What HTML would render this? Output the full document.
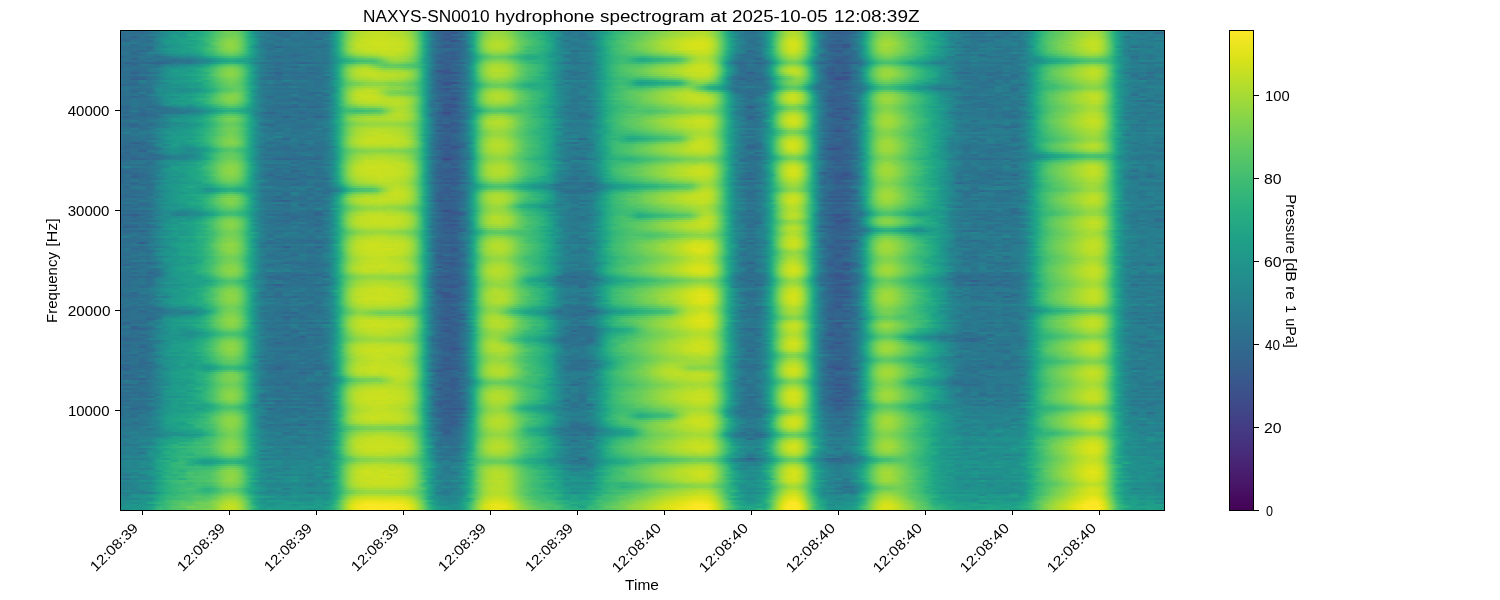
<!DOCTYPE html><html><head><meta charset="utf-8"><style>html,body{margin:0;padding:0;background:#fff;width:1500px;height:600px;overflow:hidden;position:relative}svg,canvas{display:block;position:absolute;left:0;top:0}#sp{left:120px;top:30px}</style></head><body><svg width="1500" height="600"><defs><linearGradient id="r0"><stop offset="0.05%" stop-color="#2d708e"/><stop offset="2.54%" stop-color="#2d718e"/><stop offset="5.03%" stop-color="#1f998a"/><stop offset="7.42%" stop-color="#22a785"/><stop offset="10.68%" stop-color="#75d054"/><stop offset="11.35%" stop-color="#69cd5b"/><stop offset="12.6%" stop-color="#1fa287"/><stop offset="13.55%" stop-color="#277f8e"/><stop offset="15.09%" stop-color="#2d718e"/><stop offset="19.59%" stop-color="#2b748e"/><stop offset="20.74%" stop-color="#1f9f88"/><stop offset="21.12%" stop-color="#2fb47c"/><stop offset="21.7%" stop-color="#69cd5b"/><stop offset="22.65%" stop-color="#aadc32"/><stop offset="25.05%" stop-color="#c5e021"/><stop offset="27.35%" stop-color="#aadc32"/><stop offset="28.4%" stop-color="#67cc5c"/><stop offset="29.07%" stop-color="#26ad81"/><stop offset="29.36%" stop-color="#1e9b8a"/><stop offset="30.22%" stop-color="#2e6f8e"/><stop offset="31.75%" stop-color="#365c8d"/><stop offset="33%" stop-color="#2c738e"/><stop offset="33.86%" stop-color="#20a386"/><stop offset="35.11%" stop-color="#84d44b"/><stop offset="35.87%" stop-color="#9bd93c"/><stop offset="36.83%" stop-color="#95d840"/><stop offset="38.94%" stop-color="#44bf70"/><stop offset="41.04%" stop-color="#20a486"/><stop offset="42.58%" stop-color="#277e8e"/><stop offset="44.11%" stop-color="#2b758e"/><stop offset="44.78%" stop-color="#2a788e"/><stop offset="46.41%" stop-color="#1fa287"/><stop offset="49.19%" stop-color="#56c667"/><stop offset="53.69%" stop-color="#a8db34"/><stop offset="55.6%" stop-color="#bade28"/><stop offset="56.47%" stop-color="#aadc32"/><stop offset="57.14%" stop-color="#81d34d"/><stop offset="58%" stop-color="#32b67a"/><stop offset="58.48%" stop-color="#1f9f88"/><stop offset="59.34%" stop-color="#287d8e"/><stop offset="60.68%" stop-color="#2c728e"/><stop offset="61.64%" stop-color="#25858e"/><stop offset="62.31%" stop-color="#20a486"/><stop offset="62.69%" stop-color="#37b878"/><stop offset="63.75%" stop-color="#a0da39"/><stop offset="64.32%" stop-color="#b8de29"/><stop offset="65.09%" stop-color="#a8db34"/><stop offset="66.14%" stop-color="#37b878"/><stop offset="66.52%" stop-color="#1fa088"/><stop offset="67%" stop-color="#26828e"/><stop offset="68.06%" stop-color="#31678e"/><stop offset="69.59%" stop-color="#32648e"/><stop offset="70.64%" stop-color="#29798e"/><stop offset="71.41%" stop-color="#1fa187"/><stop offset="72.08%" stop-color="#4cc26c"/><stop offset="72.84%" stop-color="#7cd250"/><stop offset="73.61%" stop-color="#89d548"/><stop offset="77.73%" stop-color="#21a685"/><stop offset="81.66%" stop-color="#2c728e"/><stop offset="86.25%" stop-color="#287c8e"/><stop offset="87.6%" stop-color="#1f9f88"/><stop offset="89.13%" stop-color="#52c569"/><stop offset="93.15%" stop-color="#addc30"/><stop offset="94.11%" stop-color="#90d743"/><stop offset="95.07%" stop-color="#38b977"/><stop offset="95.55%" stop-color="#1fa187"/><stop offset="96.89%" stop-color="#287c8e"/><stop offset="99.95%" stop-color="#2a788e"/></linearGradient><linearGradient id="r1"><stop offset="0.05%" stop-color="#2e6d8e"/><stop offset="2.73%" stop-color="#2c718e"/><stop offset="4.45%" stop-color="#1f978b"/><stop offset="7.42%" stop-color="#23a983"/><stop offset="8.57%" stop-color="#3fbc73"/><stop offset="10.01%" stop-color="#81d34d"/><stop offset="10.87%" stop-color="#8bd646"/><stop offset="11.83%" stop-color="#58c765"/><stop offset="12.4%" stop-color="#29af7f"/><stop offset="12.79%" stop-color="#1fa188"/><stop offset="13.55%" stop-color="#277f8e"/><stop offset="14.8%" stop-color="#2c738e"/><stop offset="19.4%" stop-color="#2b758e"/><stop offset="20.64%" stop-color="#1e9d89"/><stop offset="21.12%" stop-color="#34b679"/><stop offset="21.7%" stop-color="#75d054"/><stop offset="22.65%" stop-color="#b8de29"/><stop offset="25.05%" stop-color="#cde11d"/><stop offset="27.44%" stop-color="#b8de29"/><stop offset="28.4%" stop-color="#75d054"/><stop offset="28.98%" stop-color="#32b67a"/><stop offset="29.36%" stop-color="#1e9d89"/><stop offset="30.22%" stop-color="#2c718e"/><stop offset="31.75%" stop-color="#355e8d"/><stop offset="32.9%" stop-color="#2d718e"/><stop offset="33.76%" stop-color="#1f9f88"/><stop offset="34.05%" stop-color="#2eb37c"/><stop offset="34.91%" stop-color="#8bd646"/><stop offset="35.87%" stop-color="#b0dd2f"/><stop offset="36.93%" stop-color="#a8db34"/><stop offset="38.65%" stop-color="#5ac864"/><stop offset="40.95%" stop-color="#25ab82"/><stop offset="43.25%" stop-color="#29798e"/><stop offset="44.78%" stop-color="#287d8e"/><stop offset="46.02%" stop-color="#1e9d89"/><stop offset="47.94%" stop-color="#4ac16d"/><stop offset="52.16%" stop-color="#aadc32"/><stop offset="55.7%" stop-color="#d5e21a"/><stop offset="56.75%" stop-color="#b8de29"/><stop offset="58.09%" stop-color="#35b779"/><stop offset="58.67%" stop-color="#1e9d89"/><stop offset="60.2%" stop-color="#2c738e"/><stop offset="60.97%" stop-color="#2c728e"/><stop offset="61.54%" stop-color="#277e8e"/><stop offset="62.31%" stop-color="#21a685"/><stop offset="63.46%" stop-color="#a0da39"/><stop offset="64.42%" stop-color="#d2e21b"/><stop offset="65.09%" stop-color="#bddf26"/><stop offset="65.47%" stop-color="#9bd93c"/><stop offset="66.24%" stop-color="#35b779"/><stop offset="66.62%" stop-color="#1fa188"/><stop offset="67.1%" stop-color="#287d8e"/><stop offset="67.67%" stop-color="#306a8e"/><stop offset="69.49%" stop-color="#34618d"/><stop offset="70.07%" stop-color="#30698e"/><stop offset="71.31%" stop-color="#1fa287"/><stop offset="72.65%" stop-color="#89d548"/><stop offset="73.61%" stop-color="#a0da39"/><stop offset="77.73%" stop-color="#25ab82"/><stop offset="80.03%" stop-color="#26828e"/><stop offset="81.66%" stop-color="#2a778e"/><stop offset="86.25%" stop-color="#297a8e"/><stop offset="87.5%" stop-color="#1fa088"/><stop offset="89.22%" stop-color="#5ec962"/><stop offset="92.96%" stop-color="#c0df25"/><stop offset="94.01%" stop-color="#aadc32"/><stop offset="95.07%" stop-color="#3fbc73"/><stop offset="95.55%" stop-color="#21a585"/><stop offset="96.89%" stop-color="#287d8e"/><stop offset="99.95%" stop-color="#27808e"/></linearGradient><linearGradient id="r2"><stop offset="0.05%" stop-color="#2e6f8e"/><stop offset="2.63%" stop-color="#2d718e"/><stop offset="4.55%" stop-color="#20938c"/><stop offset="7.42%" stop-color="#22a785"/><stop offset="8.86%" stop-color="#44bf70"/><stop offset="9.91%" stop-color="#75d054"/><stop offset="10.78%" stop-color="#84d44b"/><stop offset="11.73%" stop-color="#58c765"/><stop offset="12.69%" stop-color="#1fa188"/><stop offset="13.55%" stop-color="#26828e"/><stop offset="14.61%" stop-color="#2c728e"/><stop offset="19.59%" stop-color="#2b748e"/><stop offset="20.74%" stop-color="#1fa088"/><stop offset="21.12%" stop-color="#32b67a"/><stop offset="21.7%" stop-color="#70cf57"/><stop offset="22.56%" stop-color="#addc30"/><stop offset="23.52%" stop-color="#c0df25"/><stop offset="25.62%" stop-color="#c8e020"/><stop offset="26.77%" stop-color="#c2df23"/><stop offset="27.73%" stop-color="#aadc32"/><stop offset="28.59%" stop-color="#5ec962"/><stop offset="29.07%" stop-color="#29af7f"/><stop offset="29.36%" stop-color="#1e9c89"/><stop offset="30.22%" stop-color="#2d708e"/><stop offset="31.94%" stop-color="#34618d"/><stop offset="33%" stop-color="#2c718e"/><stop offset="33.86%" stop-color="#1fa187"/><stop offset="34.91%" stop-color="#7fd34e"/><stop offset="35.87%" stop-color="#a2da37"/><stop offset="36.83%" stop-color="#a0da39"/><stop offset="38.84%" stop-color="#48c16e"/><stop offset="40.95%" stop-color="#23a983"/><stop offset="43.44%" stop-color="#2a788e"/><stop offset="44.97%" stop-color="#287d8e"/><stop offset="46.12%" stop-color="#1e9c89"/><stop offset="48.42%" stop-color="#52c569"/><stop offset="54.26%" stop-color="#c5e021"/><stop offset="55.8%" stop-color="#d0e11c"/><stop offset="56.75%" stop-color="#b2dd2d"/><stop offset="58.09%" stop-color="#31b57b"/><stop offset="58.57%" stop-color="#1e9d89"/><stop offset="59.34%" stop-color="#26818e"/><stop offset="60.68%" stop-color="#2d718e"/><stop offset="61.54%" stop-color="#27808e"/><stop offset="62.31%" stop-color="#22a884"/><stop offset="62.6%" stop-color="#35b779"/><stop offset="63.55%" stop-color="#a5db36"/><stop offset="64.32%" stop-color="#cde11d"/><stop offset="65.09%" stop-color="#b8de29"/><stop offset="65.85%" stop-color="#65cb5e"/><stop offset="66.33%" stop-color="#27ad81"/><stop offset="66.52%" stop-color="#1fa088"/><stop offset="67%" stop-color="#27808e"/><stop offset="67.86%" stop-color="#30698e"/><stop offset="69.2%" stop-color="#355f8d"/><stop offset="70.64%" stop-color="#297b8e"/><stop offset="71.41%" stop-color="#20a486"/><stop offset="72.75%" stop-color="#8bd646"/><stop offset="73.32%" stop-color="#9bd93c"/><stop offset="73.8%" stop-color="#98d83e"/><stop offset="76.2%" stop-color="#48c16e"/><stop offset="77.92%" stop-color="#21a685"/><stop offset="80.03%" stop-color="#27808e"/><stop offset="81.56%" stop-color="#2b758e"/><stop offset="86.25%" stop-color="#297b8e"/><stop offset="87.6%" stop-color="#1fa188"/><stop offset="89.13%" stop-color="#56c667"/><stop offset="93.15%" stop-color="#bade28"/><stop offset="94.11%" stop-color="#a0da39"/><stop offset="95.55%" stop-color="#20a386"/><stop offset="96.89%" stop-color="#287c8e"/><stop offset="99.95%" stop-color="#277e8e"/></linearGradient><linearGradient id="r3"><stop offset="0.05%" stop-color="#2f6c8e"/><stop offset="6.94%" stop-color="#25848e"/><stop offset="8.86%" stop-color="#1fa287"/><stop offset="10.49%" stop-color="#38b977"/><stop offset="12.5%" stop-color="#1e9d89"/><stop offset="14.22%" stop-color="#2b758e"/><stop offset="15.09%" stop-color="#2c718e"/><stop offset="19.59%" stop-color="#2b748e"/><stop offset="20.83%" stop-color="#1e9d89"/><stop offset="22.46%" stop-color="#58c765"/><stop offset="24.28%" stop-color="#70cf57"/><stop offset="25.72%" stop-color="#a2da37"/><stop offset="26.39%" stop-color="#aadc32"/><stop offset="28.02%" stop-color="#7fd34e"/><stop offset="28.98%" stop-color="#2ab07f"/><stop offset="29.26%" stop-color="#1fa088"/><stop offset="30.6%" stop-color="#33638d"/><stop offset="31.85%" stop-color="#355f8d"/><stop offset="33.38%" stop-color="#277e8e"/><stop offset="34.05%" stop-color="#20a386"/><stop offset="35.39%" stop-color="#69cd5b"/><stop offset="36.54%" stop-color="#75d054"/><stop offset="39.32%" stop-color="#28ae80"/><stop offset="40.66%" stop-color="#25ab82"/><stop offset="43.44%" stop-color="#2a778e"/><stop offset="44.97%" stop-color="#277f8e"/><stop offset="46.22%" stop-color="#1f9f88"/><stop offset="47.84%" stop-color="#3dbc74"/><stop offset="50.24%" stop-color="#31b57b"/><stop offset="53.21%" stop-color="#5ac864"/><stop offset="55.12%" stop-color="#addc30"/><stop offset="55.99%" stop-color="#b5de2b"/><stop offset="56.75%" stop-color="#9bd93c"/><stop offset="57.9%" stop-color="#2fb47c"/><stop offset="58.38%" stop-color="#1e9b8a"/><stop offset="59.24%" stop-color="#2a768e"/><stop offset="60.11%" stop-color="#2e6f8e"/><stop offset="61.54%" stop-color="#2a778e"/><stop offset="62.4%" stop-color="#1f9f88"/><stop offset="62.69%" stop-color="#29af7f"/><stop offset="63.36%" stop-color="#65cb5e"/><stop offset="64.32%" stop-color="#98d83e"/><stop offset="64.99%" stop-color="#8ed645"/><stop offset="66.04%" stop-color="#2eb37c"/><stop offset="66.43%" stop-color="#1e9d89"/><stop offset="67.39%" stop-color="#2d718e"/><stop offset="69.49%" stop-color="#34608d"/><stop offset="70.83%" stop-color="#2a788e"/><stop offset="71.6%" stop-color="#1fa187"/><stop offset="72.17%" stop-color="#3dbc74"/><stop offset="73.23%" stop-color="#6ccd5a"/><stop offset="73.99%" stop-color="#67cc5c"/><stop offset="76.29%" stop-color="#2db27d"/><stop offset="77.73%" stop-color="#1f9f88"/><stop offset="80.8%" stop-color="#29798e"/><stop offset="85.58%" stop-color="#2b748e"/><stop offset="88.46%" stop-color="#1fa287"/><stop offset="93.06%" stop-color="#70cf57"/><stop offset="94.11%" stop-color="#60ca60"/><stop offset="95.55%" stop-color="#1fa088"/><stop offset="97.08%" stop-color="#2a768e"/><stop offset="99.95%" stop-color="#27808e"/></linearGradient><linearGradient id="r4"><stop offset="0.05%" stop-color="#2f6c8e"/><stop offset="3.5%" stop-color="#2c728e"/><stop offset="8.09%" stop-color="#1fa188"/><stop offset="10.49%" stop-color="#5ac864"/><stop offset="11.83%" stop-color="#3aba76"/><stop offset="12.6%" stop-color="#1f9f88"/><stop offset="13.55%" stop-color="#287c8e"/><stop offset="14.99%" stop-color="#2e6e8e"/><stop offset="19.59%" stop-color="#2b748e"/><stop offset="20.83%" stop-color="#1fa088"/><stop offset="22.37%" stop-color="#77d153"/><stop offset="23.71%" stop-color="#8ed645"/><stop offset="25.24%" stop-color="#6ccd5a"/><stop offset="26.77%" stop-color="#73d056"/><stop offset="28.21%" stop-color="#56c667"/><stop offset="29.26%" stop-color="#1f9f88"/><stop offset="30.03%" stop-color="#2a768e"/><stop offset="31.08%" stop-color="#355f8d"/><stop offset="32.71%" stop-color="#2f6b8e"/><stop offset="33.76%" stop-color="#1f9e89"/><stop offset="34.05%" stop-color="#2cb17e"/><stop offset="34.53%" stop-color="#5ec962"/><stop offset="35.3%" stop-color="#98d83e"/><stop offset="36.35%" stop-color="#a8db34"/><stop offset="37.21%" stop-color="#98d83e"/><stop offset="38.84%" stop-color="#4cc26c"/><stop offset="41.14%" stop-color="#20a386"/><stop offset="42.39%" stop-color="#25848e"/><stop offset="44.11%" stop-color="#2a788e"/><stop offset="44.97%" stop-color="#287c8e"/><stop offset="46.22%" stop-color="#1f9e89"/><stop offset="48.13%" stop-color="#4ac16d"/><stop offset="49.95%" stop-color="#52c569"/><stop offset="53.21%" stop-color="#8bd646"/><stop offset="55.03%" stop-color="#c0df25"/><stop offset="55.99%" stop-color="#c5e021"/><stop offset="56.75%" stop-color="#aadc32"/><stop offset="57.9%" stop-color="#2cb17e"/><stop offset="58.19%" stop-color="#1f9e89"/><stop offset="59.43%" stop-color="#2f6c8e"/><stop offset="60.11%" stop-color="#2f6b8e"/><stop offset="61.64%" stop-color="#2c728e"/><stop offset="62.5%" stop-color="#1fa088"/><stop offset="63.27%" stop-color="#5ac864"/><stop offset="63.75%" stop-color="#81d34d"/><stop offset="64.32%" stop-color="#98d83e"/><stop offset="64.99%" stop-color="#8ed645"/><stop offset="65.66%" stop-color="#54c568"/><stop offset="66.33%" stop-color="#1f9f88"/><stop offset="67.19%" stop-color="#2c718e"/><stop offset="69.59%" stop-color="#355f8d"/><stop offset="70.93%" stop-color="#297a8e"/><stop offset="71.7%" stop-color="#20a386"/><stop offset="72.27%" stop-color="#42be71"/><stop offset="73.23%" stop-color="#6ccd5a"/><stop offset="73.99%" stop-color="#67cc5c"/><stop offset="75.34%" stop-color="#3dbc74"/><stop offset="77.06%" stop-color="#1fa187"/><stop offset="81.08%" stop-color="#2c738e"/><stop offset="86.06%" stop-color="#29798e"/><stop offset="87.88%" stop-color="#1fa088"/><stop offset="89.13%" stop-color="#3bbb75"/><stop offset="93.25%" stop-color="#95d840"/><stop offset="94.3%" stop-color="#75d054"/><stop offset="95.55%" stop-color="#20a486"/><stop offset="97.17%" stop-color="#287c8e"/><stop offset="99.95%" stop-color="#297a8e"/></linearGradient><linearGradient id="r5"><stop offset="0.05%" stop-color="#2e6e8e"/><stop offset="1.77%" stop-color="#31688e"/><stop offset="5.03%" stop-color="#1f998a"/><stop offset="7.52%" stop-color="#22a785"/><stop offset="8.38%" stop-color="#32b67a"/><stop offset="9.82%" stop-color="#77d153"/><stop offset="10.68%" stop-color="#89d548"/><stop offset="11.45%" stop-color="#70cf57"/><stop offset="12.69%" stop-color="#1fa088"/><stop offset="13.65%" stop-color="#297b8e"/><stop offset="14.99%" stop-color="#2f6b8e"/><stop offset="19.3%" stop-color="#2c728e"/><stop offset="20.74%" stop-color="#1f9e89"/><stop offset="21.02%" stop-color="#29af7f"/><stop offset="21.6%" stop-color="#67cc5c"/><stop offset="22.46%" stop-color="#a8db34"/><stop offset="23.23%" stop-color="#bddf26"/><stop offset="24.19%" stop-color="#c0df25"/><stop offset="27.44%" stop-color="#a2da37"/><stop offset="28.02%" stop-color="#89d548"/><stop offset="28.59%" stop-color="#58c765"/><stop offset="29.07%" stop-color="#27ad81"/><stop offset="29.36%" stop-color="#1e9b8a"/><stop offset="30.41%" stop-color="#32648e"/><stop offset="31.66%" stop-color="#375a8c"/><stop offset="33%" stop-color="#2c728e"/><stop offset="33.86%" stop-color="#20a486"/><stop offset="34.43%" stop-color="#58c765"/><stop offset="35.11%" stop-color="#95d840"/><stop offset="36.35%" stop-color="#b0dd2f"/><stop offset="37.31%" stop-color="#9bd93c"/><stop offset="38.84%" stop-color="#4ec36b"/><stop offset="40.85%" stop-color="#23a983"/><stop offset="43.25%" stop-color="#2b748e"/><stop offset="45.07%" stop-color="#277e8e"/><stop offset="46.12%" stop-color="#1e9c89"/><stop offset="48.42%" stop-color="#4ec36b"/><stop offset="54.65%" stop-color="#bddf26"/><stop offset="55.89%" stop-color="#c5e021"/><stop offset="56.75%" stop-color="#aadc32"/><stop offset="57.9%" stop-color="#2eb37c"/><stop offset="58.29%" stop-color="#1e9b8a"/><stop offset="59.24%" stop-color="#2c728e"/><stop offset="60.87%" stop-color="#30698e"/><stop offset="61.83%" stop-color="#287c8e"/><stop offset="62.5%" stop-color="#1fa187"/><stop offset="63.75%" stop-color="#8bd646"/><stop offset="64.8%" stop-color="#b0dd2f"/><stop offset="65.37%" stop-color="#95d840"/><stop offset="66.24%" stop-color="#2fb47c"/><stop offset="66.52%" stop-color="#1f9f88"/><stop offset="67.19%" stop-color="#2b748e"/><stop offset="67.86%" stop-color="#34608d"/><stop offset="69.49%" stop-color="#375a8c"/><stop offset="70.55%" stop-color="#2c728e"/><stop offset="71.41%" stop-color="#1fa287"/><stop offset="71.98%" stop-color="#4cc26c"/><stop offset="72.75%" stop-color="#86d549"/><stop offset="73.52%" stop-color="#9bd93c"/><stop offset="76.29%" stop-color="#40bd72"/><stop offset="77.73%" stop-color="#22a884"/><stop offset="80.8%" stop-color="#2c718e"/><stop offset="85.97%" stop-color="#2c738e"/><stop offset="87.5%" stop-color="#1e9d89"/><stop offset="89.32%" stop-color="#5ec962"/><stop offset="93.15%" stop-color="#bddf26"/><stop offset="94.01%" stop-color="#a8db34"/><stop offset="95.16%" stop-color="#34b679"/><stop offset="95.55%" stop-color="#1fa187"/><stop offset="96.98%" stop-color="#2a778e"/><stop offset="99.95%" stop-color="#29798e"/></linearGradient><linearGradient id="r6"><stop offset="0.05%" stop-color="#2d708e"/><stop offset="1.87%" stop-color="#31688e"/><stop offset="4.45%" stop-color="#218f8d"/><stop offset="7.42%" stop-color="#1fa287"/><stop offset="8.38%" stop-color="#2db27d"/><stop offset="10.49%" stop-color="#70cf57"/><stop offset="10.97%" stop-color="#70cf57"/><stop offset="12.6%" stop-color="#1fa287"/><stop offset="14.13%" stop-color="#2c728e"/><stop offset="19.3%" stop-color="#2c718e"/><stop offset="20.74%" stop-color="#1f9e89"/><stop offset="21.12%" stop-color="#2ab07f"/><stop offset="21.7%" stop-color="#5ac864"/><stop offset="22.75%" stop-color="#89d548"/><stop offset="25.14%" stop-color="#9dd93b"/><stop offset="27.44%" stop-color="#7fd34e"/><stop offset="28.5%" stop-color="#4ec36b"/><stop offset="29.26%" stop-color="#1f9f88"/><stop offset="30.32%" stop-color="#30698e"/><stop offset="31.37%" stop-color="#39568c"/><stop offset="32.9%" stop-color="#2d718e"/><stop offset="33.96%" stop-color="#1fa187"/><stop offset="35.01%" stop-color="#65cb5e"/><stop offset="35.87%" stop-color="#7fd34e"/><stop offset="36.93%" stop-color="#7ad151"/><stop offset="39.13%" stop-color="#31b57b"/><stop offset="41.33%" stop-color="#1f9e89"/><stop offset="42.48%" stop-color="#26828e"/><stop offset="44.01%" stop-color="#297b8e"/><stop offset="44.97%" stop-color="#277e8e"/><stop offset="46.31%" stop-color="#1fa187"/><stop offset="47.84%" stop-color="#3bbb75"/><stop offset="49.86%" stop-color="#23a983"/><stop offset="51.1%" stop-color="#2ab07f"/><stop offset="53.59%" stop-color="#46c06f"/><stop offset="54.74%" stop-color="#84d44b"/><stop offset="55.6%" stop-color="#8ed645"/><stop offset="56.94%" stop-color="#5cc863"/><stop offset="58%" stop-color="#1f9f88"/><stop offset="59.05%" stop-color="#2c718e"/><stop offset="61.54%" stop-color="#2e6d8e"/><stop offset="62.79%" stop-color="#21a685"/><stop offset="63.75%" stop-color="#5ec962"/><stop offset="64.8%" stop-color="#81d34d"/><stop offset="65.28%" stop-color="#70cf57"/><stop offset="66.33%" stop-color="#1fa287"/><stop offset="67.19%" stop-color="#2c738e"/><stop offset="68.82%" stop-color="#375a8c"/><stop offset="70.64%" stop-color="#2b758e"/><stop offset="71.6%" stop-color="#1fa187"/><stop offset="72.46%" stop-color="#50c46a"/><stop offset="73.23%" stop-color="#6ccd5a"/><stop offset="73.9%" stop-color="#69cd5b"/><stop offset="76.87%" stop-color="#22a884"/><stop offset="81.66%" stop-color="#2b748e"/><stop offset="86.25%" stop-color="#2a788e"/><stop offset="87.5%" stop-color="#1e9b8a"/><stop offset="88.94%" stop-color="#46c06f"/><stop offset="92.39%" stop-color="#95d840"/><stop offset="93.44%" stop-color="#a0da39"/><stop offset="94.01%" stop-color="#8ed645"/><stop offset="95.45%" stop-color="#21a585"/><stop offset="96.89%" stop-color="#26818e"/><stop offset="99.95%" stop-color="#29798e"/></linearGradient><linearGradient id="r7"><stop offset="0.05%" stop-color="#2e6e8e"/><stop offset="2.73%" stop-color="#2d718e"/><stop offset="4.17%" stop-color="#20928c"/><stop offset="7.9%" stop-color="#1fa187"/><stop offset="10.97%" stop-color="#69cd5b"/><stop offset="11.93%" stop-color="#48c16e"/><stop offset="12.69%" stop-color="#1fa188"/><stop offset="14.13%" stop-color="#2b758e"/><stop offset="19.4%" stop-color="#2b748e"/><stop offset="20.74%" stop-color="#1e9c89"/><stop offset="21.02%" stop-color="#27ad81"/><stop offset="22.27%" stop-color="#95d840"/><stop offset="23.04%" stop-color="#b0dd2f"/><stop offset="24.19%" stop-color="#b5de2b"/><stop offset="26.01%" stop-color="#84d44b"/><stop offset="26.87%" stop-color="#81d34d"/><stop offset="28.02%" stop-color="#65cb5e"/><stop offset="29.26%" stop-color="#1f9f88"/><stop offset="30.41%" stop-color="#31688e"/><stop offset="31.94%" stop-color="#34608d"/><stop offset="33.09%" stop-color="#2a778e"/><stop offset="33.86%" stop-color="#1fa188"/><stop offset="35.01%" stop-color="#73d056"/><stop offset="36.06%" stop-color="#90d743"/><stop offset="37.12%" stop-color="#84d44b"/><stop offset="38.94%" stop-color="#3bbb75"/><stop offset="40.95%" stop-color="#22a785"/><stop offset="42.39%" stop-color="#25848e"/><stop offset="43.63%" stop-color="#29798e"/><stop offset="45.07%" stop-color="#26818e"/><stop offset="46.22%" stop-color="#1fa088"/><stop offset="48.13%" stop-color="#48c16e"/><stop offset="50.24%" stop-color="#54c568"/><stop offset="54.17%" stop-color="#9bd93c"/><stop offset="54.74%" stop-color="#98d83e"/><stop offset="56.56%" stop-color="#44bf70"/><stop offset="58%" stop-color="#1e9d89"/><stop offset="59.15%" stop-color="#2c718e"/><stop offset="61.73%" stop-color="#2b748e"/><stop offset="62.79%" stop-color="#22a884"/><stop offset="63.75%" stop-color="#69cd5b"/><stop offset="64.32%" stop-color="#7fd34e"/><stop offset="65.09%" stop-color="#6ece58"/><stop offset="66.14%" stop-color="#1fa187"/><stop offset="66.91%" stop-color="#2a788e"/><stop offset="68.82%" stop-color="#355f8d"/><stop offset="70.93%" stop-color="#2b758e"/><stop offset="71.79%" stop-color="#1fa088"/><stop offset="72.56%" stop-color="#40bd72"/><stop offset="73.42%" stop-color="#58c765"/><stop offset="76.39%" stop-color="#20a386"/><stop offset="80.8%" stop-color="#2b758e"/><stop offset="84.63%" stop-color="#277e8e"/><stop offset="85.97%" stop-color="#2c728e"/><stop offset="87.6%" stop-color="#1f9f88"/><stop offset="88.55%" stop-color="#3aba76"/><stop offset="93.06%" stop-color="#9dd93b"/><stop offset="93.92%" stop-color="#90d743"/><stop offset="95.16%" stop-color="#2fb47c"/><stop offset="95.55%" stop-color="#1fa187"/><stop offset="96.98%" stop-color="#287c8e"/><stop offset="99.95%" stop-color="#277f8e"/></linearGradient><linearGradient id="r8"><stop offset="0.05%" stop-color="#2e6d8e"/><stop offset="2.63%" stop-color="#2d708e"/><stop offset="4.45%" stop-color="#20928c"/><stop offset="7.23%" stop-color="#20a486"/><stop offset="8.29%" stop-color="#2fb47c"/><stop offset="9.91%" stop-color="#75d054"/><stop offset="10.87%" stop-color="#84d44b"/><stop offset="11.93%" stop-color="#50c46a"/><stop offset="12.69%" stop-color="#1f9f88"/><stop offset="13.36%" stop-color="#26828e"/><stop offset="14.32%" stop-color="#2c738e"/><stop offset="17.96%" stop-color="#2d708e"/><stop offset="19.68%" stop-color="#2c728e"/><stop offset="20.74%" stop-color="#1fa188"/><stop offset="21.12%" stop-color="#34b679"/><stop offset="21.6%" stop-color="#69cd5b"/><stop offset="22.37%" stop-color="#aadc32"/><stop offset="22.94%" stop-color="#c0df25"/><stop offset="23.99%" stop-color="#c8e020"/><stop offset="27.54%" stop-color="#95d840"/><stop offset="28.5%" stop-color="#5ec962"/><stop offset="29.07%" stop-color="#28ae80"/><stop offset="29.36%" stop-color="#1e9c89"/><stop offset="30.22%" stop-color="#2e6e8e"/><stop offset="31.94%" stop-color="#375a8c"/><stop offset="33.09%" stop-color="#2b758e"/><stop offset="33.76%" stop-color="#1fa088"/><stop offset="34.15%" stop-color="#37b878"/><stop offset="35.01%" stop-color="#90d743"/><stop offset="36.06%" stop-color="#b0dd2f"/><stop offset="37.31%" stop-color="#9dd93b"/><stop offset="38.65%" stop-color="#58c765"/><stop offset="41.14%" stop-color="#20a486"/><stop offset="43.53%" stop-color="#2a778e"/><stop offset="44.78%" stop-color="#297a8e"/><stop offset="46.22%" stop-color="#1f9e89"/><stop offset="47.08%" stop-color="#34b679"/><stop offset="48.8%" stop-color="#58c765"/><stop offset="52.44%" stop-color="#a0da39"/><stop offset="55.51%" stop-color="#c0df25"/><stop offset="56.85%" stop-color="#9dd93b"/><stop offset="57.9%" stop-color="#3bbb75"/><stop offset="58.38%" stop-color="#20a386"/><stop offset="59.24%" stop-color="#277f8e"/><stop offset="60.39%" stop-color="#2e6f8e"/><stop offset="61.73%" stop-color="#25838e"/><stop offset="62.21%" stop-color="#1e9c89"/><stop offset="62.6%" stop-color="#2fb47c"/><stop offset="63.75%" stop-color="#b0dd2f"/><stop offset="64.61%" stop-color="#c8e020"/><stop offset="65.18%" stop-color="#addc30"/><stop offset="66.14%" stop-color="#38b977"/><stop offset="66.52%" stop-color="#1fa088"/><stop offset="67.1%" stop-color="#297b8e"/><stop offset="67.96%" stop-color="#34608d"/><stop offset="69.68%" stop-color="#34618d"/><stop offset="70.64%" stop-color="#2b758e"/><stop offset="71.41%" stop-color="#20a386"/><stop offset="71.7%" stop-color="#2db27d"/><stop offset="72.65%" stop-color="#84d44b"/><stop offset="73.23%" stop-color="#98d83e"/><stop offset="73.99%" stop-color="#93d741"/><stop offset="76.2%" stop-color="#42be71"/><stop offset="78.02%" stop-color="#20a386"/><stop offset="81.08%" stop-color="#2b748e"/><stop offset="86.25%" stop-color="#29798e"/><stop offset="87.5%" stop-color="#1fa188"/><stop offset="89.13%" stop-color="#5ac864"/><stop offset="93.15%" stop-color="#c0df25"/><stop offset="94.01%" stop-color="#aadc32"/><stop offset="95.16%" stop-color="#35b779"/><stop offset="95.55%" stop-color="#20a486"/><stop offset="96.98%" stop-color="#29798e"/><stop offset="99.95%" stop-color="#2a788e"/></linearGradient><linearGradient id="r9"><stop offset="0.05%" stop-color="#2e6f8e"/><stop offset="3.5%" stop-color="#2c728e"/><stop offset="7.9%" stop-color="#1fa088"/><stop offset="10.58%" stop-color="#56c667"/><stop offset="11.73%" stop-color="#3bbb75"/><stop offset="12.5%" stop-color="#1fa088"/><stop offset="13.84%" stop-color="#2a788e"/><stop offset="14.99%" stop-color="#2d718e"/><stop offset="19.3%" stop-color="#2d718e"/><stop offset="20.74%" stop-color="#1e9d89"/><stop offset="21.6%" stop-color="#50c46a"/><stop offset="22.84%" stop-color="#7fd34e"/><stop offset="24.86%" stop-color="#90d743"/><stop offset="26.77%" stop-color="#b5de2b"/><stop offset="27.92%" stop-color="#90d743"/><stop offset="28.98%" stop-color="#2eb37c"/><stop offset="29.36%" stop-color="#1e9c89"/><stop offset="30.22%" stop-color="#30698e"/><stop offset="31.75%" stop-color="#38588c"/><stop offset="32.52%" stop-color="#33638d"/><stop offset="33.96%" stop-color="#1fa287"/><stop offset="35.2%" stop-color="#6ece58"/><stop offset="35.97%" stop-color="#7fd34e"/><stop offset="40.95%" stop-color="#20a486"/><stop offset="43.53%" stop-color="#2a768e"/><stop offset="45.07%" stop-color="#277f8e"/><stop offset="46.31%" stop-color="#1fa188"/><stop offset="48.42%" stop-color="#46c06f"/><stop offset="55.41%" stop-color="#a2da37"/><stop offset="56.56%" stop-color="#98d83e"/><stop offset="58.09%" stop-color="#2ab07f"/><stop offset="58.48%" stop-color="#1fa088"/><stop offset="59.34%" stop-color="#277e8e"/><stop offset="60.78%" stop-color="#2f6c8e"/><stop offset="61.83%" stop-color="#25858e"/><stop offset="62.5%" stop-color="#21a685"/><stop offset="64.03%" stop-color="#86d549"/><stop offset="64.7%" stop-color="#8ed645"/><stop offset="65.57%" stop-color="#5cc863"/><stop offset="66.43%" stop-color="#20a386"/><stop offset="67.29%" stop-color="#2a788e"/><stop offset="68.63%" stop-color="#355e8d"/><stop offset="70.35%" stop-color="#2e6e8e"/><stop offset="71.41%" stop-color="#1fa287"/><stop offset="72.27%" stop-color="#5cc863"/><stop offset="73.13%" stop-color="#89d548"/><stop offset="73.8%" stop-color="#89d548"/><stop offset="75.81%" stop-color="#48c16e"/><stop offset="77.73%" stop-color="#22a785"/><stop offset="81.66%" stop-color="#2b748e"/><stop offset="86.06%" stop-color="#2a788e"/><stop offset="87.5%" stop-color="#1e9d89"/><stop offset="88.94%" stop-color="#4ec36b"/><stop offset="93.15%" stop-color="#addc30"/><stop offset="94.01%" stop-color="#98d83e"/><stop offset="94.97%" stop-color="#40bd72"/><stop offset="95.55%" stop-color="#20a386"/><stop offset="96.89%" stop-color="#277e8e"/><stop offset="99.95%" stop-color="#287c8e"/></linearGradient><linearGradient id="r10"><stop offset="0.05%" stop-color="#2e6f8e"/><stop offset="3.3%" stop-color="#2e6e8e"/><stop offset="8.38%" stop-color="#1fa088"/><stop offset="10.49%" stop-color="#48c16e"/><stop offset="12.5%" stop-color="#1fa188"/><stop offset="13.36%" stop-color="#277e8e"/><stop offset="14.51%" stop-color="#2e6e8e"/><stop offset="19.3%" stop-color="#2e6f8e"/><stop offset="20.16%" stop-color="#27808e"/><stop offset="20.74%" stop-color="#1e9d89"/><stop offset="21.98%" stop-color="#5ac864"/><stop offset="24.76%" stop-color="#75d054"/><stop offset="26.01%" stop-color="#a8db34"/><stop offset="26.96%" stop-color="#b5de2b"/><stop offset="28.02%" stop-color="#8ed645"/><stop offset="28.98%" stop-color="#2db27d"/><stop offset="29.26%" stop-color="#1fa088"/><stop offset="30.22%" stop-color="#2f6b8e"/><stop offset="31.75%" stop-color="#39568c"/><stop offset="33.09%" stop-color="#2b748e"/><stop offset="33.96%" stop-color="#1f9f88"/><stop offset="35.3%" stop-color="#69cd5b"/><stop offset="36.06%" stop-color="#77d153"/><stop offset="40.85%" stop-color="#21a685"/><stop offset="43.25%" stop-color="#2a778e"/><stop offset="44.78%" stop-color="#2a778e"/><stop offset="46.31%" stop-color="#1fa088"/><stop offset="48.42%" stop-color="#4ac16d"/><stop offset="50.91%" stop-color="#5cc863"/><stop offset="55.51%" stop-color="#9dd93b"/><stop offset="56.75%" stop-color="#89d548"/><stop offset="58.38%" stop-color="#20a386"/><stop offset="59.34%" stop-color="#2a788e"/><stop offset="60.49%" stop-color="#2f6b8e"/><stop offset="61.73%" stop-color="#277f8e"/><stop offset="62.31%" stop-color="#1f9e89"/><stop offset="62.6%" stop-color="#2ab07f"/><stop offset="63.75%" stop-color="#9bd93c"/><stop offset="64.51%" stop-color="#b2dd2d"/><stop offset="65.09%" stop-color="#a0da39"/><stop offset="66.24%" stop-color="#2cb17e"/><stop offset="66.62%" stop-color="#1e9c89"/><stop offset="67.86%" stop-color="#32648e"/><stop offset="69.3%" stop-color="#355e8d"/><stop offset="70.55%" stop-color="#2d718e"/><stop offset="71.41%" stop-color="#1fa188"/><stop offset="72.56%" stop-color="#77d153"/><stop offset="73.42%" stop-color="#95d840"/><stop offset="77.63%" stop-color="#23a983"/><stop offset="80.03%" stop-color="#297b8e"/><stop offset="84.72%" stop-color="#2d708e"/><stop offset="86.16%" stop-color="#2c738e"/><stop offset="87.5%" stop-color="#1e9b8a"/><stop offset="89.32%" stop-color="#5cc863"/><stop offset="92.58%" stop-color="#b0dd2f"/><stop offset="93.44%" stop-color="#b5de2b"/><stop offset="94.01%" stop-color="#a0da39"/><stop offset="95.45%" stop-color="#21a685"/><stop offset="96.79%" stop-color="#287c8e"/><stop offset="99.95%" stop-color="#29798e"/></linearGradient><linearGradient id="r11"><stop offset="0.05%" stop-color="#2c718e"/><stop offset="2.63%" stop-color="#2d718e"/><stop offset="7.61%" stop-color="#1fa187"/><stop offset="8.67%" stop-color="#32b67a"/><stop offset="9.91%" stop-color="#63cb5f"/><stop offset="10.87%" stop-color="#6ece58"/><stop offset="12.6%" stop-color="#20a386"/><stop offset="13.46%" stop-color="#277e8e"/><stop offset="14.13%" stop-color="#2c738e"/><stop offset="19.59%" stop-color="#29798e"/><stop offset="20.64%" stop-color="#1e9d89"/><stop offset="21.12%" stop-color="#2db27d"/><stop offset="21.89%" stop-color="#6ccd5a"/><stop offset="22.56%" stop-color="#8ed645"/><stop offset="23.52%" stop-color="#9dd93b"/><stop offset="26.58%" stop-color="#a2da37"/><stop offset="27.83%" stop-color="#89d548"/><stop offset="28.59%" stop-color="#54c568"/><stop offset="29.26%" stop-color="#20a386"/><stop offset="30.32%" stop-color="#306a8e"/><stop offset="30.99%" stop-color="#365d8d"/><stop offset="32.52%" stop-color="#31668e"/><stop offset="33.67%" stop-color="#1e9b8a"/><stop offset="34.15%" stop-color="#37b878"/><stop offset="35.2%" stop-color="#a0da39"/><stop offset="36.54%" stop-color="#b0dd2f"/><stop offset="37.5%" stop-color="#93d741"/><stop offset="38.84%" stop-color="#52c569"/><stop offset="40.95%" stop-color="#24aa83"/><stop offset="43.44%" stop-color="#297a8e"/><stop offset="44.78%" stop-color="#287d8e"/><stop offset="46.12%" stop-color="#1f9e89"/><stop offset="47.94%" stop-color="#4ac16d"/><stop offset="52.06%" stop-color="#9bd93c"/><stop offset="54.55%" stop-color="#c0df25"/><stop offset="56.08%" stop-color="#c5e021"/><stop offset="56.94%" stop-color="#a2da37"/><stop offset="57.81%" stop-color="#4ac16d"/><stop offset="58.38%" stop-color="#22a785"/><stop offset="59.34%" stop-color="#26818e"/><stop offset="60.3%" stop-color="#2c718e"/><stop offset="61.35%" stop-color="#29798e"/><stop offset="62.21%" stop-color="#1fa088"/><stop offset="62.6%" stop-color="#35b779"/><stop offset="63.65%" stop-color="#b0dd2f"/><stop offset="64.51%" stop-color="#d0e11c"/><stop offset="65.28%" stop-color="#addc30"/><stop offset="66.24%" stop-color="#34b679"/><stop offset="66.62%" stop-color="#1e9c89"/><stop offset="67.48%" stop-color="#2e6e8e"/><stop offset="69.4%" stop-color="#34608d"/><stop offset="70.55%" stop-color="#2b748e"/><stop offset="71.31%" stop-color="#1fa088"/><stop offset="71.6%" stop-color="#2cb17e"/><stop offset="72.65%" stop-color="#8bd646"/><stop offset="73.32%" stop-color="#a2da37"/><stop offset="74.28%" stop-color="#93d741"/><stop offset="76.29%" stop-color="#48c16e"/><stop offset="77.83%" stop-color="#22a884"/><stop offset="80.12%" stop-color="#277f8e"/><stop offset="81.66%" stop-color="#2a778e"/><stop offset="86.06%" stop-color="#2a788e"/><stop offset="87.5%" stop-color="#1fa088"/><stop offset="89.22%" stop-color="#60ca60"/><stop offset="93.06%" stop-color="#c2df23"/><stop offset="93.92%" stop-color="#b5de2b"/><stop offset="94.3%" stop-color="#98d83e"/><stop offset="95.07%" stop-color="#3dbc74"/><stop offset="95.55%" stop-color="#20a486"/><stop offset="96.89%" stop-color="#277e8e"/><stop offset="99.95%" stop-color="#287c8e"/></linearGradient><linearGradient id="r12"><stop offset="0.05%" stop-color="#2d708e"/><stop offset="2.63%" stop-color="#2b748e"/><stop offset="7.23%" stop-color="#1fa188"/><stop offset="8.29%" stop-color="#2cb17e"/><stop offset="9.91%" stop-color="#65cb5e"/><stop offset="10.87%" stop-color="#70cf57"/><stop offset="11.73%" stop-color="#4ec36b"/><stop offset="12.6%" stop-color="#1fa287"/><stop offset="14.32%" stop-color="#2b758e"/><stop offset="19.59%" stop-color="#2a788e"/><stop offset="20.74%" stop-color="#1f9f88"/><stop offset="21.02%" stop-color="#27ad81"/><stop offset="21.6%" stop-color="#58c765"/><stop offset="22.56%" stop-color="#9bd93c"/><stop offset="23.52%" stop-color="#b0dd2f"/><stop offset="25.34%" stop-color="#b5de2b"/><stop offset="27.44%" stop-color="#9dd93b"/><stop offset="28.5%" stop-color="#5cc863"/><stop offset="28.98%" stop-color="#2eb37c"/><stop offset="29.36%" stop-color="#1e9d89"/><stop offset="30.51%" stop-color="#30698e"/><stop offset="31.94%" stop-color="#365d8d"/><stop offset="33.09%" stop-color="#2a788e"/><stop offset="33.86%" stop-color="#21a585"/><stop offset="35.11%" stop-color="#89d548"/><stop offset="35.87%" stop-color="#a0da39"/><stop offset="36.93%" stop-color="#98d83e"/><stop offset="38.55%" stop-color="#54c568"/><stop offset="40.95%" stop-color="#22a785"/><stop offset="43.44%" stop-color="#297b8e"/><stop offset="44.97%" stop-color="#26828e"/><stop offset="46.12%" stop-color="#1f9e89"/><stop offset="47.84%" stop-color="#3fbc73"/><stop offset="55.89%" stop-color="#b5de2b"/><stop offset="56.85%" stop-color="#98d83e"/><stop offset="58.09%" stop-color="#2db27d"/><stop offset="58.57%" stop-color="#1e9d89"/><stop offset="59.72%" stop-color="#287c8e"/><stop offset="60.68%" stop-color="#2b748e"/><stop offset="61.73%" stop-color="#25858e"/><stop offset="62.4%" stop-color="#20a386"/><stop offset="63.75%" stop-color="#7cd250"/><stop offset="64.42%" stop-color="#93d741"/><stop offset="65.18%" stop-color="#7cd250"/><stop offset="66.43%" stop-color="#20a386"/><stop offset="67.29%" stop-color="#2a768e"/><stop offset="68.82%" stop-color="#365c8d"/><stop offset="70.35%" stop-color="#2c728e"/><stop offset="71.41%" stop-color="#20a486"/><stop offset="72.46%" stop-color="#6ece58"/><stop offset="73.13%" stop-color="#8bd646"/><stop offset="73.8%" stop-color="#8bd646"/><stop offset="76.29%" stop-color="#3fbc73"/><stop offset="77.73%" stop-color="#23a983"/><stop offset="80.12%" stop-color="#27808e"/><stop offset="82.42%" stop-color="#2a778e"/><stop offset="85.97%" stop-color="#2a778e"/><stop offset="87.5%" stop-color="#1fa088"/><stop offset="89.13%" stop-color="#52c569"/><stop offset="93.15%" stop-color="#b0dd2f"/><stop offset="93.92%" stop-color="#a0da39"/><stop offset="95.16%" stop-color="#34b679"/><stop offset="95.55%" stop-color="#20a486"/><stop offset="96.98%" stop-color="#277f8e"/><stop offset="99.95%" stop-color="#27808e"/></linearGradient><linearGradient id="r13"><stop offset="0.05%" stop-color="#2d708e"/><stop offset="2.73%" stop-color="#2c738e"/><stop offset="5.03%" stop-color="#1f998a"/><stop offset="7.23%" stop-color="#20a486"/><stop offset="8.38%" stop-color="#35b779"/><stop offset="10.39%" stop-color="#7cd250"/><stop offset="10.87%" stop-color="#7cd250"/><stop offset="11.73%" stop-color="#54c568"/><stop offset="12.6%" stop-color="#1fa187"/><stop offset="13.36%" stop-color="#25838e"/><stop offset="15.76%" stop-color="#2c718e"/><stop offset="19.59%" stop-color="#29798e"/><stop offset="20.74%" stop-color="#1fa088"/><stop offset="21.12%" stop-color="#31b57b"/><stop offset="21.6%" stop-color="#63cb5f"/><stop offset="22.46%" stop-color="#a5db36"/><stop offset="23.52%" stop-color="#c0df25"/><stop offset="25.05%" stop-color="#c5e021"/><stop offset="27.54%" stop-color="#aadc32"/><stop offset="28.5%" stop-color="#60ca60"/><stop offset="28.98%" stop-color="#2cb17e"/><stop offset="29.26%" stop-color="#1f9f88"/><stop offset="30.41%" stop-color="#306a8e"/><stop offset="31.75%" stop-color="#365d8d"/><stop offset="33%" stop-color="#2a788e"/><stop offset="33.86%" stop-color="#20a486"/><stop offset="35.01%" stop-color="#84d44b"/><stop offset="36.06%" stop-color="#a5db36"/><stop offset="37.12%" stop-color="#95d840"/><stop offset="38.84%" stop-color="#4cc26c"/><stop offset="40.95%" stop-color="#21a685"/><stop offset="42.48%" stop-color="#25838e"/><stop offset="44.4%" stop-color="#2a768e"/><stop offset="46.22%" stop-color="#1f9f88"/><stop offset="47.08%" stop-color="#2fb47c"/><stop offset="49.09%" stop-color="#28ae80"/><stop offset="53.4%" stop-color="#5ec962"/><stop offset="54.74%" stop-color="#a0da39"/><stop offset="55.6%" stop-color="#b8de29"/><stop offset="56.47%" stop-color="#b0dd2f"/><stop offset="57.04%" stop-color="#8bd646"/><stop offset="58%" stop-color="#31b57b"/><stop offset="58.48%" stop-color="#1f9e89"/><stop offset="59.72%" stop-color="#2a788e"/><stop offset="60.68%" stop-color="#2c738e"/><stop offset="61.64%" stop-color="#25848e"/><stop offset="62.31%" stop-color="#21a585"/><stop offset="62.6%" stop-color="#2db27d"/><stop offset="63.75%" stop-color="#98d83e"/><stop offset="64.42%" stop-color="#b0dd2f"/><stop offset="64.99%" stop-color="#a2da37"/><stop offset="65.76%" stop-color="#60ca60"/><stop offset="66.33%" stop-color="#25ac82"/><stop offset="66.62%" stop-color="#1f9a8a"/><stop offset="67.96%" stop-color="#31668e"/><stop offset="69.49%" stop-color="#33628d"/><stop offset="70.64%" stop-color="#2a788e"/><stop offset="71.41%" stop-color="#20a486"/><stop offset="72.56%" stop-color="#77d153"/><stop offset="73.61%" stop-color="#93d741"/><stop offset="76.48%" stop-color="#3bbb75"/><stop offset="78.11%" stop-color="#20a486"/><stop offset="80.03%" stop-color="#27808e"/><stop offset="85.49%" stop-color="#2c728e"/><stop offset="86.16%" stop-color="#2b758e"/><stop offset="87.5%" stop-color="#1e9d89"/><stop offset="89.03%" stop-color="#40bd72"/><stop offset="92.96%" stop-color="#9bd93c"/><stop offset="94.01%" stop-color="#89d548"/><stop offset="95.16%" stop-color="#2db27d"/><stop offset="95.55%" stop-color="#1fa287"/><stop offset="96.89%" stop-color="#287d8e"/><stop offset="99.95%" stop-color="#297b8e"/></linearGradient><linearGradient id="r14"><stop offset="0.05%" stop-color="#2f6c8e"/><stop offset="2.63%" stop-color="#2f6b8e"/><stop offset="5.03%" stop-color="#1f988b"/><stop offset="6.47%" stop-color="#20938c"/><stop offset="8.09%" stop-color="#22a785"/><stop offset="10.3%" stop-color="#6ece58"/><stop offset="11.25%" stop-color="#65cb5e"/><stop offset="12.6%" stop-color="#1fa188"/><stop offset="14.13%" stop-color="#2c738e"/><stop offset="19.4%" stop-color="#2c728e"/><stop offset="20.74%" stop-color="#1e9d89"/><stop offset="21.02%" stop-color="#27ad81"/><stop offset="21.5%" stop-color="#54c568"/><stop offset="22.46%" stop-color="#98d83e"/><stop offset="23.61%" stop-color="#b0dd2f"/><stop offset="25.43%" stop-color="#b0dd2f"/><stop offset="27.06%" stop-color="#a8db34"/><stop offset="27.73%" stop-color="#95d840"/><stop offset="28.5%" stop-color="#60ca60"/><stop offset="29.26%" stop-color="#1fa287"/><stop offset="30.03%" stop-color="#2c728e"/><stop offset="30.99%" stop-color="#365c8d"/><stop offset="32.71%" stop-color="#31668e"/><stop offset="33.76%" stop-color="#1e9d89"/><stop offset="34.05%" stop-color="#2cb17e"/><stop offset="35.01%" stop-color="#95d840"/><stop offset="35.78%" stop-color="#b2dd2d"/><stop offset="36.35%" stop-color="#b5de2b"/><stop offset="37.31%" stop-color="#a0da39"/><stop offset="38.94%" stop-color="#50c46a"/><stop offset="40.95%" stop-color="#22a884"/><stop offset="42.48%" stop-color="#277f8e"/><stop offset="43.73%" stop-color="#2b748e"/><stop offset="45.16%" stop-color="#287d8e"/><stop offset="46.12%" stop-color="#1f9e89"/><stop offset="47.84%" stop-color="#44bf70"/><stop offset="48.99%" stop-color="#4ac16d"/><stop offset="53.5%" stop-color="#9bd93c"/><stop offset="54.93%" stop-color="#c2df23"/><stop offset="55.99%" stop-color="#c8e020"/><stop offset="56.75%" stop-color="#b0dd2f"/><stop offset="57.81%" stop-color="#48c16e"/><stop offset="58.38%" stop-color="#21a585"/><stop offset="60.2%" stop-color="#2f6b8e"/><stop offset="61.35%" stop-color="#2c718e"/><stop offset="62.21%" stop-color="#1f9f88"/><stop offset="62.5%" stop-color="#2db27d"/><stop offset="63.65%" stop-color="#b0dd2f"/><stop offset="64.03%" stop-color="#cae11f"/><stop offset="64.7%" stop-color="#d2e21b"/><stop offset="65.09%" stop-color="#bddf26"/><stop offset="65.66%" stop-color="#84d44b"/><stop offset="66.33%" stop-color="#2ab07f"/><stop offset="66.62%" stop-color="#1e9d89"/><stop offset="67.29%" stop-color="#2d718e"/><stop offset="68.53%" stop-color="#375a8c"/><stop offset="70.35%" stop-color="#2f6c8e"/><stop offset="71.31%" stop-color="#1fa088"/><stop offset="71.7%" stop-color="#2fb47c"/><stop offset="72.56%" stop-color="#84d44b"/><stop offset="73.23%" stop-color="#a0da39"/><stop offset="73.99%" stop-color="#9bd93c"/><stop offset="76.01%" stop-color="#4cc26c"/><stop offset="77.92%" stop-color="#21a585"/><stop offset="80.03%" stop-color="#2a778e"/><stop offset="81.18%" stop-color="#2c728e"/><stop offset="86.25%" stop-color="#29798e"/><stop offset="87.6%" stop-color="#1f9e89"/><stop offset="89.13%" stop-color="#4ec36b"/><stop offset="93.15%" stop-color="#b0dd2f"/><stop offset="94.11%" stop-color="#95d840"/><stop offset="95.16%" stop-color="#32b67a"/><stop offset="95.55%" stop-color="#1fa188"/><stop offset="96.89%" stop-color="#287d8e"/><stop offset="99.95%" stop-color="#2a788e"/></linearGradient><linearGradient id="r15"><stop offset="0.05%" stop-color="#2e6d8e"/><stop offset="3.21%" stop-color="#2d718e"/><stop offset="5.03%" stop-color="#238a8d"/><stop offset="7.14%" stop-color="#228b8d"/><stop offset="8.09%" stop-color="#1fa188"/><stop offset="10.58%" stop-color="#63cb5f"/><stop offset="11.16%" stop-color="#5ac864"/><stop offset="12.5%" stop-color="#20a386"/><stop offset="14.13%" stop-color="#2c728e"/><stop offset="19.4%" stop-color="#2c718e"/><stop offset="20.83%" stop-color="#1f9f88"/><stop offset="21.6%" stop-color="#4ec36b"/><stop offset="22.75%" stop-color="#8bd646"/><stop offset="25.43%" stop-color="#9dd93b"/><stop offset="27.63%" stop-color="#81d34d"/><stop offset="28.4%" stop-color="#5ac864"/><stop offset="29.26%" stop-color="#1fa187"/><stop offset="30.12%" stop-color="#2d708e"/><stop offset="31.18%" stop-color="#375b8d"/><stop offset="32.42%" stop-color="#32648e"/><stop offset="33.38%" stop-color="#277e8e"/><stop offset="33.86%" stop-color="#1fa088"/><stop offset="34.53%" stop-color="#5cc863"/><stop offset="35.3%" stop-color="#93d741"/><stop offset="36.45%" stop-color="#a2da37"/><stop offset="37.21%" stop-color="#93d741"/><stop offset="38.65%" stop-color="#52c569"/><stop offset="41.04%" stop-color="#20a486"/><stop offset="43.25%" stop-color="#29798e"/><stop offset="44.78%" stop-color="#287d8e"/><stop offset="46.22%" stop-color="#1e9d89"/><stop offset="47.84%" stop-color="#3dbc74"/><stop offset="54.45%" stop-color="#a2da37"/><stop offset="55.89%" stop-color="#aadc32"/><stop offset="56.66%" stop-color="#98d83e"/><stop offset="58.09%" stop-color="#2db27d"/><stop offset="58.57%" stop-color="#1e9d89"/><stop offset="59.34%" stop-color="#287c8e"/><stop offset="60.97%" stop-color="#2c718e"/><stop offset="61.73%" stop-color="#27808e"/><stop offset="62.4%" stop-color="#1fa187"/><stop offset="63.75%" stop-color="#8bd646"/><stop offset="64.42%" stop-color="#a0da39"/><stop offset="65.09%" stop-color="#90d743"/><stop offset="66.14%" stop-color="#31b57b"/><stop offset="66.52%" stop-color="#1fa088"/><stop offset="67.48%" stop-color="#2f6c8e"/><stop offset="69.3%" stop-color="#355f8d"/><stop offset="70.55%" stop-color="#2c738e"/><stop offset="71.41%" stop-color="#20a386"/><stop offset="72.56%" stop-color="#75d054"/><stop offset="73.32%" stop-color="#90d743"/><stop offset="74.47%" stop-color="#7cd250"/><stop offset="76.1%" stop-color="#42be71"/><stop offset="78.11%" stop-color="#1fa188"/><stop offset="80.99%" stop-color="#2b748e"/><stop offset="85.39%" stop-color="#2a778e"/><stop offset="88.84%" stop-color="#21a585"/><stop offset="93.34%" stop-color="#67cc5c"/><stop offset="94.49%" stop-color="#50c46a"/><stop offset="95.55%" stop-color="#1f9e89"/><stop offset="96.98%" stop-color="#287d8e"/><stop offset="99.95%" stop-color="#2a778e"/></linearGradient><linearGradient id="r16"><stop offset="0.05%" stop-color="#2e6d8e"/><stop offset="2.92%" stop-color="#2d718e"/><stop offset="7.61%" stop-color="#20a386"/><stop offset="8.38%" stop-color="#2cb17e"/><stop offset="10.01%" stop-color="#70cf57"/><stop offset="10.78%" stop-color="#7ad151"/><stop offset="11.54%" stop-color="#60ca60"/><stop offset="12.5%" stop-color="#22a785"/><stop offset="14.03%" stop-color="#2b758e"/><stop offset="19.3%" stop-color="#2c718e"/><stop offset="20.35%" stop-color="#24878e"/><stop offset="20.83%" stop-color="#1fa188"/><stop offset="21.6%" stop-color="#60ca60"/><stop offset="22.65%" stop-color="#a8db34"/><stop offset="23.71%" stop-color="#c0df25"/><stop offset="25.05%" stop-color="#c2df23"/><stop offset="27.54%" stop-color="#a5db36"/><stop offset="28.59%" stop-color="#56c667"/><stop offset="28.98%" stop-color="#2eb37c"/><stop offset="29.36%" stop-color="#1e9c89"/><stop offset="30.22%" stop-color="#2d708e"/><stop offset="31.75%" stop-color="#375b8d"/><stop offset="33%" stop-color="#2c738e"/><stop offset="33.86%" stop-color="#1fa188"/><stop offset="34.43%" stop-color="#50c46a"/><stop offset="35.3%" stop-color="#90d743"/><stop offset="36.45%" stop-color="#a0da39"/><stop offset="37.12%" stop-color="#93d741"/><stop offset="39.03%" stop-color="#44bf70"/><stop offset="41.43%" stop-color="#1e9d89"/><stop offset="42.67%" stop-color="#287d8e"/><stop offset="44.49%" stop-color="#29798e"/><stop offset="46.22%" stop-color="#1f9e89"/><stop offset="47.56%" stop-color="#35b779"/><stop offset="49.09%" stop-color="#3bbb75"/><stop offset="55.6%" stop-color="#95d840"/><stop offset="56.85%" stop-color="#81d34d"/><stop offset="58.38%" stop-color="#20a386"/><stop offset="59.15%" stop-color="#26828e"/><stop offset="60.11%" stop-color="#2d718e"/><stop offset="61.35%" stop-color="#2a788e"/><stop offset="62.31%" stop-color="#1fa088"/><stop offset="62.69%" stop-color="#2fb47c"/><stop offset="63.36%" stop-color="#69cd5b"/><stop offset="64.32%" stop-color="#9dd93b"/><stop offset="65.09%" stop-color="#8bd646"/><stop offset="66.14%" stop-color="#2fb47c"/><stop offset="66.52%" stop-color="#1f9f88"/><stop offset="67.86%" stop-color="#30698e"/><stop offset="69.2%" stop-color="#355e8d"/><stop offset="70.64%" stop-color="#29798e"/><stop offset="71.41%" stop-color="#1fa187"/><stop offset="72.56%" stop-color="#73d056"/><stop offset="73.32%" stop-color="#8ed645"/><stop offset="74.19%" stop-color="#81d34d"/><stop offset="76.39%" stop-color="#3bbb75"/><stop offset="78.21%" stop-color="#1fa287"/><stop offset="81.27%" stop-color="#2c738e"/><stop offset="86.06%" stop-color="#2a778e"/><stop offset="87.98%" stop-color="#1fa287"/><stop offset="89.61%" stop-color="#46c06f"/><stop offset="93.06%" stop-color="#90d743"/><stop offset="94.11%" stop-color="#7ad151"/><stop offset="95.45%" stop-color="#20a486"/><stop offset="96.89%" stop-color="#277f8e"/><stop offset="99.95%" stop-color="#277e8e"/></linearGradient><linearGradient id="r17"><stop offset="0.05%" stop-color="#2e6d8e"/><stop offset="2.63%" stop-color="#2c728e"/><stop offset="5.03%" stop-color="#1f9a8a"/><stop offset="7.42%" stop-color="#22a884"/><stop offset="8.86%" stop-color="#4cc26c"/><stop offset="9.91%" stop-color="#81d34d"/><stop offset="10.78%" stop-color="#8ed645"/><stop offset="11.35%" stop-color="#7cd250"/><stop offset="12.4%" stop-color="#28ae80"/><stop offset="12.69%" stop-color="#1fa287"/><stop offset="13.84%" stop-color="#29798e"/><stop offset="16.52%" stop-color="#2e6d8e"/><stop offset="19.49%" stop-color="#2b748e"/><stop offset="20.74%" stop-color="#1f9f88"/><stop offset="21.02%" stop-color="#2ab07f"/><stop offset="21.6%" stop-color="#6ccd5a"/><stop offset="22.08%" stop-color="#9bd93c"/><stop offset="22.75%" stop-color="#bddf26"/><stop offset="25.05%" stop-color="#cae11f"/><stop offset="27.44%" stop-color="#b8de29"/><stop offset="28.4%" stop-color="#77d153"/><stop offset="28.98%" stop-color="#34b679"/><stop offset="29.36%" stop-color="#1f9e89"/><stop offset="30.51%" stop-color="#32648e"/><stop offset="31.85%" stop-color="#365d8d"/><stop offset="33%" stop-color="#2c718e"/><stop offset="33.76%" stop-color="#1fa088"/><stop offset="34.15%" stop-color="#37b878"/><stop offset="35.01%" stop-color="#95d840"/><stop offset="35.58%" stop-color="#addc30"/><stop offset="36.45%" stop-color="#b5de2b"/><stop offset="37.4%" stop-color="#9dd93b"/><stop offset="38.65%" stop-color="#5ac864"/><stop offset="41.14%" stop-color="#21a685"/><stop offset="43.44%" stop-color="#2a768e"/><stop offset="44.78%" stop-color="#297b8e"/><stop offset="46.22%" stop-color="#1f9f88"/><stop offset="48.42%" stop-color="#52c569"/><stop offset="53.21%" stop-color="#aadc32"/><stop offset="56.08%" stop-color="#c5e021"/><stop offset="56.85%" stop-color="#a8db34"/><stop offset="57.81%" stop-color="#4ac16d"/><stop offset="58.38%" stop-color="#22a785"/><stop offset="59.34%" stop-color="#277e8e"/><stop offset="60.3%" stop-color="#2c718e"/><stop offset="61.35%" stop-color="#2a778e"/><stop offset="62.12%" stop-color="#1e9b8a"/><stop offset="62.5%" stop-color="#2cb17e"/><stop offset="63.65%" stop-color="#b2dd2d"/><stop offset="64.51%" stop-color="#d2e21b"/><stop offset="65.28%" stop-color="#b0dd2f"/><stop offset="66.24%" stop-color="#2fb47c"/><stop offset="66.52%" stop-color="#1fa188"/><stop offset="67.19%" stop-color="#2a768e"/><stop offset="67.77%" stop-color="#31668e"/><stop offset="69.4%" stop-color="#355e8d"/><stop offset="70.55%" stop-color="#2b758e"/><stop offset="71.41%" stop-color="#20a386"/><stop offset="72.46%" stop-color="#7fd34e"/><stop offset="73.32%" stop-color="#a2da37"/><stop offset="74.19%" stop-color="#95d840"/><stop offset="76.1%" stop-color="#4cc26c"/><stop offset="78.11%" stop-color="#20a486"/><stop offset="81.08%" stop-color="#2b748e"/><stop offset="86.06%" stop-color="#29798e"/><stop offset="87.6%" stop-color="#1fa188"/><stop offset="89.32%" stop-color="#63cb5f"/><stop offset="93.25%" stop-color="#c2df23"/><stop offset="94.11%" stop-color="#a2da37"/><stop offset="95.16%" stop-color="#32b67a"/><stop offset="95.55%" stop-color="#20a386"/><stop offset="96.98%" stop-color="#287c8e"/><stop offset="99.95%" stop-color="#287d8e"/></linearGradient><linearGradient id="r18"><stop offset="0.05%" stop-color="#31668e"/><stop offset="2.63%" stop-color="#2e6d8e"/><stop offset="4.65%" stop-color="#20938c"/><stop offset="7.52%" stop-color="#22a884"/><stop offset="8.67%" stop-color="#3aba76"/><stop offset="9.91%" stop-color="#73d056"/><stop offset="10.78%" stop-color="#7cd250"/><stop offset="11.54%" stop-color="#63cb5f"/><stop offset="12.5%" stop-color="#21a685"/><stop offset="13.36%" stop-color="#27808e"/><stop offset="14.42%" stop-color="#2d718e"/><stop offset="19.59%" stop-color="#2c728e"/><stop offset="20.74%" stop-color="#1f9e89"/><stop offset="21.12%" stop-color="#2fb47c"/><stop offset="21.7%" stop-color="#6ccd5a"/><stop offset="22.84%" stop-color="#b2dd2d"/><stop offset="25.24%" stop-color="#c5e021"/><stop offset="27.63%" stop-color="#a8db34"/><stop offset="28.5%" stop-color="#63cb5f"/><stop offset="28.98%" stop-color="#2eb37c"/><stop offset="29.26%" stop-color="#1fa188"/><stop offset="30.41%" stop-color="#31688e"/><stop offset="31.94%" stop-color="#365d8d"/><stop offset="33.09%" stop-color="#2a778e"/><stop offset="33.86%" stop-color="#1fa187"/><stop offset="34.53%" stop-color="#56c667"/><stop offset="35.2%" stop-color="#89d548"/><stop offset="36.64%" stop-color="#9bd93c"/><stop offset="38.84%" stop-color="#42be71"/><stop offset="40.57%" stop-color="#24aa83"/><stop offset="43.44%" stop-color="#2c738e"/><stop offset="44.88%" stop-color="#2a778e"/><stop offset="46.41%" stop-color="#1f9f88"/><stop offset="48.23%" stop-color="#40bd72"/><stop offset="54.07%" stop-color="#a5db36"/><stop offset="56.08%" stop-color="#b8de29"/><stop offset="56.75%" stop-color="#a2da37"/><stop offset="58%" stop-color="#32b67a"/><stop offset="58.38%" stop-color="#1fa287"/><stop offset="59.53%" stop-color="#2b758e"/><stop offset="60.39%" stop-color="#2e6d8e"/><stop offset="61.45%" stop-color="#287c8e"/><stop offset="62.21%" stop-color="#1e9d89"/><stop offset="62.6%" stop-color="#2eb37c"/><stop offset="63.75%" stop-color="#aadc32"/><stop offset="64.51%" stop-color="#c5e021"/><stop offset="65.09%" stop-color="#b2dd2d"/><stop offset="66.24%" stop-color="#2fb47c"/><stop offset="66.52%" stop-color="#1fa188"/><stop offset="67.58%" stop-color="#31678e"/><stop offset="69.3%" stop-color="#375a8c"/><stop offset="70.64%" stop-color="#2c728e"/><stop offset="71.41%" stop-color="#1fa188"/><stop offset="72.56%" stop-color="#77d153"/><stop offset="73.61%" stop-color="#95d840"/><stop offset="76.2%" stop-color="#40bd72"/><stop offset="77.73%" stop-color="#21a685"/><stop offset="80.32%" stop-color="#2a768e"/><stop offset="83.19%" stop-color="#2d708e"/><stop offset="86.16%" stop-color="#2b758e"/><stop offset="87.6%" stop-color="#1fa088"/><stop offset="89.13%" stop-color="#56c667"/><stop offset="92.96%" stop-color="#b5de2b"/><stop offset="94.01%" stop-color="#a2da37"/><stop offset="95.07%" stop-color="#3aba76"/><stop offset="95.55%" stop-color="#1fa287"/><stop offset="96.31%" stop-color="#25838e"/><stop offset="97.17%" stop-color="#2a768e"/><stop offset="99.95%" stop-color="#287c8e"/></linearGradient><linearGradient id="r19"><stop offset="0.05%" stop-color="#2e6e8e"/><stop offset="2.73%" stop-color="#2f6c8e"/><stop offset="4.93%" stop-color="#1f978b"/><stop offset="8.57%" stop-color="#1fa287"/><stop offset="10.58%" stop-color="#44bf70"/><stop offset="12.5%" stop-color="#1fa188"/><stop offset="14.13%" stop-color="#2b748e"/><stop offset="19.68%" stop-color="#2c738e"/><stop offset="21.12%" stop-color="#1f9e89"/><stop offset="22.65%" stop-color="#6ccd5a"/><stop offset="24.28%" stop-color="#81d34d"/><stop offset="25.72%" stop-color="#b2dd2d"/><stop offset="26.58%" stop-color="#bade28"/><stop offset="27.73%" stop-color="#9dd93b"/><stop offset="28.98%" stop-color="#2eb37c"/><stop offset="29.36%" stop-color="#1e9c89"/><stop offset="30.32%" stop-color="#2f6b8e"/><stop offset="31.75%" stop-color="#355e8d"/><stop offset="33.38%" stop-color="#277f8e"/><stop offset="34.05%" stop-color="#1f9f88"/><stop offset="34.82%" stop-color="#3bbb75"/><stop offset="35.78%" stop-color="#58c765"/><stop offset="36.73%" stop-color="#58c765"/><stop offset="38.94%" stop-color="#22a884"/><stop offset="42.39%" stop-color="#2c738e"/><stop offset="45.26%" stop-color="#2c718e"/><stop offset="48.42%" stop-color="#22a785"/><stop offset="54.36%" stop-color="#65cb5e"/><stop offset="56.08%" stop-color="#a8db34"/><stop offset="56.85%" stop-color="#93d741"/><stop offset="58.09%" stop-color="#2cb17e"/><stop offset="58.57%" stop-color="#1e9c89"/><stop offset="59.34%" stop-color="#297b8e"/><stop offset="60.68%" stop-color="#2c728e"/><stop offset="61.73%" stop-color="#25858e"/><stop offset="62.4%" stop-color="#20a486"/><stop offset="63.65%" stop-color="#7cd250"/><stop offset="64.42%" stop-color="#9bd93c"/><stop offset="65.18%" stop-color="#84d44b"/><stop offset="66.14%" stop-color="#2eb37c"/><stop offset="66.52%" stop-color="#1f9f88"/><stop offset="67.48%" stop-color="#2e6d8e"/><stop offset="69.49%" stop-color="#34618d"/><stop offset="70.64%" stop-color="#297b8e"/><stop offset="71.41%" stop-color="#20a386"/><stop offset="72.94%" stop-color="#84d44b"/><stop offset="73.61%" stop-color="#8bd646"/><stop offset="76.58%" stop-color="#35b779"/><stop offset="78.21%" stop-color="#20a386"/><stop offset="80.12%" stop-color="#297b8e"/><stop offset="81.66%" stop-color="#2c738e"/><stop offset="86.25%" stop-color="#297b8e"/><stop offset="87.6%" stop-color="#1e9d89"/><stop offset="89.32%" stop-color="#4cc26c"/><stop offset="93.06%" stop-color="#a0da39"/><stop offset="93.82%" stop-color="#95d840"/><stop offset="94.68%" stop-color="#5ac864"/><stop offset="95.55%" stop-color="#1fa287"/><stop offset="96.89%" stop-color="#277f8e"/><stop offset="99.95%" stop-color="#297a8e"/></linearGradient><linearGradient id="r20"><stop offset="0.05%" stop-color="#2e6e8e"/><stop offset="2.54%" stop-color="#2e6e8e"/><stop offset="5.32%" stop-color="#1f9a8a"/><stop offset="8.48%" stop-color="#21a685"/><stop offset="10.58%" stop-color="#54c568"/><stop offset="12.4%" stop-color="#20a386"/><stop offset="14.13%" stop-color="#2c738e"/><stop offset="19.68%" stop-color="#2c718e"/><stop offset="21.12%" stop-color="#1fa088"/><stop offset="21.79%" stop-color="#48c16e"/><stop offset="22.56%" stop-color="#73d056"/><stop offset="24.28%" stop-color="#86d549"/><stop offset="25.81%" stop-color="#bddf26"/><stop offset="26.68%" stop-color="#c5e021"/><stop offset="27.92%" stop-color="#a2da37"/><stop offset="29.07%" stop-color="#29af7f"/><stop offset="29.36%" stop-color="#1e9c89"/><stop offset="30.7%" stop-color="#355f8d"/><stop offset="32.61%" stop-color="#32648e"/><stop offset="33.29%" stop-color="#297b8e"/><stop offset="33.96%" stop-color="#22a884"/><stop offset="35.01%" stop-color="#81d34d"/><stop offset="35.87%" stop-color="#9dd93b"/><stop offset="37.02%" stop-color="#93d741"/><stop offset="38.75%" stop-color="#46c06f"/><stop offset="40.09%" stop-color="#28ae80"/><stop offset="41.33%" stop-color="#1f9a8a"/><stop offset="42.19%" stop-color="#287d8e"/><stop offset="43.25%" stop-color="#2c728e"/><stop offset="44.88%" stop-color="#2a768e"/><stop offset="46.5%" stop-color="#1fa088"/><stop offset="48.52%" stop-color="#44bf70"/><stop offset="55.7%" stop-color="#c2df23"/><stop offset="56.75%" stop-color="#b0dd2f"/><stop offset="58%" stop-color="#35b779"/><stop offset="58.48%" stop-color="#1f9f88"/><stop offset="59.34%" stop-color="#287c8e"/><stop offset="60.68%" stop-color="#2e6d8e"/><stop offset="61.54%" stop-color="#277e8e"/><stop offset="62.31%" stop-color="#1fa187"/><stop offset="63.65%" stop-color="#93d741"/><stop offset="64.32%" stop-color="#b0dd2f"/><stop offset="65.09%" stop-color="#a0da39"/><stop offset="65.85%" stop-color="#58c765"/><stop offset="66.33%" stop-color="#24aa83"/><stop offset="66.52%" stop-color="#1e9d89"/><stop offset="67.48%" stop-color="#2e6f8e"/><stop offset="69.11%" stop-color="#365d8d"/><stop offset="70.55%" stop-color="#2e6f8e"/><stop offset="71.31%" stop-color="#1fa088"/><stop offset="71.7%" stop-color="#2fb47c"/><stop offset="72.56%" stop-color="#84d44b"/><stop offset="73.23%" stop-color="#a0da39"/><stop offset="73.99%" stop-color="#9bd93c"/><stop offset="75.91%" stop-color="#52c569"/><stop offset="77.73%" stop-color="#22a884"/><stop offset="81.08%" stop-color="#2d718e"/><stop offset="86.25%" stop-color="#2a778e"/><stop offset="87.5%" stop-color="#1f9f88"/><stop offset="89.03%" stop-color="#4ec36b"/><stop offset="93.06%" stop-color="#b0dd2f"/><stop offset="93.63%" stop-color="#addc30"/><stop offset="94.11%" stop-color="#98d83e"/><stop offset="95.26%" stop-color="#2db27d"/><stop offset="95.55%" stop-color="#21a685"/><stop offset="96.89%" stop-color="#297a8e"/><stop offset="99.95%" stop-color="#287d8e"/></linearGradient><linearGradient id="r21"><stop offset="0.05%" stop-color="#2e6f8e"/><stop offset="2.63%" stop-color="#2d718e"/><stop offset="4.17%" stop-color="#21908d"/><stop offset="7.33%" stop-color="#21a685"/><stop offset="8.48%" stop-color="#35b779"/><stop offset="10.11%" stop-color="#77d153"/><stop offset="10.87%" stop-color="#7fd34e"/><stop offset="11.93%" stop-color="#4ac16d"/><stop offset="12.69%" stop-color="#1f9f88"/><stop offset="14.13%" stop-color="#2b758e"/><stop offset="17.96%" stop-color="#2e6f8e"/><stop offset="19.78%" stop-color="#29798e"/><stop offset="20.74%" stop-color="#1fa088"/><stop offset="21.02%" stop-color="#28ae80"/><stop offset="21.5%" stop-color="#54c568"/><stop offset="22.56%" stop-color="#a0da39"/><stop offset="23.52%" stop-color="#b5de2b"/><stop offset="25.43%" stop-color="#bade28"/><stop offset="27.63%" stop-color="#a0da39"/><stop offset="28.5%" stop-color="#63cb5f"/><stop offset="28.98%" stop-color="#31b57b"/><stop offset="29.36%" stop-color="#1f9e89"/><stop offset="30.32%" stop-color="#31688e"/><stop offset="30.99%" stop-color="#375b8d"/><stop offset="32.71%" stop-color="#2e6d8e"/><stop offset="33.76%" stop-color="#1fa188"/><stop offset="34.15%" stop-color="#35b779"/><stop offset="34.63%" stop-color="#69cd5b"/><stop offset="35.3%" stop-color="#9bd93c"/><stop offset="36.45%" stop-color="#aadc32"/><stop offset="37.12%" stop-color="#98d83e"/><stop offset="38.36%" stop-color="#4ac16d"/><stop offset="39.22%" stop-color="#2fb47c"/><stop offset="41.04%" stop-color="#1e9c89"/><stop offset="43.34%" stop-color="#29798e"/><stop offset="45.07%" stop-color="#287d8e"/><stop offset="46.12%" stop-color="#1e9d89"/><stop offset="48.8%" stop-color="#56c667"/><stop offset="54.17%" stop-color="#b2dd2d"/><stop offset="55.99%" stop-color="#c0df25"/><stop offset="56.75%" stop-color="#a5db36"/><stop offset="58.38%" stop-color="#21a685"/><stop offset="59.34%" stop-color="#26818e"/><stop offset="60.3%" stop-color="#2c738e"/><stop offset="61.25%" stop-color="#297b8e"/><stop offset="62.12%" stop-color="#1e9b8a"/><stop offset="62.5%" stop-color="#29af7f"/><stop offset="63.75%" stop-color="#b0dd2f"/><stop offset="64.7%" stop-color="#c8e020"/><stop offset="65.18%" stop-color="#addc30"/><stop offset="65.76%" stop-color="#6ece58"/><stop offset="66.24%" stop-color="#31b57b"/><stop offset="66.62%" stop-color="#1e9c89"/><stop offset="67.58%" stop-color="#31688e"/><stop offset="69.01%" stop-color="#34608d"/><stop offset="70.35%" stop-color="#2d708e"/><stop offset="71.41%" stop-color="#1fa287"/><stop offset="72.37%" stop-color="#6ece58"/><stop offset="73.32%" stop-color="#98d83e"/><stop offset="73.9%" stop-color="#93d741"/><stop offset="76.2%" stop-color="#44bf70"/><stop offset="78.11%" stop-color="#20a386"/><stop offset="80.03%" stop-color="#277e8e"/><stop offset="83.96%" stop-color="#2b748e"/><stop offset="86.35%" stop-color="#287c8e"/><stop offset="87.5%" stop-color="#1f9e89"/><stop offset="89.42%" stop-color="#60ca60"/><stop offset="93.06%" stop-color="#bade28"/><stop offset="93.92%" stop-color="#aadc32"/><stop offset="95.07%" stop-color="#3bbb75"/><stop offset="95.55%" stop-color="#20a386"/><stop offset="96.89%" stop-color="#277f8e"/><stop offset="99.95%" stop-color="#297a8e"/></linearGradient><linearGradient id="r22"><stop offset="0.05%" stop-color="#2e6d8e"/><stop offset="2.73%" stop-color="#2c718e"/><stop offset="4.36%" stop-color="#218f8d"/><stop offset="8%" stop-color="#1fa188"/><stop offset="10.58%" stop-color="#56c667"/><stop offset="12.5%" stop-color="#1fa287"/><stop offset="14.32%" stop-color="#2b758e"/><stop offset="19.3%" stop-color="#2c728e"/><stop offset="20.74%" stop-color="#1f9e89"/><stop offset="21.6%" stop-color="#50c46a"/><stop offset="22.56%" stop-color="#89d548"/><stop offset="23.71%" stop-color="#a2da37"/><stop offset="25.24%" stop-color="#a5db36"/><stop offset="27.44%" stop-color="#8bd646"/><stop offset="28.4%" stop-color="#58c765"/><stop offset="29.26%" stop-color="#1f9f88"/><stop offset="30.32%" stop-color="#2f6c8e"/><stop offset="31.27%" stop-color="#375b8d"/><stop offset="32.52%" stop-color="#32648e"/><stop offset="33.86%" stop-color="#20a386"/><stop offset="35.2%" stop-color="#89d548"/><stop offset="36.35%" stop-color="#9bd93c"/><stop offset="37.02%" stop-color="#8bd646"/><stop offset="38.36%" stop-color="#40bd72"/><stop offset="39.42%" stop-color="#2ab07f"/><stop offset="40.95%" stop-color="#1e9c89"/><stop offset="43.44%" stop-color="#2a778e"/><stop offset="44.97%" stop-color="#277f8e"/><stop offset="46.22%" stop-color="#1e9d89"/><stop offset="47.84%" stop-color="#3dbc74"/><stop offset="50.14%" stop-color="#46c06f"/><stop offset="56.27%" stop-color="#aadc32"/><stop offset="57.33%" stop-color="#6ccd5a"/><stop offset="58.38%" stop-color="#20a486"/><stop offset="59.34%" stop-color="#287c8e"/><stop offset="60.3%" stop-color="#2c728e"/><stop offset="61.35%" stop-color="#287d8e"/><stop offset="62.21%" stop-color="#1e9c89"/><stop offset="62.6%" stop-color="#2cb17e"/><stop offset="63.84%" stop-color="#a5db36"/><stop offset="64.7%" stop-color="#b5de2b"/><stop offset="65.18%" stop-color="#9dd93b"/><stop offset="65.76%" stop-color="#63cb5f"/><stop offset="66.24%" stop-color="#2db27d"/><stop offset="66.62%" stop-color="#1f9e89"/><stop offset="67.1%" stop-color="#29798e"/><stop offset="67.77%" stop-color="#30698e"/><stop offset="69.59%" stop-color="#33638d"/><stop offset="70.93%" stop-color="#297b8e"/><stop offset="71.7%" stop-color="#20a386"/><stop offset="73.23%" stop-color="#65cb5e"/><stop offset="76.58%" stop-color="#25ac82"/><stop offset="78.59%" stop-color="#1e9d89"/><stop offset="80.8%" stop-color="#2a778e"/><stop offset="86.06%" stop-color="#2d718e"/><stop offset="87.5%" stop-color="#1f9f88"/><stop offset="89.22%" stop-color="#4ac16d"/><stop offset="93.06%" stop-color="#9dd93b"/><stop offset="93.92%" stop-color="#8ed645"/><stop offset="95.45%" stop-color="#21a585"/><stop offset="97.17%" stop-color="#287d8e"/><stop offset="99.95%" stop-color="#287c8e"/></linearGradient><linearGradient id="r23"><stop offset="0.05%" stop-color="#31678e"/><stop offset="1.87%" stop-color="#31688e"/><stop offset="4.45%" stop-color="#218e8d"/><stop offset="7.9%" stop-color="#1fa187"/><stop offset="8.86%" stop-color="#2fb47c"/><stop offset="10.49%" stop-color="#67cc5c"/><stop offset="11.06%" stop-color="#63cb5f"/><stop offset="12.6%" stop-color="#1fa187"/><stop offset="13.36%" stop-color="#27808e"/><stop offset="14.99%" stop-color="#2e6f8e"/><stop offset="19.3%" stop-color="#2e6d8e"/><stop offset="20.74%" stop-color="#1f9e89"/><stop offset="21.02%" stop-color="#29af7f"/><stop offset="21.6%" stop-color="#67cc5c"/><stop offset="22.56%" stop-color="#b0dd2f"/><stop offset="23.52%" stop-color="#c2df23"/><stop offset="25.05%" stop-color="#c5e021"/><stop offset="27.54%" stop-color="#b0dd2f"/><stop offset="28.5%" stop-color="#67cc5c"/><stop offset="29.07%" stop-color="#28ae80"/><stop offset="29.36%" stop-color="#1f9a8a"/><stop offset="30.22%" stop-color="#2e6e8e"/><stop offset="31.94%" stop-color="#375b8d"/><stop offset="33%" stop-color="#2c718e"/><stop offset="33.76%" stop-color="#1fa088"/><stop offset="34.15%" stop-color="#35b779"/><stop offset="35.11%" stop-color="#95d840"/><stop offset="36.06%" stop-color="#b2dd2d"/><stop offset="37.21%" stop-color="#a0da39"/><stop offset="39.03%" stop-color="#46c06f"/><stop offset="41.04%" stop-color="#20a386"/><stop offset="42.67%" stop-color="#287d8e"/><stop offset="44.11%" stop-color="#2a768e"/><stop offset="45.07%" stop-color="#287c8e"/><stop offset="46.22%" stop-color="#1e9d89"/><stop offset="47.94%" stop-color="#44bf70"/><stop offset="49.86%" stop-color="#34b679"/><stop offset="53.98%" stop-color="#6ece58"/><stop offset="56.18%" stop-color="#bddf26"/><stop offset="56.85%" stop-color="#a5db36"/><stop offset="58%" stop-color="#37b878"/><stop offset="58.57%" stop-color="#1e9c89"/><stop offset="59.43%" stop-color="#297b8e"/><stop offset="60.68%" stop-color="#2d718e"/><stop offset="61.64%" stop-color="#27808e"/><stop offset="62.4%" stop-color="#21a685"/><stop offset="63.75%" stop-color="#95d840"/><stop offset="64.42%" stop-color="#b0dd2f"/><stop offset="65.09%" stop-color="#9dd93b"/><stop offset="66.24%" stop-color="#2ab07f"/><stop offset="66.52%" stop-color="#1e9d89"/><stop offset="67.29%" stop-color="#2d708e"/><stop offset="69.3%" stop-color="#39568c"/><stop offset="70.83%" stop-color="#2b758e"/><stop offset="71.6%" stop-color="#1fa188"/><stop offset="72.37%" stop-color="#4ec36b"/><stop offset="73.32%" stop-color="#75d054"/><stop offset="76.48%" stop-color="#27ad81"/><stop offset="78.69%" stop-color="#1f9a8a"/><stop offset="80.7%" stop-color="#2a768e"/><stop offset="85.87%" stop-color="#2b758e"/><stop offset="87.6%" stop-color="#1fa188"/><stop offset="89.32%" stop-color="#54c568"/><stop offset="92.86%" stop-color="#addc30"/><stop offset="93.92%" stop-color="#a0da39"/><stop offset="94.3%" stop-color="#89d548"/><stop offset="95.26%" stop-color="#2ab07f"/><stop offset="95.55%" stop-color="#20a386"/><stop offset="96.79%" stop-color="#297a8e"/><stop offset="99.95%" stop-color="#2c738e"/></linearGradient><linearGradient id="r24"><stop offset="0.05%" stop-color="#2e6f8e"/><stop offset="2.73%" stop-color="#2c718e"/><stop offset="4.45%" stop-color="#20938c"/><stop offset="7.23%" stop-color="#21a685"/><stop offset="8.19%" stop-color="#31b57b"/><stop offset="10.11%" stop-color="#7fd34e"/><stop offset="10.78%" stop-color="#86d549"/><stop offset="11.93%" stop-color="#4ec36b"/><stop offset="12.69%" stop-color="#1fa088"/><stop offset="14.32%" stop-color="#2b758e"/><stop offset="18.82%" stop-color="#2d708e"/><stop offset="19.97%" stop-color="#287d8e"/><stop offset="20.74%" stop-color="#1f9f88"/><stop offset="21.12%" stop-color="#2fb47c"/><stop offset="21.6%" stop-color="#60ca60"/><stop offset="22.65%" stop-color="#aadc32"/><stop offset="25.72%" stop-color="#bddf26"/><stop offset="27.54%" stop-color="#a5db36"/><stop offset="28.02%" stop-color="#8ed645"/><stop offset="28.59%" stop-color="#5ac864"/><stop offset="29.07%" stop-color="#29af7f"/><stop offset="29.36%" stop-color="#1f9e89"/><stop offset="30.22%" stop-color="#2e6e8e"/><stop offset="31.94%" stop-color="#365c8d"/><stop offset="33.09%" stop-color="#2b748e"/><stop offset="33.86%" stop-color="#1fa188"/><stop offset="35.01%" stop-color="#7fd34e"/><stop offset="36.06%" stop-color="#9bd93c"/><stop offset="36.83%" stop-color="#98d83e"/><stop offset="38.94%" stop-color="#4cc26c"/><stop offset="40.95%" stop-color="#23a983"/><stop offset="43.44%" stop-color="#29798e"/><stop offset="44.97%" stop-color="#26818e"/><stop offset="46.12%" stop-color="#1f9e89"/><stop offset="48.42%" stop-color="#4ec36b"/><stop offset="55.89%" stop-color="#c2df23"/><stop offset="56.85%" stop-color="#a2da37"/><stop offset="58.09%" stop-color="#31b57b"/><stop offset="58.57%" stop-color="#1f9e89"/><stop offset="59.34%" stop-color="#277e8e"/><stop offset="60.58%" stop-color="#2d708e"/><stop offset="61.54%" stop-color="#277f8e"/><stop offset="62.4%" stop-color="#22a785"/><stop offset="63.65%" stop-color="#8ed645"/><stop offset="64.42%" stop-color="#addc30"/><stop offset="65.18%" stop-color="#95d840"/><stop offset="66.24%" stop-color="#2ab07f"/><stop offset="66.52%" stop-color="#1e9d89"/><stop offset="67.19%" stop-color="#2c728e"/><stop offset="69.3%" stop-color="#365c8d"/><stop offset="70.83%" stop-color="#2c738e"/><stop offset="71.7%" stop-color="#1f9e89"/><stop offset="72.37%" stop-color="#3bbb75"/><stop offset="73.23%" stop-color="#5cc863"/><stop offset="76.48%" stop-color="#20a486"/><stop offset="77.92%" stop-color="#20a486"/><stop offset="80.22%" stop-color="#287d8e"/><stop offset="81.66%" stop-color="#2b758e"/><stop offset="86.06%" stop-color="#29798e"/><stop offset="87.5%" stop-color="#1fa088"/><stop offset="89.51%" stop-color="#65cb5e"/><stop offset="93.15%" stop-color="#bddf26"/><stop offset="94.01%" stop-color="#aadc32"/><stop offset="95.07%" stop-color="#3fbc73"/><stop offset="95.55%" stop-color="#22a785"/><stop offset="96.98%" stop-color="#287c8e"/><stop offset="99.95%" stop-color="#2a788e"/></linearGradient><linearGradient id="r25"><stop offset="0.05%" stop-color="#2c728e"/><stop offset="2.54%" stop-color="#2e6f8e"/><stop offset="4.07%" stop-color="#21908d"/><stop offset="7.23%" stop-color="#21a585"/><stop offset="8.29%" stop-color="#2fb47c"/><stop offset="9.91%" stop-color="#6ccd5a"/><stop offset="10.68%" stop-color="#77d153"/><stop offset="11.25%" stop-color="#6ccd5a"/><stop offset="12.6%" stop-color="#20a486"/><stop offset="14.32%" stop-color="#2b748e"/><stop offset="19.3%" stop-color="#2b748e"/><stop offset="20.74%" stop-color="#1f9e89"/><stop offset="21.6%" stop-color="#50c46a"/><stop offset="22.65%" stop-color="#8ed645"/><stop offset="25.34%" stop-color="#a8db34"/><stop offset="27.35%" stop-color="#8ed645"/><stop offset="28.4%" stop-color="#5ac864"/><stop offset="29.26%" stop-color="#1f9f88"/><stop offset="30.22%" stop-color="#2d708e"/><stop offset="31.94%" stop-color="#34618d"/><stop offset="33.09%" stop-color="#2a788e"/><stop offset="33.96%" stop-color="#1fa088"/><stop offset="35.2%" stop-color="#60ca60"/><stop offset="36.06%" stop-color="#70cf57"/><stop offset="41.04%" stop-color="#20a486"/><stop offset="43.34%" stop-color="#297a8e"/><stop offset="44.97%" stop-color="#26828e"/><stop offset="46.41%" stop-color="#1fa287"/><stop offset="48.71%" stop-color="#4cc26c"/><stop offset="50.62%" stop-color="#52c569"/><stop offset="54.74%" stop-color="#93d741"/><stop offset="56.08%" stop-color="#98d83e"/><stop offset="57.04%" stop-color="#77d153"/><stop offset="58.38%" stop-color="#21a585"/><stop offset="59.34%" stop-color="#27808e"/><stop offset="60.39%" stop-color="#2b748e"/><stop offset="61.73%" stop-color="#24878e"/><stop offset="62.21%" stop-color="#1f9e89"/><stop offset="62.6%" stop-color="#2fb47c"/><stop offset="63.75%" stop-color="#9dd93b"/><stop offset="64.51%" stop-color="#b8de29"/><stop offset="65.09%" stop-color="#a2da37"/><stop offset="65.76%" stop-color="#63cb5f"/><stop offset="66.33%" stop-color="#25ac82"/><stop offset="66.52%" stop-color="#1f9f88"/><stop offset="67.19%" stop-color="#2a768e"/><stop offset="68.44%" stop-color="#33628d"/><stop offset="70.64%" stop-color="#2c718e"/><stop offset="71.79%" stop-color="#1f9f88"/><stop offset="73.23%" stop-color="#4ec36b"/><stop offset="76.39%" stop-color="#20a386"/><stop offset="78.5%" stop-color="#1f9e89"/><stop offset="80.7%" stop-color="#2a778e"/><stop offset="85.97%" stop-color="#2a788e"/><stop offset="87.5%" stop-color="#1f9e89"/><stop offset="89.32%" stop-color="#58c765"/><stop offset="92.96%" stop-color="#addc30"/><stop offset="94.11%" stop-color="#90d743"/><stop offset="95.07%" stop-color="#37b878"/><stop offset="95.55%" stop-color="#1fa287"/><stop offset="96.89%" stop-color="#27808e"/><stop offset="99.95%" stop-color="#277e8e"/></linearGradient><linearGradient id="r26"><stop offset="0.05%" stop-color="#2c718e"/><stop offset="2.63%" stop-color="#2e6f8e"/><stop offset="4.17%" stop-color="#218e8d"/><stop offset="7.42%" stop-color="#23a983"/><stop offset="8.57%" stop-color="#3bbb75"/><stop offset="9.91%" stop-color="#7cd250"/><stop offset="10.78%" stop-color="#89d548"/><stop offset="11.73%" stop-color="#5cc863"/><stop offset="12.69%" stop-color="#1fa188"/><stop offset="13.84%" stop-color="#2a788e"/><stop offset="17.29%" stop-color="#2d718e"/><stop offset="19.68%" stop-color="#2b748e"/><stop offset="20.74%" stop-color="#1fa188"/><stop offset="21.12%" stop-color="#34b679"/><stop offset="21.6%" stop-color="#67cc5c"/><stop offset="22.65%" stop-color="#b2dd2d"/><stop offset="23.8%" stop-color="#c5e021"/><stop offset="25.43%" stop-color="#c5e021"/><stop offset="27.73%" stop-color="#a8db34"/><stop offset="28.5%" stop-color="#67cc5c"/><stop offset="29.26%" stop-color="#1fa187"/><stop offset="30.51%" stop-color="#31668e"/><stop offset="32.04%" stop-color="#34608d"/><stop offset="33.38%" stop-color="#25848e"/><stop offset="33.86%" stop-color="#20a486"/><stop offset="34.63%" stop-color="#69cd5b"/><stop offset="35.3%" stop-color="#9bd93c"/><stop offset="36.54%" stop-color="#aadc32"/><stop offset="38.94%" stop-color="#4ec36b"/><stop offset="40.95%" stop-color="#22a884"/><stop offset="42.48%" stop-color="#26828e"/><stop offset="44.11%" stop-color="#2a778e"/><stop offset="46.22%" stop-color="#1f9f88"/><stop offset="47.84%" stop-color="#46c06f"/><stop offset="55.51%" stop-color="#c5e021"/><stop offset="56.37%" stop-color="#bddf26"/><stop offset="56.94%" stop-color="#a0da39"/><stop offset="58%" stop-color="#37b878"/><stop offset="58.38%" stop-color="#21a585"/><stop offset="60.01%" stop-color="#2c718e"/><stop offset="61.73%" stop-color="#26818e"/><stop offset="62.21%" stop-color="#1e9b8a"/><stop offset="62.5%" stop-color="#2ab07f"/><stop offset="63.75%" stop-color="#b0dd2f"/><stop offset="64.51%" stop-color="#cae11f"/><stop offset="64.8%" stop-color="#c8e020"/><stop offset="65.37%" stop-color="#a0da39"/><stop offset="66.24%" stop-color="#32b67a"/><stop offset="66.52%" stop-color="#1fa188"/><stop offset="67.19%" stop-color="#2b748e"/><stop offset="67.77%" stop-color="#32658e"/><stop offset="69.59%" stop-color="#33628d"/><stop offset="70.64%" stop-color="#2b748e"/><stop offset="71.41%" stop-color="#1fa187"/><stop offset="72.08%" stop-color="#54c568"/><stop offset="72.75%" stop-color="#86d549"/><stop offset="73.71%" stop-color="#98d83e"/><stop offset="76.1%" stop-color="#48c16e"/><stop offset="78.11%" stop-color="#20a386"/><stop offset="80.7%" stop-color="#2b748e"/><stop offset="86.25%" stop-color="#2a788e"/><stop offset="87.5%" stop-color="#1f9e89"/><stop offset="89.03%" stop-color="#58c765"/><stop offset="92.86%" stop-color="#bddf26"/><stop offset="93.53%" stop-color="#bddf26"/><stop offset="94.01%" stop-color="#aadc32"/><stop offset="95.07%" stop-color="#3fbc73"/><stop offset="95.55%" stop-color="#20a486"/><stop offset="96.89%" stop-color="#277f8e"/><stop offset="99.95%" stop-color="#287c8e"/></linearGradient><linearGradient id="r27"><stop offset="0.05%" stop-color="#2e6e8e"/><stop offset="2.73%" stop-color="#2d718e"/><stop offset="4.17%" stop-color="#218f8d"/><stop offset="7.33%" stop-color="#22a884"/><stop offset="8.38%" stop-color="#37b878"/><stop offset="10.11%" stop-color="#84d44b"/><stop offset="10.78%" stop-color="#8bd646"/><stop offset="11.73%" stop-color="#5ec962"/><stop offset="12.69%" stop-color="#1fa187"/><stop offset="14.03%" stop-color="#2a768e"/><stop offset="18.06%" stop-color="#2e6e8e"/><stop offset="19.49%" stop-color="#2c718e"/><stop offset="20.74%" stop-color="#1fa188"/><stop offset="21.12%" stop-color="#32b67a"/><stop offset="21.6%" stop-color="#69cd5b"/><stop offset="22.17%" stop-color="#a0da39"/><stop offset="22.65%" stop-color="#b8de29"/><stop offset="23.42%" stop-color="#c8e020"/><stop offset="25.34%" stop-color="#cae11f"/><stop offset="26.96%" stop-color="#c2df23"/><stop offset="27.63%" stop-color="#b0dd2f"/><stop offset="28.5%" stop-color="#69cd5b"/><stop offset="28.98%" stop-color="#34b679"/><stop offset="29.36%" stop-color="#1f9f88"/><stop offset="30.32%" stop-color="#2f6b8e"/><stop offset="31.85%" stop-color="#375b8d"/><stop offset="32.52%" stop-color="#32648e"/><stop offset="33.76%" stop-color="#1fa088"/><stop offset="34.34%" stop-color="#50c46a"/><stop offset="35.11%" stop-color="#98d83e"/><stop offset="36.45%" stop-color="#b2dd2d"/><stop offset="37.12%" stop-color="#a5db36"/><stop offset="38.65%" stop-color="#5ac864"/><stop offset="40.95%" stop-color="#23a983"/><stop offset="42.58%" stop-color="#26828e"/><stop offset="44.11%" stop-color="#2a778e"/><stop offset="44.78%" stop-color="#297a8e"/><stop offset="46.12%" stop-color="#1f9e89"/><stop offset="48.71%" stop-color="#56c667"/><stop offset="54.93%" stop-color="#d5e21a"/><stop offset="55.89%" stop-color="#dae319"/><stop offset="56.75%" stop-color="#bade28"/><stop offset="58.09%" stop-color="#34b679"/><stop offset="58.57%" stop-color="#1fa088"/><stop offset="60.11%" stop-color="#2b748e"/><stop offset="61.45%" stop-color="#27808e"/><stop offset="62.31%" stop-color="#1fa187"/><stop offset="62.69%" stop-color="#32b67a"/><stop offset="63.65%" stop-color="#8ed645"/><stop offset="64.61%" stop-color="#aadc32"/><stop offset="65.18%" stop-color="#93d741"/><stop offset="65.66%" stop-color="#69cd5b"/><stop offset="66.33%" stop-color="#25ab82"/><stop offset="66.52%" stop-color="#1f9f88"/><stop offset="67.86%" stop-color="#31668e"/><stop offset="69.49%" stop-color="#365d8d"/><stop offset="70.07%" stop-color="#32658e"/><stop offset="71.41%" stop-color="#21a585"/><stop offset="72.56%" stop-color="#84d44b"/><stop offset="73.13%" stop-color="#9dd93b"/><stop offset="73.99%" stop-color="#98d83e"/><stop offset="76.29%" stop-color="#46c06f"/><stop offset="78.21%" stop-color="#21a585"/><stop offset="80.03%" stop-color="#287c8e"/><stop offset="81.37%" stop-color="#2b748e"/><stop offset="86.25%" stop-color="#287d8e"/><stop offset="87.5%" stop-color="#1f9f88"/><stop offset="89.13%" stop-color="#5cc863"/><stop offset="92.96%" stop-color="#c0df25"/><stop offset="94.01%" stop-color="#aadc32"/><stop offset="95.07%" stop-color="#3fbc73"/><stop offset="95.55%" stop-color="#1fa287"/><stop offset="96.89%" stop-color="#277e8e"/><stop offset="99.95%" stop-color="#277e8e"/></linearGradient><linearGradient id="r28"><stop offset="0.05%" stop-color="#2e6d8e"/><stop offset="2.73%" stop-color="#2b748e"/><stop offset="4.45%" stop-color="#20938c"/><stop offset="7.52%" stop-color="#22a884"/><stop offset="9.91%" stop-color="#6ccd5a"/><stop offset="10.78%" stop-color="#77d153"/><stop offset="11.45%" stop-color="#63cb5f"/><stop offset="12.5%" stop-color="#21a585"/><stop offset="14.51%" stop-color="#2b748e"/><stop offset="19.4%" stop-color="#2a778e"/><stop offset="20.74%" stop-color="#1fa088"/><stop offset="21.12%" stop-color="#2fb47c"/><stop offset="21.6%" stop-color="#5ec962"/><stop offset="22.56%" stop-color="#a5db36"/><stop offset="23.42%" stop-color="#bddf26"/><stop offset="25.05%" stop-color="#c5e021"/><stop offset="27.54%" stop-color="#a2da37"/><stop offset="28.5%" stop-color="#5ec962"/><stop offset="28.98%" stop-color="#2cb17e"/><stop offset="29.26%" stop-color="#1fa088"/><stop offset="30.41%" stop-color="#32648e"/><stop offset="31.94%" stop-color="#355f8d"/><stop offset="33%" stop-color="#2c718e"/><stop offset="33.86%" stop-color="#21a585"/><stop offset="34.53%" stop-color="#56c667"/><stop offset="35.3%" stop-color="#8bd646"/><stop offset="36.45%" stop-color="#9bd93c"/><stop offset="37.21%" stop-color="#8bd646"/><stop offset="38.94%" stop-color="#44bf70"/><stop offset="41.04%" stop-color="#20a486"/><stop offset="42.77%" stop-color="#26828e"/><stop offset="44.11%" stop-color="#287c8e"/><stop offset="45.16%" stop-color="#25838e"/><stop offset="46.12%" stop-color="#1f9e89"/><stop offset="48.32%" stop-color="#46c06f"/><stop offset="51.87%" stop-color="#7cd250"/><stop offset="54.65%" stop-color="#bade28"/><stop offset="55.89%" stop-color="#c5e021"/><stop offset="56.56%" stop-color="#b5de2b"/><stop offset="58.09%" stop-color="#2cb17e"/><stop offset="58.48%" stop-color="#1f9f88"/><stop offset="60.11%" stop-color="#2c718e"/><stop offset="61.45%" stop-color="#277f8e"/><stop offset="62.4%" stop-color="#21a685"/><stop offset="63.75%" stop-color="#93d741"/><stop offset="64.32%" stop-color="#a8db34"/><stop offset="65.09%" stop-color="#95d840"/><stop offset="65.76%" stop-color="#5cc863"/><stop offset="66.52%" stop-color="#1f9f88"/><stop offset="67.86%" stop-color="#31688e"/><stop offset="69.3%" stop-color="#355f8d"/><stop offset="70.55%" stop-color="#297a8e"/><stop offset="71.41%" stop-color="#1fa287"/><stop offset="72.56%" stop-color="#6ece58"/><stop offset="73.32%" stop-color="#89d548"/><stop offset="74.47%" stop-color="#77d153"/><stop offset="76.39%" stop-color="#3aba76"/><stop offset="78.02%" stop-color="#20a486"/><stop offset="81.66%" stop-color="#2c738e"/><stop offset="85.39%" stop-color="#2a778e"/><stop offset="86.45%" stop-color="#26818e"/><stop offset="87.5%" stop-color="#1f9f88"/><stop offset="89.03%" stop-color="#50c46a"/><stop offset="92.96%" stop-color="#addc30"/><stop offset="93.44%" stop-color="#addc30"/><stop offset="94.11%" stop-color="#93d741"/><stop offset="95.07%" stop-color="#38b977"/><stop offset="95.55%" stop-color="#20a486"/><stop offset="96.89%" stop-color="#27808e"/><stop offset="99.95%" stop-color="#297b8e"/></linearGradient><linearGradient id="r29"><stop offset="0.05%" stop-color="#2e6f8e"/><stop offset="2.92%" stop-color="#2c718e"/><stop offset="5.03%" stop-color="#1f978b"/><stop offset="7.23%" stop-color="#22a785"/><stop offset="8.48%" stop-color="#3bbb75"/><stop offset="10.11%" stop-color="#7fd34e"/><stop offset="10.78%" stop-color="#84d44b"/><stop offset="11.45%" stop-color="#70cf57"/><stop offset="12.6%" stop-color="#20a386"/><stop offset="14.03%" stop-color="#2a778e"/><stop offset="18.06%" stop-color="#2e6f8e"/><stop offset="19.68%" stop-color="#2b758e"/><stop offset="20.74%" stop-color="#1fa188"/><stop offset="21.12%" stop-color="#34b679"/><stop offset="21.6%" stop-color="#67cc5c"/><stop offset="22.46%" stop-color="#addc30"/><stop offset="23.61%" stop-color="#c2df23"/><stop offset="25.62%" stop-color="#c5e021"/><stop offset="27.06%" stop-color="#bade28"/><stop offset="27.73%" stop-color="#a5db36"/><stop offset="28.59%" stop-color="#5cc863"/><stop offset="29.07%" stop-color="#29af7f"/><stop offset="29.36%" stop-color="#1f9e89"/><stop offset="30.41%" stop-color="#30698e"/><stop offset="31.66%" stop-color="#365c8d"/><stop offset="33%" stop-color="#2c718e"/><stop offset="33.86%" stop-color="#20a386"/><stop offset="34.43%" stop-color="#58c765"/><stop offset="35.2%" stop-color="#98d83e"/><stop offset="36.54%" stop-color="#addc30"/><stop offset="37.12%" stop-color="#a0da39"/><stop offset="38.65%" stop-color="#54c568"/><stop offset="41.04%" stop-color="#21a585"/><stop offset="43.15%" stop-color="#297a8e"/><stop offset="44.78%" stop-color="#287c8e"/><stop offset="46.22%" stop-color="#1e9c89"/><stop offset="48.42%" stop-color="#4ec36b"/><stop offset="54.65%" stop-color="#cae11f"/><stop offset="55.99%" stop-color="#d2e21b"/><stop offset="56.75%" stop-color="#b5de2b"/><stop offset="58%" stop-color="#37b878"/><stop offset="58.48%" stop-color="#1fa088"/><stop offset="59.53%" stop-color="#2a788e"/><stop offset="60.68%" stop-color="#2e6d8e"/><stop offset="61.73%" stop-color="#26828e"/><stop offset="62.31%" stop-color="#1fa287"/><stop offset="63.46%" stop-color="#98d83e"/><stop offset="64.32%" stop-color="#c8e020"/><stop offset="65.09%" stop-color="#b8de29"/><stop offset="66.24%" stop-color="#32b67a"/><stop offset="66.62%" stop-color="#1e9c89"/><stop offset="67.86%" stop-color="#32658e"/><stop offset="69.59%" stop-color="#38598c"/><stop offset="70.64%" stop-color="#2b748e"/><stop offset="71.41%" stop-color="#1fa187"/><stop offset="72.56%" stop-color="#7cd250"/><stop offset="73.42%" stop-color="#9bd93c"/><stop offset="77.73%" stop-color="#23a983"/><stop offset="80.03%" stop-color="#27808e"/><stop offset="83.19%" stop-color="#2b748e"/><stop offset="86.16%" stop-color="#297a8e"/><stop offset="87.6%" stop-color="#1fa187"/><stop offset="89.13%" stop-color="#5ac864"/><stop offset="93.15%" stop-color="#bddf26"/><stop offset="93.82%" stop-color="#b2dd2d"/><stop offset="95.07%" stop-color="#3bbb75"/><stop offset="95.55%" stop-color="#21a585"/><stop offset="96.31%" stop-color="#25858e"/><stop offset="97.08%" stop-color="#297a8e"/><stop offset="99.95%" stop-color="#277e8e"/></linearGradient><linearGradient id="r30"><stop offset="0.05%" stop-color="#2e6e8e"/><stop offset="3.11%" stop-color="#2f6c8e"/><stop offset="5.12%" stop-color="#1f988b"/><stop offset="7.23%" stop-color="#20a386"/><stop offset="8.29%" stop-color="#2fb47c"/><stop offset="10.11%" stop-color="#7ad151"/><stop offset="10.78%" stop-color="#81d34d"/><stop offset="11.73%" stop-color="#58c765"/><stop offset="12.69%" stop-color="#1f9e89"/><stop offset="14.13%" stop-color="#2b758e"/><stop offset="19.01%" stop-color="#2d708e"/><stop offset="19.97%" stop-color="#29798e"/><stop offset="20.74%" stop-color="#1f9f88"/><stop offset="21.12%" stop-color="#2db27d"/><stop offset="21.5%" stop-color="#50c46a"/><stop offset="22.46%" stop-color="#90d743"/><stop offset="23.52%" stop-color="#a8db34"/><stop offset="24.86%" stop-color="#aadc32"/><stop offset="27.16%" stop-color="#a0da39"/><stop offset="28.21%" stop-color="#75d054"/><stop offset="29.26%" stop-color="#1fa187"/><stop offset="30.32%" stop-color="#306a8e"/><stop offset="30.99%" stop-color="#365d8d"/><stop offset="32.52%" stop-color="#31668e"/><stop offset="33.67%" stop-color="#1f9a8a"/><stop offset="34.05%" stop-color="#2fb47c"/><stop offset="35.11%" stop-color="#9bd93c"/><stop offset="35.68%" stop-color="#b0dd2f"/><stop offset="36.35%" stop-color="#b2dd2d"/><stop offset="37.31%" stop-color="#9dd93b"/><stop offset="39.03%" stop-color="#44bf70"/><stop offset="40.47%" stop-color="#25ab82"/><stop offset="42.67%" stop-color="#2b758e"/><stop offset="43.53%" stop-color="#2d718e"/><stop offset="45.16%" stop-color="#2a778e"/><stop offset="46.31%" stop-color="#1e9d89"/><stop offset="49.09%" stop-color="#50c46a"/><stop offset="54.65%" stop-color="#bddf26"/><stop offset="55.99%" stop-color="#c8e020"/><stop offset="56.85%" stop-color="#a8db34"/><stop offset="57.81%" stop-color="#46c06f"/><stop offset="58.48%" stop-color="#1fa088"/><stop offset="59.34%" stop-color="#2a778e"/><stop offset="60.87%" stop-color="#2e6e8e"/><stop offset="61.73%" stop-color="#277e8e"/><stop offset="62.4%" stop-color="#21a585"/><stop offset="63.46%" stop-color="#95d840"/><stop offset="64.32%" stop-color="#c5e021"/><stop offset="65.09%" stop-color="#b2dd2d"/><stop offset="66.24%" stop-color="#2eb37c"/><stop offset="66.52%" stop-color="#1f9e89"/><stop offset="67%" stop-color="#277f8e"/><stop offset="67.86%" stop-color="#32658e"/><stop offset="69.2%" stop-color="#375b8d"/><stop offset="70.64%" stop-color="#2a768e"/><stop offset="71.5%" stop-color="#21a585"/><stop offset="72.75%" stop-color="#84d44b"/><stop offset="73.42%" stop-color="#95d840"/><stop offset="74.19%" stop-color="#89d548"/><stop offset="76.1%" stop-color="#42be71"/><stop offset="77.73%" stop-color="#21a585"/><stop offset="80.8%" stop-color="#2e6e8e"/><stop offset="86.25%" stop-color="#2a778e"/><stop offset="87.6%" stop-color="#1fa188"/><stop offset="89.32%" stop-color="#63cb5f"/><stop offset="93.25%" stop-color="#c2df23"/><stop offset="94.01%" stop-color="#addc30"/><stop offset="95.16%" stop-color="#35b779"/><stop offset="95.55%" stop-color="#20a386"/><stop offset="96.89%" stop-color="#287d8e"/><stop offset="99.95%" stop-color="#287d8e"/></linearGradient><linearGradient id="r31"><stop offset="0.05%" stop-color="#2e6f8e"/><stop offset="2.73%" stop-color="#2f6c8e"/><stop offset="4.17%" stop-color="#228d8d"/><stop offset="8.09%" stop-color="#20a386"/><stop offset="10.39%" stop-color="#56c667"/><stop offset="11.06%" stop-color="#52c569"/><stop offset="12.5%" stop-color="#1fa188"/><stop offset="13.36%" stop-color="#26828e"/><stop offset="15.18%" stop-color="#2e6e8e"/><stop offset="19.59%" stop-color="#2b748e"/><stop offset="20.83%" stop-color="#1f9e89"/><stop offset="21.7%" stop-color="#5cc863"/><stop offset="22.84%" stop-color="#9bd93c"/><stop offset="24.86%" stop-color="#addc30"/><stop offset="27.54%" stop-color="#90d743"/><stop offset="28.5%" stop-color="#56c667"/><stop offset="29.26%" stop-color="#1fa088"/><stop offset="30.22%" stop-color="#31688e"/><stop offset="32.61%" stop-color="#34618d"/><stop offset="33.29%" stop-color="#29798e"/><stop offset="33.86%" stop-color="#1fa287"/><stop offset="34.53%" stop-color="#56c667"/><stop offset="35.2%" stop-color="#89d548"/><stop offset="36.64%" stop-color="#9bd93c"/><stop offset="37.31%" stop-color="#89d548"/><stop offset="38.84%" stop-color="#32b67a"/><stop offset="40.09%" stop-color="#20a386"/><stop offset="42.39%" stop-color="#2c738e"/><stop offset="44.49%" stop-color="#2e6f8e"/><stop offset="47.84%" stop-color="#25ab82"/><stop offset="55.99%" stop-color="#95d840"/><stop offset="56.94%" stop-color="#77d153"/><stop offset="58.29%" stop-color="#1fa188"/><stop offset="59.53%" stop-color="#2c718e"/><stop offset="60.97%" stop-color="#2e6d8e"/><stop offset="61.64%" stop-color="#2a768e"/><stop offset="62.4%" stop-color="#1e9d89"/><stop offset="63.17%" stop-color="#56c667"/><stop offset="63.84%" stop-color="#8bd646"/><stop offset="64.61%" stop-color="#9dd93b"/><stop offset="64.99%" stop-color="#90d743"/><stop offset="65.57%" stop-color="#60ca60"/><stop offset="66.14%" stop-color="#27ad81"/><stop offset="66.43%" stop-color="#1e9c89"/><stop offset="67.19%" stop-color="#2e6f8e"/><stop offset="69.49%" stop-color="#365c8d"/><stop offset="70.74%" stop-color="#2c718e"/><stop offset="71.6%" stop-color="#20a386"/><stop offset="72.37%" stop-color="#4cc26c"/><stop offset="73.42%" stop-color="#70cf57"/><stop offset="76.87%" stop-color="#23a983"/><stop offset="80.51%" stop-color="#2e6e8e"/><stop offset="85.39%" stop-color="#2e6f8e"/><stop offset="86.54%" stop-color="#297b8e"/><stop offset="87.5%" stop-color="#1e9c89"/><stop offset="89.03%" stop-color="#50c46a"/><stop offset="93.34%" stop-color="#addc30"/><stop offset="94.01%" stop-color="#95d840"/><stop offset="95.35%" stop-color="#22a884"/><stop offset="96.98%" stop-color="#2a788e"/><stop offset="99.95%" stop-color="#2a788e"/></linearGradient><linearGradient id="r32"><stop offset="0.05%" stop-color="#2e6f8e"/><stop offset="2.54%" stop-color="#2b758e"/><stop offset="4.84%" stop-color="#1f978b"/><stop offset="7.42%" stop-color="#22a785"/><stop offset="10.78%" stop-color="#7fd34e"/><stop offset="11.45%" stop-color="#69cd5b"/><stop offset="12.6%" stop-color="#1fa287"/><stop offset="13.55%" stop-color="#277f8e"/><stop offset="14.99%" stop-color="#2d718e"/><stop offset="19.49%" stop-color="#2b758e"/><stop offset="20.64%" stop-color="#1e9d89"/><stop offset="21.12%" stop-color="#32b67a"/><stop offset="21.6%" stop-color="#65cb5e"/><stop offset="22.65%" stop-color="#b2dd2d"/><stop offset="25.24%" stop-color="#c8e020"/><stop offset="27.63%" stop-color="#aadc32"/><stop offset="28.5%" stop-color="#65cb5e"/><stop offset="29.07%" stop-color="#28ae80"/><stop offset="29.36%" stop-color="#1e9c89"/><stop offset="30.32%" stop-color="#31678e"/><stop offset="30.99%" stop-color="#375a8c"/><stop offset="32.61%" stop-color="#31688e"/><stop offset="33.86%" stop-color="#20a386"/><stop offset="34.43%" stop-color="#54c568"/><stop offset="35.11%" stop-color="#90d743"/><stop offset="36.06%" stop-color="#aadc32"/><stop offset="37.21%" stop-color="#98d83e"/><stop offset="38.65%" stop-color="#52c569"/><stop offset="40.85%" stop-color="#22a884"/><stop offset="42.48%" stop-color="#277f8e"/><stop offset="44.11%" stop-color="#2a768e"/><stop offset="46.22%" stop-color="#1f9e89"/><stop offset="48.52%" stop-color="#4cc26c"/><stop offset="54.65%" stop-color="#c0df25"/><stop offset="56.08%" stop-color="#cde11d"/><stop offset="56.85%" stop-color="#aadc32"/><stop offset="57.81%" stop-color="#48c16e"/><stop offset="58.57%" stop-color="#1f9f88"/><stop offset="59.34%" stop-color="#277e8e"/><stop offset="60.58%" stop-color="#2c738e"/><stop offset="61.73%" stop-color="#25858e"/><stop offset="62.31%" stop-color="#20a386"/><stop offset="62.98%" stop-color="#5ec962"/><stop offset="63.75%" stop-color="#aadc32"/><stop offset="64.32%" stop-color="#c2df23"/><stop offset="65.09%" stop-color="#b2dd2d"/><stop offset="66.24%" stop-color="#2eb37c"/><stop offset="66.62%" stop-color="#1e9c89"/><stop offset="67.86%" stop-color="#31668e"/><stop offset="69.3%" stop-color="#365c8d"/><stop offset="70.64%" stop-color="#297a8e"/><stop offset="71.41%" stop-color="#1fa287"/><stop offset="72.65%" stop-color="#7cd250"/><stop offset="73.32%" stop-color="#90d743"/><stop offset="73.99%" stop-color="#8ed645"/><stop offset="76.01%" stop-color="#46c06f"/><stop offset="77.83%" stop-color="#21a685"/><stop offset="80.03%" stop-color="#287c8e"/><stop offset="82.42%" stop-color="#2b748e"/><stop offset="86.25%" stop-color="#29798e"/><stop offset="87.5%" stop-color="#1f9e89"/><stop offset="89.32%" stop-color="#5cc863"/><stop offset="93.25%" stop-color="#bade28"/><stop offset="94.11%" stop-color="#9dd93b"/><stop offset="95.16%" stop-color="#32b67a"/><stop offset="95.55%" stop-color="#21a585"/><stop offset="96.89%" stop-color="#297b8e"/><stop offset="99.95%" stop-color="#297b8e"/></linearGradient><linearGradient id="r33"><stop offset="0.05%" stop-color="#2f6b8e"/><stop offset="2.73%" stop-color="#2c728e"/><stop offset="4.17%" stop-color="#218e8d"/><stop offset="7.33%" stop-color="#22a785"/><stop offset="8%" stop-color="#2cb17e"/><stop offset="10.01%" stop-color="#81d34d"/><stop offset="10.68%" stop-color="#8ed645"/><stop offset="11.35%" stop-color="#7cd250"/><stop offset="12.69%" stop-color="#1f9e89"/><stop offset="13.84%" stop-color="#2a778e"/><stop offset="15.66%" stop-color="#2d718e"/><stop offset="19.4%" stop-color="#2b748e"/><stop offset="20.74%" stop-color="#1f9f88"/><stop offset="21.02%" stop-color="#2ab07f"/><stop offset="21.6%" stop-color="#6ccd5a"/><stop offset="22.08%" stop-color="#9bd93c"/><stop offset="22.56%" stop-color="#b5de2b"/><stop offset="23.52%" stop-color="#c8e020"/><stop offset="25.05%" stop-color="#cae11f"/><stop offset="27.44%" stop-color="#b5de2b"/><stop offset="28.02%" stop-color="#9bd93c"/><stop offset="28.5%" stop-color="#6ccd5a"/><stop offset="28.98%" stop-color="#34b679"/><stop offset="29.36%" stop-color="#1f9e89"/><stop offset="30.41%" stop-color="#306a8e"/><stop offset="31.75%" stop-color="#38598c"/><stop offset="33%" stop-color="#2e6f8e"/><stop offset="33.86%" stop-color="#20a486"/><stop offset="34.53%" stop-color="#65cb5e"/><stop offset="35.3%" stop-color="#a5db36"/><stop offset="36.64%" stop-color="#b2dd2d"/><stop offset="37.12%" stop-color="#a8db34"/><stop offset="38.65%" stop-color="#58c765"/><stop offset="40.95%" stop-color="#21a685"/><stop offset="42.48%" stop-color="#277f8e"/><stop offset="44.11%" stop-color="#2b758e"/><stop offset="44.97%" stop-color="#297a8e"/><stop offset="46.22%" stop-color="#1e9d89"/><stop offset="47.84%" stop-color="#48c16e"/><stop offset="54.65%" stop-color="#d2e21b"/><stop offset="55.89%" stop-color="#e2e418"/><stop offset="56.75%" stop-color="#c8e020"/><stop offset="58%" stop-color="#3dbc74"/><stop offset="58.57%" stop-color="#1f9e89"/><stop offset="59.34%" stop-color="#27808e"/><stop offset="60.68%" stop-color="#2d708e"/><stop offset="61.54%" stop-color="#27808e"/><stop offset="62.31%" stop-color="#22a785"/><stop offset="63.07%" stop-color="#77d153"/><stop offset="63.75%" stop-color="#bade28"/><stop offset="64.51%" stop-color="#d5e21a"/><stop offset="65.28%" stop-color="#b0dd2f"/><stop offset="66.14%" stop-color="#3dbc74"/><stop offset="66.52%" stop-color="#1fa188"/><stop offset="67.29%" stop-color="#2a768e"/><stop offset="68.63%" stop-color="#34608d"/><stop offset="70.35%" stop-color="#2e6f8e"/><stop offset="71.31%" stop-color="#1f9f88"/><stop offset="71.7%" stop-color="#32b67a"/><stop offset="72.65%" stop-color="#8bd646"/><stop offset="73.61%" stop-color="#a2da37"/><stop offset="76.29%" stop-color="#46c06f"/><stop offset="77.83%" stop-color="#22a884"/><stop offset="80.03%" stop-color="#287d8e"/><stop offset="81.66%" stop-color="#2b748e"/><stop offset="86.06%" stop-color="#2c728e"/><stop offset="87.5%" stop-color="#1f9e89"/><stop offset="89.13%" stop-color="#5cc863"/><stop offset="93.15%" stop-color="#c2df23"/><stop offset="93.82%" stop-color="#b8de29"/><stop offset="94.68%" stop-color="#6ccd5a"/><stop offset="95.16%" stop-color="#37b878"/><stop offset="95.55%" stop-color="#20a486"/><stop offset="97.08%" stop-color="#287c8e"/><stop offset="99.95%" stop-color="#297a8e"/></linearGradient><linearGradient id="r34"><stop offset="0.05%" stop-color="#2e6e8e"/><stop offset="2.92%" stop-color="#2c728e"/><stop offset="7.81%" stop-color="#21a585"/><stop offset="8.57%" stop-color="#31b57b"/><stop offset="9.91%" stop-color="#6ccd5a"/><stop offset="10.78%" stop-color="#7ad151"/><stop offset="11.45%" stop-color="#67cc5c"/><stop offset="12.6%" stop-color="#20a386"/><stop offset="14.13%" stop-color="#2a768e"/><stop offset="19.4%" stop-color="#2b748e"/><stop offset="20.74%" stop-color="#1f9e89"/><stop offset="21.02%" stop-color="#27ad81"/><stop offset="21.6%" stop-color="#5cc863"/><stop offset="22.65%" stop-color="#a2da37"/><stop offset="23.42%" stop-color="#b2dd2d"/><stop offset="24.76%" stop-color="#b2dd2d"/><stop offset="27.44%" stop-color="#9bd93c"/><stop offset="28.5%" stop-color="#58c765"/><stop offset="29.07%" stop-color="#26ad81"/><stop offset="29.36%" stop-color="#1e9c89"/><stop offset="30.22%" stop-color="#2e6e8e"/><stop offset="31.85%" stop-color="#355f8d"/><stop offset="32.52%" stop-color="#31688e"/><stop offset="33.76%" stop-color="#1fa088"/><stop offset="34.15%" stop-color="#32b67a"/><stop offset="35.01%" stop-color="#81d34d"/><stop offset="35.68%" stop-color="#9bd93c"/><stop offset="36.64%" stop-color="#93d741"/><stop offset="38.65%" stop-color="#3fbc73"/><stop offset="40.28%" stop-color="#24aa83"/><stop offset="42.58%" stop-color="#297a8e"/><stop offset="44.11%" stop-color="#2c728e"/><stop offset="45.07%" stop-color="#29798e"/><stop offset="46.5%" stop-color="#1f9e89"/><stop offset="48.04%" stop-color="#34b679"/><stop offset="51.68%" stop-color="#69cd5b"/><stop offset="54.65%" stop-color="#c0df25"/><stop offset="56.08%" stop-color="#cde11d"/><stop offset="56.75%" stop-color="#b2dd2d"/><stop offset="58.09%" stop-color="#31b57b"/><stop offset="58.57%" stop-color="#1f9f88"/><stop offset="59.72%" stop-color="#297a8e"/><stop offset="60.97%" stop-color="#2c738e"/><stop offset="62.31%" stop-color="#20a486"/><stop offset="62.79%" stop-color="#42be71"/><stop offset="63.55%" stop-color="#95d840"/><stop offset="64.32%" stop-color="#bade28"/><stop offset="65.09%" stop-color="#a8db34"/><stop offset="66.24%" stop-color="#2fb47c"/><stop offset="66.62%" stop-color="#1e9b8a"/><stop offset="67.86%" stop-color="#31668e"/><stop offset="69.3%" stop-color="#365d8d"/><stop offset="70.64%" stop-color="#297a8e"/><stop offset="71.41%" stop-color="#21a585"/><stop offset="72.56%" stop-color="#70cf57"/><stop offset="73.32%" stop-color="#8bd646"/><stop offset="73.99%" stop-color="#86d549"/><stop offset="76.58%" stop-color="#37b878"/><stop offset="78.4%" stop-color="#1fa188"/><stop offset="80.6%" stop-color="#287d8e"/><stop offset="85.39%" stop-color="#2a778e"/><stop offset="87.02%" stop-color="#23888e"/><stop offset="87.88%" stop-color="#1fa287"/><stop offset="89.32%" stop-color="#42be71"/><stop offset="92.86%" stop-color="#90d743"/><stop offset="94.01%" stop-color="#81d34d"/><stop offset="95.16%" stop-color="#2eb37c"/><stop offset="95.55%" stop-color="#20a486"/><stop offset="97.08%" stop-color="#277f8e"/><stop offset="99.95%" stop-color="#297a8e"/></linearGradient><linearGradient id="r35"><stop offset="0.05%" stop-color="#2e6d8e"/><stop offset="3.5%" stop-color="#2c718e"/><stop offset="8.19%" stop-color="#20a386"/><stop offset="9.82%" stop-color="#6ccd5a"/><stop offset="10.78%" stop-color="#7fd34e"/><stop offset="11.83%" stop-color="#50c46a"/><stop offset="12.69%" stop-color="#1e9d89"/><stop offset="13.84%" stop-color="#2a768e"/><stop offset="15.76%" stop-color="#2f6c8e"/><stop offset="19.3%" stop-color="#2c738e"/><stop offset="20.74%" stop-color="#1e9c89"/><stop offset="21.12%" stop-color="#2ab07f"/><stop offset="21.7%" stop-color="#5ac864"/><stop offset="22.65%" stop-color="#90d743"/><stop offset="23.32%" stop-color="#9bd93c"/><stop offset="24.86%" stop-color="#84d44b"/><stop offset="26.77%" stop-color="#81d34d"/><stop offset="28.21%" stop-color="#5cc863"/><stop offset="29.26%" stop-color="#1fa088"/><stop offset="30.12%" stop-color="#2c728e"/><stop offset="31.08%" stop-color="#355f8d"/><stop offset="32.61%" stop-color="#32648e"/><stop offset="33.29%" stop-color="#287c8e"/><stop offset="33.76%" stop-color="#1fa088"/><stop offset="34.05%" stop-color="#2cb17e"/><stop offset="35.11%" stop-color="#8bd646"/><stop offset="35.87%" stop-color="#9bd93c"/><stop offset="36.54%" stop-color="#8bd646"/><stop offset="38.17%" stop-color="#3dbc74"/><stop offset="39.32%" stop-color="#23a983"/><stop offset="42.48%" stop-color="#2d708e"/><stop offset="45.35%" stop-color="#2c738e"/><stop offset="47.08%" stop-color="#1f9f88"/><stop offset="52.54%" stop-color="#60ca60"/><stop offset="54.45%" stop-color="#bade28"/><stop offset="55.99%" stop-color="#d2e21b"/><stop offset="56.75%" stop-color="#b2dd2d"/><stop offset="57.42%" stop-color="#77d153"/><stop offset="58.09%" stop-color="#2fb47c"/><stop offset="58.57%" stop-color="#1e9c89"/><stop offset="59.53%" stop-color="#2a778e"/><stop offset="60.68%" stop-color="#2d718e"/><stop offset="61.45%" stop-color="#297a8e"/><stop offset="62.4%" stop-color="#20a386"/><stop offset="63.75%" stop-color="#86d549"/><stop offset="64.42%" stop-color="#9dd93b"/><stop offset="65.09%" stop-color="#8bd646"/><stop offset="66.14%" stop-color="#2eb37c"/><stop offset="66.52%" stop-color="#1fa088"/><stop offset="67.86%" stop-color="#31678e"/><stop offset="69.49%" stop-color="#33628d"/><stop offset="70.74%" stop-color="#2a778e"/><stop offset="71.5%" stop-color="#1fa188"/><stop offset="72.27%" stop-color="#48c16e"/><stop offset="73.32%" stop-color="#73d056"/><stop offset="77.92%" stop-color="#20a486"/><stop offset="80.8%" stop-color="#29798e"/><stop offset="86.06%" stop-color="#2a778e"/><stop offset="87.98%" stop-color="#1fa088"/><stop offset="89.03%" stop-color="#34b679"/><stop offset="92.96%" stop-color="#84d44b"/><stop offset="94.01%" stop-color="#77d153"/><stop offset="95.55%" stop-color="#1fa188"/><stop offset="96.89%" stop-color="#29798e"/><stop offset="99.95%" stop-color="#2a768e"/></linearGradient><linearGradient id="r36"><stop offset="0.05%" stop-color="#2f6c8e"/><stop offset="2.63%" stop-color="#2d718e"/><stop offset="5.03%" stop-color="#1f9a8a"/><stop offset="7.33%" stop-color="#21a685"/><stop offset="8.38%" stop-color="#34b679"/><stop offset="9.91%" stop-color="#7fd34e"/><stop offset="10.78%" stop-color="#8ed645"/><stop offset="11.35%" stop-color="#7cd250"/><stop offset="12.69%" stop-color="#1f9f88"/><stop offset="14.03%" stop-color="#2a768e"/><stop offset="16.43%" stop-color="#2d708e"/><stop offset="19.68%" stop-color="#29798e"/><stop offset="20.74%" stop-color="#1fa088"/><stop offset="21.12%" stop-color="#34b679"/><stop offset="21.6%" stop-color="#69cd5b"/><stop offset="22.46%" stop-color="#b0dd2f"/><stop offset="23.42%" stop-color="#c2df23"/><stop offset="24.86%" stop-color="#c5e021"/><stop offset="27.44%" stop-color="#b2dd2d"/><stop offset="28.02%" stop-color="#98d83e"/><stop offset="28.5%" stop-color="#6ccd5a"/><stop offset="29.07%" stop-color="#2ab07f"/><stop offset="29.36%" stop-color="#1f9e89"/><stop offset="30.22%" stop-color="#2e6f8e"/><stop offset="31.75%" stop-color="#365d8d"/><stop offset="33%" stop-color="#2d708e"/><stop offset="33.76%" stop-color="#1fa187"/><stop offset="34.05%" stop-color="#2fb47c"/><stop offset="35.01%" stop-color="#95d840"/><stop offset="35.97%" stop-color="#b5de2b"/><stop offset="37.31%" stop-color="#9dd93b"/><stop offset="38.94%" stop-color="#4ec36b"/><stop offset="41.04%" stop-color="#21a585"/><stop offset="42.48%" stop-color="#277e8e"/><stop offset="44.11%" stop-color="#2b758e"/><stop offset="46.31%" stop-color="#1f9e89"/><stop offset="47.94%" stop-color="#40bd72"/><stop offset="49.95%" stop-color="#69cd5b"/><stop offset="54.74%" stop-color="#d2e21b"/><stop offset="55.89%" stop-color="#dde318"/><stop offset="56.75%" stop-color="#c2df23"/><stop offset="58.09%" stop-color="#37b878"/><stop offset="58.57%" stop-color="#1fa188"/><stop offset="59.34%" stop-color="#277f8e"/><stop offset="60.97%" stop-color="#2a768e"/><stop offset="62.31%" stop-color="#1fa187"/><stop offset="62.98%" stop-color="#52c569"/><stop offset="63.84%" stop-color="#9dd93b"/><stop offset="64.51%" stop-color="#addc30"/><stop offset="65.18%" stop-color="#98d83e"/><stop offset="66.14%" stop-color="#37b878"/><stop offset="66.52%" stop-color="#1fa188"/><stop offset="67.86%" stop-color="#31678e"/><stop offset="69.3%" stop-color="#34618d"/><stop offset="70.55%" stop-color="#2b758e"/><stop offset="71.5%" stop-color="#1fa187"/><stop offset="72.84%" stop-color="#77d153"/><stop offset="73.71%" stop-color="#84d44b"/><stop offset="78.21%" stop-color="#20a386"/><stop offset="80.99%" stop-color="#2a778e"/><stop offset="85.39%" stop-color="#2a768e"/><stop offset="86.45%" stop-color="#277f8e"/><stop offset="87.4%" stop-color="#1e9d89"/><stop offset="89.03%" stop-color="#5ac864"/><stop offset="92.96%" stop-color="#c0df25"/><stop offset="93.53%" stop-color="#bddf26"/><stop offset="94.11%" stop-color="#a5db36"/><stop offset="95.07%" stop-color="#40bd72"/><stop offset="95.55%" stop-color="#21a685"/><stop offset="96.98%" stop-color="#277e8e"/><stop offset="99.95%" stop-color="#297a8e"/></linearGradient><linearGradient id="r37"><stop offset="0.05%" stop-color="#2d718e"/><stop offset="1.87%" stop-color="#306a8e"/><stop offset="5.03%" stop-color="#1f998a"/><stop offset="7.81%" stop-color="#20a386"/><stop offset="10.68%" stop-color="#67cc5c"/><stop offset="11.35%" stop-color="#5ac864"/><stop offset="12.5%" stop-color="#20a386"/><stop offset="13.55%" stop-color="#277f8e"/><stop offset="14.51%" stop-color="#2c718e"/><stop offset="19.3%" stop-color="#2c728e"/><stop offset="20.74%" stop-color="#1e9c89"/><stop offset="21.02%" stop-color="#26ad81"/><stop offset="21.6%" stop-color="#60ca60"/><stop offset="22.17%" stop-color="#93d741"/><stop offset="22.65%" stop-color="#aadc32"/><stop offset="23.61%" stop-color="#c0df25"/><stop offset="25.34%" stop-color="#c2df23"/><stop offset="27.54%" stop-color="#a5db36"/><stop offset="28.5%" stop-color="#63cb5f"/><stop offset="28.98%" stop-color="#31b57b"/><stop offset="29.36%" stop-color="#1f9f88"/><stop offset="30.32%" stop-color="#2e6e8e"/><stop offset="31.94%" stop-color="#365d8d"/><stop offset="33.38%" stop-color="#26818e"/><stop offset="33.86%" stop-color="#1fa187"/><stop offset="34.53%" stop-color="#5cc863"/><stop offset="35.3%" stop-color="#93d741"/><stop offset="36.35%" stop-color="#a2da37"/><stop offset="37.12%" stop-color="#93d741"/><stop offset="38.84%" stop-color="#48c16e"/><stop offset="41.04%" stop-color="#20a486"/><stop offset="42.48%" stop-color="#297b8e"/><stop offset="44.11%" stop-color="#2e6e8e"/><stop offset="45.45%" stop-color="#2b748e"/><stop offset="46.89%" stop-color="#1f9e89"/><stop offset="48.8%" stop-color="#2fb47c"/><stop offset="51.01%" stop-color="#77d153"/><stop offset="55.51%" stop-color="#c5e021"/><stop offset="56.37%" stop-color="#bddf26"/><stop offset="56.75%" stop-color="#aadc32"/><stop offset="58.09%" stop-color="#2db27d"/><stop offset="58.48%" stop-color="#1fa088"/><stop offset="59.53%" stop-color="#29798e"/><stop offset="60.78%" stop-color="#2d718e"/><stop offset="61.54%" stop-color="#277f8e"/><stop offset="62.31%" stop-color="#20a486"/><stop offset="62.6%" stop-color="#31b57b"/><stop offset="63.75%" stop-color="#a8db34"/><stop offset="64.32%" stop-color="#bddf26"/><stop offset="65.09%" stop-color="#addc30"/><stop offset="65.85%" stop-color="#5cc863"/><stop offset="66.52%" stop-color="#1fa088"/><stop offset="67.86%" stop-color="#31678e"/><stop offset="69.3%" stop-color="#33628d"/><stop offset="70.55%" stop-color="#2b748e"/><stop offset="71.5%" stop-color="#21a585"/><stop offset="72.65%" stop-color="#70cf57"/><stop offset="73.23%" stop-color="#84d44b"/><stop offset="73.9%" stop-color="#7fd34e"/><stop offset="76.29%" stop-color="#31b57b"/><stop offset="77.73%" stop-color="#1fa287"/><stop offset="80.99%" stop-color="#2a768e"/><stop offset="85.49%" stop-color="#2b748e"/><stop offset="86.16%" stop-color="#2a778e"/><stop offset="87.6%" stop-color="#1fa188"/><stop offset="89.13%" stop-color="#50c46a"/><stop offset="93.06%" stop-color="#addc30"/><stop offset="94.11%" stop-color="#90d743"/><stop offset="95.07%" stop-color="#38b977"/><stop offset="95.55%" stop-color="#1fa287"/><stop offset="96.89%" stop-color="#287d8e"/><stop offset="99.95%" stop-color="#29798e"/></linearGradient><linearGradient id="r38"><stop offset="0.05%" stop-color="#2e6d8e"/><stop offset="2.54%" stop-color="#2e6d8e"/><stop offset="4.45%" stop-color="#21918c"/><stop offset="7.61%" stop-color="#1fa187"/><stop offset="8.57%" stop-color="#2ab07f"/><stop offset="10.39%" stop-color="#63cb5f"/><stop offset="11.25%" stop-color="#5ac864"/><stop offset="12.6%" stop-color="#1fa188"/><stop offset="13.84%" stop-color="#297a8e"/><stop offset="15.09%" stop-color="#2c718e"/><stop offset="19.3%" stop-color="#2c718e"/><stop offset="20.74%" stop-color="#1e9c89"/><stop offset="21.02%" stop-color="#25ab82"/><stop offset="21.6%" stop-color="#52c569"/><stop offset="22.65%" stop-color="#90d743"/><stop offset="24.86%" stop-color="#a8db34"/><stop offset="27.54%" stop-color="#8bd646"/><stop offset="28.4%" stop-color="#5cc863"/><stop offset="29.26%" stop-color="#1fa088"/><stop offset="30.22%" stop-color="#31688e"/><stop offset="32.04%" stop-color="#34608d"/><stop offset="33%" stop-color="#2b748e"/><stop offset="33.86%" stop-color="#1fa187"/><stop offset="35.01%" stop-color="#81d34d"/><stop offset="35.87%" stop-color="#9bd93c"/><stop offset="38.46%" stop-color="#38b977"/><stop offset="39.42%" stop-color="#25ab82"/><stop offset="42.58%" stop-color="#2c728e"/><stop offset="44.88%" stop-color="#2f6c8e"/><stop offset="46.41%" stop-color="#1e9d89"/><stop offset="47.46%" stop-color="#32b67a"/><stop offset="49.66%" stop-color="#5ac864"/><stop offset="54.84%" stop-color="#b8de29"/><stop offset="56.08%" stop-color="#bddf26"/><stop offset="56.85%" stop-color="#9dd93b"/><stop offset="57.9%" stop-color="#3bbb75"/><stop offset="58.38%" stop-color="#20a386"/><stop offset="60.11%" stop-color="#2c718e"/><stop offset="61.25%" stop-color="#29798e"/><stop offset="62.21%" stop-color="#1e9d89"/><stop offset="62.5%" stop-color="#29af7f"/><stop offset="63.75%" stop-color="#a8db34"/><stop offset="64.51%" stop-color="#c0df25"/><stop offset="65.18%" stop-color="#a5db36"/><stop offset="66.33%" stop-color="#25ac82"/><stop offset="66.52%" stop-color="#1f9f88"/><stop offset="67.58%" stop-color="#306a8e"/><stop offset="69.4%" stop-color="#34608d"/><stop offset="70.64%" stop-color="#29798e"/><stop offset="71.6%" stop-color="#20a386"/><stop offset="73.23%" stop-color="#69cd5b"/><stop offset="73.99%" stop-color="#63cb5f"/><stop offset="76.01%" stop-color="#21a585"/><stop offset="80.89%" stop-color="#2e6e8e"/><stop offset="86.25%" stop-color="#2a778e"/><stop offset="87.6%" stop-color="#1fa088"/><stop offset="89.32%" stop-color="#42be71"/><stop offset="93.15%" stop-color="#93d741"/><stop offset="93.92%" stop-color="#86d549"/><stop offset="95.45%" stop-color="#20a386"/><stop offset="96.89%" stop-color="#297b8e"/><stop offset="99.95%" stop-color="#277f8e"/></linearGradient><linearGradient id="r39"><stop offset="0.05%" stop-color="#2c718e"/><stop offset="2.54%" stop-color="#2e6e8e"/><stop offset="5.03%" stop-color="#1f9a8a"/><stop offset="7.42%" stop-color="#24aa83"/><stop offset="8.57%" stop-color="#40bd72"/><stop offset="10.2%" stop-color="#89d548"/><stop offset="10.78%" stop-color="#8ed645"/><stop offset="11.73%" stop-color="#60ca60"/><stop offset="12.31%" stop-color="#2eb37c"/><stop offset="12.69%" stop-color="#1fa088"/><stop offset="13.75%" stop-color="#287d8e"/><stop offset="15.66%" stop-color="#2d708e"/><stop offset="19.59%" stop-color="#2a778e"/><stop offset="20.74%" stop-color="#1fa188"/><stop offset="21.12%" stop-color="#2fb47c"/><stop offset="21.89%" stop-color="#81d34d"/><stop offset="22.46%" stop-color="#a5db36"/><stop offset="24.47%" stop-color="#c0df25"/><stop offset="27.54%" stop-color="#aadc32"/><stop offset="28.5%" stop-color="#67cc5c"/><stop offset="28.98%" stop-color="#32b67a"/><stop offset="29.36%" stop-color="#1f9e89"/><stop offset="30.22%" stop-color="#2f6c8e"/><stop offset="32.04%" stop-color="#375a8c"/><stop offset="33.19%" stop-color="#297b8e"/><stop offset="33.76%" stop-color="#1fa088"/><stop offset="34.05%" stop-color="#2fb47c"/><stop offset="35.01%" stop-color="#95d840"/><stop offset="35.49%" stop-color="#addc30"/><stop offset="36.25%" stop-color="#b0dd2f"/><stop offset="37.02%" stop-color="#9dd93b"/><stop offset="38.75%" stop-color="#46c06f"/><stop offset="39.42%" stop-color="#35b779"/><stop offset="41.24%" stop-color="#1f9e89"/><stop offset="43.25%" stop-color="#2c718e"/><stop offset="44.78%" stop-color="#2b758e"/><stop offset="46.22%" stop-color="#1e9d89"/><stop offset="47.08%" stop-color="#34b679"/><stop offset="48.52%" stop-color="#56c667"/><stop offset="52.92%" stop-color="#addc30"/><stop offset="55.99%" stop-color="#cde11d"/><stop offset="56.85%" stop-color="#addc30"/><stop offset="57.81%" stop-color="#4cc26c"/><stop offset="58.38%" stop-color="#22a884"/><stop offset="59.43%" stop-color="#287d8e"/><stop offset="60.3%" stop-color="#2c718e"/><stop offset="61.35%" stop-color="#29798e"/><stop offset="62.21%" stop-color="#1f9f88"/><stop offset="62.6%" stop-color="#37b878"/><stop offset="63.75%" stop-color="#b5de2b"/><stop offset="64.7%" stop-color="#cde11d"/><stop offset="65.28%" stop-color="#aadc32"/><stop offset="65.76%" stop-color="#73d056"/><stop offset="66.33%" stop-color="#27ad81"/><stop offset="66.52%" stop-color="#1fa088"/><stop offset="67.48%" stop-color="#2f6c8e"/><stop offset="69.2%" stop-color="#355e8d"/><stop offset="70.55%" stop-color="#2a778e"/><stop offset="71.41%" stop-color="#21a685"/><stop offset="72.65%" stop-color="#84d44b"/><stop offset="73.23%" stop-color="#9bd93c"/><stop offset="73.99%" stop-color="#95d840"/><stop offset="75.91%" stop-color="#4ac16d"/><stop offset="77.83%" stop-color="#20a486"/><stop offset="81.18%" stop-color="#2c738e"/><stop offset="86.25%" stop-color="#2a788e"/><stop offset="87.5%" stop-color="#1fa088"/><stop offset="89.22%" stop-color="#5cc863"/><stop offset="93.15%" stop-color="#c0df25"/><stop offset="94.11%" stop-color="#a2da37"/><stop offset="95.16%" stop-color="#32b67a"/><stop offset="95.55%" stop-color="#20a386"/><stop offset="97.17%" stop-color="#29798e"/><stop offset="99.95%" stop-color="#297a8e"/></linearGradient><linearGradient id="r40"><stop offset="0.05%" stop-color="#306a8e"/><stop offset="2.63%" stop-color="#2d718e"/><stop offset="4.55%" stop-color="#1f968b"/><stop offset="7.33%" stop-color="#22a785"/><stop offset="8.19%" stop-color="#2fb47c"/><stop offset="9.91%" stop-color="#73d056"/><stop offset="10.78%" stop-color="#81d34d"/><stop offset="11.73%" stop-color="#58c765"/><stop offset="12.69%" stop-color="#1e9d89"/><stop offset="14.13%" stop-color="#2b748e"/><stop offset="18.73%" stop-color="#2d708e"/><stop offset="19.49%" stop-color="#2b748e"/><stop offset="20.74%" stop-color="#1fa188"/><stop offset="21.12%" stop-color="#32b67a"/><stop offset="21.6%" stop-color="#65cb5e"/><stop offset="22.17%" stop-color="#98d83e"/><stop offset="22.65%" stop-color="#b0dd2f"/><stop offset="24.86%" stop-color="#c8e020"/><stop offset="26.77%" stop-color="#c0df25"/><stop offset="27.54%" stop-color="#addc30"/><stop offset="28.4%" stop-color="#6ece58"/><stop offset="28.98%" stop-color="#2fb47c"/><stop offset="29.36%" stop-color="#1e9b8a"/><stop offset="30.22%" stop-color="#2f6c8e"/><stop offset="31.94%" stop-color="#355e8d"/><stop offset="33%" stop-color="#2b758e"/><stop offset="33.86%" stop-color="#21a585"/><stop offset="34.63%" stop-color="#67cc5c"/><stop offset="35.2%" stop-color="#90d743"/><stop offset="36.45%" stop-color="#a5db36"/><stop offset="37.21%" stop-color="#95d840"/><stop offset="39.13%" stop-color="#44bf70"/><stop offset="40.95%" stop-color="#22a884"/><stop offset="43.25%" stop-color="#2a778e"/><stop offset="44.78%" stop-color="#287c8e"/><stop offset="46.41%" stop-color="#1fa287"/><stop offset="48.61%" stop-color="#4ec36b"/><stop offset="52.73%" stop-color="#a0da39"/><stop offset="55.41%" stop-color="#bddf26"/><stop offset="56.47%" stop-color="#b2dd2d"/><stop offset="58.09%" stop-color="#2fb47c"/><stop offset="58.57%" stop-color="#1f9f88"/><stop offset="59.43%" stop-color="#277f8e"/><stop offset="60.68%" stop-color="#2e6f8e"/><stop offset="62.4%" stop-color="#1fa287"/><stop offset="63.84%" stop-color="#86d549"/><stop offset="64.32%" stop-color="#95d840"/><stop offset="64.7%" stop-color="#95d840"/><stop offset="65.18%" stop-color="#7fd34e"/><stop offset="66.52%" stop-color="#1f9e89"/><stop offset="67.77%" stop-color="#2e6d8e"/><stop offset="69.49%" stop-color="#33638d"/><stop offset="70.64%" stop-color="#297a8e"/><stop offset="71.5%" stop-color="#21a685"/><stop offset="72.56%" stop-color="#6ece58"/><stop offset="73.32%" stop-color="#89d548"/><stop offset="74.09%" stop-color="#7fd34e"/><stop offset="76.48%" stop-color="#34b679"/><stop offset="77.83%" stop-color="#20a486"/><stop offset="80.8%" stop-color="#2b758e"/><stop offset="85.39%" stop-color="#2b758e"/><stop offset="87.5%" stop-color="#1f9f88"/><stop offset="89.13%" stop-color="#54c568"/><stop offset="93.06%" stop-color="#b0dd2f"/><stop offset="93.82%" stop-color="#a5db36"/><stop offset="95.16%" stop-color="#31b57b"/><stop offset="95.55%" stop-color="#20a486"/><stop offset="96.89%" stop-color="#277f8e"/><stop offset="99.95%" stop-color="#297a8e"/></linearGradient><linearGradient id="r41"><stop offset="0.05%" stop-color="#2d708e"/><stop offset="2.54%" stop-color="#2f6b8e"/><stop offset="4.07%" stop-color="#218e8d"/><stop offset="7.71%" stop-color="#21a585"/><stop offset="8.86%" stop-color="#2fb47c"/><stop offset="10.49%" stop-color="#5ec962"/><stop offset="11.25%" stop-color="#56c667"/><stop offset="12.6%" stop-color="#1fa187"/><stop offset="14.13%" stop-color="#2c738e"/><stop offset="19.3%" stop-color="#2c728e"/><stop offset="20.74%" stop-color="#1e9d89"/><stop offset="21.12%" stop-color="#2eb37c"/><stop offset="21.7%" stop-color="#69cd5b"/><stop offset="22.65%" stop-color="#aadc32"/><stop offset="23.23%" stop-color="#bade28"/><stop offset="24.95%" stop-color="#c2df23"/><stop offset="27.16%" stop-color="#b2dd2d"/><stop offset="27.83%" stop-color="#95d840"/><stop offset="28.4%" stop-color="#67cc5c"/><stop offset="28.98%" stop-color="#2eb37c"/><stop offset="29.36%" stop-color="#1e9b8a"/><stop offset="30.22%" stop-color="#2e6d8e"/><stop offset="31.66%" stop-color="#365c8d"/><stop offset="33%" stop-color="#2b748e"/><stop offset="33.76%" stop-color="#1fa088"/><stop offset="34.15%" stop-color="#31b57b"/><stop offset="35.01%" stop-color="#7fd34e"/><stop offset="35.87%" stop-color="#9dd93b"/><stop offset="37.21%" stop-color="#8ed645"/><stop offset="38.65%" stop-color="#4ec36b"/><stop offset="40.85%" stop-color="#22a785"/><stop offset="42.48%" stop-color="#29798e"/><stop offset="44.11%" stop-color="#2e6f8e"/><stop offset="44.78%" stop-color="#2d708e"/><stop offset="46.6%" stop-color="#1e9b8a"/><stop offset="48.32%" stop-color="#42be71"/><stop offset="52.54%" stop-color="#9bd93c"/><stop offset="55.89%" stop-color="#a0da39"/><stop offset="56.94%" stop-color="#81d34d"/><stop offset="58.29%" stop-color="#21a585"/><stop offset="60.11%" stop-color="#2c728e"/><stop offset="61.45%" stop-color="#287d8e"/><stop offset="62.21%" stop-color="#1e9d89"/><stop offset="62.6%" stop-color="#2db27d"/><stop offset="63.17%" stop-color="#65cb5e"/><stop offset="63.75%" stop-color="#95d840"/><stop offset="64.32%" stop-color="#addc30"/><stop offset="64.8%" stop-color="#aadc32"/><stop offset="65.18%" stop-color="#95d840"/><stop offset="66.14%" stop-color="#34b679"/><stop offset="66.52%" stop-color="#1f9e89"/><stop offset="67%" stop-color="#27808e"/><stop offset="67.96%" stop-color="#32658e"/><stop offset="69.59%" stop-color="#33628d"/><stop offset="70.74%" stop-color="#277e8e"/><stop offset="71.6%" stop-color="#21a585"/><stop offset="72.46%" stop-color="#52c569"/><stop offset="73.32%" stop-color="#70cf57"/><stop offset="76.96%" stop-color="#22a884"/><stop offset="81.08%" stop-color="#2a768e"/><stop offset="85.39%" stop-color="#2c738e"/><stop offset="87.6%" stop-color="#1f9e89"/><stop offset="88.75%" stop-color="#37b878"/><stop offset="92.96%" stop-color="#8ed645"/><stop offset="93.92%" stop-color="#81d34d"/><stop offset="95.16%" stop-color="#2cb17e"/><stop offset="95.55%" stop-color="#1fa187"/><stop offset="96.98%" stop-color="#287d8e"/><stop offset="99.95%" stop-color="#287c8e"/></linearGradient><linearGradient id="r42"><stop offset="0.05%" stop-color="#306a8e"/><stop offset="2.73%" stop-color="#2d718e"/><stop offset="5.03%" stop-color="#1f998a"/><stop offset="8.48%" stop-color="#20a386"/><stop offset="10.58%" stop-color="#4ec36b"/><stop offset="12.5%" stop-color="#1fa188"/><stop offset="13.65%" stop-color="#287c8e"/><stop offset="14.99%" stop-color="#2f6b8e"/><stop offset="19.59%" stop-color="#2d718e"/><stop offset="20.74%" stop-color="#1e9c89"/><stop offset="21.02%" stop-color="#27ad81"/><stop offset="21.7%" stop-color="#70cf57"/><stop offset="22.65%" stop-color="#b2dd2d"/><stop offset="23.61%" stop-color="#c2df23"/><stop offset="26.58%" stop-color="#c5e021"/><stop offset="27.92%" stop-color="#a0da39"/><stop offset="29.07%" stop-color="#29af7f"/><stop offset="29.36%" stop-color="#1e9b8a"/><stop offset="30.22%" stop-color="#2f6c8e"/><stop offset="31.75%" stop-color="#355e8d"/><stop offset="32.9%" stop-color="#2e6e8e"/><stop offset="33.86%" stop-color="#20a486"/><stop offset="34.43%" stop-color="#58c765"/><stop offset="35.11%" stop-color="#98d83e"/><stop offset="36.25%" stop-color="#b2dd2d"/><stop offset="37.12%" stop-color="#a5db36"/><stop offset="39.03%" stop-color="#4ac16d"/><stop offset="40.95%" stop-color="#23a983"/><stop offset="43.25%" stop-color="#2c718e"/><stop offset="45.07%" stop-color="#297a8e"/><stop offset="46.41%" stop-color="#1fa088"/><stop offset="48.32%" stop-color="#4ec36b"/><stop offset="52.44%" stop-color="#b5de2b"/><stop offset="53.4%" stop-color="#b5de2b"/><stop offset="54.55%" stop-color="#9bd93c"/><stop offset="55.89%" stop-color="#9dd93b"/><stop offset="57.04%" stop-color="#7fd34e"/><stop offset="58.29%" stop-color="#21a685"/><stop offset="60.2%" stop-color="#2c718e"/><stop offset="61.35%" stop-color="#287c8e"/><stop offset="62.21%" stop-color="#1fa088"/><stop offset="62.6%" stop-color="#35b779"/><stop offset="63.65%" stop-color="#b0dd2f"/><stop offset="64.61%" stop-color="#cde11d"/><stop offset="65.37%" stop-color="#a2da37"/><stop offset="66.24%" stop-color="#32b67a"/><stop offset="66.62%" stop-color="#1e9c89"/><stop offset="67.29%" stop-color="#2b748e"/><stop offset="68.53%" stop-color="#365c8d"/><stop offset="70.45%" stop-color="#2c718e"/><stop offset="71.41%" stop-color="#20a386"/><stop offset="72.46%" stop-color="#7ad151"/><stop offset="73.32%" stop-color="#9dd93b"/><stop offset="74.28%" stop-color="#90d743"/><stop offset="76.48%" stop-color="#3bbb75"/><stop offset="77.63%" stop-color="#23a983"/><stop offset="80.12%" stop-color="#287c8e"/><stop offset="81.66%" stop-color="#2d718e"/><stop offset="85.97%" stop-color="#2a778e"/><stop offset="87.5%" stop-color="#1f9e89"/><stop offset="89.03%" stop-color="#54c568"/><stop offset="92.86%" stop-color="#bade28"/><stop offset="93.44%" stop-color="#bade28"/><stop offset="94.11%" stop-color="#a0da39"/><stop offset="95.16%" stop-color="#37b878"/><stop offset="95.55%" stop-color="#20a386"/><stop offset="96.98%" stop-color="#287d8e"/><stop offset="99.95%" stop-color="#277e8e"/></linearGradient><linearGradient id="r43"><stop offset="0.05%" stop-color="#2c718e"/><stop offset="2.73%" stop-color="#2c728e"/><stop offset="5.03%" stop-color="#1f9a8a"/><stop offset="7.23%" stop-color="#21a585"/><stop offset="8.38%" stop-color="#32b67a"/><stop offset="10.3%" stop-color="#7cd250"/><stop offset="10.87%" stop-color="#7cd250"/><stop offset="11.45%" stop-color="#69cd5b"/><stop offset="12.6%" stop-color="#20a486"/><stop offset="14.13%" stop-color="#2b758e"/><stop offset="19.78%" stop-color="#2a788e"/><stop offset="21.02%" stop-color="#1fa188"/><stop offset="21.89%" stop-color="#54c568"/><stop offset="22.65%" stop-color="#7fd34e"/><stop offset="24.95%" stop-color="#93d741"/><stop offset="26.2%" stop-color="#b8de29"/><stop offset="26.96%" stop-color="#bddf26"/><stop offset="27.83%" stop-color="#a2da37"/><stop offset="29.07%" stop-color="#29af7f"/><stop offset="29.36%" stop-color="#1f9e89"/><stop offset="30.41%" stop-color="#306a8e"/><stop offset="32.04%" stop-color="#355f8d"/><stop offset="33.29%" stop-color="#287c8e"/><stop offset="33.96%" stop-color="#20a386"/><stop offset="35.01%" stop-color="#73d056"/><stop offset="35.97%" stop-color="#90d743"/><stop offset="36.73%" stop-color="#8ed645"/><stop offset="39.03%" stop-color="#46c06f"/><stop offset="41.24%" stop-color="#1fa287"/><stop offset="42.67%" stop-color="#27808e"/><stop offset="44.11%" stop-color="#29798e"/><stop offset="46.22%" stop-color="#1f9f88"/><stop offset="47.75%" stop-color="#40bd72"/><stop offset="52.35%" stop-color="#a5db36"/><stop offset="55.51%" stop-color="#bddf26"/><stop offset="56.56%" stop-color="#addc30"/><stop offset="57.04%" stop-color="#90d743"/><stop offset="58.09%" stop-color="#2fb47c"/><stop offset="58.57%" stop-color="#1e9d89"/><stop offset="60.11%" stop-color="#2c728e"/><stop offset="61.25%" stop-color="#297b8e"/><stop offset="62.4%" stop-color="#21a585"/><stop offset="63.65%" stop-color="#84d44b"/><stop offset="64.42%" stop-color="#a2da37"/><stop offset="65.09%" stop-color="#90d743"/><stop offset="66.24%" stop-color="#2ab07f"/><stop offset="66.52%" stop-color="#1fa088"/><stop offset="67.19%" stop-color="#297a8e"/><stop offset="67.86%" stop-color="#30698e"/><stop offset="69.68%" stop-color="#33638d"/><stop offset="70.64%" stop-color="#2a778e"/><stop offset="71.41%" stop-color="#21a685"/><stop offset="72.75%" stop-color="#89d548"/><stop offset="73.32%" stop-color="#98d83e"/><stop offset="74.19%" stop-color="#89d548"/><stop offset="75.91%" stop-color="#3bbb75"/><stop offset="77.35%" stop-color="#22a785"/><stop offset="80.6%" stop-color="#2c738e"/><stop offset="86.25%" stop-color="#297b8e"/><stop offset="87.5%" stop-color="#1fa088"/><stop offset="89.22%" stop-color="#5cc863"/><stop offset="93.06%" stop-color="#bade28"/><stop offset="94.11%" stop-color="#a0da39"/><stop offset="95.07%" stop-color="#3dbc74"/><stop offset="95.55%" stop-color="#20a486"/><stop offset="96.98%" stop-color="#287c8e"/><stop offset="99.95%" stop-color="#287d8e"/></linearGradient><linearGradient id="r44"><stop offset="0.05%" stop-color="#2d708e"/><stop offset="2.63%" stop-color="#2d718e"/><stop offset="5.03%" stop-color="#1f9a8a"/><stop offset="7.23%" stop-color="#21a685"/><stop offset="8.67%" stop-color="#3aba76"/><stop offset="10.3%" stop-color="#75d054"/><stop offset="10.87%" stop-color="#75d054"/><stop offset="11.73%" stop-color="#52c569"/><stop offset="12.6%" stop-color="#20a386"/><stop offset="14.13%" stop-color="#2b758e"/><stop offset="19.4%" stop-color="#2d718e"/><stop offset="20.83%" stop-color="#1e9d89"/><stop offset="21.22%" stop-color="#2cb17e"/><stop offset="21.7%" stop-color="#56c667"/><stop offset="22.56%" stop-color="#90d743"/><stop offset="23.32%" stop-color="#a2da37"/><stop offset="26.48%" stop-color="#b8de29"/><stop offset="27.16%" stop-color="#b0dd2f"/><stop offset="27.92%" stop-color="#90d743"/><stop offset="28.88%" stop-color="#34b679"/><stop offset="29.26%" stop-color="#1f9f88"/><stop offset="30.22%" stop-color="#2f6b8e"/><stop offset="31.94%" stop-color="#365c8d"/><stop offset="33.29%" stop-color="#29798e"/><stop offset="33.96%" stop-color="#1fa187"/><stop offset="35.2%" stop-color="#70cf57"/><stop offset="36.16%" stop-color="#81d34d"/><stop offset="40.85%" stop-color="#22a785"/><stop offset="43.44%" stop-color="#2a778e"/><stop offset="44.78%" stop-color="#29798e"/><stop offset="46.31%" stop-color="#1f9f88"/><stop offset="48.32%" stop-color="#44bf70"/><stop offset="53.3%" stop-color="#9bd93c"/><stop offset="55.6%" stop-color="#addc30"/><stop offset="56.56%" stop-color="#a0da39"/><stop offset="58%" stop-color="#2eb37c"/><stop offset="58.48%" stop-color="#1e9d89"/><stop offset="59.63%" stop-color="#2a768e"/><stop offset="60.68%" stop-color="#2c718e"/><stop offset="62.4%" stop-color="#21a685"/><stop offset="63.75%" stop-color="#89d548"/><stop offset="64.42%" stop-color="#a0da39"/><stop offset="64.99%" stop-color="#95d840"/><stop offset="66.04%" stop-color="#38b977"/><stop offset="66.52%" stop-color="#1f9e89"/><stop offset="67.77%" stop-color="#31678e"/><stop offset="69.49%" stop-color="#355e8d"/><stop offset="70.07%" stop-color="#31668e"/><stop offset="71.41%" stop-color="#20a486"/><stop offset="72.56%" stop-color="#6ece58"/><stop offset="73.42%" stop-color="#89d548"/><stop offset="74.09%" stop-color="#7fd34e"/><stop offset="75.91%" stop-color="#34b679"/><stop offset="77.25%" stop-color="#21a585"/><stop offset="80.89%" stop-color="#2c728e"/><stop offset="85.97%" stop-color="#297a8e"/><stop offset="87.5%" stop-color="#1f9e89"/><stop offset="89.32%" stop-color="#58c765"/><stop offset="93.06%" stop-color="#b0dd2f"/><stop offset="94.01%" stop-color="#98d83e"/><stop offset="95.35%" stop-color="#23a983"/><stop offset="96.89%" stop-color="#26818e"/><stop offset="99.95%" stop-color="#2a768e"/></linearGradient><linearGradient id="r45"><stop offset="0.05%" stop-color="#306a8e"/><stop offset="2.54%" stop-color="#2e6f8e"/><stop offset="4.55%" stop-color="#1f978b"/><stop offset="7.23%" stop-color="#21a685"/><stop offset="8%" stop-color="#2db27d"/><stop offset="9.91%" stop-color="#7cd250"/><stop offset="10.78%" stop-color="#8bd646"/><stop offset="11.73%" stop-color="#5ec962"/><stop offset="12.69%" stop-color="#1fa188"/><stop offset="13.46%" stop-color="#277f8e"/><stop offset="14.99%" stop-color="#2d708e"/><stop offset="19.4%" stop-color="#2b748e"/><stop offset="20.74%" stop-color="#1f9f88"/><stop offset="21.12%" stop-color="#32b67a"/><stop offset="21.7%" stop-color="#73d056"/><stop offset="22.17%" stop-color="#a0da39"/><stop offset="22.65%" stop-color="#b8de29"/><stop offset="25.43%" stop-color="#cae11f"/><stop offset="26.68%" stop-color="#c5e021"/><stop offset="27.73%" stop-color="#aadc32"/><stop offset="28.59%" stop-color="#5ec962"/><stop offset="29.26%" stop-color="#1fa187"/><stop offset="30.32%" stop-color="#2e6d8e"/><stop offset="31.66%" stop-color="#355e8d"/><stop offset="33%" stop-color="#2c738e"/><stop offset="33.86%" stop-color="#20a486"/><stop offset="35.01%" stop-color="#90d743"/><stop offset="35.49%" stop-color="#a8db34"/><stop offset="36.35%" stop-color="#b0dd2f"/><stop offset="37.31%" stop-color="#9dd93b"/><stop offset="39.03%" stop-color="#4cc26c"/><stop offset="41.04%" stop-color="#21a685"/><stop offset="42.48%" stop-color="#25838e"/><stop offset="44.11%" stop-color="#2b748e"/><stop offset="44.78%" stop-color="#2a778e"/><stop offset="46.12%" stop-color="#1e9d89"/><stop offset="47.65%" stop-color="#42be71"/><stop offset="52.73%" stop-color="#a8db34"/><stop offset="55.99%" stop-color="#c5e021"/><stop offset="56.75%" stop-color="#addc30"/><stop offset="57.81%" stop-color="#48c16e"/><stop offset="58.38%" stop-color="#22a785"/><stop offset="59.34%" stop-color="#287d8e"/><stop offset="60.3%" stop-color="#2c718e"/><stop offset="61.35%" stop-color="#2a788e"/><stop offset="62.12%" stop-color="#1e9c89"/><stop offset="62.6%" stop-color="#37b878"/><stop offset="63.65%" stop-color="#b0dd2f"/><stop offset="64.03%" stop-color="#c8e020"/><stop offset="64.61%" stop-color="#d0e11c"/><stop offset="65.37%" stop-color="#a5db36"/><stop offset="66.24%" stop-color="#34b679"/><stop offset="66.62%" stop-color="#1e9c89"/><stop offset="67.67%" stop-color="#306a8e"/><stop offset="69.59%" stop-color="#355e8d"/><stop offset="70.45%" stop-color="#2e6f8e"/><stop offset="71.41%" stop-color="#20a486"/><stop offset="72.37%" stop-color="#73d056"/><stop offset="73.32%" stop-color="#9dd93b"/><stop offset="74.38%" stop-color="#8bd646"/><stop offset="76.29%" stop-color="#44bf70"/><stop offset="77.73%" stop-color="#22a884"/><stop offset="81.08%" stop-color="#2b758e"/><stop offset="85.97%" stop-color="#2a788e"/><stop offset="87.5%" stop-color="#1fa188"/><stop offset="89.32%" stop-color="#63cb5f"/><stop offset="92.96%" stop-color="#c2df23"/><stop offset="94.01%" stop-color="#addc30"/><stop offset="95.16%" stop-color="#37b878"/><stop offset="95.55%" stop-color="#21a585"/><stop offset="97.08%" stop-color="#287c8e"/><stop offset="99.95%" stop-color="#297a8e"/></linearGradient><linearGradient id="r46"><stop offset="0.05%" stop-color="#2e6d8e"/><stop offset="2.63%" stop-color="#2c738e"/><stop offset="5.03%" stop-color="#1e9c89"/><stop offset="7.61%" stop-color="#22a884"/><stop offset="8.48%" stop-color="#2eb37c"/><stop offset="10.01%" stop-color="#69cd5b"/><stop offset="10.78%" stop-color="#75d054"/><stop offset="12.5%" stop-color="#21a585"/><stop offset="13.36%" stop-color="#26818e"/><stop offset="14.13%" stop-color="#2c738e"/><stop offset="19.2%" stop-color="#2e6f8e"/><stop offset="20.74%" stop-color="#1f9e89"/><stop offset="21.02%" stop-color="#29af7f"/><stop offset="21.6%" stop-color="#69cd5b"/><stop offset="22.65%" stop-color="#b5de2b"/><stop offset="23.8%" stop-color="#c8e020"/><stop offset="25.62%" stop-color="#c8e020"/><stop offset="27.63%" stop-color="#addc30"/><stop offset="28.5%" stop-color="#67cc5c"/><stop offset="28.98%" stop-color="#31b57b"/><stop offset="29.36%" stop-color="#1e9c89"/><stop offset="30.6%" stop-color="#34618d"/><stop offset="31.85%" stop-color="#365d8d"/><stop offset="32.9%" stop-color="#2f6c8e"/><stop offset="33.86%" stop-color="#20a486"/><stop offset="34.82%" stop-color="#7fd34e"/><stop offset="35.87%" stop-color="#aadc32"/><stop offset="36.93%" stop-color="#a2da37"/><stop offset="38.55%" stop-color="#4cc26c"/><stop offset="40.37%" stop-color="#25ab82"/><stop offset="43.15%" stop-color="#2b748e"/><stop offset="44.78%" stop-color="#2a788e"/><stop offset="46.22%" stop-color="#1fa088"/><stop offset="48.32%" stop-color="#4ec36b"/><stop offset="55.12%" stop-color="#c0df25"/><stop offset="56.56%" stop-color="#b2dd2d"/><stop offset="57.52%" stop-color="#65cb5e"/><stop offset="58.38%" stop-color="#20a386"/><stop offset="59.53%" stop-color="#29798e"/><stop offset="60.39%" stop-color="#2e6e8e"/><stop offset="61.73%" stop-color="#24868e"/><stop offset="62.21%" stop-color="#1f9f88"/><stop offset="62.5%" stop-color="#2cb17e"/><stop offset="63.75%" stop-color="#b0dd2f"/><stop offset="64.61%" stop-color="#cae11f"/><stop offset="65.28%" stop-color="#aadc32"/><stop offset="66.24%" stop-color="#32b67a"/><stop offset="66.62%" stop-color="#1f9f88"/><stop offset="67.67%" stop-color="#31678e"/><stop offset="69.3%" stop-color="#355e8d"/><stop offset="70.35%" stop-color="#2d718e"/><stop offset="71.5%" stop-color="#20a386"/><stop offset="72.56%" stop-color="#67cc5c"/><stop offset="73.32%" stop-color="#81d34d"/><stop offset="74.19%" stop-color="#75d054"/><stop offset="76.1%" stop-color="#38b977"/><stop offset="77.83%" stop-color="#1e9d89"/><stop offset="80.99%" stop-color="#297a8e"/><stop offset="84.63%" stop-color="#2a778e"/><stop offset="86.16%" stop-color="#297b8e"/><stop offset="87.5%" stop-color="#1fa188"/><stop offset="89.03%" stop-color="#50c46a"/><stop offset="92.96%" stop-color="#b0dd2f"/><stop offset="94.11%" stop-color="#98d83e"/><stop offset="95.55%" stop-color="#20a386"/><stop offset="97.08%" stop-color="#297b8e"/><stop offset="99.95%" stop-color="#297b8e"/></linearGradient><linearGradient id="r47"><stop offset="0.05%" stop-color="#2f6c8e"/><stop offset="2.35%" stop-color="#2d708e"/><stop offset="4.55%" stop-color="#1f978b"/><stop offset="7.81%" stop-color="#21a585"/><stop offset="8.67%" stop-color="#2ab07f"/><stop offset="10.3%" stop-color="#5ac864"/><stop offset="11.16%" stop-color="#54c568"/><stop offset="12.5%" stop-color="#1fa188"/><stop offset="14.51%" stop-color="#2c738e"/><stop offset="19.59%" stop-color="#2a778e"/><stop offset="20.74%" stop-color="#1f9e89"/><stop offset="21.02%" stop-color="#27ad81"/><stop offset="21.6%" stop-color="#5ec962"/><stop offset="22.56%" stop-color="#a5db36"/><stop offset="23.52%" stop-color="#bade28"/><stop offset="25.34%" stop-color="#c2df23"/><stop offset="27.54%" stop-color="#a2da37"/><stop offset="28.4%" stop-color="#67cc5c"/><stop offset="28.98%" stop-color="#2db27d"/><stop offset="29.36%" stop-color="#1e9b8a"/><stop offset="30.12%" stop-color="#2c738e"/><stop offset="31.08%" stop-color="#355e8d"/><stop offset="32.61%" stop-color="#34618d"/><stop offset="33.29%" stop-color="#29798e"/><stop offset="33.86%" stop-color="#20a386"/><stop offset="35.01%" stop-color="#7cd250"/><stop offset="35.87%" stop-color="#98d83e"/><stop offset="36.73%" stop-color="#93d741"/><stop offset="38.27%" stop-color="#3dbc74"/><stop offset="39.51%" stop-color="#24aa83"/><stop offset="43.63%" stop-color="#2a788e"/><stop offset="44.78%" stop-color="#287d8e"/><stop offset="46.31%" stop-color="#1fa188"/><stop offset="47.84%" stop-color="#3dbc74"/><stop offset="50.24%" stop-color="#48c16e"/><stop offset="52.35%" stop-color="#67cc5c"/><stop offset="54.36%" stop-color="#a2da37"/><stop offset="55.32%" stop-color="#addc30"/><stop offset="56.47%" stop-color="#a0da39"/><stop offset="57.14%" stop-color="#73d056"/><stop offset="57.81%" stop-color="#31b57b"/><stop offset="58.29%" stop-color="#1e9b8a"/><stop offset="59.24%" stop-color="#2a778e"/><stop offset="60.11%" stop-color="#2d718e"/><stop offset="61.54%" stop-color="#2a778e"/><stop offset="62.5%" stop-color="#1fa188"/><stop offset="63.36%" stop-color="#5ac864"/><stop offset="64.61%" stop-color="#9bd93c"/><stop offset="65.18%" stop-color="#90d743"/><stop offset="66.14%" stop-color="#38b977"/><stop offset="66.62%" stop-color="#1fa088"/><stop offset="67.67%" stop-color="#2c718e"/><stop offset="69.3%" stop-color="#32658e"/><stop offset="70.26%" stop-color="#2b758e"/><stop offset="71.41%" stop-color="#1fa188"/><stop offset="72.37%" stop-color="#4ec36b"/><stop offset="73.23%" stop-color="#6ece58"/><stop offset="73.9%" stop-color="#6ccd5a"/><stop offset="75.91%" stop-color="#32b67a"/><stop offset="77.35%" stop-color="#21a585"/><stop offset="80.03%" stop-color="#24868e"/><stop offset="83.96%" stop-color="#277e8e"/><stop offset="86.35%" stop-color="#26828e"/><stop offset="87.4%" stop-color="#1fa188"/><stop offset="92.96%" stop-color="#8ed645"/><stop offset="94.11%" stop-color="#7ad151"/><stop offset="95.16%" stop-color="#2db27d"/><stop offset="95.64%" stop-color="#1fa187"/><stop offset="97.17%" stop-color="#277e8e"/><stop offset="99.95%" stop-color="#277e8e"/></linearGradient><linearGradient id="r48"><stop offset="0.05%" stop-color="#2d708e"/><stop offset="2.73%" stop-color="#297a8e"/><stop offset="4.55%" stop-color="#1f9e89"/><stop offset="7.33%" stop-color="#28ae80"/><stop offset="8.48%" stop-color="#3dbc74"/><stop offset="10.11%" stop-color="#81d34d"/><stop offset="10.78%" stop-color="#89d548"/><stop offset="11.35%" stop-color="#77d153"/><stop offset="12.69%" stop-color="#1fa088"/><stop offset="13.46%" stop-color="#26828e"/><stop offset="14.51%" stop-color="#2a768e"/><stop offset="19.59%" stop-color="#2a788e"/><stop offset="20.64%" stop-color="#1e9d89"/><stop offset="21.02%" stop-color="#2cb17e"/><stop offset="21.89%" stop-color="#84d44b"/><stop offset="22.46%" stop-color="#aadc32"/><stop offset="23.61%" stop-color="#c2df23"/><stop offset="25.05%" stop-color="#c5e021"/><stop offset="27.54%" stop-color="#addc30"/><stop offset="28.02%" stop-color="#95d840"/><stop offset="28.5%" stop-color="#69cd5b"/><stop offset="29.07%" stop-color="#2ab07f"/><stop offset="29.36%" stop-color="#1f9e89"/><stop offset="30.22%" stop-color="#2e6f8e"/><stop offset="31.94%" stop-color="#355e8d"/><stop offset="32.81%" stop-color="#2d718e"/><stop offset="33.76%" stop-color="#1fa287"/><stop offset="34.53%" stop-color="#67cc5c"/><stop offset="35.3%" stop-color="#a0da39"/><stop offset="36.45%" stop-color="#b0dd2f"/><stop offset="37.12%" stop-color="#a2da37"/><stop offset="38.75%" stop-color="#52c569"/><stop offset="40.85%" stop-color="#24aa83"/><stop offset="42.48%" stop-color="#26828e"/><stop offset="43.63%" stop-color="#297b8e"/><stop offset="44.88%" stop-color="#27808e"/><stop offset="46.12%" stop-color="#1f9e89"/><stop offset="48.13%" stop-color="#4ac16d"/><stop offset="49.95%" stop-color="#35b779"/><stop offset="52.44%" stop-color="#5ac864"/><stop offset="54.26%" stop-color="#b2dd2d"/><stop offset="55.99%" stop-color="#c5e021"/><stop offset="56.75%" stop-color="#aadc32"/><stop offset="57.9%" stop-color="#3aba76"/><stop offset="58.48%" stop-color="#1e9d89"/><stop offset="59.72%" stop-color="#297a8e"/><stop offset="60.97%" stop-color="#2b758e"/><stop offset="61.64%" stop-color="#26828e"/><stop offset="62.31%" stop-color="#21a585"/><stop offset="62.69%" stop-color="#38b977"/><stop offset="63.75%" stop-color="#a5db36"/><stop offset="64.61%" stop-color="#c2df23"/><stop offset="65.18%" stop-color="#b0dd2f"/><stop offset="66.33%" stop-color="#2fb47c"/><stop offset="66.71%" stop-color="#1f9e89"/><stop offset="67.77%" stop-color="#2b748e"/><stop offset="69.49%" stop-color="#2e6e8e"/><stop offset="70.35%" stop-color="#287d8e"/><stop offset="71.31%" stop-color="#21a585"/><stop offset="72.75%" stop-color="#8bd646"/><stop offset="73.42%" stop-color="#9dd93b"/><stop offset="74.19%" stop-color="#90d743"/><stop offset="76.58%" stop-color="#3bbb75"/><stop offset="78.11%" stop-color="#20a486"/><stop offset="80.51%" stop-color="#25858e"/><stop offset="82.42%" stop-color="#26828e"/><stop offset="85.87%" stop-color="#26828e"/><stop offset="87.31%" stop-color="#1fa088"/><stop offset="89.22%" stop-color="#60ca60"/><stop offset="93.15%" stop-color="#c2df23"/><stop offset="93.63%" stop-color="#c0df25"/><stop offset="94.11%" stop-color="#a8db34"/><stop offset="95.16%" stop-color="#3dbc74"/><stop offset="95.64%" stop-color="#20a486"/><stop offset="97.17%" stop-color="#26828e"/><stop offset="99.95%" stop-color="#277f8e"/></linearGradient><linearGradient id="r49"><stop offset="0.05%" stop-color="#2b748e"/><stop offset="1.87%" stop-color="#2b748e"/><stop offset="4.55%" stop-color="#1e9d89"/><stop offset="6.47%" stop-color="#21a585"/><stop offset="8.86%" stop-color="#48c16e"/><stop offset="10.11%" stop-color="#81d34d"/><stop offset="10.87%" stop-color="#89d548"/><stop offset="11.73%" stop-color="#5ec962"/><stop offset="12.69%" stop-color="#1fa187"/><stop offset="14.13%" stop-color="#2a768e"/><stop offset="19.3%" stop-color="#2a768e"/><stop offset="20.74%" stop-color="#1e9c89"/><stop offset="21.6%" stop-color="#4cc26c"/><stop offset="22.46%" stop-color="#7ad151"/><stop offset="24.86%" stop-color="#93d741"/><stop offset="27.16%" stop-color="#86d549"/><stop offset="28.3%" stop-color="#63cb5f"/><stop offset="29.36%" stop-color="#1fa088"/><stop offset="30.22%" stop-color="#2c728e"/><stop offset="31.08%" stop-color="#34618d"/><stop offset="32.52%" stop-color="#306a8e"/><stop offset="33.57%" stop-color="#1e9c89"/><stop offset="33.86%" stop-color="#26ad81"/><stop offset="34.43%" stop-color="#5ec962"/><stop offset="35.3%" stop-color="#a0da39"/><stop offset="36.45%" stop-color="#b0dd2f"/><stop offset="37.31%" stop-color="#9bd93c"/><stop offset="38.75%" stop-color="#46c06f"/><stop offset="39.42%" stop-color="#31b57b"/><stop offset="41.04%" stop-color="#1f9e89"/><stop offset="43.53%" stop-color="#2e6f8e"/><stop offset="45.16%" stop-color="#2a778e"/><stop offset="46.7%" stop-color="#1f9f88"/><stop offset="48.8%" stop-color="#3aba76"/><stop offset="50.81%" stop-color="#77d153"/><stop offset="53.88%" stop-color="#b2dd2d"/><stop offset="56.08%" stop-color="#c2df23"/><stop offset="56.75%" stop-color="#addc30"/><stop offset="58%" stop-color="#3aba76"/><stop offset="58.48%" stop-color="#20a486"/><stop offset="60.3%" stop-color="#2a788e"/><stop offset="61.25%" stop-color="#277f8e"/><stop offset="62.12%" stop-color="#1e9b8a"/><stop offset="62.4%" stop-color="#25ac82"/><stop offset="63.65%" stop-color="#a8db34"/><stop offset="64.32%" stop-color="#c5e021"/><stop offset="64.7%" stop-color="#c5e021"/><stop offset="65.28%" stop-color="#a8db34"/><stop offset="65.66%" stop-color="#7fd34e"/><stop offset="66.33%" stop-color="#2fb47c"/><stop offset="66.71%" stop-color="#1f9e89"/><stop offset="67.86%" stop-color="#2a778e"/><stop offset="69.49%" stop-color="#2d718e"/><stop offset="71.22%" stop-color="#1fa287"/><stop offset="71.7%" stop-color="#37b878"/><stop offset="72.75%" stop-color="#8ed645"/><stop offset="73.32%" stop-color="#9dd93b"/><stop offset="74.38%" stop-color="#8bd646"/><stop offset="76.01%" stop-color="#4cc26c"/><stop offset="77.73%" stop-color="#22a884"/><stop offset="80.89%" stop-color="#25858e"/><stop offset="83.19%" stop-color="#26818e"/><stop offset="86.25%" stop-color="#24878e"/><stop offset="87.21%" stop-color="#1fa088"/><stop offset="89.42%" stop-color="#60ca60"/><stop offset="93.06%" stop-color="#c0df25"/><stop offset="94.11%" stop-color="#a5db36"/><stop offset="95.26%" stop-color="#32b67a"/><stop offset="95.74%" stop-color="#1fa287"/><stop offset="97.08%" stop-color="#25858e"/><stop offset="99.95%" stop-color="#26818e"/></linearGradient><linearGradient id="r50"><stop offset="0.05%" stop-color="#2a778e"/><stop offset="7.81%" stop-color="#21a685"/><stop offset="8.86%" stop-color="#3bbb75"/><stop offset="9.82%" stop-color="#67cc5c"/><stop offset="10.87%" stop-color="#77d153"/><stop offset="12.69%" stop-color="#1fa287"/><stop offset="14.22%" stop-color="#287d8e"/><stop offset="15.85%" stop-color="#2a788e"/><stop offset="19.59%" stop-color="#277f8e"/><stop offset="20.74%" stop-color="#1fa188"/><stop offset="21.7%" stop-color="#5ac864"/><stop offset="22.75%" stop-color="#95d840"/><stop offset="25.05%" stop-color="#addc30"/><stop offset="27.54%" stop-color="#8bd646"/><stop offset="28.59%" stop-color="#52c569"/><stop offset="29.45%" stop-color="#1f9f88"/><stop offset="30.22%" stop-color="#2b758e"/><stop offset="31.75%" stop-color="#33628d"/><stop offset="32.71%" stop-color="#2a768e"/><stop offset="33.67%" stop-color="#20a386"/><stop offset="34.91%" stop-color="#7ad151"/><stop offset="35.97%" stop-color="#98d83e"/><stop offset="37.02%" stop-color="#90d743"/><stop offset="38.84%" stop-color="#3bbb75"/><stop offset="40.28%" stop-color="#22a785"/><stop offset="42.48%" stop-color="#29798e"/><stop offset="43.63%" stop-color="#2c738e"/><stop offset="45.16%" stop-color="#2a768e"/><stop offset="47.75%" stop-color="#1fa188"/><stop offset="48.99%" stop-color="#26ad81"/><stop offset="51.1%" stop-color="#73d056"/><stop offset="55.8%" stop-color="#addc30"/><stop offset="56.66%" stop-color="#98d83e"/><stop offset="57.9%" stop-color="#29af7f"/><stop offset="58.29%" stop-color="#1e9c89"/><stop offset="59.34%" stop-color="#2a778e"/><stop offset="61.06%" stop-color="#2e6f8e"/><stop offset="61.64%" stop-color="#2a788e"/><stop offset="62.6%" stop-color="#22a785"/><stop offset="63.65%" stop-color="#65cb5e"/><stop offset="64.32%" stop-color="#7cd250"/><stop offset="65.18%" stop-color="#6ccd5a"/><stop offset="66.52%" stop-color="#20a486"/><stop offset="67.86%" stop-color="#287d8e"/><stop offset="68.63%" stop-color="#2a768e"/><stop offset="69.88%" stop-color="#287c8e"/><stop offset="71.12%" stop-color="#1fa188"/><stop offset="71.6%" stop-color="#2eb37c"/><stop offset="72.17%" stop-color="#58c765"/><stop offset="73.13%" stop-color="#86d549"/><stop offset="73.71%" stop-color="#86d549"/><stop offset="76.48%" stop-color="#38b977"/><stop offset="77.92%" stop-color="#20a486"/><stop offset="80.99%" stop-color="#24868e"/><stop offset="86.25%" stop-color="#238a8d"/><stop offset="87.12%" stop-color="#1f9f88"/><stop offset="89.51%" stop-color="#42be71"/><stop offset="93.15%" stop-color="#98d83e"/><stop offset="93.82%" stop-color="#8bd646"/><stop offset="95.55%" stop-color="#22a785"/><stop offset="97.75%" stop-color="#25838e"/><stop offset="99.95%" stop-color="#25848e"/></linearGradient><linearGradient id="r51"><stop offset="0.05%" stop-color="#29798e"/><stop offset="2.73%" stop-color="#26828e"/><stop offset="4.17%" stop-color="#1f9f88"/><stop offset="6.37%" stop-color="#26ad81"/><stop offset="8.57%" stop-color="#44bf70"/><stop offset="10.01%" stop-color="#7cd250"/><stop offset="10.87%" stop-color="#86d549"/><stop offset="11.73%" stop-color="#5cc863"/><stop offset="12.4%" stop-color="#28ae80"/><stop offset="12.79%" stop-color="#1fa088"/><stop offset="14.22%" stop-color="#277f8e"/><stop offset="16.52%" stop-color="#297a8e"/><stop offset="19.59%" stop-color="#277f8e"/><stop offset="20.64%" stop-color="#1e9d89"/><stop offset="21.02%" stop-color="#2db27d"/><stop offset="21.6%" stop-color="#67cc5c"/><stop offset="22.17%" stop-color="#9dd93b"/><stop offset="22.65%" stop-color="#b5de2b"/><stop offset="23.9%" stop-color="#c8e020"/><stop offset="25.43%" stop-color="#c8e020"/><stop offset="27.54%" stop-color="#b0dd2f"/><stop offset="28.5%" stop-color="#6ece58"/><stop offset="29.17%" stop-color="#2cb17e"/><stop offset="29.55%" stop-color="#1f9f88"/><stop offset="30.41%" stop-color="#2a768e"/><stop offset="31.85%" stop-color="#2f6c8e"/><stop offset="32.81%" stop-color="#287c8e"/><stop offset="33.67%" stop-color="#21a585"/><stop offset="35.01%" stop-color="#93d741"/><stop offset="35.87%" stop-color="#addc30"/><stop offset="36.73%" stop-color="#aadc32"/><stop offset="38.55%" stop-color="#58c765"/><stop offset="41.04%" stop-color="#21a685"/><stop offset="43.25%" stop-color="#2a788e"/><stop offset="44.97%" stop-color="#27808e"/><stop offset="46.41%" stop-color="#1fa188"/><stop offset="50.34%" stop-color="#70cf57"/><stop offset="55.51%" stop-color="#c2df23"/><stop offset="56.47%" stop-color="#b8de29"/><stop offset="57.81%" stop-color="#4cc26c"/><stop offset="58.67%" stop-color="#1f9e89"/><stop offset="59.34%" stop-color="#23898e"/><stop offset="60.68%" stop-color="#277e8e"/><stop offset="61.54%" stop-color="#228b8d"/><stop offset="62.21%" stop-color="#22a785"/><stop offset="62.69%" stop-color="#3fbc73"/><stop offset="63.55%" stop-color="#98d83e"/><stop offset="64.32%" stop-color="#b8de29"/><stop offset="65.09%" stop-color="#aadc32"/><stop offset="66.24%" stop-color="#3aba76"/><stop offset="66.81%" stop-color="#1fa088"/><stop offset="68.53%" stop-color="#297a8e"/><stop offset="70.16%" stop-color="#26828e"/><stop offset="71.22%" stop-color="#21a685"/><stop offset="72.84%" stop-color="#8ed645"/><stop offset="73.61%" stop-color="#9bd93c"/><stop offset="76.1%" stop-color="#48c16e"/><stop offset="77.92%" stop-color="#21a585"/><stop offset="81.18%" stop-color="#23888e"/><stop offset="85.39%" stop-color="#228d8d"/><stop offset="87.02%" stop-color="#1f9e89"/><stop offset="89.42%" stop-color="#67cc5c"/><stop offset="92.29%" stop-color="#bddf26"/><stop offset="93.25%" stop-color="#cae11f"/><stop offset="94.01%" stop-color="#b5de2b"/><stop offset="95.26%" stop-color="#3aba76"/><stop offset="95.74%" stop-color="#22a785"/><stop offset="96.89%" stop-color="#238a8d"/><stop offset="99.95%" stop-color="#25858e"/></linearGradient><linearGradient id="r52"><stop offset="0.05%" stop-color="#29798e"/><stop offset="2.35%" stop-color="#27808e"/><stop offset="3.78%" stop-color="#1e9d89"/><stop offset="6.66%" stop-color="#34b679"/><stop offset="8.76%" stop-color="#4cc26c"/><stop offset="10.01%" stop-color="#7fd34e"/><stop offset="10.78%" stop-color="#89d548"/><stop offset="11.64%" stop-color="#65cb5e"/><stop offset="12.31%" stop-color="#31b57b"/><stop offset="12.79%" stop-color="#1fa287"/><stop offset="13.75%" stop-color="#23888e"/><stop offset="15.76%" stop-color="#277e8e"/><stop offset="19.4%" stop-color="#27808e"/><stop offset="20.55%" stop-color="#1f9f88"/><stop offset="20.93%" stop-color="#2ab07f"/><stop offset="21.79%" stop-color="#7fd34e"/><stop offset="22.56%" stop-color="#b0dd2f"/><stop offset="23.71%" stop-color="#c5e021"/><stop offset="25.62%" stop-color="#c5e021"/><stop offset="27.63%" stop-color="#addc30"/><stop offset="28.69%" stop-color="#5ec962"/><stop offset="29.17%" stop-color="#31b57b"/><stop offset="29.55%" stop-color="#1fa187"/><stop offset="30.51%" stop-color="#2a788e"/><stop offset="31.85%" stop-color="#2d718e"/><stop offset="32.52%" stop-color="#2a788e"/><stop offset="33.57%" stop-color="#1fa187"/><stop offset="33.86%" stop-color="#2db27d"/><stop offset="34.34%" stop-color="#60ca60"/><stop offset="35.2%" stop-color="#a0da39"/><stop offset="36.35%" stop-color="#b2dd2d"/><stop offset="37.02%" stop-color="#a8db34"/><stop offset="38.94%" stop-color="#4ec36b"/><stop offset="40.95%" stop-color="#23a983"/><stop offset="43.34%" stop-color="#287c8e"/><stop offset="44.97%" stop-color="#26818e"/><stop offset="46.12%" stop-color="#1f9e89"/><stop offset="48.52%" stop-color="#54c568"/><stop offset="53.59%" stop-color="#b0dd2f"/><stop offset="55.89%" stop-color="#c2df23"/><stop offset="56.94%" stop-color="#a0da39"/><stop offset="58.09%" stop-color="#3fbc73"/><stop offset="58.67%" stop-color="#22a884"/><stop offset="60.3%" stop-color="#24878e"/><stop offset="61.06%" stop-color="#24868e"/><stop offset="61.93%" stop-color="#1f9e89"/><stop offset="62.4%" stop-color="#2fb47c"/><stop offset="63.65%" stop-color="#addc30"/><stop offset="64.51%" stop-color="#cde11d"/><stop offset="65.09%" stop-color="#bade28"/><stop offset="66.24%" stop-color="#3dbc74"/><stop offset="66.91%" stop-color="#1f9f88"/><stop offset="67.77%" stop-color="#25858e"/><stop offset="69.01%" stop-color="#297b8e"/><stop offset="70.07%" stop-color="#25858e"/><stop offset="71.12%" stop-color="#21a585"/><stop offset="71.6%" stop-color="#35b779"/><stop offset="72.75%" stop-color="#8bd646"/><stop offset="73.61%" stop-color="#9bd93c"/><stop offset="77.73%" stop-color="#25ab82"/><stop offset="80.99%" stop-color="#228c8d"/><stop offset="86.83%" stop-color="#1e9d89"/><stop offset="87.5%" stop-color="#28ae80"/><stop offset="89.42%" stop-color="#70cf57"/><stop offset="92.48%" stop-color="#d0e11c"/><stop offset="93.44%" stop-color="#d8e219"/><stop offset="94.11%" stop-color="#bade28"/><stop offset="95.16%" stop-color="#40bd72"/><stop offset="95.64%" stop-color="#22a884"/><stop offset="96.89%" stop-color="#228b8d"/><stop offset="99.95%" stop-color="#25858e"/></linearGradient><linearGradient id="r53"><stop offset="0.05%" stop-color="#2a778e"/><stop offset="2.63%" stop-color="#23898e"/><stop offset="3.59%" stop-color="#1f9e89"/><stop offset="5.8%" stop-color="#31b57b"/><stop offset="8.38%" stop-color="#26ad81"/><stop offset="10.49%" stop-color="#4cc26c"/><stop offset="12.6%" stop-color="#1fa187"/><stop offset="14.13%" stop-color="#26818e"/><stop offset="19.2%" stop-color="#25848e"/><stop offset="20.64%" stop-color="#1e9d89"/><stop offset="21.02%" stop-color="#26ad81"/><stop offset="22.65%" stop-color="#86d549"/><stop offset="25.05%" stop-color="#a0da39"/><stop offset="27.63%" stop-color="#7fd34e"/><stop offset="28.69%" stop-color="#4ec36b"/><stop offset="29.65%" stop-color="#1f9f88"/><stop offset="30.6%" stop-color="#29798e"/><stop offset="31.85%" stop-color="#2b748e"/><stop offset="32.61%" stop-color="#277e8e"/><stop offset="33.48%" stop-color="#20a486"/><stop offset="34.82%" stop-color="#6ccd5a"/><stop offset="36.45%" stop-color="#81d34d"/><stop offset="39.42%" stop-color="#2ab07f"/><stop offset="41.04%" stop-color="#1e9d89"/><stop offset="44.11%" stop-color="#2a768e"/><stop offset="46.31%" stop-color="#1e9c89"/><stop offset="49.47%" stop-color="#44bf70"/><stop offset="55.8%" stop-color="#84d44b"/><stop offset="56.75%" stop-color="#73d056"/><stop offset="58.29%" stop-color="#20a486"/><stop offset="60.3%" stop-color="#2c718e"/><stop offset="60.87%" stop-color="#2c728e"/><stop offset="62.21%" stop-color="#1e9c89"/><stop offset="62.6%" stop-color="#25ab82"/><stop offset="63.36%" stop-color="#56c667"/><stop offset="63.94%" stop-color="#77d153"/><stop offset="64.51%" stop-color="#84d44b"/><stop offset="65.37%" stop-color="#5ec962"/><stop offset="66.04%" stop-color="#28ae80"/><stop offset="66.43%" stop-color="#1f9e89"/><stop offset="67.86%" stop-color="#2b748e"/><stop offset="69.59%" stop-color="#2d708e"/><stop offset="71.6%" stop-color="#1fa088"/><stop offset="72.94%" stop-color="#52c569"/><stop offset="74.47%" stop-color="#5ec962"/><stop offset="77.92%" stop-color="#20a386"/><stop offset="80.8%" stop-color="#218e8d"/><stop offset="85.78%" stop-color="#228d8d"/><stop offset="86.93%" stop-color="#1e9c89"/><stop offset="89.42%" stop-color="#65cb5e"/><stop offset="92.29%" stop-color="#bddf26"/><stop offset="93.34%" stop-color="#c8e020"/><stop offset="94.01%" stop-color="#b0dd2f"/><stop offset="95.16%" stop-color="#3dbc74"/><stop offset="95.64%" stop-color="#22a884"/><stop offset="97.08%" stop-color="#218e8d"/><stop offset="99.95%" stop-color="#24868e"/></linearGradient><linearGradient id="r54"><stop offset="0.05%" stop-color="#277f8e"/><stop offset="2.73%" stop-color="#238a8d"/><stop offset="5.22%" stop-color="#32b67a"/><stop offset="8.38%" stop-color="#28ae80"/><stop offset="10.49%" stop-color="#56c667"/><stop offset="11.25%" stop-color="#4ec36b"/><stop offset="12.6%" stop-color="#20a386"/><stop offset="13.65%" stop-color="#228d8d"/><stop offset="15.76%" stop-color="#26828e"/><stop offset="19.59%" stop-color="#24878e"/><stop offset="20.55%" stop-color="#1fa088"/><stop offset="21.12%" stop-color="#35b779"/><stop offset="22.46%" stop-color="#9dd93b"/><stop offset="23.52%" stop-color="#b5de2b"/><stop offset="25.34%" stop-color="#b8de29"/><stop offset="27.63%" stop-color="#9dd93b"/><stop offset="28.69%" stop-color="#5cc863"/><stop offset="29.36%" stop-color="#26ad81"/><stop offset="29.93%" stop-color="#1e9c89"/><stop offset="30.7%" stop-color="#26828e"/><stop offset="31.75%" stop-color="#297b8e"/><stop offset="33.29%" stop-color="#1f9f88"/><stop offset="34.91%" stop-color="#7cd250"/><stop offset="36.06%" stop-color="#90d743"/><stop offset="37.21%" stop-color="#7fd34e"/><stop offset="38.84%" stop-color="#3bbb75"/><stop offset="40.09%" stop-color="#25ac82"/><stop offset="43.44%" stop-color="#277e8e"/><stop offset="44.97%" stop-color="#277f8e"/><stop offset="46.41%" stop-color="#1fa287"/><stop offset="50.43%" stop-color="#63cb5f"/><stop offset="55.6%" stop-color="#addc30"/><stop offset="56.75%" stop-color="#98d83e"/><stop offset="57.81%" stop-color="#48c16e"/><stop offset="58.67%" stop-color="#1fa088"/><stop offset="60.11%" stop-color="#26828e"/><stop offset="61.93%" stop-color="#1f9f88"/><stop offset="62.5%" stop-color="#32b67a"/><stop offset="63.55%" stop-color="#8ed645"/><stop offset="64.32%" stop-color="#b0dd2f"/><stop offset="65.18%" stop-color="#98d83e"/><stop offset="66.14%" stop-color="#38b977"/><stop offset="66.71%" stop-color="#1f9f88"/><stop offset="67.86%" stop-color="#26818e"/><stop offset="69.3%" stop-color="#29798e"/><stop offset="71.31%" stop-color="#20a386"/><stop offset="72.84%" stop-color="#75d054"/><stop offset="73.71%" stop-color="#81d34d"/><stop offset="78.02%" stop-color="#21a685"/><stop offset="80.8%" stop-color="#21908d"/><stop offset="85.49%" stop-color="#21918c"/><stop offset="86.73%" stop-color="#1f9e89"/><stop offset="87.79%" stop-color="#31b57b"/><stop offset="89.42%" stop-color="#6ece58"/><stop offset="93.06%" stop-color="#d5e21a"/><stop offset="93.92%" stop-color="#c5e021"/><stop offset="95.26%" stop-color="#3dbc74"/><stop offset="95.83%" stop-color="#21a685"/><stop offset="97.08%" stop-color="#20928c"/><stop offset="99.95%" stop-color="#23898e"/></linearGradient><linearGradient id="r55"><stop offset="0.05%" stop-color="#27808e"/><stop offset="3.69%" stop-color="#1f9e89"/><stop offset="4.65%" stop-color="#2cb17e"/><stop offset="6.37%" stop-color="#35b779"/><stop offset="6.94%" stop-color="#46c06f"/><stop offset="8.38%" stop-color="#4ac16d"/><stop offset="10.11%" stop-color="#86d549"/><stop offset="10.78%" stop-color="#8ed645"/><stop offset="11.45%" stop-color="#77d153"/><stop offset="12.4%" stop-color="#2db27d"/><stop offset="12.88%" stop-color="#20a386"/><stop offset="14.51%" stop-color="#24868e"/><stop offset="19.59%" stop-color="#23888e"/><stop offset="20.55%" stop-color="#1f9f88"/><stop offset="21.02%" stop-color="#32b67a"/><stop offset="21.6%" stop-color="#70cf57"/><stop offset="22.65%" stop-color="#bade28"/><stop offset="23.71%" stop-color="#cde11d"/><stop offset="24.95%" stop-color="#cde11d"/><stop offset="27.54%" stop-color="#b8de29"/><stop offset="28.11%" stop-color="#9bd93c"/><stop offset="29.36%" stop-color="#29af7f"/><stop offset="29.74%" stop-color="#1fa187"/><stop offset="30.7%" stop-color="#26818e"/><stop offset="31.85%" stop-color="#287c8e"/><stop offset="33.48%" stop-color="#21a585"/><stop offset="34.15%" stop-color="#58c765"/><stop offset="35.11%" stop-color="#a2da37"/><stop offset="36.54%" stop-color="#b5de2b"/><stop offset="37.21%" stop-color="#a5db36"/><stop offset="38.75%" stop-color="#58c765"/><stop offset="40.66%" stop-color="#2db27d"/><stop offset="43.53%" stop-color="#228c8d"/><stop offset="44.88%" stop-color="#228d8d"/><stop offset="45.74%" stop-color="#1f9f88"/><stop offset="49.19%" stop-color="#60ca60"/><stop offset="53.3%" stop-color="#b2dd2d"/><stop offset="55.99%" stop-color="#cae11f"/><stop offset="56.85%" stop-color="#aadc32"/><stop offset="58.57%" stop-color="#28ae80"/><stop offset="60.11%" stop-color="#218f8d"/><stop offset="61.64%" stop-color="#1e9b8a"/><stop offset="62.31%" stop-color="#34b679"/><stop offset="63.65%" stop-color="#b8de29"/><stop offset="64.51%" stop-color="#d5e21a"/><stop offset="65.09%" stop-color="#c5e021"/><stop offset="66.33%" stop-color="#37b878"/><stop offset="66.91%" stop-color="#1f9f88"/><stop offset="69.11%" stop-color="#277f8e"/><stop offset="71.02%" stop-color="#21a585"/><stop offset="71.5%" stop-color="#34b679"/><stop offset="72.84%" stop-color="#95d840"/><stop offset="73.52%" stop-color="#a5db36"/><stop offset="76.2%" stop-color="#4cc26c"/><stop offset="78.02%" stop-color="#21a585"/><stop offset="80.6%" stop-color="#21908d"/><stop offset="86.83%" stop-color="#1f9e89"/><stop offset="87.6%" stop-color="#2ab07f"/><stop offset="89.32%" stop-color="#70cf57"/><stop offset="92.67%" stop-color="#dae319"/><stop offset="93.44%" stop-color="#dfe318"/><stop offset="94.01%" stop-color="#c8e020"/><stop offset="95.26%" stop-color="#3dbc74"/><stop offset="95.74%" stop-color="#25ab82"/><stop offset="97.17%" stop-color="#218e8d"/><stop offset="99.95%" stop-color="#25858e"/></linearGradient><linearGradient id="r56"><stop offset="0.05%" stop-color="#26828e"/><stop offset="2.73%" stop-color="#228b8d"/><stop offset="3.69%" stop-color="#1fa088"/><stop offset="5.22%" stop-color="#35b779"/><stop offset="8.38%" stop-color="#48c16e"/><stop offset="10.01%" stop-color="#7fd34e"/><stop offset="10.78%" stop-color="#89d548"/><stop offset="11.45%" stop-color="#73d056"/><stop offset="12.4%" stop-color="#2db27d"/><stop offset="12.79%" stop-color="#1fa287"/><stop offset="14.03%" stop-color="#23888e"/><stop offset="18.06%" stop-color="#25838e"/><stop offset="20.45%" stop-color="#1f9e89"/><stop offset="21.12%" stop-color="#3bbb75"/><stop offset="21.89%" stop-color="#8bd646"/><stop offset="22.56%" stop-color="#b5de2b"/><stop offset="23.32%" stop-color="#c5e021"/><stop offset="25.62%" stop-color="#c8e020"/><stop offset="26.77%" stop-color="#c5e021"/><stop offset="27.63%" stop-color="#b0dd2f"/><stop offset="28.11%" stop-color="#98d83e"/><stop offset="29.26%" stop-color="#31b57b"/><stop offset="29.84%" stop-color="#1e9b8a"/><stop offset="31.75%" stop-color="#287d8e"/><stop offset="32.61%" stop-color="#24878e"/><stop offset="33.38%" stop-color="#20a486"/><stop offset="34.15%" stop-color="#5ac864"/><stop offset="35.11%" stop-color="#a5db36"/><stop offset="36.16%" stop-color="#b8de29"/><stop offset="37.21%" stop-color="#a8db34"/><stop offset="39.03%" stop-color="#50c46a"/><stop offset="41.71%" stop-color="#20a486"/><stop offset="43.15%" stop-color="#218f8d"/><stop offset="44.88%" stop-color="#21918c"/><stop offset="45.83%" stop-color="#20a386"/><stop offset="47.17%" stop-color="#37b878"/><stop offset="49.57%" stop-color="#4ec36b"/><stop offset="54.45%" stop-color="#a5db36"/><stop offset="55.89%" stop-color="#addc30"/><stop offset="56.66%" stop-color="#9bd93c"/><stop offset="58.67%" stop-color="#25ab82"/><stop offset="60.11%" stop-color="#218f8d"/><stop offset="61.83%" stop-color="#1fa188"/><stop offset="62.4%" stop-color="#35b779"/><stop offset="63.75%" stop-color="#addc30"/><stop offset="64.32%" stop-color="#c2df23"/><stop offset="65.18%" stop-color="#aadc32"/><stop offset="66.24%" stop-color="#3bbb75"/><stop offset="66.91%" stop-color="#1fa188"/><stop offset="67.96%" stop-color="#25848e"/><stop offset="69.68%" stop-color="#2a788e"/><stop offset="71.22%" stop-color="#20a386"/><stop offset="72.84%" stop-color="#86d549"/><stop offset="73.61%" stop-color="#95d840"/><stop offset="77.92%" stop-color="#22a785"/><stop offset="80.12%" stop-color="#20928c"/><stop offset="83.19%" stop-color="#228c8d"/><stop offset="85.87%" stop-color="#218f8d"/><stop offset="86.93%" stop-color="#1f9f88"/><stop offset="88.55%" stop-color="#4ac16d"/><stop offset="93.06%" stop-color="#cae11f"/><stop offset="94.11%" stop-color="#b0dd2f"/><stop offset="95.26%" stop-color="#3bbb75"/><stop offset="95.74%" stop-color="#22a884"/><stop offset="96.89%" stop-color="#21918c"/><stop offset="99.95%" stop-color="#24878e"/></linearGradient><linearGradient id="r57"><stop offset="0.05%" stop-color="#277f8e"/><stop offset="2.73%" stop-color="#23898e"/><stop offset="3.78%" stop-color="#1fa287"/><stop offset="5.12%" stop-color="#32b67a"/><stop offset="6.56%" stop-color="#40bd72"/><stop offset="8.29%" stop-color="#32b67a"/><stop offset="10.3%" stop-color="#69cd5b"/><stop offset="10.87%" stop-color="#69cd5b"/><stop offset="12.6%" stop-color="#20a486"/><stop offset="14.32%" stop-color="#24878e"/><stop offset="15.76%" stop-color="#25858e"/><stop offset="19.59%" stop-color="#238a8d"/><stop offset="20.45%" stop-color="#1f9f88"/><stop offset="21.12%" stop-color="#32b67a"/><stop offset="22.46%" stop-color="#90d743"/><stop offset="24.86%" stop-color="#a8db34"/><stop offset="26.87%" stop-color="#a0da39"/><stop offset="27.83%" stop-color="#8bd646"/><stop offset="28.98%" stop-color="#4cc26c"/><stop offset="29.74%" stop-color="#1fa287"/><stop offset="30.99%" stop-color="#287c8e"/><stop offset="32.33%" stop-color="#25848e"/><stop offset="33.19%" stop-color="#1e9d89"/><stop offset="33.67%" stop-color="#2eb37c"/><stop offset="35.11%" stop-color="#a5db36"/><stop offset="36.45%" stop-color="#b8de29"/><stop offset="37.4%" stop-color="#a0da39"/><stop offset="38.65%" stop-color="#5ac864"/><stop offset="40.09%" stop-color="#38b977"/><stop offset="42.19%" stop-color="#20a386"/><stop offset="44.01%" stop-color="#21918c"/><stop offset="45.64%" stop-color="#20a386"/><stop offset="47.17%" stop-color="#38b977"/><stop offset="48.61%" stop-color="#3dbc74"/><stop offset="52.35%" stop-color="#86d549"/><stop offset="56.08%" stop-color="#aadc32"/><stop offset="56.56%" stop-color="#9dd93b"/><stop offset="58.57%" stop-color="#26ad81"/><stop offset="60.11%" stop-color="#228d8d"/><stop offset="61.83%" stop-color="#1f9f88"/><stop offset="62.4%" stop-color="#31b57b"/><stop offset="63.65%" stop-color="#9bd93c"/><stop offset="64.51%" stop-color="#b8de29"/><stop offset="65.09%" stop-color="#a5db36"/><stop offset="66.33%" stop-color="#31b57b"/><stop offset="66.81%" stop-color="#1fa088"/><stop offset="67.77%" stop-color="#25848e"/><stop offset="70.16%" stop-color="#2a778e"/><stop offset="71.41%" stop-color="#20a486"/><stop offset="72.94%" stop-color="#73d056"/><stop offset="74.09%" stop-color="#7cd250"/><stop offset="75.34%" stop-color="#69cd5b"/><stop offset="77.16%" stop-color="#2eb37c"/><stop offset="78.3%" stop-color="#1fa287"/><stop offset="84.72%" stop-color="#228d8d"/><stop offset="86.93%" stop-color="#1f9e89"/><stop offset="89.42%" stop-color="#6ccd5a"/><stop offset="92.48%" stop-color="#cae11f"/><stop offset="93.44%" stop-color="#d2e21b"/><stop offset="94.2%" stop-color="#b2dd2d"/><stop offset="95.16%" stop-color="#46c06f"/><stop offset="95.74%" stop-color="#22a884"/><stop offset="97.08%" stop-color="#228c8d"/><stop offset="99.95%" stop-color="#25858e"/></linearGradient><linearGradient id="r58"><stop offset="0.05%" stop-color="#228b8d"/><stop offset="3.4%" stop-color="#1fa188"/><stop offset="4.84%" stop-color="#3aba76"/><stop offset="8.57%" stop-color="#56c667"/><stop offset="10.11%" stop-color="#93d741"/><stop offset="10.87%" stop-color="#98d83e"/><stop offset="11.45%" stop-color="#84d44b"/><stop offset="12.69%" stop-color="#29af7f"/><stop offset="13.07%" stop-color="#20a386"/><stop offset="15.76%" stop-color="#218e8d"/><stop offset="19.59%" stop-color="#21918c"/><stop offset="20.35%" stop-color="#1f9f88"/><stop offset="20.93%" stop-color="#34b679"/><stop offset="21.79%" stop-color="#8bd646"/><stop offset="22.37%" stop-color="#b2dd2d"/><stop offset="24.09%" stop-color="#d0e11c"/><stop offset="26.68%" stop-color="#cae11f"/><stop offset="27.54%" stop-color="#bade28"/><stop offset="28.78%" stop-color="#69cd5b"/><stop offset="29.55%" stop-color="#28ae80"/><stop offset="29.84%" stop-color="#1fa188"/><stop offset="31.56%" stop-color="#25838e"/><stop offset="33.29%" stop-color="#22a785"/><stop offset="33.67%" stop-color="#37b878"/><stop offset="34.91%" stop-color="#aadc32"/><stop offset="35.87%" stop-color="#c8e020"/><stop offset="37.12%" stop-color="#bade28"/><stop offset="38.75%" stop-color="#67cc5c"/><stop offset="39.99%" stop-color="#44bf70"/><stop offset="42.58%" stop-color="#21a585"/><stop offset="44.78%" stop-color="#1fa287"/><stop offset="48.42%" stop-color="#63cb5f"/><stop offset="52.92%" stop-color="#bddf26"/><stop offset="55.7%" stop-color="#dde318"/><stop offset="56.37%" stop-color="#d5e21a"/><stop offset="56.94%" stop-color="#b8de29"/><stop offset="58.19%" stop-color="#4ac16d"/><stop offset="58.76%" stop-color="#29af7f"/><stop offset="60.2%" stop-color="#20928c"/><stop offset="61.45%" stop-color="#1f9f88"/><stop offset="62.31%" stop-color="#3fbc73"/><stop offset="63.65%" stop-color="#cae11f"/><stop offset="64.7%" stop-color="#e5e419"/><stop offset="65.37%" stop-color="#bade28"/><stop offset="66.24%" stop-color="#4ac16d"/><stop offset="67.1%" stop-color="#1f9e89"/><stop offset="69.3%" stop-color="#238a8d"/><stop offset="70.16%" stop-color="#228c8d"/><stop offset="70.93%" stop-color="#21a585"/><stop offset="71.5%" stop-color="#3bbb75"/><stop offset="72.65%" stop-color="#9bd93c"/><stop offset="73.32%" stop-color="#b2dd2d"/><stop offset="74.09%" stop-color="#aadc32"/><stop offset="76.1%" stop-color="#5cc863"/><stop offset="78.59%" stop-color="#20a486"/><stop offset="81.66%" stop-color="#1f958b"/><stop offset="86.64%" stop-color="#1f9e89"/><stop offset="87.4%" stop-color="#2eb37c"/><stop offset="89.13%" stop-color="#77d153"/><stop offset="92%" stop-color="#d5e21a"/><stop offset="93.34%" stop-color="#eae51a"/><stop offset="94.01%" stop-color="#d5e21a"/><stop offset="95.45%" stop-color="#3aba76"/><stop offset="95.83%" stop-color="#26ad81"/><stop offset="96.79%" stop-color="#1f968b"/><stop offset="99.95%" stop-color="#218e8d"/></linearGradient><linearGradient id="r59"><stop offset="0.05%" stop-color="#21908d"/><stop offset="3.3%" stop-color="#22a785"/><stop offset="4.17%" stop-color="#3fbc73"/><stop offset="5.8%" stop-color="#5ac864"/><stop offset="8.48%" stop-color="#75d054"/><stop offset="10.2%" stop-color="#bddf26"/><stop offset="10.78%" stop-color="#c2df23"/><stop offset="11.35%" stop-color="#b0dd2f"/><stop offset="12.69%" stop-color="#35b779"/><stop offset="13.17%" stop-color="#22a785"/><stop offset="14.13%" stop-color="#1f958b"/><stop offset="20.16%" stop-color="#21a585"/><stop offset="20.83%" stop-color="#42be71"/><stop offset="22.17%" stop-color="#d5e21a"/><stop offset="22.84%" stop-color="#f1e51d"/><stop offset="23.9%" stop-color="#fbe723"/><stop offset="27.54%" stop-color="#eae51a"/><stop offset="28.21%" stop-color="#c5e021"/><stop offset="29.55%" stop-color="#37b878"/><stop offset="30.03%" stop-color="#1fa287"/><stop offset="31.94%" stop-color="#218f8d"/><stop offset="33.09%" stop-color="#24aa83"/><stop offset="33.57%" stop-color="#42be71"/><stop offset="34.91%" stop-color="#cae11f"/><stop offset="36.16%" stop-color="#eae51a"/><stop offset="37.31%" stop-color="#d5e21a"/><stop offset="38.46%" stop-color="#93d741"/><stop offset="39.8%" stop-color="#60ca60"/><stop offset="42.67%" stop-color="#2db27d"/><stop offset="44.59%" stop-color="#23a983"/><stop offset="47.08%" stop-color="#5ec962"/><stop offset="51.87%" stop-color="#cde11d"/><stop offset="55.89%" stop-color="#fde725"/><stop offset="56.56%" stop-color="#efe51c"/><stop offset="57.04%" stop-color="#d2e21b"/><stop offset="58.29%" stop-color="#5ac864"/><stop offset="58.96%" stop-color="#31b57b"/><stop offset="60.11%" stop-color="#1f9f88"/><stop offset="60.87%" stop-color="#1fa287"/><stop offset="62.02%" stop-color="#31b57b"/><stop offset="62.4%" stop-color="#56c667"/><stop offset="63.27%" stop-color="#cae11f"/><stop offset="63.65%" stop-color="#ece51b"/><stop offset="64.03%" stop-color="#fde725"/><stop offset="64.89%" stop-color="#fde725"/><stop offset="65.47%" stop-color="#d2e21b"/><stop offset="66.62%" stop-color="#3dbc74"/><stop offset="67.39%" stop-color="#20a486"/><stop offset="68.53%" stop-color="#21908d"/><stop offset="70.83%" stop-color="#25ab82"/><stop offset="71.5%" stop-color="#54c568"/><stop offset="72.65%" stop-color="#c0df25"/><stop offset="73.61%" stop-color="#d8e219"/><stop offset="76.1%" stop-color="#7cd250"/><stop offset="78.4%" stop-color="#29af7f"/><stop offset="85.97%" stop-color="#1fa187"/><stop offset="87.02%" stop-color="#2eb37c"/><stop offset="88.75%" stop-color="#84d44b"/><stop offset="90.85%" stop-color="#cde11d"/><stop offset="92.29%" stop-color="#f8e621"/><stop offset="93.73%" stop-color="#fde725"/><stop offset="94.4%" stop-color="#d0e11c"/><stop offset="95.45%" stop-color="#4ac16d"/><stop offset="95.93%" stop-color="#2ab07f"/><stop offset="99.95%" stop-color="#1f988b"/></linearGradient></defs><g shape-rendering="crispEdges"><rect x="120" y="30" width="1044" height="8" fill="url(#r0)"/><rect x="120" y="38" width="1044" height="8" fill="url(#r1)"/><rect x="120" y="46" width="1044" height="8" fill="url(#r2)"/><rect x="120" y="54" width="1044" height="8" fill="url(#r3)"/><rect x="120" y="62" width="1044" height="8" fill="url(#r4)"/><rect x="120" y="70" width="1044" height="8" fill="url(#r5)"/><rect x="120" y="78" width="1044" height="8" fill="url(#r6)"/><rect x="120" y="86" width="1044" height="8" fill="url(#r7)"/><rect x="120" y="94" width="1044" height="8" fill="url(#r8)"/><rect x="120" y="102" width="1044" height="8" fill="url(#r9)"/><rect x="120" y="110" width="1044" height="8" fill="url(#r10)"/><rect x="120" y="118" width="1044" height="8" fill="url(#r11)"/><rect x="120" y="126" width="1044" height="8" fill="url(#r12)"/><rect x="120" y="134" width="1044" height="8" fill="url(#r13)"/><rect x="120" y="142" width="1044" height="8" fill="url(#r14)"/><rect x="120" y="150" width="1044" height="8" fill="url(#r15)"/><rect x="120" y="158" width="1044" height="8" fill="url(#r16)"/><rect x="120" y="166" width="1044" height="8" fill="url(#r17)"/><rect x="120" y="174" width="1044" height="8" fill="url(#r18)"/><rect x="120" y="182" width="1044" height="8" fill="url(#r19)"/><rect x="120" y="190" width="1044" height="8" fill="url(#r20)"/><rect x="120" y="198" width="1044" height="8" fill="url(#r21)"/><rect x="120" y="206" width="1044" height="8" fill="url(#r22)"/><rect x="120" y="214" width="1044" height="8" fill="url(#r23)"/><rect x="120" y="222" width="1044" height="8" fill="url(#r24)"/><rect x="120" y="230" width="1044" height="8" fill="url(#r25)"/><rect x="120" y="238" width="1044" height="8" fill="url(#r26)"/><rect x="120" y="246" width="1044" height="8" fill="url(#r27)"/><rect x="120" y="254" width="1044" height="8" fill="url(#r28)"/><rect x="120" y="262" width="1044" height="8" fill="url(#r29)"/><rect x="120" y="270" width="1044" height="8" fill="url(#r30)"/><rect x="120" y="278" width="1044" height="8" fill="url(#r31)"/><rect x="120" y="286" width="1044" height="8" fill="url(#r32)"/><rect x="120" y="294" width="1044" height="8" fill="url(#r33)"/><rect x="120" y="302" width="1044" height="8" fill="url(#r34)"/><rect x="120" y="310" width="1044" height="8" fill="url(#r35)"/><rect x="120" y="318" width="1044" height="8" fill="url(#r36)"/><rect x="120" y="326" width="1044" height="8" fill="url(#r37)"/><rect x="120" y="334" width="1044" height="8" fill="url(#r38)"/><rect x="120" y="342" width="1044" height="8" fill="url(#r39)"/><rect x="120" y="350" width="1044" height="8" fill="url(#r40)"/><rect x="120" y="358" width="1044" height="8" fill="url(#r41)"/><rect x="120" y="366" width="1044" height="8" fill="url(#r42)"/><rect x="120" y="374" width="1044" height="8" fill="url(#r43)"/><rect x="120" y="382" width="1044" height="8" fill="url(#r44)"/><rect x="120" y="390" width="1044" height="8" fill="url(#r45)"/><rect x="120" y="398" width="1044" height="8" fill="url(#r46)"/><rect x="120" y="406" width="1044" height="8" fill="url(#r47)"/><rect x="120" y="414" width="1044" height="8" fill="url(#r48)"/><rect x="120" y="422" width="1044" height="8" fill="url(#r49)"/><rect x="120" y="430" width="1044" height="8" fill="url(#r50)"/><rect x="120" y="438" width="1044" height="8" fill="url(#r51)"/><rect x="120" y="446" width="1044" height="8" fill="url(#r52)"/><rect x="120" y="454" width="1044" height="8" fill="url(#r53)"/><rect x="120" y="462" width="1044" height="8" fill="url(#r54)"/><rect x="120" y="470" width="1044" height="8" fill="url(#r55)"/><rect x="120" y="478" width="1044" height="8" fill="url(#r56)"/><rect x="120" y="486" width="1044" height="8" fill="url(#r57)"/><rect x="120" y="494" width="1044" height="8" fill="url(#r58)"/><rect x="120" y="502" width="1044" height="8" fill="url(#r59)"/></g></svg><canvas id="sp" width="1044" height="480"></canvas><svg width="1500" height="600" viewBox="0 0 1500 600" font-family="'Liberation Sans', sans-serif" fill="#000"><defs><linearGradient id="cb" x1="0" y1="1" x2="0" y2="0"><stop offset="0%" stop-color="#440154"/><stop offset="6.25%" stop-color="#48186a"/><stop offset="12.5%" stop-color="#472d7b"/><stop offset="18.75%" stop-color="#424086"/><stop offset="25%" stop-color="#3b528b"/><stop offset="31.25%" stop-color="#33638d"/><stop offset="37.5%" stop-color="#2c728e"/><stop offset="43.75%" stop-color="#26828e"/><stop offset="50%" stop-color="#21918c"/><stop offset="56.25%" stop-color="#1fa088"/><stop offset="62.5%" stop-color="#28ae80"/><stop offset="68.75%" stop-color="#3fbc73"/><stop offset="75%" stop-color="#5ec962"/><stop offset="81.25%" stop-color="#84d44b"/><stop offset="87.5%" stop-color="#addc30"/><stop offset="93.75%" stop-color="#d8e219"/><stop offset="100%" stop-color="#fde725"/></linearGradient></defs><rect x="1229" y="30" width="25" height="481" fill="url(#cb)"/><g fill="none" stroke="#000" stroke-width="1" shape-rendering="crispEdges"><rect x="120.5" y="30.5" width="1044" height="480"/><rect x="1229.5" y="30.5" width="24" height="480"/><path d="M142.5 511v4M229.5 511v4M316.5 511v4M403.5 511v4M490.5 511v4M577.5 511v4M664.5 511v4M751.5 511v4M838.5 511v4M925.5 511v4M1012.5 511v4M1099.5 511v4M115 410.5h5M115 310.5h5M115 210.5h5M115 110.5h5M1254 510.5h5M1254 427.5h5M1254 344.5h5M1254 261.5h5M1254 178.5h5M1254 95.5h5"/></g><g><text x="363" y="21.6" font-size="16.9" text-anchor="start" textLength="126.6" lengthAdjust="spacingAndGlyphs">NAXYS-SN0010</text><text x="495" y="21.6" font-size="16.9" text-anchor="start" textLength="99.6" lengthAdjust="spacingAndGlyphs">hydrophone</text><text x="600" y="21.6" font-size="16.9" text-anchor="start" textLength="104.6" lengthAdjust="spacingAndGlyphs">spectrogram</text><text x="710" y="21.6" font-size="16.9" text-anchor="start" textLength="16.8" lengthAdjust="spacingAndGlyphs">at</text><text x="732" y="21.6" font-size="16.9" text-anchor="start" textLength="95.6" lengthAdjust="spacingAndGlyphs">2025-10-05</text><text x="834" y="21.6" font-size="16.9" text-anchor="start" textLength="85.6" lengthAdjust="spacingAndGlyphs">12:08:39Z</text><text x="642" y="590.1" font-size="14.1" text-anchor="middle" textLength="33.8" lengthAdjust="spacingAndGlyphs">Time</text><text transform="translate(56.58 287.5) rotate(-90)" font-size="14.1" text-anchor="middle" textLength="70.8" lengthAdjust="spacingAndGlyphs">Frequency</text><text transform="translate(56.58 232.5) rotate(-90)" font-size="14.1" text-anchor="middle" textLength="28.6" lengthAdjust="spacingAndGlyphs">[Hz]</text><text transform="translate(1286.42 224) rotate(90)" font-size="14.1" text-anchor="middle" textLength="59.6" lengthAdjust="spacingAndGlyphs">Pressure</text><text transform="translate(1286.42 270) rotate(90)" font-size="14.1" text-anchor="middle" textLength="23.6" lengthAdjust="spacingAndGlyphs">[dB</text><text transform="translate(1286.42 293) rotate(90)" font-size="14.1" text-anchor="middle" textLength="13.6" lengthAdjust="spacingAndGlyphs">re</text><text transform="translate(1286.42 309) rotate(90)" font-size="14.1" text-anchor="middle" textLength="7.6" lengthAdjust="spacingAndGlyphs">1</text><text transform="translate(1286.42 333) rotate(90)" font-size="14.1" text-anchor="middle" textLength="29.6" lengthAdjust="spacingAndGlyphs">uPa]</text><text transform="translate(139 529) rotate(-45)" font-size="14.1" text-anchor="end" textLength="61" lengthAdjust="spacingAndGlyphs">12:08:39</text><text transform="translate(226 529) rotate(-45)" font-size="14.1" text-anchor="end" textLength="61" lengthAdjust="spacingAndGlyphs">12:08:39</text><text transform="translate(313 529) rotate(-45)" font-size="14.1" text-anchor="end" textLength="61" lengthAdjust="spacingAndGlyphs">12:08:39</text><text transform="translate(400 529) rotate(-45)" font-size="14.1" text-anchor="end" textLength="61" lengthAdjust="spacingAndGlyphs">12:08:39</text><text transform="translate(487 529) rotate(-45)" font-size="14.1" text-anchor="end" textLength="61" lengthAdjust="spacingAndGlyphs">12:08:39</text><text transform="translate(574 529) rotate(-45)" font-size="14.1" text-anchor="end" textLength="61" lengthAdjust="spacingAndGlyphs">12:08:39</text><text transform="translate(662 529) rotate(-45)" font-size="14.1" text-anchor="end" textLength="63" lengthAdjust="spacingAndGlyphs">12:08:40</text><text transform="translate(749 529) rotate(-45)" font-size="14.1" text-anchor="end" textLength="63" lengthAdjust="spacingAndGlyphs">12:08:40</text><text transform="translate(836 529) rotate(-45)" font-size="14.1" text-anchor="end" textLength="63" lengthAdjust="spacingAndGlyphs">12:08:40</text><text transform="translate(923 529) rotate(-45)" font-size="14.1" text-anchor="end" textLength="63" lengthAdjust="spacingAndGlyphs">12:08:40</text><text transform="translate(1010 529) rotate(-45)" font-size="14.1" text-anchor="end" textLength="63" lengthAdjust="spacingAndGlyphs">12:08:40</text><text transform="translate(1097 529) rotate(-45)" font-size="14.1" text-anchor="end" textLength="63" lengthAdjust="spacingAndGlyphs">12:08:40</text><text x="109.5" y="416.1" font-size="14.1" text-anchor="end" textLength="41.6" lengthAdjust="spacingAndGlyphs">10000</text><text x="110.5" y="316.1" font-size="14.1" text-anchor="end" textLength="42.8" lengthAdjust="spacingAndGlyphs">20000</text><text x="109.5" y="216.1" font-size="14.1" text-anchor="end" textLength="41.8" lengthAdjust="spacingAndGlyphs">30000</text><text x="109.5" y="116.1" font-size="14.1" text-anchor="end" textLength="41.8" lengthAdjust="spacingAndGlyphs">40000</text><text x="1266" y="516.1" font-size="14.1" text-anchor="start" textLength="7" lengthAdjust="spacingAndGlyphs">0</text><text x="1264" y="433.1" font-size="14.1" text-anchor="start" textLength="17.6" lengthAdjust="spacingAndGlyphs">20</text><text x="1265" y="350.1" font-size="14.1" text-anchor="start" textLength="15" lengthAdjust="spacingAndGlyphs">40</text><text x="1264" y="267.1" font-size="14.1" text-anchor="start" textLength="17.6" lengthAdjust="spacingAndGlyphs">60</text><text x="1264" y="184.1" font-size="14.1" text-anchor="start" textLength="17.6" lengthAdjust="spacingAndGlyphs">80</text><text x="1265" y="101.1" font-size="14.1" text-anchor="start" textLength="24.6" lengthAdjust="spacingAndGlyphs">100</text></g></svg><script>(function(){var c=document.getElementById('sp');if(!c.getContext)return;var x2=c.getContext('2d');var W=1044,H=480,GW=262;var b=atob('YWRkY2NcXWhudHx/hIuOj5CSlZmepauxucHGysrIwLOjkIBxaWdlZWVkZGtraWlZWV1eaHB1iqe7zNfg5OTm5+jo6Ofm5ePf2tHDsZqCbFlPTUxQU1dieJCovMrT1tjY19PNxb2zrq6qpJ6ZkYF4cGtkY2dob3WAi5agpauvs7e6vcDDx8rOztDV2Nvd3+Dh4uTj4NnOwK2bf25waGNianF7jJq1ytfh5ePby7afh3JkW1ZVVVNXXGd4j6a3w8vR0c/Lxb+7ta+po52Zk4+Ig31zb2dmY2NxcWlpZmZqamlqcXh/jJWjr7a9wcTIzdHV2drd3t3az8Cwl4Z4cHNxampra2xsbFdaW1lZV1hbYmhxe4GBhIaHkZSUmaCnsLi+xMjIxb6xn4h2cGheXFlZWVlcXGRkWFheX1hgeIylusrV3ODj5ebn5+fl5OPh3NfQwq6VfGVWTUpIQURXYm+Ko7nI0dXX1tTQysK6t7Krp5+YkYd/dmdhZmVjZG51fYiLlqOpq6+2ubu+wMTHy8/S1dfY2t3f4OHh4d3Wzb6qlYR0a2RbWl5lcYSdtsjV3uHg2Mm1m4FoWVVQSUhKTVJdcYmftMPLzs7MyMS+uLKspp6XlpCJgnVsbmlgX11dWlphYWNjW1tqa2Rrc4KXpKy0ur/CxsvP09bZ3N7d18y8p5WDeHBoZmNjaWlXV1dfWlphYWFiaG5ud3h+ioyGiJqcl5yiqbO6wcbHyMjAtKSPfnJqaWdYWF1dZWVhYV5eY2RlbIKUp7vM2N7i5efn5+no5uXk4t/a0cSwmH9oXlVGRFVZWmV6kam8ytLY2djW0cvEvbaxq6eknpOJiYBrZmloX2BudH6Jk52lq7C0t7q+wcTIys7R1NXY3N7e4OLj5eTf2M7ArJmMfmpiYmJnbnyNorfK2N/i49vLt5yBc2VaVVVUUFNganWMpbfEzNHSz8vFv7q0r6qnopuViYKAeXRwc3JhYWZmbm5jY2Nja2xpcHyJlqOwt7zAxMjN0dTX297f3trPv62Xhn93c3FtbGxsbGxsXF1eUFFhYlpgbHV8go2Ph4mRlJqfpKu0vMDGysvKwrOgjnxrYmhmZWRVVWRkYWFgYGFiZGx9kae8zdjg5OXn6Onp6Ojn5ePi3dPFsZh8ZVxTTEtHSlFdc42nvc3V2tvb2dXOxr64sq+qqKKYj4F3cGtmZmRla3J9iZmip62zt7q9v8LHys3R09bZ3N3f4uTl5ufm49zQwa+bg3JtZmRjY2p3iqK5zNrj5uXdzrmfhXdpVE9SUVNXWGJzi6O3xs/U1NHNx8K7tbGroZqZkouEd293cmBfYGBgYGFhWVloaF9ganF3hpelsrm8wcXJzdLV2dzf4uHaz7+rmYhsYnJwc3NmZmpqaldWVllaXl5gZnN7gYaGiZCRl5qdoqivtb7GzM/PzcW2pJSEdGxhX2RjaGheXmBgX19UVWtzgpWqv87a4uXo6enp6urp6ejm497WyLOah3JdU0ZFT1NhbHKNq8HQ2Nvd3dvX0cnBu7WxraKcmpF8cm9qbm1mZ2Npe4eXoaSrs7e7vsHEyMzP0tfa3d/i5ebn6err6ujh1cWynpCCbmdiYV5ldoqovc/d5+rn39G7o4ltX1pVU1JSVWJse5Knu8nS1tfV0MrEwby1sKOdlY6Si3hvbmltbGNjZWVmZmpqaGhpam51foydqrG5vsPHy8/T2Nzg4+Pi3tPCrZmHenFsamZmampwcHBVVlZhYV5eWmByeoeMi46SlI6SlpyosLS+x83S08/HuKWVhG9naWdgX2ZmX19hYWVlamtkbHyRq8HQ2+Pm6uvr6+vr6unp6OXg18mzmIBoWlFMSz9CUVx2kKzD0tvf4N/d29TLw7+5tLCpopiOhXtmYWxsa2xxeIOOnKaqsbe7ur7Ex8vP09bb3uHj5ujq6+zs7e3p4tbGtKCId3JqXFxla3eLpL7S4Ort6+PUvqOIaltWUUtLU1Zha3qSqLzM1dra1tLNx8G7tK6oopyVjIR8dHRvamlmZltbYGBsbGxsZWZmbX6MmKe0u7/Eys7Q1dre4+bm5uHWxbCZh3Ztc3FsbGpqZ2dnYGdnaWlfYF9mbHWHjIyOj5GVmJedpa66wsrQ1NTQx7ilmYhvZ2hmY2NmZmVlZGRhYWVmZm5/k6jA097k6Ojp7Ozr6+rq6unn4tnLt55/Z2BXVlVSVlRfe5Ssw9Td4ePi4N3XzcW/ubSwrKadlIF3dG9kY2prc3qEj5ymrLK4vL/Dx8rO0tXY3+Li5ebo7O7v8PDv6+XaybWhjHt3b2BfY2l3i6e/1OPr7+zk1r+njmtcWVNTU1JVXGaBl6y/ztfb29vWz8nCu7awqaOinJCJgHlpZG5tZWVlZWxsZmZtbW9wZm1/jpqotb3EyMrO1Njb3+Pm6Ofi18awnYt4b3Vzbm5sbHJycl1nZ1ZXZmdkam53gIaFiI6QjJCaoKKqucLK0NTV0Me7qJOAbWReXGdnZmZmZmdnZ2djZF5me5CowNPe5enq6+vr7Ozq6urp5uLZy7WagGhgV0pITlJVYG+MrcTT3OLj4uDc1c3Ev7m0r6qjn5aBdnBqZ2ZmZ3B2g4+bpayytLi+wsjLztLU2Nzf4uXn6uzu7u7w7+zl2sm1oI9/b2dnZlphdYqqwdTi6+/u5tW+pYppWk9KSkpBRFtld5Gqv83X3t7a1c7Hw7y2sKminZaRioF5dHBnZmRkcHBnZ2pqa2tub2ZtfYycqrK7wcXLz9DU3ODk5+no4tfHs5qHd25raWlobW1vb29WXV1bW11dVl1veHd+h4qKjJWZmqCnr7O+yM/T1NDHuKSLdm5lY2FSUVtbZGReXlxcWVpfZ3iOq8HQ2+Xo6Onq6uvq6eno5+Xh2cqzlnxjVk1HRkxPUVxph6vC09zg4eLg2dLLw7ixsKunoJySg3lsZmtqZGVmbHyJlaGor7W5vsHFyczQ1Njb3uLk5unr7e7v7+7r5NnItJ6Idm1lX15lbHOIoL3U4uru7OTVvqGEa1xQS0tLQ0ZdZ3GMqL3N1tra19PPyb+4ta+mn5iQhXxwZ25pXVxlZGNja2tgYGdnZmdlbHOEnaqxusHGy8/T19re4uXn5uLXx7SVf3pyXVtnZ2Jib29vXF5eXl5iY1pgdHyGi4yPjI6Pk5qfqbG3wMjO0tPOxrillINyalxaZmZiYmFhYmJnZ2VmY2t9kqvB097j5unq6urr6+rq6unm4tjKtZyEbV9WWllWWlVgepOqwdDZ3+Dg3tjRzMS6tK+rqqSbkYV7c25tbGtsb3V5h5WhrbO2ur/CxsnLz9PX3N/f4ufp6+3u7+/u6eLYx7Whjn5vZ2hnY2p+kaa/1OLq7uzk1sCggnFiVVBUVFBTZG51j6e9zdfa2tbRz8jCvLaxqaKdloyEhX50cG1sYGBsbG9vbm5jY2lqbHKBj52qsrrBxsvP0dXa3uHk6Ofi18azno13bnh2b29sbG1tbV5eX1xcU1RgZm93foSGiYyOkpWWnKausbvEys7OysK1opODdm5lY2lpYmJfX2JiYWFlZl9ngJOnvc/a3+Pl5+fo6eno6Ono5ODWyLWdgGlfVldWUFNVYHONqL3N1tjZ29nVz8a+s62uq6WfmpCGfHFsXFxiZGVse4eWoamvtLi6vcHEyMzQ09XY3N/g4+Xn6Orq6uji1cWwmYh4dW1VVWVrd4ulvdDe6Ozn39G7nH56bFJNRkVUWFZfdY6nu8rU2NjW0czGwLqyrKafl5COhn11cWxhYGRkZ2dpaWFhYWFlZmVsfoyWpLG5vMHGys/T19ve4eTj39TEsJiGcGdoZm1tcHBoaGhhY2RVVWNjbXFxeH2DhoiMjouOk5ihqK+3vsTHyMW9s6SRgXVsZmRgYGFhYGBjY2BgZWZmbnmNpLnL1dvf4ePj5Obn6Ojm5OLd1MeymX5mZFtMS0dKV2FrhaS3xc7T1dPRz8nAuLWwq6minZOJf3V8eGdmcXJvdoKNmaOor7W4uLq8vsLGys3P0tXY2t3g5Ofp6ejm39PDrpmHd3BpX15aYH+RpbrN2+Xo5d3Qup+Eb2JfWk5NWFtZYnmQpbnH0NXV0c3Iwr24sq2oo5iSiYJ8dXdyaGdubW9vZ2djY2dodXZudXmHl6OstLq/w8fJzdPX297f3tnPwa+YhnhvamhtbW9vbW1tYWBgW1teX2ZoY2lzeHt+gIKChYmOnKOosLa7v8C8taucjoBvZ2NiYmJgYFdXWlpjY2RlYmp9j6K1wcvS1tna293h4+Xm4+Lf2tLEsZp8ZFhPUlFQU1ZgboSdrrrCysvKyMS+tq6oo6KinpqSiIF4bGdnZmlqbXSCjZKdp62wsra2t7e4u7/CxcjKzM/S19zg4+Xk4tvPwK2Zfm1fV2BgYmh1iJ+1yNbd4d/XybSfh2BUWVRVVVFUWGFzip+zwcnOz83JxL64s6+qoJqWj4qEgHplYGZlZmZaWmpqaGhlZWBhZWt2g5Odpa2ytru/w8fN0dXX19bSyrysm4xzaWhmaWljY2xsbEpcXF5eY2NkZFteZWpvcXh5d3p/hY6VmqKorrKzsKqilox/dW1gXlZVYGBbW2JiX19kZWJqdoefrbe/xcnNztDS19ve4ODe29bOwa+Yf2lWTU1MS05WX2h+mKi1vcPEw8K8tq+no56am52bj4WIf2hjZmVtbmpwe4aWoKWqra+wrqyqqq2ytbe6vcDBxc7W3ODi4d/Yy7umkH1tZV9aWmBkcYOZsMLQ2Nza0sSwlHplW1ROTUxLTlZdc4ibrr3FysrHw7y2s62nop2XjIWGgW5ncm5ranBwY2NeXmFhaWlkZW90eYKCjpyjqa2ytbq+wcXIy83Mx8G1po9+eXBcWmpqZWVqampiX2BQUWFhXV1nZ2JkYWNmaGlsc3h8g4iQmJ6io6Gclo6AdHJqYV9kZF5eY2NhYV9fZWZgaHqIlKGqsbi8vr/AxMvS2Nzd29jSy7+rkn5oX1ZOTEdKWGFvhZqsucHHyMjHwbq0raSfnp2em5iQhn15dGZlZmhvdn+KlJ6lqq6uq6agnJufpaioq66xtLrCzdfd4eHf18u5ppF5amJfYGBRU21+k6m7ydPW1c28qJJ6amRaVUtLSk1aYGl/lqi2vsPDwLy3sa+qoZuYkouFgHx0b3BtaGdqanBwaGhqamJiX2BxdXR6f4aQl5ygpKissLW5u72/vru3saWUhoB4ZmRra2VlcHBwWF9fXl9cXGZmW1tgYFlZYWJiY2twcHeBiZCVmZqWkpKNhn11bmlnY2NnZ2BgZGRnaGVmY2p2hJGco6itsbS0tbnCytHX19bUz8q/q5OCbVNKT05RVGBqaoOfs8LLz9DRz8vEvLStp6imop6WjYZ9cm1kY3FyanB+iZWfpqywsKunop2foqWprK+xtLe8x9La4OLi39fKt6CHcWNeXmVlZmZhcIyhtMLKzczEtaCHbmNgUEpFRU9TVltfc46grba6u7m1sKqjnZmUkIqCfHVzcm9tamVkcXFmZmpqaWlra2doZml5fHyAiZCWmp+ipqqusrW4ubi2tK2ikYJ7c2tpd3dzc3FxcWBQUFNTVlZVVVNUVlhlZ2VnZGhvdXqCipOboaWmo56akX5wZV1fXldXXV1aWlBQVlZcXF1kcoOVpKuyuby9vbu7wMPIzc7MycW/t6iRfWdSSUxKTFBNWHGKpLnK0tbX1tTRysK5sq2moqKclIp7cWRfYmFfYGRrgIuVn6WrrrCvrayrrbGzt7q9v8LFyc/X3uPl5eLay7aZe2VZU1NaWlJSXWqAm6+9x8rIwLKcgGZUUVRORUVHSktRX3CGm6mytbW1sKmjm5STjYN8dG1ra3FwZWJfXmVkY2NhYWJiXV1kZWlteH+BiI2WnaKnq62xtbm+wcLCv7uzpJWGe3JqaGBgYWFiYmJcXV1SUmRlZGReYWpvb3J1d3p9g4iNlaCosLa6u7ixqJyKe3JqZGJZWWJiZmZra2lqZmdlbXuMoLG+xsrO0tDKxcO/wcPCwb66ubWqmYFsYVhLSVNWYGtxjKq/ztfc3t3b2NHJwbm0sa2oopaLgnh2cWZlaWpnbniFmKKpr7S3uLm4ubu+wsbJy87Q09bb4OTn6ejm3tG8oYZ0Z1paZ2dfX2V1j6a6yM/T0cm7pItyY19aVVFQT1NgZWB1kKSyvMHBvrq0rqihm5aOh4R9eHdyb2toZmVubmhoaWlmZmVlZGVyd3J+jpihqa6ztrq9wcjMztHU08/JvKybi3dubGpubmZmcnJyU1hZX19bXF5gYml3fXl8g4WHi4uRmaGttb3Dx8fEvLCgkIBtZWZlY2NbW1ZWYWFgYF5fZm15jaO4x9HX29zb1tDJw8PEw8LBvbm0p5KAalhPUVBOUVRfd5Gtw9DZ3uDg3trTy8K6tLGtqaOYjYZ8dG9wb2dpa3J/i5eiq7G3urq8vL7CxsrN0NPV2Nvd4eXo6uvr59/UwaaLfGtbWVxcXl9mepiww9Hb39zVx7CXfWliUEpPT0tOXmVthJqvvsfMzcrFwbu1r6agmpSRioF9enVoZGVkZmZkZGRkX19tbWdoZGp+ipCdq7O4vcDEx8vR1dnc3t3Z0MKwm4l+dnFva2tqamhoaFRhYlxcW1tlam51eX+GiIeJjZGZnqOrsrvEys7PysK1opSEbmZdW1hYampjY2RkV1deX2FpeY6mvc7Y3uLk5N/b1tLR0dHQy8fGvq6YfmdcU0pJUVRWYXiSq8PT3OHi4eDc1c3EvrizrqmjmY+Fe3ZxaWhpam51doSWoauxtrq8vsLEx8rO0dbY2Nrf4ePm6evq6eni1MKqkYFwXVlgYF5han+btcvZ4eTk3M23mHllW0xHTUxLT2FodIyht8fQ1NXRzMa/u7WuqJ6XlY6IgnBocGteXWNjZGRfX2ZmZWVnaGZsf42WpLC4vMDGys7T19vf4uTj3NLEsJqHdm1nZWpqZmZjY2NcXFxXV1tbZWppcnuBjZCMjomNk5mlrbS9x83Q0c3EuaiQfXNrZmRdXWBgXl5kZGJiX2Brc32RqcDQ2+Ll5ubl49/d3d3c29nVz8SxmX5nSkFDQlBUWGNvjK/F09zh4+Ph3NbMw7u1sq2noZmOgXdlX2Vka2xobn6Kl6KqsLa6vcDCxcnM0dTV2Nvd4OLm6ejq6+vp4tTCrZV+bF1YXV1gY2yBmLXM2+To5t/Ru51/YVRRS09PT1JTXHiQprvI0tjY1tHLxL+5sqymoJePhX18dWlkZWRkZGFhaGheXmtrYmNtdICOl6avt8HFyc3R1djc4OPm5uHXxKyTfnpxbWtra2dnYWFhVFxcT09aWlheZW59g4iLiIqQk5San6e1vsfN0tLOxbilinVqYVlXUVFbW1hYW1tWVltcX2d2jae/z9ri5ufn5+bk4+Lh4N/f2tLGsZZ7YlRLRENAQ1Fdb4yqwtPc3+Df3dvUzcS6s7GsopqShoB1bmhgX1xda3F+i5Sgpq20t7u+wMPHy83Q09bY297h4+Xm5+np6ODTwaaKfGtfXExMXF5nfJOxx9Xf5OXf0bucfGdZR0JKSj9CU1xtiaa8ydPY2NfSy8XAubKso5yZkod/c2pdWFZVY2NgYFxcXFxiYmdoYWd6iZGisLnBxcrO0dXa3uHl5+bg1cWwl4JsYmdlZGNZWWNjY2JfYFtbZWVmbHB5fYOJjI+RlZmZn6WtucHIz9LSzsa4ppOCc2tnZVhYZWVeXl9fXl5eX211dYupv9Da4eTn6Ofm5uXm5uTj4dzTxrSbemFaUUtKVVhWYXSPqsLR2t/h4d/a08zDu7WxraihlYqAdWxmYF9naWpxeYaWoaqwtbi3ub/BwsbKzdDS1dfY2+Ll5+np6Obe0LymjXZmXl1ZWVlZaXuWrL/O1tzg3NG8oIRpWk1IUFBOUl1nc42rvcrU2dnX0s3Hv7myq6Wem5SGfn11amVnZmZmZ2dWVmFhbGxbXGlwc4SXprK6wcbJzdPX2d3g4+bl39XGspmGe3NeXGxsZGRubm5ZWFlUVFdYXmRocX2DhIeIioyQlZugqLK7xcvOz8zDtaGTgmlgXFpbWl1dXl5WVl5eZWZYYHmOp73N2N3h4uPm5uTk4+Ph4N3Y0cWxmH5mWE9QT0hMVmF0jqa9zdbc3tza1s/Hvrexq6ajnJaMfHFpZGppZWZqcHyJkZ2mrK6xtre2t7q9wMPGyMzP0dTY3ODj5OTg2Mu2nYFlWVlZV1deXmBtiaCywcnR19XLuJ2AbF5PSkNDQENZYnGLo7nH0NbW0c3KxLy1sKqknpuUgnt5cWlkYWBeXmhoZ2deXmFhXF1pcHqJmKavt73Cx8vP09jc3uHj4t3Swq2biXZtZGJlZVtbaWlpXlxdTE1OT1xjZm92fICDh4mMkJWapayvucDGysvIwLOhjXtmXltaWVhhYVxcYGBfX1tcY2pyiKK5ydPa3d7g4OHi4uDf3tzY083BrZJ7Y1lQSUhMT1ZhcIqmu8nR1tfW1NHLw7u3saunoJmPhIN6Z2JiYWNlZ253hJKdoqmsra+urKqtsLK1ubu+wMPHztXb3t7d29PFsZd7Z11RUFxcU1NdaX+arbvEzNLRx7WafmlcT0k7OkFFVF1uh6C1w8zR0czIxL64sq2noJmOh4N8dm9pZGNiYGBmZlxcX19eXmRlZm17iZaks7q8wcTIzNDU2Nzf4eDaz7+qlIF8c21rWVlmZmJiYmdbW1xcbG1haHF5hImHiYyOkJOan5ujr7i/xcjJxr+zo49+cmpta2NjcXFmZmlpZ2deX2JpgJKjt8XN0tbY2tzd3Nza2djX087IvqyWf2lSSE1MVFhdZ3OKpLbEzM/R0tHMxr62sayopqKdmpKCeHt3dXR0dW91h5CYoaitsbCspp+amp2foqeprK6xtsDL0dbZ19TMwK+ZgW5hX19WVltbYnGMoLG/x87SzsKvmoJnXVhSTU1NUV5lc4mesL7HysrIxL+6tbCjnZ6YlI5/eXx2c29sa2FhY2NcXGtrYWFvcG10eoibpqyzuL3CxsrO0tbX2t3c1829q5uMfnZ1c3h4aWlqampeW1tWVmlqYWdqc3Z7iYuJiouPi5Gepay0usDHyMS9sKCLem5lbm1jY1tbZWVjY2NjYWJkbHyOorS/xsrO0dPT09TT0M/QzsvGwLeolH9qVUw/PjxAVF5ogZyuvcXKy8vKxL63sKijoZ+fm5aOg3poY2tqaGlqcH2IlZ6kqqyrqqKVjY+SlZianJ+io6m2w8vP0c7Gv7aoloJpW2ZmXFxeXmNzh5+yv8jNzsi7qJN7X1hOSU1NUFNcYmZ9kqe2v8PDwLy2saynop2PiI2HfXl4dG9rYWBkZF9fYWFlZWJiamtob3uIkp+rsbW6v8PFyc7S1dfZ2NTKu6qUg393amhtbWNjaGhoUVVVVFVdXmJpb3d8gH+AhIWHio6Tm6Kqsrq/wsTCvLGgjXxpYGJgWVlYWF1dXV1jY19gZ2+AkqK0wcfLztLU1NTU0tDOzcvJxL+3qZZ4YVhPQkBVWFVfbYKXqLa+xMXEwsC6saminZqbnJmUi3htdXBnZmhpbXOBi5KcpKqurqqlnJeanZ+ipaeqrKyxvcXKycW/ta+onYx6bGNcXGBgXV1caYCZrLrDyMjCsp6DamJeV1FLSlZZXGJmd4ueq7S5ubSvrKahm5SOjoh9d3NxcnByb2ZlYmFhYWZmYmJvb2JjXGN3hZahq7Cus7q+w8fJzdHU1dTQx7mmloZzanBubGxpaWlpaV9iYmRkY2NjaXJ5eHyGhYSFjI+Ok5mgp6+3vcDDwr2zpJaIcWlmZGZmZ2dra2NjZWViY2ZudoqkuMfP1dja29zb29nU0tTSzMjEu6uWgGpZUFZVUFNfaXCFnKy6w8bHycfCu7WtpaCgoZ2amI+Eendybm1iY3F3gIuWoKmvtLWxr62rrbCxtLm7vsDDx8rNysO6sKWempGEdWdkaGhra2ZmY2h6kaWzvL++t6eTemVfXV5YT09LTlRaZW5/kqKrr7Csp6Odl5KKhX95dG5sbnFxZ2Vsa2lpYGBfX25uaGhgYW50eoeXoamsr7O4u7/Dx8vP0tPSzcW6qpKAfnVmZGxsdXVwcHBeY2NbW1xdX2V4f3p9fnx+f4CEhYqVnKKrs7m9wMK+sqGTgmxkY2FcXF5eYGBgYGFhY2ReZXiNqr3K1Nre4eLg39zY1dPU0s7KxbyrlX5nVEtFRElMUFpxiKG0w8zR0tLQycO7sq+qoqChnJmPgHVzbmdmbG5rcX+Ll6GnrbGzs7S1trm8wMPFx8zO0NLW1tDGvbOnoJuSh3djXWNjXFxgYF5lfJWpt8DEwbmqlH1nW1hVUEdGTFBdYl9rgZWjrLGyrqmknpmTioSDfXFqZWZkY2BdZ2ZkZGFhZmZra2hoWFlob3iGlaCnrLC0ub3AxMfL0NPT0tDIvKqWhX11b21mZmVlb29vWF5fVFVgYFxid398f4F/enuAg4KIkZmhq7W8vsLCvbamiXVwaGlnZGNjY2RkWVlnZ2dobnV0iqe+z9nh5Obn5+Td19HOzcvKxcO7q5V5YVxSSklXWl1neJCku8vU2Nra2NPNxb23sayppZ+YjoR6dG9lZW5vbXN9iZiipauztry+vb/BxMjM0NPV19ja3t7a1M3GvrixpZeGbF5aWVtbXl5ldYmkucfP09LKuqSOdmllUUxOTlBUV1xjdpGls7zBwb+6ta+ooZmTkIqEfXZ0cW1pZmhnXl5kZGZmcHBpaV5fcHZ9i5ajr7S3vMDEx8vR1djb3dzYz7+smol8c2xqY2Nra2lpaVdgYV1daWlbYnJ6e4CAgIWGiIuRlpigqrO9w8bJysS5qJB9cGdjYV9fYGBfX2JiVlZWVmNreY+pwNHc5Ofn5+bi3tbPy8rJyMS+uKuWemJYT05NRUhSXXGMqL/P2N3e3tzZ0sjAurSwraagmpCAdXJsZ2ZwcmpxfIiXoqmvtbi8v8LExsrO0dTW2dze4eLj4d7d2dDKxLakkHZlYV9YWF5fYXeZssbU3uLe1sexknRjXFVPT09YXF9mZn+bsL/Jzs7LxsC6tK6oopeQj4iAe3hzcG1jYmRkY2NnZ2ZmYmJnaGpxdoaap7K5ur/Gys7S1tre4eLh3dTCrZeEfHNoZmpqa2ttbW1dYGBiY1lZanB2foKGjI2KjJCTlpyiqrG6w8nOz87Gt6OSf21lZmRfX2Bga2tdXVpaaGlXXoGVqMDT3ubp6enp5uLc1dLS0c7Kxr2sk4FrX1ZUUk5SVWB2kazD09zh4uHg3NXMxL23sa2qpJqQhXtvaWloaGlxeHmHmqSssrW5vL/Ex8rNz9LW2dve4ePk5ufm4+Hd186/q5eCcmhjXFxbX3KHnrjN2+Xp59/PuJx/aV9VUFRUS05dZHOLobfH0dXV1M/Jw7qzr6mim5SNg313cHRwbGtnZ2traWlhYW9vZ2hqcYKQmKayusDFyMzR1dnd4uXm5uDWxbGah310XFpwcGxsZWVlVlhZU1NZWV9lbHV+g36Ai42KjZWbnqazvcXL0NHPx7mnjHhtZVlXZ2dkZGFhZGRiYlxdZm5+k6rB0t3j5+rr6ujl4t3b3NvY1M3Cspt+ZltRTEtHSlZheZOqwtLb4OHi4NvUzcS+uK+rqqOYjYF2dXBpaGBhanF5hpahqa+0uL3AwcTJzdDT1tna3ODi5Obn5+bl4tvQwK6ZgnFnYFZVZWtof6G70uDn6ujg0bqhhmdaUEpLS0xPW2R0jaK6ytTY2NXQy8W/uLKrpZ+ZkYV+eXFoY1xbXV1iYlxcZmZfX2prYGd+jZ6rsrrAxcnN0tba3+Dj5+fh1saxloJ1a2xqYGBra2VlZV1aW2NkYGFjaWhxf4WHio+QkZSeo6autr/GzdDRzsa4po15cmljYWJiX19UVF5eZGRcXWVse5GqwdHd5ejo6eno5uTk4+Pi39rUx7KZf2haUEpIPUBTXm6LrcPS2+Dh4d/c1czDv7mzr6OcmI6Fe3ZxZmVmZ3d+gY2Zo62ztrq8v8HEys3P0tbZ2tzg4uTm5ufo5+Te08SumId2cWpeXWpxd4uivNHf6Ovp4dO9n4JrXU9KTExLT1pjeZGovczW2dnY083Hv7m1sKegl4+KgoF6amVhYGBgYGBpaWJiY2NrbG51gI6ZqLK6wsbLz9LW2t7g4+jn4dbErpuIeG9vbnNzZ2dra2tXXF1iYl5eXGFtdnyCh4qIio6Smp+jqrS9xMrOz8vDuKiSgHNrZ2VbWltbXl5XV1tbY2RaYXaMp77P2uDj5ebo5+Xk5eXj4uDb1Me0nXpiUkhOTUlNVWB1kKvB0Nnb3d7c2NLJwbmzrqmmoJWKg3lvamFgZWZla3iFlaCjqrG1ubzAw8fKzdDT1tnb3d/h4+Xm5ubk3tLCsZ2IeGVdZWRsc3WJnbjO3OTn5d3NuJ6CaVpJREpJUFRMVnaPo7rK09jY1dHMxb+4s62mn5qThn96cXJuY2JqamVlYmJkZGpqYmNjanyLm6izu7/Dyc3R1dnd4OPk49/UxK+ejXhvZmRcXFxcYWFhZ11dZGReXl9iZm98gYmLjY+PkpCWo6qzur7EysvHv7KhjXtwZ2dlZWVkZGlpYWFeXl9ganJ8kKW7zdbc4OLj4+Pj4+Tk5eTi3dTGs5p4X2NaTEpOUl5pc4yovczU2NnY1tTOx7+7trCspp+akYd9d3JoZ25vbXOAjJehqa+xtLe7v8LFyMrN0NPW2Nrc3+Hi4+Lh4dvRwq+ch3dyamJhY2lyhZizyNbe4eDYyreehG9hVE9NTE5RYGp7kqW6yNHW19PPysS9t7Ksp6CWj4iBfHR2cWxrYmFdXWZmaGhpaWJjanB7ip6qsbm/w8jMz9PY3N3g5eTe08KvlYJ8dG9ta2tycmNjY1tcXWRkYWJfYWNsfIGBg4qLg4aSl5mhqLC5vsLCv7ism4x8a2NlY1xcYmJXV2ZmXl5cXWBndYqrusXO09fb3Nzd3d/h4+Tj4NvRxLGZdVtdVEFAQ0dXYXSLpbfEzNLT0dDOycC5uLOsqKGalYuFfHBrZWRpamxzgIuVn6Wrr7K3uby+wcPFyMzO0NLV2Nrc3d7e3d3Xy72rmIZ3bmZeXmBnZ3qcrr7L09fSy8Gvm4VxY1FLTk5RVFNddYyluMbP0dLPy8fCurWwq6Kcm5WMhYF6amVkY2BgYGBgYGZmYWFlZl5lfYqaprG4vcLFyc3S09fc3+Df2s/ArJyMeG9ycGNjaWlzc3NUVFRjY19gWFhbYWFncnR7fXV5hYqPlqCnrLG3t7WupZiJe2tjX11bWlVVVFRcXFRUV1hhaXyOn7K+w8fLzs/R0tPX29/g4N7Z0MKvlnhgW1JHRUFFU11pgZyuvMTIycnHw7+7trWxrKifmYyBgHZlYGZlZ2hka3aDk52kqa2wsbS5u72+v8LFyMvOz9HV19fY2djX0si7qZZ7amhgS0tdY3SClKayv8nMy8O3qJN8bWBUTk9PTFBXYXaNo7bEzNDQzcnEvrexraigmpKLioN+d2RfZ2ZjY11dX19hYWxsY2RtdHaFmKSutrq+w8fLz9LV2t3d3NjNvaqXhXhvaGZkZGNjZGRkXFdXXV1aWmRkXl9eYWFjbG5wdHl+h42QmKKnqKmnopiMh3x1bWFgXV1eXWRkY2NhYWFia3N4i5+ttre3ur2/v8DDzNTb4OHf2dLEsJiBa2NaRkVOUVdgdYaWpbO7v8G+vbq4uLaysKmloZuZkIB2c25hYGxtbXN9iJegoqiws7S3uru6u73AwsXGyMrM0dPS09XV0s3Fuaqai31tZlpZaG53hZSls8DIzMzEuKmZhm1fW1ZDQ0JGUlxxiaG1w8zR0c7Kw764sq+qpJ6Zk5GLfXZxbGVkZGRubmNjZWVvb2ZncnmAjZeksLe8wcTIy8/U2Nnc3t3Yzb6snIx2bmxqbGtqam1tbV5aWmpqWFhcXGRjYGFiZGdoZ2pvdHyDjJOYnqKjoJuYkYF0c2tgXmNjYWFeXltbYmJfYGFpfo+cqrCvrbCytLa3vMfR2t/h4NrRw6+WfmhbUkZFRkldZmt+jp6stbm7uri1tLOys7GsqKKcl45+dG5pamloaWtyfoqRnKWqrrG1t7e3t7a4u7y+w8bIy8zO0NHQ0M7KwrapmIJyZ2BfX2JpbX+YrL3K0tbVzb+um4V0ZldRUVBRVE5Ycoqlt8PM0dLPy8bBurSvqqOdlo+IgXlxbmlsa2VlZGRhYWhoYWFbXGdufouVo621vMDEyMvP09fb3t/e18zArpeGfXVsamlpa2tnZ2daVVVfX1ZWW1tbXFxgZGdkZm9yd3yCipOboqiurqulnZGDdGNaU1FbW2RkXV1VVV1dX2BhaXSJnq+3ubi7vb7BwcTM1t3h49/a08WwlX1lVEo7OkdLU1xsgpeot7/BwsTDvru6t7Wyq6ejnJaMem9pY2NiZGVrcnWClqCmrLG0tbe6u7q5ur3Bw8XIyszNz9PU09PRzca6qpd8amlhXVxVXHaIlbHG1Nzg3NTItJ2FbmBSTEZGT1NOWG2HpbnGz9TV0czHwb23r6mln5aPh4BwZ2ZhZGNjY2hoYmJgYFtbaGlgZneGlaOutr/ExsrN0dba3uHi4dzRwayXhXJoZGJnZ2BgaWlpX15fWlpRUVdXXmRxdnR3enx9gX+Fk5qiq7K4vb66s6yghHJrY2JgXl1iYmNjYWFfX1xdZGx9kKS2wcbLz87P0tLT2N7i5OTi3dbIsph0WVpQRkVOUldhb4efs8LL0dLS0MvHw725ta+ropuakYB2bGdnZlpbZm18iZOeqK+zt7y+vr/AwcPGys3P0dPW2dvb3N3d2dTKva2ZgW9lXltaZGtqf5+5zNri5uXdz7qhh3FjS0VQUExPXWdyjKi8y9TY2NXRy8W/ubKspJ2blIqCfXVpZGppZGRkZGBgZWVdXWBhZ25/jZims7vAxMjM0dXZ3eDj5eTf1MOvmoh7c2lnb25oaGhoaFxPUFhZXV1cXVlibXN3eoCChYmMkpigqLK8wsTFw7uwn4x6bGNfXl9fUFBfX1xcXFxRUlpidoyguMjQ09ba29vb3N7f4ePj4NzUx7OYfmZYT0xLS09PWW2IprzK09na2djTzcjBurWrpqGakoZ6b29qZmVgYWBneYaWoaiusba5vL7AxcfKzc3P1Nfa3d3e4uPk5OHb0cKvmod2bmdOTlZdaoCivNHf5+rp4dK7oYVrXFJNRkZIS1hic42ovcvU2trX0s3HvrezrqSdm5SMhHdub2toZ2hoZmZfX2dnW1tXWGZta32bqbO7wMXIzNHV2t7i5eXl39TErpWAcGZubGVlZ2dkZGRgXFxbXF1dY2Rnb3J4g4aEhoqOkJWfpq+4v8bKy8e/s6KPfXBnY2FiYl9fY2NWVmVlYmNjan2RpbrL1djb3d7g4N/g4eHi4eDc08a1noJrWlBRUExPVmBwjKi/0Nrc3t7c2NLKwru1sq2popmOiX9xbGRjZWZpcH+LmKOqsbW5vL/CxcfKzdDW2Nrc3eDi5OXm6Ofk3tTFsZ2EcnBpVVVjanSJor7T4ert6+PTvaCDbV5bVlNTPkJXYXiRpbzN1tvb2dTOyMG6trCqpJyViYF+dmlka2pqamlpZGRnZ2hoZmdrcniIl6e0vMLGzNDT19vf4+bn5uHWxrCah3NpaWhqaWZmaGhoZWJiaGhcXWhqaW9zeYaJiIqLjpWbnaWttr/FycrFvrOjkoJ0bGloX19gYFtbZmZiYmRlZ26ElaW5x9DW2tvc3Nzd3t7e3t3b18/EspqGcVVMUVBTVmBrf5euxNTe3+Hi4NzWzMO7tbOuqaKdlIh+eXRwb25vc3p+ip2nrLK2ur7BwcTLztLV19rb3uHj5efo6erq6OHWxrOfjHxrY2RjXGOBlKe/1OPr7+vj1b+kiWhaWlVQT1JVWWR3kKu/ztfc3drVz8nDvbawqqSbk4+Igntzbm9uXV1ra21tZ2dqa2xtbnWEkZ6str3EyMzQ1drb3+Tn6ejj2Mawnox8c3RyYWFtbW5ubmBZWVtcY2RgYWZranF4ent9iYyMkpujqbK7wcTEwbmvoI9/amJmZF9fYGBiYmFhY2NoaWx0g5SitcLL0dTW19jY2NjY19fW1dDKwLGcgWtfVVdWREdbZn2WrcTU3uPk4+Hb1M3EvriyrqihnJKHfm1namlnaHJ4gY2Woaivt7u+wcPHys7P0tfa293g4+Xn6erp6efh1MSynol5dW5iYmJpboSjvdPh6Ozs5NO8pIlpW1dRVVVWWV9pb4qrv87Y29vZ1M/Iwry2sKmjlo+QiX11cGtrampqbGxsbGtrb29jZG10f46cqrW9w8fLz9TZ3eHj5uno49jFr5yKfnZwbmtqcHBtbW1VWFhPT1tcWVplanJ4eXyAgoCEiI6aoamyucDDw8G5rp+UhmRbVVNkY2NjYWFfX11dZ2hpcXuNorTCy9DT1dbX19fW19fW1dPPyL+uln9pUEdFQ0ZKUFt1kKrC09zf4eDe2dLNxbqzsq2mn5WKgHVqZWZlZ2hnbnqHlKCor7a6u77CxcfLztHU19nb3+Hi5OXm6ejm4NTEsZyLe3FpY2NgZnKGobrP3ebp59/Ru56BaltVUE9OT1NQWn6Vqb3L1drb19PNxsK8sqymn5iRioKHgGtmYWBlZWdnYWFgYGxsXV5lbHiIm6mxub/Eys7T19vf4eTm5eHWxK6VgXVsZmRjYmdnZWVlXltbV1haW2NmZGtrcoCDgYOFiZCWnKOrtLzCxsbEvK+fjXx3b2NhY2NjY19fWVldXWBha3J7jqa4xs/W2tzd3d3e3t7d3NrY08zBsJqDbV9VRURNUFhjdZCpwNLa3d7e3NrTycG7tq+rp6CakIyDc25qaWtsbXR7h5Gdqa+xtbu+v8LGyczP0tTX2t3f4ePl5ubm5N7Sw7CchXRpYVtbXWRrgKK3ydff4uHZy7edg25gWFNMS1VZU116kaS6ydLY2NbSycO/ubOtp6GWj46HgXlva2RjZGRnZ2VlYGBYWFdYanGDkJ2qr7jAxMnN0dXZ3eDj5OTf1MSxmoiCemlnaWlra2pqamBiYmZmW1xgZXV7en+BhIaIiY2UmaCnr7e/xcjIxr6zo4t6bmZoZl5eaGhgYGBgZGRtbmJqfY+kucnT2t7g4eLj4uLh4eDe29fPwq+XgmxdVE5NS09XYnONq8DO19zd29nVzsjAubOuqqGal417cXRvaWlpanJ5fomWoKmusrW3ur3Aw8bJzM/R09bZ29zf4eLj4+Hbz8Cumo1/dW5tbGpxeoqZrr/N1tnX0MSynYZrXVdRSkpSVVljfJKjuMjR1NTRzcjDvrivqaKcmpSMhH11cGtqaWVlXFxpaWtrYGBrbHB3fIqap7C4vcHGys7S19vc3+Li3NLCr5qJfnVraWhocnJwcHBZZGVfX2RkZ2xtdH+EgYSJi4+SmJ2gp6+3vsPIyMS8sKCOfW1kYmBgYGVlZGRjY2NjY2RhaXqNpLnJ1Nvf4uPj5Obl4+Lg39zXz8Kvl4RvT0ZLSUZKVF90jaa8ydLW2NjW0szFvriyq6eknpmQhHt0b29ua2xtdIaQkJulq6+xsrW3ur3AxMfIys3P0tTY293f4ODe2My9rJmOgHBoW1pmbXWDlae0wcrNzMW6q5eCaFpQSkJBSExibHOLn7XFztHRzsnGwbq0rqmim52Xi4R/eGhjaWheXmNjaWlsbG1tZmdlbH2Ll6SvtrvAxMjM0NPX293e3djNvqqXhnhvbWtkZGlpbW1tXmtrYWJsbWZsdn2EiYiKi42Mj5idpKuwuL/EyMnFvbGhk4R1bGRia2tmZl1dZGRra2doaHCBk6W5ytXd4eLk5+jl5OTj4+Le2dHEsZyHc2NaUlFKTlxnfZOovMnR19jX1dHLxL23samko52YkIyEbGdlZGtscHeEjpKcp6utrrCxsrW4u77Bw8bIy8zP1dnb3t/f3dbLva2chndya2dnZmx3hZWmtcLKzcvDuKqXgnNlXFdQUFFVYGp3jae3xMzQ0M7KxL66ta+qp6Kcl4yFhoBzbmxrcHBvb2lpbGxpaWhpbXSCjpWirrW5vcLGy8/S1tjb3t3Vy72snI56cXRyb252dnNzc1ddXmZmY2RfZW93eX+IiomLjI+UmqOqr7e+w8rKxr6xoIx6d29oZ2ZmZWVnZ2VlYmJnaGhweo6musnV3eHj5eXm6Ofn5uTi39rQwqyRf2hZUE9OVVhcZ3iQp7vJ0dbY19bRy8S8trCtqaOdmJCDenBrcHBpam51eoaXoKSoqamnqKuusLO2ubq8wcPFyM/V2t3f393XzL2plYx+Zl9cXGVsfIuYrLvI0dXTy8CvmYNsXlVQUFBSVVZgd42lt8XN0NHNyMS/uLKuqaahmJGNhn94bmlmZWZlYmJnZ2RkZ2djZHJ5fouZpKqxt7vAxMbKz9PX2dva1cu7qZqLbmRvbWpqaWlra2tiXF1fX2RkYmhxeYOIi42NjpCTmp+mrbS8w8jLzMjAtKORgHJpaWdycmNjZGRoaGJiY2Rnb36Sqb3N2d7i5efn6Ono5+bm5OLd08Wym4VvW1JKSVJVXGdxjKm+zNTY2trY083Fvrq1r6uln5iPf3V0b3Z1aWpzeXyImKGpqqajnp6go6irrbCztbi7vMDK09vg4eHf2c2+rJiIenRsbm1jaXmKoLTE0dve3dXHtJyDb2FZU0hIU1ZcZnqQo7fH0NPU0MzIwry3sKuln5yVi4R9dnRvcnFoaG9vampmZm9vZmdtdHeElqGqsbS5vMDGys7S1NfZ2NTLu6mbjX93cnBubXFxampqYlxcXl5iY1lfZ3CDiImLjo+KjZidpa20vMTKzc7JwLOfjnxuZm5tXl5TU2lpXl5fX2VmanF/k6W9ztng5Obn6enp6Ojo5uXh3NLEsZZ8ZF5VTEtPU1plc46pv9DY3d7d29bQycG4sq+ropuakIR6b2pkY1RVbHN/i5ago6WloZuZmp2hpKirr7Kztbm+yNPa4OXl5N7Rwa2YiXlrZF5dZGt4i563zNrh5OPbzbmfhWVWUUxYWE1QWGJ4kKe6yNHV1tXQycO+uLGrpqCZkomCc2tzbmloXl5jY21tbW1mZlpbZWyDjpqipayyt7m9wcXM0NPV19bRyLqokX9+dm5sbW1tbWdnZ1taW2JiW1tpcHJ6dnyJi4uNlJeboKWtt7/Ey8/QzMS2o416dm5mZGVlZGRra2RkaWljZGRsd42nvtDc4eXo6enp6Ojp6Ofm5eDXybGVgmtWTUhHTlFbZnaQrcPR2t/h4N/Y0czEvLawrKWem5GDeXl0dnVpam10f4uXoaqspqSioqaprK+zt7i7vcDDx9DZ3+Xo6OTe08Owm4h3bGVfXmVsfI+kvNLg5+rn39G8oIVzZFZRUVFKTlhieZGlu8vV2tvW0cvEwby0r6ehnJaQiXx0dG9oZ25uXl5wcGdnbW1dXmZsgYyWoKeus7i8wMXJzNDV2NnY08u9q5iHdGtxb2pqcXFpaWlbWlpPT1RVXGJsdYGGio2JipCTk5mhqbO8xMrP0M3EtaKQf29nXFpeXmZmY2NiYmlpXV5kbH2Sqr/Q2uHl5+jo6Ofn5+fk4+Pf1sm2n3phW1FNTE5SUVxoh6zD09zh4uHf29TNxLu1sKuooZmPf3RoY1taamtqcX+LmKKrr66urq+ztrm8v8LHyczPz9Pa4OTo6unm4NTEr5mLe2tkY2JaYXqOpr7T4evu6+PUvZ+CaVpXUU5OSk1VYHiRp73M1trb19LOyL63s62oopiQiYFzam1oaGhjY2lpa2tnZ2NjaGlsc3uJmaSss7i8wcXJztHV2dze3tnQwKyVgnVsZmVtbWlpYWFhXFhYWVlXWF5kd39yeY2OiIiIipSan6ewucLJzMzJwbOgjHlvZ2dlYmJhYWVlVlZkZGFiZGx8kae9zdfd4eTl5OTl5ePj5OPh3NTHtJt8ZFdORENLTk9adpGuxNXe4uPj4d3WzcS+uLOvpp+YjndrcWxvbmhpYGeBjZijqq+ztbW3vL/Aw8jMztHU1tjb3uLn6erp5uDWxbSgjn5yalhXWWByh6W/0+Hr7uzk1r+kiW1eTkhQT0tOWGN7k6a9zdfb29nVz8jCu7Wvp6CakoyEdm1taGJhY2NlZWBgWFhnZ29wanF3hpynr7e7wMXJzdHW2t3g4+Lc0sOvl4N+dm1rZmVra2xsbF1SUlZWW1xVW2dwgIWHiIF/gIKNk5ScrLS8wsTEwrqwoIh1Zl1oZl1dV1djY2NjYGBeX15maoKmusnT2Nze39/f39/f39/e29fRxbKZgWlWTU5MPUBMV3eSqsPT3OLj4uDc1c3FvbezrqeglYqEem1oZGNoaWxzfImQna2ys7a3ur/CxsnN0NLV2Nrb3uDj6Orq6ufh1MSxmoVzbWVPTlZddYqkvtLh7O/r49W+o4dkVVVPR0dMUFZgeJGnvc3X2tva1c7HwLm1r6qjlIyFfXRraWReXWFhYWFnZ2dnYGBiY19md4WWo621vsLDx8zQ1dne4eLh29LCrZqHeG9ubGppZmZmZmZTVVVcXFZWW2BcZnV7gYGAfXh5foWLlJ+psri7vLixqZuNfnBoWllaWVlZXV1eXldXXl5haHuNoLTBys/T1dbX19bW1NTV1NLOxr2tlHxkUUhKSUdKV2JqiKzD0tvg4eHf29TMxLq0rqmmn5mOgnhvamBfYGFla3+Lkp6qsLO3uLvAw8fKzdDT1tnb3N/i5Obo6enm4NTEr5mId2tjWFhYX2+ForzP3uns6eHTvKKGZVZAO0BAT1NQWnGMpLzL1dra2NPNx7+4r6mln5uTh390a2plXVxlZWVlXl5eXmJiWVpobnqHk6Cqsri8wMTJzdLW2dzf3tnQwq6UgHZtaWdoaGNjZGRkYVlZXF1OTmZpanN4foKBgn54eX+Gi5SeqLK4u7y3sKmbjX9uZmBfYmJeXVpaXV1hYV9gZGx4iqCxvsbMz9DR0tPS0dHQ0M/MyMW9q5V8ZV5VSUhNUFtmc46tw9Lb3t/g3tnTzcW7tbCsp6CYjX5zbWhpaGxtaG99iZOeqa+0t7m8wcTFyMzP09XY2tze4uTl5ubl5N7Tw7GehHNvaGJiaXBxhaS7zNrk5+bez7mhh2tcVlBOTVFVVmB6kqS7y9XZ2tfSzMa9trOtqKKblIZ+dm1xbWJhZ2diYl9fXl5hYWtsb3R6hYyYpKyzt7u/wsbJzdLV2NfSy7+umIeAeGhmamptbV5eXmJSU2BgXV1eX2pydXqCgnx7fH6CipSdpa63vcDBvLWrm41+bWVnZWZlX19jY2dnY2NiY2Vsd4qis7/IztLS1NbX1tbV1dTT0MvGva6ZfWZcUkpJUFNWYWyJqsDP2Nvd3dzY0ci/ubOxraaflYt/dXBrbm1lZm92eYWPm6qvsrW3ur3AwsbJzM/S09bZ3N3f4eLi4uHb0cKumYp7aGFpaVRbbICetcnX3eHg2Mu3noVrXFdRTEtRVVxmcIqou8jR1dXU0MrEvbewqqehlY6LhHtzdG9kY21sZGRfX2hoZmZkZWltdHyHj5Wdo6iusrW5vcHFyMnIxsK2p5iIe3JzcW1tbGxtbW1XWVlaWl5fV1dYXmxxdXZ0dHR2fIaTnqu0usDCw8G5rp6Of2lgYF5hYWBgWVlnZ2pqXV5ocHOIorXCzNXZ2dvc3d7d3Nvb2dbRyr6vm4JtXFNHRklMWGNqh6e8y9PY2tnX1M7Gvrm0raijnZSKg3puaWhna2xxd32Ik52lqqyvs7a4u7y/w8bJy8/R0tTX2dvc3NvZ1Mq8rZuCcWxlYF9mbW+Ama6/zNPW1c7BsJqCYFFXUU9PSExUXnGKpLjGztPT0czGwLq0sKuloJWOiYF+d2plZmVYWGlpY2NiYmZmZGVpbHR4eX6HjpWanKCkqK2xs7a5uLSyraGThHZtbmxnZmBgZmZmT1ZXVVVgYFlZXmBdY2xubW5xdHuGkZ2qtLvAxMXBuq+fiXdtZGVjXl5dXV1dWFhcXFhZZGt2iqG2xtHW297g4OHi4eDf3tza1cy/rZZ2XlNKSUhHSlRfaYWlusnR1dbX1dDKw7u2saumoJqSiIF3cGtjYmJjcXh3g5Weo6epqqmrsLO2ubu+wcPHyszOz9HS09bW0MvFuamXgHBuZldWV15rfI2ktcLIzMzEuKmWgWtdT0lJSU1QV2F6kJ2zwsrPz83IxL65s62nopyUjYiBgHlpZF9eZGRlZWVlZWVmZmprbnFxdXN5gYmQlJqdoqaqrrK1tbSzsqufiHZ4b2VjY2NmZmJiYlVZWlFRUVFZWVZcaW9ucHFze36Bio+bqrS9wsXGw7uunIh2amFbWVNTUVFUVFdXV1dUVWVtbYSiuMbR2d3g4uHi5OPj4uDe29bNwKyTeGBZUDY1RUlRXF5+pLnH0NPV1dTNx8O7saunop6YkIZ3bGplYWBVVmJpdYKRm56jpKSlpqmssLO1uLu+wMLExsrMzM3Pz83Jwbamk4Z4YltaWVZdbX2TpbK/yMvJwbeolYBjVU1HSkpLTlFbcIigtMHJz8/MyMK9ta+ooqCampSHgHJqZmFgX1lZVVVYWGBgWFhiY2FmcHiAiI+XnqKorLC0uLvAwsPCv7qwoY59c2plZGRkZmZmZmZUXF1iYmRlY2RocHyAgIJ/gYSHjZSfqK+4wMXKyse/sZ+Ne3NqaGZmZmRkY2NaWmZmZ2hlbHqOprvK1dzg5efn5+fm5eTi4N7Z0cOxm4RuYFdGRU9TVmF4kKe8ytPW2NjX0szFvrexrKenoZqSgnllYHV0cXJyeHmFmaKnqqmpp6iusbK1uby/wcTGxsnNz9DR0dHPy8S5qpmIeV9XYGBgZ3qJl6y+y9PW1My/rpmCdWdYUklJVFhibW+IpLfGztDQ0MzFwLu1saymoZqUkIl8dHFsZmVpaWZmZGRkZGxsYGFmbHN+i5afp62xtrm/w8bKzdDQz8zEuaqWhnducG5sbGpqa2trXWFhZmZlZVxfcHd9goOGjI2Pkpmfn6i1vcPJzc7Lw7enk4JxaWxqaGhqalpaZmZYWF5faXF8kKa8zdjf4+fp5+jp6Ofm5+Xi3dTGs52Aal5UUVBMT1didY6pvs3W2drc29bPyMC7tbCrpqCakY2Fd3JpaG1ud319iZagqKyur7Kzsra7vsHEx8rMztHT1dfV1tva2NPJvK+ehXV2b2NiY2ptgaG1xtTc393VyLWehnlrXFZQUFJVVV95kKW5x9DW19HMycO+uLKso52ak5ONgnt3cmRjaWllZWZmaWlnZ2tsb3V9iZmjrLO3vMDExsrP0tfa2tnWzb6sloR+dnx6a2tubnBwcGNbW19fWVpfY2dwd32BhIWHjZCVm6Sstr/HzdDQzsW4po57bWReXV9fYmJqal5eZGRfYFxkdIuswNDb4uXo6ejp6urp6Ojn5eDXyLOZf2dUS1dWRkldaHKNq8HQ2d3e393Z0srCvLazr6Sel4x+dG5paGdnaG10g46YoqetsrS1t7y/wcTIy83P09XZ29rc3t/h4N7Z0MGumX1qa2NgYGVsfI6juc3b4+bk3M65oIZwYldSS0tLTl5oepGkusrT2NjV0MrEv7mzraSempOPiHtzdXBhYGtrZGRhYWRkaWlgYW91fouSoa+3vcLEyMvP1trd4OLh2s/BrJiFf3ZoZmpqY2NwcHBgb3BlZmRlY2lpcnV7jY+OkJOWl52qsrjByc/S09DHuqiVhG9nX15kZGdnWVlgYGJiZWZudn2SrMHS3eTo6err6+vr6urn5uXh2cq2nX5nW1JTUlNXXGd2kavC1N3f4eLg3NXMw764sq6qpJiNhHp1cGFgaWpvdX+LlaGqsLO2uby/wsbKzdDT1dja3eDg4ubn5+fj3dLDsp6Id3BoZWRfZn2Qo7zS4ejs6+PTvZ6BcGFbVldXUVReaXONqr3M1tvb2NPNx8G7trCspp+Ykot8dGtmZWRkZGtraGhnZ3NzX2BxeHiHmaexucDFyc3R1tre4eXn5uDVxLCejXx0dHJ0dGdnbGxsW11eV1dgYGFnZ3GCh42QioyRlZuhqrK4wcnQ09TQyLmmlIJzamhmWVlgX2BgZWVhYVpbZ293jaa/0t7l6err6+vq6unp6Ofk4NjKtpuAaVZMTk1CRVRfc4+rw9Pd4eLi4dzWzMO+uLOuqqSckol/dnFoaG5vbHN8iZeirbO2ury/wsXIy87S09bb3d/h4+Xm6Ono5uDUxLWih3VmX15dYGZ2i6a/0+Hq7evj0rufgW1eUEpRUU5RWWRsiKe9zdbb3NnUzsjBu7iyp6CblIuDenJsZ2dmYmJtbWRkZGRsbGxtb3aAjpems7vBxsrO09fb3+Ll5ubg1sWvm4h8c2pocHBoaGtra1lVVVxcYGFeZG12goeHipCSkpaYnqWtuMHK0NPU0Me4pZOAcGhhX19faGhTU1paZGRiY2Vtd42rwdLd5Ofp6urq6unq6uno5uLZyreefWVYT0hHSEtVYHWQqsPT3ODh4uDc1s7FvLW0r6mim5F8cWxnY2JbXG50e4iRna2ztrq8v8DEyMzP0tTX3N7f4uXn6erq6uji1saxnId2cmpnZ1tidoqhvtTi7O/t5dO8o4duYFZRUFBOUVhjd5Cpvs/Y29vY1M3GwLmzraafl5COh3dubGdfXmBgZGRaWmJiaWlmZ2Rrd4eXprS8w8fLz9LW2t7i5ufm4NXErJWAdWxbWmtra2ttbW1VU1RVVVlZYmhncX2DhoiIipWYlpykrLS+ydDT1M/Ht6ORfmxkX11eXV9fXFxjY2ZmWltgaHyRqcDS3ePm6enr6+np6eno5+Xg2cu0mXtiUklLSk1QTVh3kqrD09zg4eLh3dbMw723sKyqo5eNf3R0b2ZlZmhtdHmGlqGqsLW5ur3CxcnN0NPW2Nrc3uHj5efo6unn4dXFr5iHdmpjVVVgZ2+Fo77T4ert7OTUvZ+AWUpSTEpKQkVVX3aPpr3N19vb2dTNx8G6ta+popiRiYF+d2hjYWBiYl5eZ2dcXF9fZWZmbXaGm6m0vMLGys7S19nd4+bo5+DVxa2XgnducG5mZWRkaWlpVV5fVFRVVlthcnp6gYqNh4mSlZiepq24wcjO0NDOxrmmi3dsY1VTZGRaWmFhWFhmZmFiY2t7kKjA0dzk5+fo6enq6urq6Ofl4NfJs5d/Z1xTTUxMT1plc46rwtLb3uDg3trTzMS7tbCsqaKTiHtwbmhoZ2ZnbHJ8iI+bqK6ytry/wsXHys7R0tXb3d/h5Obn6Ono5uDTw7CbgG1mXldXYmlxhpi60uHq7ezk1L2fgWJTVU9HRz9CU11zjae8y9Xa2tfTzse/uLWwo5yakoyFfnZmYW1sYmJcXFhYYWFhYlRVa3J+jJqos7vAxMrO0dXa3uHl5uXh1sSumodzamhmaWleXmdnZ1BaW09PV1ddZGhye4GBhIWHkZWXnKCosrzGzM7OzMO1oY16a2JhYFRUXl5iYllZVVVZWmRsdoylvc/a3+Pm6Ofo6unn5+bl497WyLGVe2NQR1FQSk1QW26Kpr3N1tvd3NrVz8e+trCtqJ6Wk4l6b2tmYF9mZ19mdYKTnqSrsLS1ubu+xMfJzdHU1tnb3d/h4uTl5ePc08OumId3ZV5cXF9mboSfu9De5+rp4dC6oINsXU5IRURFSUxWaoanu8jR1tfU0MrEu7SvqaSdm5SIgHx0ZF9jYmdnYWFbW2VlZWVlZmNqd4aWpbC4vcLIzM/U19vg4+Pi3tPDrpqIb2VeXGZmWFhoaGhcWFhcXVtcWF9kbXyChoiMjo+Sl52fp7K7wsjLy8jAsp+Kd29nY2FbW1NTT09fX15eXl9SWnWKpLvL1t7h4+Tm5+fm5uXm5OHc0sWymYBqV05GRUdLVF5uiKW6yNHV19bU0MrCurCqpaGfmZGHfHJoYltaZGViaW58i5egp6yws7a4u77BxcjJzNDS1tja29/h4uPg2s/Aq5WCcV1VUE9dZHmMoLnM2uLm5NzOuZ2BZldXUUdHRUhRW3CJorjH0NXV0c3Hwby2sKqim5SNioOAeGdiamlnZ2JiX19YWGJiXF1qcXaFlKOutr3CxcnO0tXY3N/h4NvQwq+WhHRrZGJvb25uZWVlTVpbZmZdXWNpc3uCh4CCi42PkpSZoqiutr7Ex8fEvLCgjn1+dmVjYF9iYmFhYGBmZmVmaG9/kKS4yNPb3+Hj5OXm5ubm5OLg29HDsZp9ZV1UT05KTV5oc4qitMLK0NHR0MvEvbauqKWhm5WSiXlwbWhkY2lpaW9ve5CZnKKprKyvtLa6vb7BxMbLzs7R1NbY3N7f3dfMvqyainxuZ2loZWx1iKG3ydfg5OHZyrafh2NVWFJLS1peWmR0jKG2xs7T09DMxsC7ta+po52alIiBe3RsZ2dmWlpiYmJiaGhsbGprcnl6iJunsri7wMPHzNDU2Nve4N/b0L6rl4Z+dmxrampsbHNzc1JaWlJTYWFcYmtzen+EhoaIjI+Pk5yhp6+3vL/Avbaqmo6Ab2ZfXV9fYGBdXVdXZWVdXl5lcYScssHN1Nnb3d7g4uPj4+Lg3tjQwq+Wdl1RSEZFRkpMVmZ+mqu2vsTGxcS/uLKro52Yk42GiYBwZ1tZXl5gYFhcaXWCjJKYnKCkp6msr7K0tru9v8HExsnMzdPZ29vVy72rmX5tZ2BdXFlfbICassTS2d3c1MWxmH1hUldRR0dJTFVfcImjtsPLz9DNyMS+t7GtqKKcl5GGfnlyWFJcW2FhXV1hYWlpXl5mZ2JpeIaWoquyuLzBxcnN0NPX2tzb1sy9q5SCenJubGRjZmZkZGRaXV5YWVhYV11tdYKHiIqOkJCSlJaTlp+nrbO4ubavp5qKe2VcYV9gX2FhVVVbW2JiWltgZXSDlqq7x83R1NXW2d3g4uPk4t7Z0cOulX9pWVBWVUhMX2hrfpKgrba5uru5ta+mn5qVjYiHgXZsYlxhYWFhYGBcXGNsdoCJj4+TmZufoqSnqKuvsbS3ubu+wMXO1dra1cq7qZV/b2BYXFtqcXGDm7HBz9fa2dHDsJyFZlhbVlBQTlFXYXOLorXDzNDQzsnDvbmzqqSkn5WOjIV5cW9qZmVlZWhoY2NYWGRkYWJyeHiGkZ+qsbi8wMTIzNDT2Nrb2tXLvayXhnlxcG5jY2ZmZmZmY1NTaWlnZ1xidn5/hYiKjY6ZmpOSlJOWnqasrq+rpaGYin93b25sY2NhYWxsZ2dpaVxcZGZwe4qer7rBxcfJy8/W3ODj5uTi3dTGs52CbFtSS0pRVVxkdYOQnaiwtbe2tbGro5yVkIqFfnd5cGhnaWlpaWRkW1tscHB7hImQk5WXmp2go6OmrK6vsrW3u73Eztfd3djOv62aiXp2b2ZmanF4iJ6vvsvT19bOwa+dh3RmWlVVVFRYaXN9k6S3x8/S0tLOyMO7tbGspqCalIyFfHR0cGloYWFqamhodHRqam1ubHNwgJWhqrC4vL7CyMzO0tbZ29rTyr2sm4t9dG5sb29tbWpqal1aWmBhZWZXXXN7gIWIi4+Rjo+Sj4SBh4+XnaGinpmXkYV7b2dmZGhoZmZkZGtrXFxsbGBgZ298kKGss7e4ubvBzNbf5ebl497Vx7ObfmdcU0lIVVleZ3CDlqaxur7AwL67ta2lnpiUkIqEfHJmYGNjYmJdXWpqYWt5hIuRlJidoKSnqq2ws7e5u72/wsPFzdbd4uLc0MGwnoV0bmdkY2Rqe4mXqrnG0NPRyr+vmYNoWl5ZT09NUFpkfpSjuMnS1tbU0MnDv7mxrKulpJ+PiH93a2dvblxcbW1wcG5ucHBkZWZtfYqZpKyxtLi7v8TIzM/V2NnY1Mu+rpmIdWxsanJycXFra2teWltXV1lZX2Vqc3h/homNj46QkI2JhYiRmZ+kpKCbl4+EeWZeYF5cW2NjX19kZGBgXFxeXl9qfJGirrS3ubq7wc3Y3+Xo5+Xg18i0m4JrWlFKSEdLVV5wh56ywcrNzs/NycK7sqqkn5qYkouCcWddWllZXV1WWmx5go6boaKmqKuws7i7vcDExsfKztDS1Nje4uXk3tPDrpmDcmVeW1pYXnGClqy8ydLV1MzAr5d+Z1lYUkpKRkpLVXiRp7zK1NjZ1dDLxcC6saujnJuUiIB8dGJdYmFeXlVVX19gYFhYXl9jaoCNl6Orsba6vcHGys3R1tna2dXNv62Zh3VsbWtkY2lpZ2dnYFtcWVlaWl1kbXV+g4iLhoiPkY+Qj5Cbo6mwtLWxq6KViXtuZmVjZ2daWm9vY2NiYmRkWVxxfYuis77FyMvMzdDX3uXp6ejm4dnKtZx/Z1VLSUhQU05ZcYumu8vU2NnY1tHLxLu1sKiknZaPhHlvYVxdXGBgZWt0gIuXoKatsLS3uLvBxMfLztDT1tfZ293g4+bn5+HVxbGchnVuZ1lYZm1yhZ60xdPb3t7Wyredg2tcUUtMTFJVUVt3kKa8zdba2tjTzcbAurWwp6CZkoqDgHhuaV5dX19ra2lpX19dXWVmX2Z+jJmmsbe7wMPHy8/U2Nve4N/b0sOvnYxzaWlnZmZxcWxsbFpUVV5eXl9aYXB5fYOIi5KTl5mZnJ+jqLG6wMTFwLmtnZGBcGhlY2dnWlpra2JiV1dnaGRpb4GbscLO1Nfb3Nrc4OTn6Ono5uLay7eegmpUS09NTlJTXnaQqcDR2t3f393Y0snAurSsp6SdlYt2a3JuaGdqa2xycX+SnamvsbW7vsDDxsnN0NTW2Nvd3+Lk5ujq6ujh1saynId2a2RdXWZteIulus7c4+bl3s+7m31tXldRTk5OUVljfJSovs7X3Nza1s/Iwbq4s6egnZaMhH53cm1fXmtrZ2dra2ZmZWVgYmlwgI6dqbK5vsLFyc/T19ve4eTj39XEr5+OeG9ubGdmcXFra2tUWFhUVVhZZ21kbX+Fh4qQkpCTmJyfpa64wMfLzMjAsqCOfW9mXVtUU2FhXFxbW2NjXl5hZ3uOn7fK1dnc4eLh4uTl5ufp6Obi18mylXxjVUtLSkZJUVxxjavC0tvf4d/d2tPKwbixq6aim5WLeW5qZWRkaGlsc3yIl6GnrbO3uLvAw8nNz9LU19nb4OLk5ujp6Ojo4dTErpaFc2ZfW1peZXOIpb3P3ubp6ODRu5x8bF5NSEdHRkpVYHCLpLzN19zc2dXOx8G7sqylnZmSioJ9dXBrXVxjY2BgZGRgYGNjaWpqcXWFnaqwuL/DyMzQ1dnd4OPm5eDVxa+ah3RrcG5hYWRkbm5uWGBgYWFfX2FndX18goqNjpCNkZqfo6q0vcXMz8/Mw7imi3drY2JgYF9jY15eWVllZV9gaXB5jqe9z9rf4+Xm4+Tn6Ofn5+bk4NjKtJiCa1RLVFJNUFZhdpGsw9Pc3+Hh39vTyL62sLCspJ6SiH1zbGdkY2tsanB5hpKeqbC1ub7BwMTJzM7S19na3ODi5efn6enp5uDVxbCainp1bWJhZGtziKS90uHo7Ori072hhGRWVlFSUU1RW2VxjKq+zNbb29jTz8nBu7iyqKGclY6Gd29sZ2VkbWxnZ2JiX19eXmdoanGCj5upsbnBxsvP0dXa3uHk5+bg1cayoZB2bW5saGhqam5ubmBcXFxcaGljaW53fIKJi4+RkpWTmaSrtL3Fy8/Py8O1opKBbmZcWlJSTU1fX2JiWlpbW2Fpeo6mvM3Y3+Lk5ebm5+fm5eXk4t7Vx7OZeF9MQ0pIS05XYneRq8LR2t/g4N3Y0MW7s62qpqCZjIN7c2xoZ2ZgYWNpfoqUoKivsLS7v8DDyczO0dXY2dze4OPl5Obo6OXf0sKwm4V0bWVcW2NqcoecutHf6ezp4dG7oYVkVU1ISUhJTE9ZcoyovMrU2dnW0szGvrizrqmjmZKIgHtyZmFmZV1dYWFmZl5eYWJnaGJpeIiZp7C5wMXJzdHV2Nzh5Obl39TEr5N+eG9ubGlpbGxmZmZdYmNkZFlZYGZ0fIKHhomOkJeam6Cjq7W9wsjOz8vDt6aRgHFpaWdvb2NjaWliYmJiZ2hgZ4KUqLvL1tzg4+Tj4+Tj4+Li4d/a0saznIVwXVNNTFJVW2Z6k6nAz9je397b1MvAta2npKCZkpCKd29zcGRjbm9sc4KOmKKqsLO3ur3Aw8bJzdDT1dja3N/g4uTl5+fj3NLDsp+JenlxaGhnbnqNqL3P3efq59/SvaOJcGFfWlFRWVxha3uSqbvJ0tfX1M/KxL23tK+knpmTkImBenZyZWRoaGxsaWlqamxsa2xrcnqJlqWxub7DyMzR1djc4ePl5N7Uwq2cioR8b21ycnFxbGxsXFZWXV1VVl1jbHV5f4GDhoiTlpWaoKivuMDGysvGvrKgj39xaWZkV1ddXWlpVFRjY11eaG99j6G1w83V2dze3t/f3t3c29nX0svAsZ1+aFhPTEtOUVhjdY6nvczU2dva1s3CtqqgmpeTj4iCfG5pbWtubl9ganGBjJOdpqyvsri7ur3Aw8jLzM/S1NXX3N7f4eLh3dfNvq6biXprZGFgZWx9jpy3zNri5uPbzLafhGFTVU9NTEpNWWJzi6K2xM3R0c7Kxb+6tK6opaCWj4iAdW1wa2VkY2Nra2hoY2NkZGZnbnV7iZilrbW8wcTIzNDT19zf397b0b6oloRzampob29lZWJiYlhfYFdYYmNeZHB4hYiChIuMjZCPlKGoq7O7wcTFwruunot6b2dkYmVkXFxnZ2JiYWFjZGZudomgsb7HztPW19jZ2djX1tXU0czFu6uVhG9YTk5NT1NWYXqRprvL09fY19PKv7KloZyYlImCgXx2cnRyaGdub292f4qTnaessbS0trq8v8LCxcrNztHR1NfY293f39zWy7ytnIZ2c2xjYmBneIqbtcvY4OPh2cu3ootsXlZQSkpUWFZecYiesb/IzMzJxMC6tbCrpqKdmpWRi3ZuYl1kY2VlampiYmZmaGhqa3N6hJCToa20ub3Dx8rO0tbZ3N3c2M28qZaEgHhvbWdnZGRzc3NbXV5hYWdnZ25tdX+Ch4eEhYSHjpOboqaut7zAwLy1rJ+ShXZuZWNlZGNjZWVsbGFhb3BkbIqXo7K+yM7S1tjX2NnY2djV09DLw7mrlnxlW1JNTExPYm12jqe7ytLX2NfUzMO6sKijoJyXkYqEfXdyb15dZ2hpb4CLlp+nrK+ys7S1trq9v8LDxsrMz9HS1Njb3t/c1sy9rZyHeXlyZWVnbnKForfI1uDj4dnKtqGKb2JUT1JRVVhfZm+Fmqy5wcbHxcC8t62npqGem5KNkYuDfXRwbWxpaWtra2tra2ZmWVpnboOOnaeutLi8v8PIzM/T19ra2dTKvayai4F5cW9sbHNzbm5uWVVVWVlWVlpga3N4en17dnd6foSJk5mep660t7e0raWXi31tZWFfXl5kZGVlXl5cXF1eXGR3iqG1w83T19rc3d3e3d3c2tjV0Mm9q5N8ZlZNOzpHSldibomiucrS19nX1c/HvrSuqKWhnZeKgXpxbGdmZWhpa3J6hpWfpKqsrq+vsLGztru+v8LDxsnLztDT19ze3NbMvaqVgnJtZVhXaW9zhpq1yNbf4t/Xy7egh2JXVU9UU0lNWV9ofI6jsrq/v7y4s62oo52alpSNiYiBenJrZ2VkYGBjY1xcbGxhYVhZbXR5hpWhrLGzuLzAxcnLz9PW19bRx7uqlIN1bGtpZGNkZF9fX15dXVlZX2BeZG92eHl1cXJydXh8gYSMmKCorrCxrqihlod5b2dnZWNjWFhfX19fW1tNTmhwfI+lucnT29/i4+Tk5OPj4uDf3NfOwq+XgmxdVE9NQkZGUXONqb7M1Nrb2tjTzMO6tbCqpaCamJB9dHBsa2poaWxzd4SSnaWrrK6xr6imrK+ytbe6vL/BxMXHzdXb4N7Yz8Cum39uamJkZGFocYWctsvZ4OTj28u2n4JhWFtVUlFLTl5kXm+HnKu0uLi2sqymoZuUkY+PkY+JgnZtb2pmZWZmZWViYmBgZWVWV11ke4mWoamusLS6vsLGy8/S1dbW0sm8rJSCenJoZmZmZ2dmZmZWUVFLS1VWX2Vmb35/cW1tbnd6eoCHj5Wfqa+0ta+ppJmFdXJqWlhaWlVVWlpdXVtbU1RdZXiNprzO2dzg5Obn5+fm5OPk4uDb08axlntiWE9KSUZKTFhyjai/ztfc3t3b1s/HvrKrq6einI2BfHFpZGdma2xiaXOAlJ+jqq+vrKejnqCjp6qsrrO1tri7vsXQ2N/g29DBrpmIeGVdW1tgZ3CEn7jK2OHl5NzNuJh3XVRLRUFBREhYXV9xiJ6rtLq7t7KvqaCZkY2Sko+Li4R3b2hjZ2ZcXF1dY2NbW19fYmNka3mIlKGqr7K3u7/FyczQ1djX19PLvKeaiXJpY2FqaWdnZWVlVFxdVFRhYVpgc3t3e358gYJ/g4eMlp2jrLa9wMC9tquci3tpYWxqYWFbW1ZWWlpaWl9gY2t5jqvAztni5ufo6eno5+jn5uXk4NbJs5mDbWFYTEtKTVlkd5GqwtLa4ePg3tvUy8O6s7Gspp+WjId+cWxpaF5fbnR9iZSgqa+0tbCrpKCipamtsLK1uLy+wcPI097k5eDVxbKfiHhuZ2VlXmV2iZ23y9ni5eLbzbmegGZcVVBDQ1FVW2FnfZaquMLHyMXAurSuqKCcnJqUkJKLe3NxbGZlampjY11dZGRlZWdodHuCj5ekrbO7v8PHy8/T19ve4N/a0cKvnIpyaWdla2toaGtra1FZWV9fWFhkam52e3+GhoqLhIiOlJ2lrre/xcnKxr6zo418b2dfXV9eX19UVGNjWVlcXWxzeY+owNLd4+bn6Onp6enp6ejn5ODYyraceV9ZUEZFTVFaZXeSrMPT3OHj4d/d1svCvLavqqmilouAdm1naWhhYmVse4iVoamvs7W4tbCusbS4u7/Cw8bGyc7Q1Nzi5ubg1cWynYh3a2NdXGJpdYecs8XT3eDe1si0nIBpXU5JT05CRVhfcomdssLL0NHMx8K8ta6ppKCcl5GGfndua2dramBgWVlfX2pqZ2deX2Ztd4eZp7G4v8PGyc3R19ve4eLh3tTDrZWAd25paHBwaGhaWlpTWVpUVFxdW2FmcHp/iYqChIqOlZuiqrG7xMrPz8vCtqSJdXBoYV9YWFVVYmJZWWNjV1hianmPpb/R3eLm6Onq6unp6Ojn5uTg2Mq0l4BpU0pJSENGU15yjqvD0tvg4uHf3NXMw7y1sq2mn5aLfHFuaWZlZ2hqcXuIlqGpr7O2tba4uby/wsbKzM3Q1NbY2t7j5ujl39TEr5iEc2ZeXl1dY3OEm6+9ytPX1s7DsZuBZFhTTT8/P0JPVmmDobXDzdLS0MvFvravraiemZSNioN5cGdiX15nZ2ZmXl5eXmFhY2RnbnaHlqWwuL/Eyc3Q1Nnd4OPl5eDWxbCYhHduZGJfX2ZmWVlZWVtcZGRgYGhvb3h+hIKEkpSSlZyhp6+2v8fN0NHNxLmnk4FuZWBfYmJaWmZma2tbW1xdYGh9kqvB0d3j5ubn6enp6enp5+bk39jKtJl+Zl9WUVBOUVlkbYqqwtPc3+Hh39zVy8K9t7OvqKGbkYJ4cGtqaWtsa3F/i5eiqrC0t7q8vsDCxcnM0NPV2Nvd3uDj5unq6OLWxbShhHJrY2FhVlx2h52vv83V2NfPw7GbgWxgWVRFRUtOWmFvh56zwszR0c7Jw723samkoJudmIZ+enFuaXNyZWRpaW1taWliYmRlbnWCkJWls7vBxsrO0tfZ3eLl6eji2MWvnIp0amdlbW1lZWdnZ15WVlhYXV1ZYHF5gYaLjoqMkpWVm6Wttb7HztHSzcW5pot2dW1nZVtbYWFiYl1dXFxVVmZudYunvs/a4eXm5+bm6Ofn5+Xk4t3WyLOYfmZaUUhHQUVTXm2JqL/O19vc3dvY0cnCu7WxrKulmpB8cW1oamlrbHF4gIyUn6WstLe6vL7BxMfLz9LU19nb3uLk5efo6OXe1MSynYV0cmpaWWVsfI2etMPR2d3c1Mi1m39jWVhTSkpNUFVbaH+XrLrDyMjHwru1r6mgm52bmJORintzbGdramJhZ2diYl1daGhhYmFofYyUpLS8wcbJzdHV2t7h5eXk4tfFr52MfHRta2RkaGhpaWlbTU1SUltbV15ibH2DiYyLjY+SmZ6hqbW+xszQ0c3FtqOVhG1lZGJjY2Fha2teXl9fX2BocHeMpbvL1t3h4+Tl5eXl5OTi4d/a0cS0nXVbWlFJSEtPWGJyi6i7ydLU1tfV0czIwrexsayimpeNgXduaWRjbW5udHaDmKKqsLO3ur3AwsTHys3R1NbY3N7g4+Tl5+fk3dPEr5mEc3RsWFhiaXGEoLfJ1+Dk4trLtpt7Vk5LRUpKSk1SV2Z1i56stbq6uLStp6CalZGSk5WTi4R5cGtmZWRgYGNjXFxmZmhoZ2hiaXiImqivt8DEyc3R1djc4eTm5d/UxLCci311Z2VubmhoX19fXVxdYGBlZmJobnaDiZGTjY+Pkpmep661vcTKzs7Lw7emj315cWVjaGhnZ2NjZWVkZGVmYGiBkp+1xtDY3N3e3+Df3uDf3tza1c7Csp2FcFhPTEtJTE5YeIyfscDJzc7PzcnFwr25ta+qpZ+XjoZ9cm1nZmdob3aGkZagq7GytbW4vsDEx8nMz9HT1tja3uDh4uPj4NrPwa+djH5za2VlaW90h6K4ytjh5OTczLicfGljVE9LS0tOXWJfZXeLmaKnp6eimZOOiIF/io+Li4uEgXpvamxrZ2dpaVxcZ2dqamlqdXx/jZWjsbi+wsfLz9TY3N3g4uHe08SznY2AeG5sa2tvb2pqalxWV1dXUlNhaHB4d32EhomKjpGXnKGosLnBxsnKxr6zoYx6b2dlY1xcYWFhYV9faGhWV2tzfY6gssDJz9PX2dnZ2trX1tXT0c3GvKuUeWJbUU9OUFNOV2uAl6e0vcDBw8G8uri1tLGsqKKbkoeHfmlkamlnaGdte4eTnaarr7O3uru9vr/DxsjLzM/T1tfZ29zd3dvVy72unINzaWJfXmlwc4actcrY3uHf18u2l3RZU1dST09MT1NYXmN0iJWdo6OhnZeRi4WBf4GGjY6Kg3hwaGNZWFpaYWFoaGBgXV1iY2tyfYqVo662vMHFyczR1dnb3uDf2c69qJSCc2pta2dnbW1ra2tiV1dfX15fZWt0fH6DioyJi4+Tmp6lq663wcbJyca/saGajXNqZmRiYmlpbW1gYGVlYmNpcXuMo7O+x8/U1tjY2drZ19bV09DLxbusmHxmXVRJSEdKYGlsgZWls7y/wL++u7m3tLOxramln5qRgXd0b3Jxamt3fYCLkZulqrCztri5uru7vL/Bw8jKzc/S1dXX2dnW0Me7qpmKfHVuaGdudXKFn7bH1d/i4dnJtJ+EbWVSTFFQUlVUWWd0hZekrLKysKymoZyWkY6Oj5OSiIF8dGtmbm10dGZmbW1oaGVlZ2hqcXWEl6SutrvAxcjM0NTY3N/d3NfMvqyainlxb21mZmxsaWlpXWFhaGhYWWBncXl8gYyOh4mNkJqfoKevt8DFycnHv7KhkIB3b2BfZmVra2VlZWViYmJjY2p3iqO1w83U2Nrc3d7f3tzb2tnUz8m+q5N+Z11UU1FTVldhcYacrbvEyMnJx8O/urWzr6yopJ6QhoR7cWxlZGlqcnh8h5KcpqyusrS2tra2tri6vL7CxcfJy87R0tPT0MzEuKiWhnZxamBfZWx8jZ22yNbf4uDYy7ebf2tgWVRSUkpNWmBedZGlsru/wL25trCqpZuXmJaRjY6IhH1wa2tqaWlra2NjYWFubmJjbHN5h5ilrrW8wcPHy8/T19rd3t3Yzb6snI13b3NxbW1ubm9vb2ZrbFxcZmdnbXmAiY6HipSWlpmgpaatsrrDyczMycK1ppiKdWxhX21tZmZnZ2hoXFxqa2x0g5SjuMjT3ODg4eTl5eTh4OHf3NfOwa6Wh3NfVlBPT1Jha3qPpLbEzdHS0tDNyMO9t7Kvq6ahmZCJgXZxYmFydG50gIuXoKmusbW4uru7ubm5u8DCxcfLzdLU1dbW1tTQyLyvoIh5cmtmZm10d4qmusza5Ofk3M65oopuYldSVVVWWWFocYedr73Fy8vJxb+5s62ppKKfnZmMhYR9bGdjYnBwbm5qamlpdnZpam92i5aXpLK5vsPGys7S19vc3+Df3dLArZSChH14dnNzaWlubm5fWVldXV5eX2VpcXl/goWOkJCTm6GhqbS8xcvOzsrCtqWRf3Boa2pbW19fYGBdXV5eYmNeZnyQpbvL1t3g5OXm5ubm5OPi4d/a0sWwlnxkWE9PTkpOYmx0jaS6ytPY2tnX083Gv7m0raijnZiOgXZvamppXF1vdX2JlqCprrK1t7m8vb6/wcTIys3P09ba3N3e3t7a1c7ArpuGdm1lWVljaneKorrP3eTo59/Pup6BaFpYUk9OUlVZYnOLoLXDzNLSz8vFv7q0rKeinJaPh399dWdiaWhpaWpqZ2dra1lZYWJpcHqImqeyur7Dx8vP09fb3+Lj497Tw7GaiHxzb21paWxsZWVlWlpbWltfX2FncHh9g4aIjI6Mj5edpKy0vcbMzs/MxLekjXpzal5cZGRcXF5eWFhWVllaYWl2jKi+ztnh5efo6Ojo5+fm5uXj3tbItJt+ZlVMT05MT1plcIypv8/Y293e3NfRycC4srCso5yZj4F3bWdqaWhpaXB4hYyZqK6ytrm8v8LDxcnNzdDV19nc3uHl5+bm5d/Rwq+ainpmX2ppYmlvhKK80N7o6+nh0rydf2FTWVRISEdKSVN3j6e7yNHW1tPPysS9trKsp6GYkY+IeXBnYmJhWFhgYGhoZ2dmZmZnZ25/jZupsrrCx8nN0NTY3OHk5uXg1cSwl4R4b3FvZ2dtbW5ubmBbW15eSEhiaHF5fIKKjZCSkZWan6SstsDIztLTz8a5ppB9amJYVmBfX19cXF1dX19UVV9md42pwNDb4+bp6urq6uno6Ofm5eHXyLOXfWVaUUhGSEtTXm+LrMPS29/h4N7Z08zDu7WwrKegmI57b2tmZWRiY2RrfIiSnqqwsra7vsDDx8rMz9PV2dze4eTn6uzr6uni1cWznoZ0Z19XVmNpZHygvNDe5urq4tO9oINnWFlUS0tMT1dhcYynvMrU2drW0s3HwLm0rqKbm5SKg3pxbWhgX2pqXV1iYmVlaGhdXmBnd4ecqbK7wcbJzdLW2t7i5ebl4tfErpmFeG9oZmRkbW1iYmJmX19lZWdoanBxen6EjI+UlZmcmJ6nr7zEy9LV1tHIuaaUgm5lZ2VkY2hoZWVmZmxsaGllbYibrMLS3uTo6ers7Ovq6+rq6efi2sy2nIBoW1FcW1RXWGN6lK3E1N3i4+Ph3NXOxsG7tbGspZySh311cHBwbm9vdn+MmaOssrW5vcDFyMvO0NPY29rd4eTo6+7v7+/t5tnIsZqSg2xkZWRpb3SIpb3Q3+js6uLTvaOJbF1STVRTVVhdZ2+Kqb7O19zc2dTOyMO9uLOtp52WjYV/eGlkamllZWZmZGRubmFhaWppcHyLnqy2vcLHzNDT19vf5Ofo5+PYx7Kei3tydXNoaGxscXFxVltbWltZWV9lZW90eoaJkpSRlJqgpKy5wsnP09PQx7qnjnpoX2ZkXl1NTWFhXl5cXFFRZm58kqjA0d3l6Orr6+vq6eno6ejm4tjKtZqDa1hPS0pLTlRfeJOrw9Hb4uPi4N3WzMO9t7Swp6CbkYh+a2ZycWhpcHZ3hZSfq7Gzt7y/wsbLz8/S1tnb3uLl6ezt7/Dw7OXZyLOdkYJlXWdmX2VxhZ25zt3k5+be0LqZeWdYTEZMTElMWWR1j6m+ztja29jUzsfDvbOtqKGel4mBfHRrZl1cZmZkZF5eY2NfX2hpa3J4iJWltLzDx8vP09fb3+Lm5+fi18eyloF5cHBuaGhqam5ublxjZFVWW1xjaXiAfoSDhZGTlZiboamwt8DL0dLTz8a8qpaFc2tqaGhoYmJkZF9fYGBgYWRsf5OpwNPe5Ojq6+rq7Ozs6+no5eDZy7ademFZT1BPQ0ZdaG+Mr8XU3eHi4+Hc1c3EwLq0r6mimY+DeXBqbWxkZXqAfoudp660tbm9wMPHys3Q1Nfa3N/i5ert8fLx8e7m2smznYl4eHFiYWdtd4mhtsfV4OPh2cy4oIZ3aVROTEtER19pf5asv87Y2dna1c/Jwry0rqihnpeJgXNqcm5ubWNjZ2djY2pqZmZoaWtygY+frLe+wsfLz9PX29/j5ubl4dbGspeDeXBxb21tb29qampYX19fYFxcWmFrdICFhIeNj5GUmZ+lrbS+yM7S08/Ht6OVhHFpZmReXV1dYmJhYVdXZGVfZ3qPq8DR3eLm6Onr6+vq6eno5+Xh2Mq2nXdeU0lQT0ZJWGN4kq3D0tve3+Hf2tTMxLy3sq2moJSJgnh1cGZlY2RpcIKOmKKrsbS4vL/CxcfLz9LV2Nve4eTn6u7w8vHs5djHtaGHdmtkZGNla3SFm7DBztXZ2NDFtJyEaVtUTlFRUFRZY3GMqLzM1tra19LOyL+5ta+rpZqTioJ4cGplZWRhYWNjbGxiYl5eamtpcHqKnaqyusDFyc3S1tre4+bm5eHWxK6YhXlwaGZvb3JyampqYVtbXV1lZV5kd3+Ch4WIk5WTl5edpayyvMTK0dHNxLinkH5yaWVjZGRnZ2BgYmJbW1tcbXR8kaK80Nvi5ujp6enp6eno6ejj3tXHtZ2GcF5VTUtNUVdidI+rwdHZ3d7f3dfRysK8t7KupZ+bkYV8dXBkZGVma3KCjZmjpq20uLm8wMPIy8zP0tXY3N/j5Ofr7e/u6uLWxrSghnVpYmVla3F7i5mtv83V2NXOwrGchWpcWlVPT0tOXmh4kKi7ytTX2NXQy8W+uLSuqqSfmI2GeXF0b19eYF9lZWdnbm5wcGlqbHN8i5uosbnAxMjM0NTY3ODj5OTf1MKtnIt5cG9tbm1ubm5ublhZWmRkZWVla3d/gIWKjZKUlpmcoaWstr3EyszMycG1pJKBeHBdW2JiZGRXV2xsZmZmZ211gJOmvM7Z4OTn6Ojp6unp6ebl4t3UxrGYhG5TSltZUlVOWXONpbzO19nb29nWz8a/ubSuqqagmI+JgG9qcXBub2xyf4qVn6iusbW5vL3AxMfKzc7R1tnd4OPm5+nq6ejg1MSxnYt7YlpjYmNqdYacsMPR1djZ0sSymoFvYVhSRkZRVF5oeZCkuMjQ1NTTzsnDvLawqqmjmpOLhH11cGtlZGZmbGxvb2ZmbW1sbW10hZGeqrK5vcHEyM/T1tre4ePi3dLBrp6OgXlxb2lodXVqampfYWFiY1tcYGZncHh+hIaIiY2Ql5yhqLC5wMXJyca+sqGRgWxjYF5gYF1dYmJnZ2FhZWZudYCTo7rL197i5Obn6Ofn5eTj4d7Z0cSulYFsT0VNTExQUVx3j6a7ytLW2NjW0svEvbSurqqjnZKIgnl1cGpqaWpvdYCKkpyiqK6xtrm6vcLFx8rMz9LV19vf4uXn6Ofk3dDArJeBcWxlY2JdZG2AobTD0dnc29PGs52FdWZWUUlJT1JeaHSLpbfDy9HRz8rGwLmzrKanoZWPiYJ6cmVfZmVaWmlpXV1tbVpaamttdH2Kk6Gwt7q/w8fM0NbZ3N7e3drPvqyVg3RrbGtoaG1tZWVlWVtcWlplZV5kc3uFioiKjpCLj5ecpKqzusDFycrGvrCekIFzamZkX19lZWVlaGhgYGBhaXB0iaW6y9bc4eTl5ufo5+Xk5OLd19HDr5iAaldOS0pER1lkeZCmusjQ1dbW1NHLw7uzrq2qpJ6SiYN6dG9ubWhqbXSDjZafoqiusbW4ur2/wsXIy87R1Nfa3eDl5+fn49zPwKqVgXBtZWNjaXB2iKK1xNLc39zUyLWYfWpbVVBOTlpdW2V1jKK1w8vP0M7KxL65s6+qopyZk4yFfHRuaV9eYmJkZGhoaWljY2lqanF5h5ilrbW9wcPHy8/R1drd3t3Zzr2qmot0a2xqbWxra2pqaldcXGlqaGlmbGt0g4iEh4+RkZSRl6etsrrBx8rKx7+wnZGBdm5ta2lpZGRdXWVlYmJiY2tzf5KovMzX3eHm6Ojp6Ofm5eTi4NrQw6+VgmxYT1RTTlFaZXySqr3J0tbX2NbRysS9t7KsqKOdloyEe3Vwamlqa3B2go2Unqars7a1uLu+wcTIy83P09bZ3ODj5Obp6Obe0cKum45/bWViYmhue42gtsrY3+Pg2Mu3oIltX1JNU1NWWWNtdYyjtsTM0NDQy8XAu7WvqqCZmZOTjYB5cm5paGRkYmJkZGpqbGxmZ251f4yXpK+2vcHEyMzQ1djb3t/e2c6/rJaFgXpvbWpqbm5tbW1cXFxXV1paVFpha3l/h4qNj4qOlpumrbG6wsjKy8rCtKOPfXJqZ2VhYFVVWlpZWVhYYGFhaXqOprzO2t/j5ebo6Ojn5+bk4+Lc08WxmH5mVkxFREVJU153kKm+y9Ta29va1M7Fvbiyq6aim5SKenBsZ2RjZ2hudXF/jJilq7C0tLe7v8PGyczP0tXY297j5ujq6unm3tLCr5qGdmNbUVBka3OHo7nL2OPm49vNuJ2CZldOSFBPREhQWniPo7fGz9LS0s3GwLy2sayhm5SNh4B4cHJtYmFlZWtrXFxdXV9fYGFpcHaFmKWwuLzBxcnN0dTY3eDi4drPv6uVgnhvZmRmZmRkZ2dnVlJTWVliY15iaXJ6gIOGiYuTlpyhpq61vcXLz9DMxLWik4JuZVtZYWFpaWBgWlpeXl5fXGR/k6zA0Nvg5Ofp6Ojq6ejn5uXj3tTGtJuCa19WTEtHSlBbboqswtDZ3d7e3dnSx7+7tq2ppZ6Wi4B2cm1zcmJjanF3hJSfpayxtbm8vcHGyc3Q09bY297i5Ofr7O3s6eLXxrGbhnVjW19fYWhwhaW80N7m6uff0Lmjim1fS0ZPTkBDUVtsh6W6yNHX19XQysS/ubOtqaOWj4qCdm5sZ2BfZ2dpaWlpYmJeXmdocHd6iZemsbm/w8jM0NTY3N/i5OPb0cOvmIZ3bmVja2taWmlpaVtmZ2BhWltoanR8d3+JjJCSk5eeo6ivuMDIz9HSz8a2oo98bmVkYmZmYWFlZWFhWlpfYGRsfJGrwNHc4+bn6Orq6+rn5+jn5N/XybWcg21ORVBPS09VYG2KrMLS2+Dh4uDZ08zEurOyraegl42IfnJtZmVmaGhve4iYo6ets7e8v8LFyMvO0tXY2t3h5Ojr7e/v7+zl2smznYp5amJkY19mc4ijvdHf6Ozr49S9o4hsXlhTSUlRVFNdbIinvMvU2tvX0szGwby1sKOcnZaPiIF6bWhqaWZlb29hYWNjZmZkZmpxgo+cqbS8w8fJzdPX2d3i5efm4NXFsaGQcGdxb3BwdHRwcHBlXF1TVGFiYGFfaHmBio6SlJeanKGor7fAyc/Q0dHIuaaTgXVsamhlZW1tX19gYGJiZGVnbn6SqL/S3ePm5+jn5+fn5+fo5+Pe2Mq1nHphYllKSVNXWWR0j63E1N3h4+Ph3NXNxb64s66popiOg3lsZ2tqbm9udICMmKKrsba6u77CxcrNz9LX2tve4+bp7O7w8fHs5dvKsZmHdXRtWFdob3CFpb/U4uns7OTVvp+Bb2FYU0pKQUReaHiRq77N1tvb2dTNx8K8uLKrpJ+Yj4h9dXBsbWxeXm5uY2NoaF9famtwd3+Nm6m1vcLHy8/T19vg5Ofo5+LXxK2ciX51aGZxcWtrcXFxXl5eZmZkZFtbX2Z4goaMkZOLj6ClqrG6wsnP09TRyLuplYRyaXZ1a2tubmdnaGhiYmFianJ8kKzA0Nvf4+fo5+fk5Ofn5+Xh3NbJtJuKdVtSV1ZLTlhjeZOvxdbf4uTh4NzWzsa/ubKtp6CakH91bmloZ2RlYmmBjZqkq7G1uL3AwsXJzNDT19rc3+Hk6ezu8PHx7ebZyLWfjHxwaF1cbHN5jaW+0+Lq7u3l1sCih3ZoV1JVVVNWZm91j6a8zdfc3NnUzsfCu7axqKGel5CJhn9rZnFwZWVqam5uYmJwcHN0bHOFkpyqtr7EyMzQ1Njc4ePm6Ojk2cezmYZ5cHVzaWl2dnd3d1pcXVVVYWFUVF9mcHqGjIqMkJSeo6Sstr/GzNHRzsW3o5B+b2ZiYWRkWVlgYGBgZWVeXmBofZCnvMvV29/h4uPj4eHh4ODf3NjSxrKaf2dYT05NTlFZZHmTrsXU3eLj4d/c1c3DvLWuqaWek4iDeWhjX19fYGJofIiWoKeusbW3u7/CxcjLztPW2Nve4eTn6+3u7erj18a0n4JvZ19XV2NpbIKivNLg5+rq4tK8oIRpXFZRSEhUWFhhcoylu8vU2NnX0svFvrizraagmpOKg3BnZF9mZWNjZWVeXmRkWlphYmlwdYafrLO7wcbMz9PX3ODj5ufn49jGsJyJeXB2dGNjcXFtbW1cXF1iY2BhXl9XYXV+h4yLjY+SlZmgp7K7w8nNzsvCtKGJdmxkY2FbW2BgVlZWVllZVFVhaX2QobbDzNTX2tva2tra2djZ2NbRy8GxmntjXFNKSUVIVWB3kq3E09zg4eHf29TJv7mxq6edlo6EfHFgW2NjXl9kam58jpmepaqutLi6vsDDx8vN0NPW2dzg4+Xm5+fl39TDr5l+bGRdYWFZXmh/oLnN3OXo5d3Ot52BY1hKRUNCSUxRWWyHorjH0dXW0s3Iwbq0raefl5OMiYJxaGFcXl1dXVZWYWFiYl1dY2VgaHSFlKSyusDFyc3S1tre4+bn5t/Vxa+WgnZtbmxoaGdnaGhoWFlZVVVWV1VYZG12fYWJi42Nj46SmqKosr7ExsfEvLCfiHVuZlVTVlZbW1dXX19fX2JjVFt7jZyxv8jO0tPU1tbW1tTT1NLPy8a9rJR4YE9GRENNUFJdcY2lvtHZ3d/e3NjQyL2wp6Gclo+Jf2ZaXltRUVxcXWJvfIKOl56ipqyvs7a3u77CxcfJy9HU1tnc3t/f3NfMvaqUd2RiXldXXV9kepmzyNbe4t/XyLGUdmFZUEtDQkRIV11mgJuxwMnNzszHwbu0rqmjnJWQiX52c2xYU1dXXV1bW1hYWFhXV11fYWlzhJinsrrAxMnN0dXY3ODj5eXg1cOtmod4b2BeYGBiYmFhYVldXl1dY2NZXW94eH9+goyOkpOQkpedpK20ur6+u7OqnINycGhgXlNTVlZiYldXYmJiY2pycoajtMDK0NTX2dnZ2NjW1tXU0s7Ivq2YdVxWTUxLR0pTXneQpb3P19vc3dvWz8S4qp+Xko2GgXdrYmFhX19eXlpbYm59iJCWnJ+ipairrK+0t7y/wMPGyczP0dPV1NHNxbelkHpqWFdgYF9gZ3qTrL/N19rXz8GrkXZcVlRPRkVGSVVbboOXq7jBxsfFwbmzrqihnJeQhX57c2VdYF5XV2FhXl5fX2NjYGBbXF9peYiap7G5vsPHys/T1trd4OLh29DAqZeEeHBraWpqa2tkZGRbWVlfX2FiWV9veHh+hYeMjpCQkZGNk52lrrS3uLOsoJKLf3VtY2FmZWBgXFxgYGBgY2Rka3iLo7bEztXZ3N3e3t/e3dzb2tjTy7+ul3lhW1FPTk1RT1pwi6i9y9PY2djW08zBtaebl5OKg391ZlxfXlxcXV1naGZye4aPlZebnaCmqayvsbS5u7y/w8bIy87Q0dHOycO1oo15al9dVFRdXmh6kam9y9LW1s68p450XVdQS0tLVVhWXGd9l6m2v8TEwLy4sqymn5mVkIeAfHVwaV1cV1dKSldXXFxeXlZWX2BncICNnaiwuL7CxcjM0NTY293g39rPv6uYh3Bna2piYmdnZWVlYlpaZGRlZVthcHiDiIiLjI2Njo+QlZuiqbG2ubq2r6eciXt2b2ZkampkZF5eW1tjY2prYWlwhaK3yNLY3ODi4eLh4OLh4N7Z1MzArph4YFpRTk1QU0tWc4yovMjR1dbZ19LLwLWrop+bmJKGfXRrXFhYWFxcZmt0foCLkpihpKmrrK+ytbi7vL/DxsnMztHT1dbW1dDHuKiVfG1oZF9fXmFpfJquwM3W2dfPwa2VfWdfXFZOTkdLT1Ztg5utucLIyMTAurSwq6SfmpSQin94dm9fWmpqZGRiYl9fVVVlZWBiZW56iJKhrra8wMTIy8/T19rd3t3XzL2qmIh8dGhmcHBoaG9vb1xZWV1dYGBZX2pyeX5+gISGjY+Pk5adoqy1u8DBvLWpmYp6bmZaWExLW1tcXF1dW1tXWFlhd4uiuMfS2t/g4uTl5OPj4uDe3NfOwayRe2RPRklHREdMV26JpLrI0dTV1dPRysG3r6ifm5yWg3hzaWdiYWFaW2NpbnqJk5ugpKerrrG0tbi8v8PGyczO0dPW2tzd3drTybqplH5uZF1gYFBWaX2Ur8PR2t3a0sSvlnxdUlNNRENBRFRcc4mar73GycnIxL64s62noZuVkIqBenNrX1pZWE9PXV1QUFpaU1NgY2FodoWQn661ub7BxcrO0tba3N7d18y8p5SCd25bWWRkY2NhYWFhXFxhYVdXYmhudnl+goSLjYyPk5egp621u8HHx8S8rp2LenBnY2FbW2BgZGRiYl9fX2Budn2Qp7vK1d3h4+Xm5+jn5eTj4uDb0cSxmXRbWE5HRkJGWGNyjKa8zNXY2djX083Eu7SuqqWdl5OJeW9oY2ppVVZqcXyHlJ2iqK2wr7K4u73AxMfIy8/S1Nfa3eDi5OPg2c6+sJ15ZmdgX19jaXeKnrXI1t/i4dnJtJ2Db2JRS0xMUFNfZ3KJobTBys7PzcnEvrawraihnJWPiIF4cWllZ2ZmZmRkY2NlZV5eXmBocHuJk6KutrzBxsrM0NTX3N/g3trPvqmYh3duZ2VsbGxsbW1tXGBgYWFlZmlvdX2DiIWHjpCVl5qfo6q1vMPJzMzKwrOhkoJ2bl1cZWVjY2JiaWliYmVmaHB4jau/z9rh5efp6enr6ujn5uXi3dTGs5uDbVhPVFJPU1ZhdI6rwM7X3N7c2tbQyMC4sq6qpZ+clIF4c25qaWtsbHJ/ipSeqK2wtLa5vsHDxsrN0NPV2Nre4eTm6evr5t/VxbOgjn9za2trZ256jaG5ztzj5+bez7qhiXVoWVNISFBUXmd4j6G3x9DT09POx8G8tq+ppZ+ZkpGLfXZsZ29uYGBjY2JiaWloaWFiZGuAjpqnrra+w8bKz9TZ3d7h4+Ld0sKwnY16cXFvaWloaGxsbF5gYWZmY2RnbXR8goeMj4mLkpWVm6Ort7/Fy9DRzcW2o5iJcWllY2FhYmJqamhoX19lZmlxjJ2nvtDc4+bo6erq6urq6ejn5eDXybWch3FRSFJRUFNTXnKNqsHR2t/h393a08vDvbewq6WfmI9/dXNucG9vcG92e4eUn6uxtbi6vcDDxsnN0NPW2dze4uXp6uzw8Ozl2Mezno19cWpgX2JocIWjvNDe6Ovp4dC5oYZwYlJMRkZKTVljdo+rvcvU1tfW0cvFv7m3saumlo+NhnhvdXFlZGhoY2NoaGhoaWlqa2pxfYueq7O7v8TJzdDV2d3i5efm4NXEr5uJcmlqaGtqb29jY2NWX2BUVGpqZGprdH2DhomMjoyQmqCmrra/yM/R0c7FuaaPe2hfZmRZWWRkYWFdXWJiWltfZ3yRp7/S3ePn6Ono6Orp6unn5uXh18mzl3xkT0VDQVFVVmFyjqrC0tvg4eHf29TLwr23rqmnoJOHf3RvamtqY2RmbXiGlaGorrO3vL/BxMnMzdHU19ve4eTn6u3w8fHt5trIs5yJd2NbXl5eZW6EoL3S4Ojs6+PSu6GFaFlRTElJRklXYm6JprzJ09nZ2NPLxb63sqymoJmRioJxaGplbm1hYWBgY2NYWF5eZmdnbnaGmKexusHGys7Q1drf4eTn5uHWxa+biXZtbGpkZGhoaGhoTldYWFhbXGBmdn55gIWIjI6SlZmfqrK0vsjP09TQx7mlkH1uZmZkWVlqamVlYmJmZl5eZGx/lKrB0t7l6Onq6urq6erq6ejl4NnLt52EblhPRURITE9acY2rw9Xe4OLi4d3WzcTAu7GspJ2XjX90bmlmZWprbHOFkZOfrbO1uby/xcjJzNHU2Nvd4OLl6u3v8fT08ercyrafjHtnYFhXX2V3jKa/0+Hr7+3l1L2ihWpbV1JSUVFUVmB4kaq+zNbb3NjUz8jDvLStp6CXj4uDfHR1cGBfZWVnZ2lpYWFnZ1VWZ25+jJmotLzDx8rO0tba3+Pm6Ofh1sawmod7cm5saWlnZ2VlZVxZWVdYX2BeZGVuanGEh4qMkpaZn6SttsDJz9LT0Me5po56Z15bWVlZW1tUVFxcW1xkZWNqcIipwdLe4eXp6urq6urp6Ojn5uLZy7WbemFbUkJBREdVYG2Lq8PS3N7g4uHa08zDurSxrKihmI1/dGlkYmFiZGpxcYCUn6qwtLi5vcLFy87Q1NXY3N/i5ent7/Hy8vDo3Mu0nIZza2NbWmBmdImkv9Tj7O/r49S8oYNrXFZRR0ZDRlNdcYymvc3W29vZ1MzGwru3saegmZGMhXVsZF9paFlZW1tlZWZmUlJgYWZtcoSZqLK7w8fJzdHV2t/i5efn4tfFr5WAdWtkYmFhbW1ra2teXV5hYWVlX2V3f3+Fio2Nj5ealZupsbrCyc/T09HJuqeOe29nbWtmZV1da2tlZV9fYWJsdHuRqcDS3uXo6uvr6+zr6unp6OTg2Mq2nINrX1ZOTU5RT1p7lK3E1N3h4+Ph3dbNxL23tLCnoJeMfXJqZW9uXl9haHqHlKCssra6u77Ex8nNztHY293g4ubo6+7w8/Py693MtJ2Qf3JqZGNmbXyPpr/V4+vv7OTWv5+BbF1bVVFRUlZaZHqSqr7O2Nvc2dXOyMK8s62rpZ6XjoZ8dGxoa2pkZGBgZGRnZ21tZWZmbX6Mnqu1vcHGys7U2Nre4+bo6OHXx7Ogj311bWtxcWxsZWVlWmNjW1tfYGVrZnCAhoeJjo+Wmpmfpq60vsfN0tLOxrimi3dza2NhYWFkZGVlWlpjY19gZ297kKrA0d3k5+jp5+fp6ejn6Obi3dfJtZuBalZNR0VJTVNebIqqwtLb3+Hh39rTy8K6tK+qoZqXjYB1cm1paGRlZWt1g4yZqa+zt7m8wcXIy87R1tjY29/j5uru8fPz7+jbybagh3VxaWBfY2p2i6i/0uHp7Ovj0buegHRmV1FLS1VYXWh1jqi8zdba2tfSzMbAurOsqaOYkImCeG9vamZlZmZmZl1dZWVeXl5fanCAjZims7q+w8jM0NTZ3eHk5eXf1MWymoh7cmxrampkZGpqamFfX2dnXF1nbHB4f4WLjY6QlJeYnqOrs7zFzM/PzcW2pJKAeHBwbmVlW1tlZWlpaWlcXWx0f5KtwM7a4eXn6Ojo5+bn5uTj5N/UxrOafmdYTk9OTlFeaXWPq8HP2N3f39zX0MnBubOuqqSekYaBd3VxcXBoaWtygo2YoamvsbW3u7/CxsnLztLV19vf4uXp7e/x8e7n2sm0n4t6Y1toZ2hufpCjvNDe6Ovp4dG7n4NvYFdRSEhLTlpkgJapvMnS1tbW0czGv7m0rqegnpeSjH53cW1sa21sb29tbWpqZGRmZ2pxfYqapq62vMHFyc7T1trd4OLh3NLCr5qJfHRwb2xsaGhqampSYmNeXmRkZGdxeXh+homNjoyQmp6bpLK7w8nLzMvDtaORgXVtZmRmZmVlampoaFtbZmdudnqOqLzN2N7h4+Tl5eXk4+Pj4d7Z0cSym4NuXlVRUFZZYWx9lKzAztfa29nW0svAuLWvq6egmpWMgnlkX2ZlYGJscn6Ji5akqaywsrW6vb/CxMfMztHU2Nzj5+jr7u7q4tfHsZyPgHlyYmJudH+QpLrN2+Tn59/OuaKKcGJTTUpJXF9mcX6Uo7jH0NXW0s7Jw764r6mlnp2XioJ8dHdybm1paW5ua2ttbW5ucnNwdoGMl6Gnr7a7v8PIzNDU1tnb2tbNvqyej3x0enhtbXl5ampqXV9gWVlaWllbZW10eX+Ce32EiIqPnKWptL3DycnFvbOjjXtrYmRiX19fX1paXV1YWGFiZGx2iqC3yNPa3uDh4N/f3t7d3NrY08u/rph9ZldOTEtLT1JddI2kusnS1NXU0MjBurOrpqGdlY6IfnhvYl1aWllaXmR0f4yVmp+kqKuusbS2ub2/w8XIzNLY3eLk5+jo5t/SwrGdh3dsZGJhV11sgZy1ydff4uDYyraehW9hVE9FRU5RU11xiqO2w8zQ0M7KxL+6tK2ooJmYkoZ+eXJuamtqYWFfX2FhampjY2NkaG1vfImVoaius7a6vsLGys3Q0dDMxLimloZ+dWNhZmZmZmRkZFtVVlpaZWVbW1ddaW5xc3p8gIOBhpSep7O8xMnJxr6xoI9/Z19lY2RkXV1paVpaXl5eX2hwe42htcLN1trb29rZ2dnY19bU0MvEuqqUdV1fVk9OREdibXqRpbrI0dXU0MnBuLGppJ+ZlZOOgnhvZmZkXV1dXWBjaHOAipKYnKChpKeqrrG0t7m8v8XM1Nrg5Ofo6OXe0cGvnIZ2cmpfXlphcISetcfV3N/d1cm1m4JpW1BLUFBYW1dhd42ltcHJzc3Lx8K9t7KuqKSel5GOiH94bWhpaF1daGhpaWxsYGBnaGltcHqHj5ObpamssLS4vMDDxsbFwryzpZaIdm5raWdnZ2dpaWlZWVlhYVNUY2NfYGRoa21vcG9ye4GGk6KwvcbJycfAs6KKeHRsZWRdXVxcZGRgYF1dXF1iaYCQnrLAytHV1dPRz83OzczNy8bCvbankn9pWlFLSU9TVWBzjKa7ydLT0c7GubCooJmUkY2Ig3lvX1hjY2NjYWFRUmFrd4GFi5CTl5qgo6Woqq2ws7e+ydLa4eTm6enl3tPDrZeJeWFZXFteZHeInrTG09vf3NXGsp6GcGFRS1JSRklaZG2Fn7K/yMzMycXCvbm1raigmpqTgnp5cXJtZWRlZV9fY2NlZWhoaWptcWtzgIeQmJ2ipqqtsbW5vb/BwL+7sKORgXlwbGppaW9vZ2dnVVxcXl5ZWVtbYWFjaHByamxrb32Cipels7/Iy8zJwbKgjXtpYWJhXV1WVlRUY2NhYVxdZ255i56yvsjQ09LPzcrHyMnIyMbDvru1ppJ7ZF5VTkxKTVVheJCnvcvT19XOxryzqqKZk5KNh4F1amReY2NfX1lZYGBibHR/i5CQlJqdoqWoq62ws7W3v8vU3eTl6Ozs5+DVxLCbgW9sZF9eXGNqfp2yxNLZ3NvTxbKcg2haVVBTU1JVUVtyiJyvvcXMzMjEwb24tK6opZ+XkIR8enN0b2dmZmZoaGJiaWllZWFiaGx2foePmqGmq66ytrq+wsXIysnFv7WllIRzamBeZ2dkZGBgYGRcXF9fXV5eXmFnbnN1d3h6gYWDiZWgrrrDy8/PysK0oY58aWFlZF9eY2NeXl1dY2NkZWFofI6lt8PN1djY1dPRz9DPz8/NzMfCuq2ZgGpZUE5NT1JIU3KNqsDP2Nva19DIv7evpqCZlI+IhHpuZGFgV1dYWF9jbHiEj5acoKSmqa6xtLe6vcDDxszT2uDl6Orv7+vk2Mezno19a2RkY2dtcoOZrr/N1djXz8KxnYZtX1hTU1JVWFZedYmcrbrDx8fGwbu4t7Swq6ehkouLg3tzaWRoZ2dmaGhhYWVlWlpiY2hteoWQm6eur7S6vsLGy8/S1NfW0sq8q5WDcWhpZ2RkampqampYWFlgYV9fW1xaZHZ8en2Fh4aKjpShqrS+xMvQ0c/GuKaQfWxkYmBhYFJSWlpYWGVlY2RnbnKIqLzL1dzg397e3Nvc3Nzb2dfSzcKwmYBpWU9LSkZJU199lavC0tvf393Z0MjCurKsp6Oel4p+dmtnYmBgZmdla3qFiZShp62wsrW4u77CxcnLztDU2t/j6Ozv8PDs5dvKtJ6GdGdfXl1dY3aFl6q5x87S0Mm+rpmBbF9UTlJRUFNYX3OFkqW0vcHCwby3tra0tLCnoZiQj4h4cGlkcXBnZ2RkZ2dhYWpqYWJhaHOBlaKttbvAw8fKztPX2t3f3tnQwa6ci3RrbGpvb2VlYWFhVF5fXFxgYFFUZG2AhYmLi42NkJWaoKm1v8nQ09PQyLijkH1tZF9dZWRXV2RkX19dXWVlYGh7kKq/ztnf4+Tk5OTi4uPj4eDf29THspiAaVVMRENRVEpVb4ysw9Pc4OHf3NjRyL+3sa6popyNgnVqamVqaVtcanFygI+ao6mxtbm8vMDEx8rO0tTW2t/j5+vt8PDw7+jaybahhnRsZGppY2luf5qsu8jO0tPLwLCbhXFjTUhQT0pNXmVfd5aot8DGxsO+u7q3ta+qqKGako2FeHBtaGhnZmZgYGZmaWljY2prX2Z6iJunsbm8wcbKz9PW2uDj5OPf1cSvmIR3bWhmXl5qamRkZGBhYllaWltgZXB4gIWMjpCSlZiZn6evucLJ0NPU0sm8qpOBd29lY2ZmX19nZ2RkZ2hsbWpygpanv9Ld4+fq6urp5+fn5+bl5N/Yy7aefmZeVU5MT1Jga4GZsMbV3uPk4d/d1szEvbeyramjm5GDeHJsZWRsbXF4eoeXoaWstLi7v8LGyMzO0tXY297h5ejr7/Hz8/Dp28q4pJSFdW5oZ2ZseImhtMXT297d1ci2nYRvYV1YXVxbX11md4udsL/Jzc3Mx8K/ura1sK+pn5iNhYN8dnFpaGZmampqam5uZ2dqa3F4hZKdqrW9w8jLz9PX2t7j5ufm4dfHtJyKgHdycGxsaWllZWVaTU5dXVdXZ21ocX6EhomKjI2Rk5miqrW/x83T08/GuKWIcmlgZGNcXFpaYGBdXVVVX2BZYHWMp7/R3OPn5+jq6enp6Ojn5uTg2Mq1mnphW1JGRUlMVWB0j6rC09zh4uLg29TLwru1rqmpopeMfnJ0b15dYWJpb3mGj5qjqq6yt7vAxcjMz9PV2Nve4eXo6+7w8PDu59rJs5uEcWxkZmVka3SHnLfK2eHk5d3NuJx/a1xVT0NDSUxWX3WMoLbEztPT0czHwru2tK6ooZWNhXx3b25pZWRpaWRkWlplZWBgZmdtdHmImqm1vMHGyc3R1tre4+bm5eHWxrGfjXhvaGZgYGNjZWVlV1laYGFmZmhub3eAhouOkJGVmJ2io6u4wMfO0tPPxrqqkX9yaWJgYWFlZWxsYWFnZ2dodHx5j63C1N/j5+nq7Ozq6unp6unl4dnLt5+EbWBWVFNIS0xXeZOvxdTd4eLi4NzVzcW+ubSwrKaZjoN3cmttbGJjcHZ3g5Cbpqyusra6vsPIzNHV1tnc3+Hk6Ovs7vDw7ufbyrahhnRvZ2VkY2p3i6W8z97l6ejg0r2kinlqU05JSVtfWmR0jKi6ytPZ2dbRysS/urawqKKel46Ggntwa2JhZ2dmZmlpa2toaGJjbXODkZqotr3Cx8jM09jc4OPm5+fi18axnYyCemxraWlwcHFxcWZnaE5PXV1bYXZ+eoCKjIqLi46an6Ors7zEys7PzMS0oZOCb2dlY2NjXFxpaWBgZGVjZG11eY6pv9Hc4ubp6unp6urp6Ojn5N/XybeggWlaUElITFBbZmmIq8HS2+Dh4uDa08vDvbisp6mimI1/cmhhX19UVVdcdH+Hkp2ipqmrsbnAxcrO0dTX297e4eXo6+3t7ezl2MexmYd1bWVmZWpxe46kvNDf5uno4NG8o4pvYFhSTEtZXFxld4+ousjR19fRzMrEvrizramjnJaMhX53bmpnZmZmZ2diYmlpYWFiY2lweomdqbS7wMTJzdDU2Nzh5OTj4NXEsZqIe3JvbnFxX19oaGhaXFxQUVFSWF5ocX2Di4yEhIuNjpSdpay1vsTHyMW9saCOfm9nWlhbW1paYWFnZ1dXWlthaXeMorvO2eHk5ufo6Ojo5ubl5OHc08WymXxkWlFLSUxPVF91j6a+zdbb3N3b1c/Hv7u2rainoZOHgnRkYGNjXFxeX2l1e4aQlpqeoKeyusHHy87R1NfZ3N/i5Ofp6Ojm39bGrZaHd2NcVlVZYHOHn7nN2+Tn5t7Pupp8dmdVT01NT1JNV3GKobbFztHS0MvGv7ixqKKemJGKiIJ5cm9qZmVoaGBgYWFfX2ZmY2RrcnuKl6Wvt7zAxcnM0dXZ3N/h4NvQv6mZh3VrbGptbGhoY2NjXFpbYGBfYGRrcHl6gIaHg4KBg4ySmJ+mrra8v8C9tqqbjH1wZ2FfXVxiYlNTXV1hYV1eZW1ziKa7zNfe4uTm5+jn5uPi5OLf2tPFsZqDbVtRQkFMT1ZiZoSpvsvT2NnY1dLMxLyyrKunn5iPhHpsb2xVVV9fXl5nc3+Jj5WYnKKosbi/xcrNztHU1tjb3uHi5Obm493Qwa6ah3duZlpaYWhzhqG4zdvh5eTczbicgWxeVlFVVVBTWmR2i6GzwcnNzcrGwLq0rqSenJaQioN+fXdrZm5taWlfYGNjZGRmZlpba3J9ipWirrS5vb/Dys7Q1Nrd3dzXzb+ulYNxaG5sa2tycmpqal1jY1tbZWVka211eH6IiIeEfX6AhY6Voaits7W2ta6lmY+CcmpkY2dnZGRbW2trZGRjZGRseo2musjT2t7i5OPk5uXk4+Hg3NfQw7CahnFgV1FQRUhYY3iQqr3K0tbX1dLOx8C5sKuopKKcmI9/dGZhY2NbW19janeGkJidoKSnrLO5v8THyszO0tXX2tze4eLj49/Zzr+vnYR1aGFlZF9meYuht8rY4OPh2cq2nYRuX01IUE9SVWBpcoecrbzEyMnFwLqyraeemZWPiYN3cnt3bGlYV2Fib3Bra2dnaWlpamxzfYqYo6uwtLm9wcXJzdHV2NjX08q6qZaFf3hubGxsbW1oaGhfW1tcXVRVZGpze32ChIR/fX+Ah4yQl52mrbO3t7WvpZmPgmtiaGZfXlNTZGRfX1hYVldkbHyOobbG0Nnd3d/i4uLh4eDe3NrVzL+sk4FrVk1RUEtOWWRwiqS6ydHW1tPPysO7s6ulpaGclo6EeW5oY1dXXl5dY2h3ipWeo6WorrK3u7/CxsnMz9HU1tja3eDh4+Lg2c6/rJmIeW5nZmZaYHeJn7bK193h4dnLt5yCaFpIQ05OSU1cZXCDlqazvMHBvrivpqCZk42HgX54cm9rZ2JgX19eX2ZoWFhubm1tZWZqcX2Kkp2nq66ztrq9wcbKztHS0c7Gt6aUhHpxbGpoZ25ubGxsWFlZX19fX1xjdHx+g4eIiId9f4qQk5qnrrW6vr67tKqbiHh4cGtpZGReXmJiUFBlZWRkZW13iqO1w83U2Nrc3t7e3d3c29nW0cu/rpl3X19VUlFKTVhjc4ypvcrT1tbTzca+t6+moZ+blY+IfndtX11cXGBgXGFse46ZoKasr7O2uLzCxcfKztDS1Nja3d/i5OTk4drPwK6aiHlqY2JhZGpzhqG4y9ji5eLazLicgG9gVlFLSkxPXmZxg5Ojsrq+v7u0q6GWjoqEfXdybGdkYmFgYGNjYGBcXmJiaGhmZmVmZWx8iZWfpqmusrW5vsLEyMrN0dDKwrmqk4F1bGhnX19qanNzc1NSUlNTWVprcnB5gYeAgomJio2Sl56lrba9w8XGw7uxoY19dGtcWlxcZmZYWFxcYmJgYWNqdoqitMHK0dXY2drb29rY2NfW1M/Ivq2Xc1lZUEhHUFNYY22Jp77N1tnY08zCubCoop2alo+JgXhqYV5dYGBoaFdab4CNm6SqrbC1uL/Dw8fKzc/S1tjb3t/i5OXo5+Pc0sOvmoNyaGFjYmRreYyjus7c5Ojm3tC7nYBpWl5YUVFVWFtkdIeXqbfAxcXBurOonJOOiIJ7e3VraG1rYGBTU1JTVVdubmVlaGhjZGRrgY2VoKessLW6vsPHyc3S1NTU0sq8qpeFd25wbmlpdHRycnJfVlZZWVtbXmRjbHd9i46HiIyPlpygqLO7w8nMzcnBtaOQfm1lYmBgYF1dXV1XV15eXl9ian2PorXDzNPX2drb29ra2djX1tTPyb+ulnVcUUhOTUxQVmF0jqnA0dnc2tTNxby1raOdm5aPiYF3amBdXGFhX19UWG+BkJ6rsbC0uLu/wsXIzdDT1drc3uHj5efp6enm39TErpiHdmVeXFtqcW2DorzR3+fq6eHSvZ+DYlNTTlJSTFBbZHSKnbHBys7OzMa+taylm5WQiYZ/c21qY1xZWFhSU2BiX2BjY2JiZWZgZ3WElqOts7m+wsbIzNLW2dze3djPwa6UgHNqaWdvb19fYmJiX2JiXl5hYl5kaXJ/hYeJjY6Slpiepa22vsfN0dLOxrilj3xxaWNhU1NZWV1dXV1jY11eY2p2i6O5ydPa3t/g4eHh4eHg397c18/Es51+Zl1US0pITFxnd5Gtw9Pc39/b1s/GvrarpaaimZKLgHRqYl5gYF1dXWRzg5Ogpq2ytr3AwsXJzc/S1dfc3t/i4+Xo6evr6OLVxbOeiXhrY11cXWR6jqe/0eDq7uzk1b6ggmpbVVBCQU9TXmd3jqa5x9HV1dPOxr61rqmjnpeRioN8enRrZ2ZlY2VgYW1uZGRhYWVmZWx8i5qnsri8wcjMz9PW297h4+Le08Krl4R2bGNhaWljY2xsbFxTVGBgWFleZXN7e4GMjo6QkJOZn6evtr/Iz9PUz8a4pI98cWheXFxcXV1ZWWBgYmJeX2tzeo+qv8/Z3uLk5ebm5eXk5OTj4d3VyLSae2NUSk5NS05ZZHeRrcTU3eLi39zVzsa+tK6noqGakod7cGplXFtbXGZubn6WoqatuLy6vsXIys3R1NfZ3eDi5OXn6uzq6ejh18a0oIx8Zl9jYmBnbYOkvtLh6u3r49O9nn9oWVVPUlFUV11mdo+nvMnS2NjW0cvDu7SuqKKbk4yJgnlybWljYmZnaGldXV5eWVlpamRreYmXpq+4wMXIzNDU2t7i5efm4NXErpuIfHRraWBgYGBmZmZdV1deX1JSYml0fH+Fi46QkpCUnaOlrbbAy9HS09DHuaaQfXNrY2JeXmJiYWFdXV9famtka4CUo73Q2+Hk5ufo6Ojo5+fn5uPf1sm1mnphWlFJSEdKVWF0j63E1N3h4uDe29TJwbWur6ujm5aMgXdiXWZlZWZxeHqIlqKpsLi7vcDCxsrN0dTX2t3g4eTn6unr7ezp49fGs56Le2liYWBdY3iMo73T4ejs6ODTvaGFaVtKRUtKTVBbZX+WprzM1tvb2dTOx8K8tK+moJePi4R/eG1oZWVjY2dnYmJmZmhoaWppcH6Nl6a1vMHGys7T19re4+bo5+HWxK2Xg3lwa2ljY2FhZWVlY1xcX19fX1hebHWAhoqNjo+VmZqgrLO6wsnP1dXRyLikkH1zamhmZ2dnZ2NjY2NmZmJjY2t/lKjA0dzj5+jp6enp6enp6Ofl4dnLtZt/Z1pRS0pAQ01YdI+rw9Pc3+Dj4dvUzMO9t7GtqKKakIR6amVoZ2ZobnWBjZqkrLK1ub3Aw8bKzdHU19rd3+Di5+np6+zs6ePXx7GciXhzbF5dZ25yh6W8z93m6eff0LqegWZXUk1RUE5SWGJ8k6i9zNba2tjTzcfAurexp6CXkIqDd25sZ1taZmZoaGpqYmJlZWVmaG+Ajp+stLzBxsrO09fa3uPm6Ojh1sawm4eAeGpocHBpaWpqaltYWGFhX2BZX3B5g4mQkouNk5eepKauuMHIztLSz8a3pJWEc2tfXV9fW1tZWWRkW1thYmhweo+rwdDc4ubp6uvr6unq6eno5ODWyLWcgWlgV01MSk1ZZHqTrcPS2+Hi4N7b1M3Fvriwq6ehnpSGfGxmb25lZnB3e4iYoquxtrq9wMLGyMzR1Nfa3N/h4+bo6uvp6efh1cW1oo+AcGhWVWNqdoictcjW3+Lh2c25noRvYFlUVVRQU1xmeJCnu8vU2dnW0czFv7myrKegmZKOh3hvcm1wb2dnXl5lZV1dWlprbHJ5f42Xpre+wcXIzNHV2d3h5Ofm4NXFsKCPe3Jta2Rkb29qampbYGBlZVZXYmh4f4KIhIeLjY+SlZumrrK8xszQ0c3FtqKPfW9naGZkZFtbW1tgYGJiXl9jan6Spr3Q2+Hl6Ono6ejn6ejo5+Tf1cezmIBpZFtTUktOUl5zjqjAz9jb3N3b2NLKwbexrqmlnpqQgndwa2hnZWZxd32JlJ+mrLK2ubzAw8fKz9LV19rc3uDj5eXm6Ofk3tPDsZ6IeHFpZWVgZ3SFma6/zdXY1c7DspuDZ1lSTE1NUFNYYnmQpLjH0NXV0s7Iwry2rqijnZWOiYJ7dG5paWhpaWdnZ2dlZV1damttdIKPlaSyub7CxsrM0djc3+Lj4tzRw66XhHlwcnBnZ2ZmZ2dnVlhZVlZiY2Nqb3eEiYyPlJWSlZyhpay1vcPJzs/Lw7OhjnxxaGRjYGBjY2lpW1tgYF5fbXR7j6q+zNfh5Obo6enq6ebm5+bj3tTGs5x4X1tSVlVNUV9qfpWovszU2Nnd29XPx7+6ta6qpqCUin5zc25jYmdoaW99iZSep62zt7a5v8LGyczP0tXZ29vd4OLi4+Pj4tzQwa+cjoBuZltbZGtygpeouMXO0c7GvK2bhnhrZF9VVVVYXGVyiaS1wsvPz83IxL65s6ynoJqWkIaAgHprZmRjaGhkZGVlaGhra2Zncnl/jZmlr7a6v8TIzNDU2Nve4N/Zzr+qnIt5cG1rbGxxcWlpaVBbW11dXV1fZWZvfYKFh4mKkJOSl6CnsLi+w8fHxb2zooJuZl5mZF9fYmJjY2NjWVlhYmRsgJOkus3Y3eHk5ujp6Ofn5uXj4NvSxK6TeWFXTktKSk5VYG6JprvJ0tbX2NbRy8S8ta+qpqKclIp8cWZgY2JpamZseoWNl6Kpqq61uLq+wsbJzNDT1tjY2tvc3+Df3tzWzL2qln5tZ19dXGBncYGVqbnGzdHQyLyslX1uYFdSS0pKTlxlcoedrrzEx8fFwLy2sKqjnZ2YkYt8dnNtXVhoZ2JiZWVnZ2NjaWlfYGZtdoSXo6uxtLnAxMfLztLU19rZ08m8qZWDe3NnZW5ubm5mZmZcWFlfYFlaZGp3f3l/hYiLjZCTl5ufpa62vMLGx8O8sKGPf3RsZ2ZgYGRkaGhhYWJjY2RlbXyPprvK1d3i5Obn5+fn5eTl497Z0cOtk35oYFdIR1JVWGN9k6e7ydHW19fV0crDu7exrKiinJaNe3BsZmRkX2BnbXmDjJafpq2xs7a7vsLGyczQ0tTW2Nra293e3Nza1Mq8q5mMfnNsa2plbHOEmq6/zNXZ1s7Br5iAZlhaVVpaTVFham6CmKizu8LCv7u1sKqkoJuTjoeBeXVwa3BsaWhubmtrZGRjY2lpYWJsc4CMk5+orbG1vL/BxcnN0NPU08/GuaiUhIJ7cG9zc2dnampqY1VWX2BXV2Rqc3qCh4aIjY+OkI+Uoaass7m/wcHAua+hlIZkXGJgYWFfX2NjXV1jY1pbbHN5jaO6y9bd4ePl5ebn5ubl5OLe2NDCspyDbltSSUhLTldidY6mu8jR19jW1NHLw7u1r62poZqXjXhramJcXFlZWV9rd4eRm6OrsLS4u77CxsnN0dTV19jY2tra2tzc2dPJu6aQiXtmXmZmYGd5ip+zw9Ha3dvTxrSZf21fVE5MTFFUWmJtgZWns7zBwb66trGrpZ2XlY+HgX57c29va2RjYmJdXWRkY2NgYGBhZm13hZOdpqmtsbS4vMDFyMzP0M/JwrenlYV6cmhmZWRubmpqal5fYGJiWFhVW3N7fIKHio6PjZCVmJygpq61u7/AvLWrnI1+cWlpZ2BfXV1eXmlpX19lZmVsd4ylu83Y3+Pk5unq5ubo5+Xk4NvSxLKaeWBdU1BOT1JVYHmRprzN1drb2dfVz8a/t7GtqaKcmI6AdG5oYGBbW2ZpcHt/ipiiqrG3u77CxcnN0dXY2tvc3NrZ2tva2tjTybyqloZ3aWJjY2hueoyht8nX3+Li2su3m4BuX1JNT09NUFtjdoucrrzFyMjGwr24sqyinJqTkoyBfHVvbGhlZGJiaGhhYWpqXV1lZmlwdIOUn6aqrrK2ur7CxsrO0dHQzMW4p5eHcGdqaGxsZmZqampWU1RcXFdYX2VocX6Eg4aSlIeKkZKSlJmirbO1trStpZmGd2xkW1laWVpaYGBeXltbWVpkbHiNpr3O2uHl5OXo6Ojo6Ofm5eHc1MaymHlhU0pJSEpNWmVzjqm/z9jc3d3b19DJwLy2rqmlnpeNfnFnYVpaW1thZGZzhI6bpauyub2/w8fL0NTX2t7f3tzb2NbX1tbU0Mi8q5eCcWhgXl1cY3CEoLrN2+Pn5t7OuZ+Db2FRTEpJTlFeaHyRoLTDzNDRz8rFv7iyraeel5aPhH18dW5qY2JpaVpaYWFmZl9fa2xrcXuJlqKtsrS5vsLGys7S1NfZ2NXMvaiZh3Zta2ppaWVlbGxsTVdXWFhYWVpgZW58goWIiIqKjJGQi4qQmaKoq6upo5yRiX1sY11bUlJYWF9fYWFhYVpbXWVxiae/0Nvh5efo6urp6ejo6Ofi3dfJs5eBal9WTEtKTVRfcIypwdHa3uDg3tjSy8K4srGspZ6YjoN3ZFxdXV5eX2VpdoeTnaevtbq+wcXM0NPX297e39/c19PR0tHR0M3Gu6qWgnFhWVpZYWhrgaG80d/m6ejg0rughGxeRkFGRkxPXGZviaW5yNHV1dXQyMK8taqjopuYkYJ6e3RoZGFgXV1hYVNTXFxeXl1fYWh0hJWjrrW6vsTHzNDU2N3g4N/a0MOxloN8dGpoZWVtbWhoaFpOT1tbW1xdY294c3qIi4qMkJKSkY2MkJqjqaytqaOekoV3aWFaWFNSWlpgYFlZWVlWV1xjdIumv9Hd4+bo6enq6Ojp6ejn5uHYyrSZeWBZUEVERUhTXm2LqsLT3ODh4uDb1c3FuLKwq6mimY5/c2NcWVhYWWZscX+Ll6GpsLW5vcLHy8/W2t3h4+Pi39nU0tLU09HOx7ysmId3bGVfX1xidImjvtPh6u3s5NS9oINoWVVQPj1NUUpUc42mvMrU2dnX083Hv7m0r6WekomJgXx0a2dgX2JiYGBgYGNjW1thYmtyeYiUpLC4v8PHy8/T1tvg4+Lh3tPErpiFeG9gXl9faGhmZmZdWFhcXWZmXmVxeX2DiIuRk5WXmJmVl6Gqsbi7vLixqp6IeHFpYV9fX2RkZWVcXGFhZ2hnbnWLpb7P2uPm5ufp6ejo6urn5+bh2Mm0mXNZSkBPTlVZTVhzj6zE09zh4uLg3NXOxb23sq2ooZySf3NtZmdmY2Rjan6KlJ+osLW5vcHGys3S19vf4uPk5OLg3d7e3dza1s7BrZeMfG5mX19obnyPp7/S4ent6+PUvqWKaFpYU1FRUVRWYHiRqL7N19rb2tXOyMC5tK6noZiRi4N/d2RfY2JdXWhobGxkZGhoaWppcH6Nmqi0u8LGys7R1dre4uXn5uHWx7OYhHVse3lwcGtrbm5uWGdnX2BYWWNpcHiBh42QkJKQk5+ioKSutr3DyMnEvLKij392bl9dXV1jY15eU1NaWmtsWmGAkqm9ztnf4+Xm5+fl5ujp6unm4trMtpyFb1xTUE9RVVxnc46pwdLb4OHi4NvUzcW/ua6pp6CbkYB1bWdsa21ub3Z7iJqkq7K1ur7Cx8vM0Nfb3uHj5ebm5OPk5eTj4NvRw66YjHxza2RjaW96jqO90uDp7Onh072ihm9hTkhYV1ZaZnB4kaq+ztfc3NnUzsfCvLOtpZ6fmYqDf3hybWVkXV5sbGVlaGhqamhpa3KBj5qotLzBxsvP09fc4OPm6ejj2MawnYqBeGlnZ2dubnNzc2ZTVFhZY2ReZGt0foSKjZCSj5Obn6OpsrvCyczNysG2ppGAcGhnZWBgYGBhYVtbY2NtbmZsfo+ht8fT3N/g4eHh4ePm6Ojn5+LZy7adhW5VTE5NVFdUXnyTqsHQ2d3e397Y0srCvLazr62nmI6DeHRva2prbHJ5d4WXoqqwt7q9wcPHzdHV2d3g4uPm5uXl5ubo6OXf08OvmYl5b2hkY2pxeIyju83c5Ojn38+6n4NxYlhSU1JSVVplfZSrvs7X29zY087HvbayrKWfnJWOh352ZWBmZWlqXF1sbWpqampnaGFogI6eq7S8wMXLz9PX3ODj5ufm4dfHs56Me3Nta2hocHBoaGhgVVZcXGlpXGJze32DjI+SlJSXmZ6iqrW9xMvMzcvDs6CNenFpZ2ViYmFhWlpjY2ZmYWFhZneGlay/ytHV1tfY2Nnd4OTm5uXh18m1nHphW1FPTk5SX2huiKW8ytPX2drY0szHwLexsKynoJySgHZsZm1saWpjaoGMl6GorrS4u77Dx8nN0tba3eDi4uPk5eXm5uXj3dPEsJuIeGxkY2NnbnWIobbI1t3h39jLuJ+GaVtQS1FRT1JUXnONp7zL1djY19HKw7u1sKqjnZaPjIV1bWtmY2JkZWVmXV5mZmZmZ2hpcHqJm6myusDEys7R1dre4eXm5eDWw6yYhHZsZ2Vra2dnc3NzXFZXVVVPUGFnZ3B8goeKjI6RlJqfp621vcXLzc7Lw7WjkYBuZWFgW1tbW19fX19sbGNkZWhseo+jsr3GycvNzMzQ1trf5OXj3tXHs5mEbl5VUE9ER1RcbISds8PM0dLRz8rGwr23srCspJ2RhYF3bmlsa11eanF9iZGdp62ytrq9wMPHy9DT1tnd39/g4uPl5uTk4tzRwbCejX9iW2VkZ21zhJyuvcrT19TMwbCag25gXFdGRkdKW2V/lai7ydLW1tHLxbyzrKGbmZOOiIR9bmZmY2NjXl9jZWZnZGRqamhpbnV9i5ypsLi/xMfLz9PY3N/h5OPf1MOwmIV8dGlna2pra25ubltpamRkYGFla2t0en+KjY2Pi46an6GotLzCyMvMycG1pZSEa2NhX2JiXl5jY2VlampmZmhrcX2KoLK9w8fKy83OzdPa3+Tk4NvTxbGZemFbUlVUSEtcY2V7laq7w8fJx8bBvrq2tbKwrKSem5ODenFsZWRsbXB3fIiVn6assLS4u77Bw8fMz9TW2Nrc3t7g4uLi4d/YzsCunH1rbGRral1jdIOYqLXCy8/Mxbmql4FsXlZRTk5SVVRfdo2luMbP0tPQycC2qqKhnJKMiYN8dWxlX19kZF9fYWRlZmhoaWpoaW1zgY6ZprO6vcHFyc3R1trd4OHg3NHArJmHe3Nsamhoc3NkZGRbY2NlZVZXYWdweHh+hoiIioyPlpujqrK5wMbIycW9s6OLem1lXlxgYFZWYGBmZlxcXV5iZ3OClKi6xcvP0tTV1tba3eDi4t/a0MOvl4BqWU9JSEtOVFxqfpSpuMDCxMTDwL25tbKvrqqln5SLhn5ybWNjXl9wdneElJ6lq6+ytbi8v8LFys3P0tPV2Nrc3dzd3t7b1Mu9p5GCcmZfZmVkanaFlai3xMzQz8e7q5R8Z1lQS09PTlJdZ3yRorXDzM/Qzca+tKifnJeSjIV/eHFoYVpZYmJhYV5haGlnZ2hoa2xmbXyKmaWttL3BxMjM0NPX3N/f3djOvambi3ZubmxnZ2VlX19fUlRUWVlcXGBnanJ0eouOh4mUl5SZn6exub7ExsfFvrGfiXdkXGFfWFhaWl1dYmJbW1paYGd3iJuwwMvS19na3N3e4OHi4eDe2NDDrJFzWV5VS0pGSVtjaoGZrr3FysvKyMTAvLewrKmlopyOg3pwa2ZWVWRmaW90gY6Zo6mrr7G0ur3AxMbJzM7R09fZ2tzc3d7d29XJuqqYgXFhWVxcanBzhJquvszU19XOwa+YgGRWU01DQ0hLXGZ1jKO1wcrOzszGwLetpqGbkoyJgnt0bmdgXVdXWVpgYmdnYWFeXmRlanF6h5ajrbS7v8PHys/U2Nvd3t3Yzb2plIKCenJwZWVnZ2FhYWNjY2NjX19hZ3N6hImKjY6Qj5KcoaSrsrrBx8rKyMC0o5B/dm1raWNjZmZaWmJiXl5gYWlweIujt8jT2t7g4ePj4+Tl5eXj4dzSxLCZeWFcUk9OSk5QWXWLn7TDzNLT0tHNyMK8tbGopKGamI+FfHdycHBmZ250e4eWoKessbW2ub3Aw8bJzM/R09XX2d3f3+De3t3XzL2rmIR0bWVfXmpxeougtMbU297e1si1nINuX1lUTk5NUFtlfpOmt8bP0dHPycO7tK6po6GbkouIgnNrb2pmZmZnYWJpaWRkampjZHN6hJCWo662vcHEyM7T1Njc3+Hg2s+/q5mJeXBwbmxsbm5oaGhiVlZaWmRkYmhqc3l/io2MjpSXoKWiqrS8xcvNzcvDtKKRgHNrY2FiYmJiWVlfX2RkXV5sdHaKprvM197i5OXm5ubm5ubl4+Hc1MaxmH9oTENUU0lMV2F1jae8ytLV19bU087Gv7izsKyhmpmQhHtqZG1tZ2hrcn+KjpqprrC0uLu+wcPGy87S1NXY3N7f4d/g5OPh28/ArZiHd29oXV1ka3iLorjK2OLl4trMuKKKbmBUTkhISUxaZHSMo7jH0NTU0s7HwLiyrqmhm5iSg3t2b3NvYmFmZ2VmampgYGhoaGltdHeGmqeyub7Cx8vP09jc3uHi4d3SwKqaiX52bm1mZmFhaGhoVWVlXl5eX2NpbHWHjIuOkJKKjpSapq61vsbN0NHNxbajlIN6cmhmV1diYmdnZmZeXmRlbXV5jqa90Nvh5Ofp6enq6uno6efk39bItJuCa15UTEtQU15peJGpv87X3N7e3NjSyMC6tbOvqaOXjYN5cGtubWVmcnl6hpiiqrCzt7u+wcTIzM/S1djb3t7g4ePl5ufm5N3SwrCciXlvZ2BfZWt5jKS8z93n6+jg0bughGxdXFdWVUhLUlxtiKi7yNHX19XQy8W/ubCrp6CcloyFeXF3cmFgaGhmZmZmYWFqamFjdHuAjp2qs7vBxsnN0dba3uHk5uXg1cSvmYZ5cWVjb29tbWtra1RZWVhYWVpeZGx1goiIi4uNlZiXnaevtr/HztLSzsa5p5F/cmlnZWFhYGBaWl1dZGRiY2FpfpOpwNLd5Ofp6urq6uro6Ojm5eDXybOXh3FYT1FQTFBNWHSPq8LS297g393b1cvCvbexraihlImDeW1namllZmtxf4uVoauxt7q9wMLGyMzQ09fZ297h4+Tm5ufo6Obf1MSwm4Z0Zl5gX2Bne46lvtLh6u3s5NO9oINqW1lURUVNUVJddY6rvsvV2trX08zFwLqzraOcnJWOhnx1bWhkY2xsX19ra2lpZmZpanJ5g5GaqLG5wMXKztLW29/j5ufm4tfGsZqHd21wbmNjampnZ2dfW1thYVhZZGpkboOIio2Nj5SYnaOmrrS+ydDT1NDIuqiRf2NaYV9gX15eZ2djY19fYGFnb3+Tp8DS3uTo6erq6uvq6unp6OXh2cq1m4NrYFdGRU1QU15wjavD093h4+Hf3NXNxb64sq6noJmOgHZ2cWRjX2ByeXyJkp6pr7a6vMDCxcrN0dTX2d3f4uTl5+jp6urn4dXFs5+Hd2tkbGthaHSJpb/U4uvu7eXVvqGFcmJXUVNTTlJUYH6Vrr/M1trb2NTNxsG6trClnpiRiYJ7c2NeZWRtbVhYYGBeXmdnYmNfZnyLn6y0vMPHy8/S19zg5Ofo5+LXxrGgjntybmxtbWtra2trVllZXFxdXlddc3t8gn6BiIqNkZugqLC1vsfO09POxbikjXlnX2RjXV1dXWBgXl5XWFpbbHRyiqjA0t3k5+rr6+vq6urq6ejl4NnLtZl7YVVMT05GSVtmboysw9Pc4eLi4NzVzMO6tLKtp6CYjYR6dG9nZmBhbnR+i5OfqrGzt7y/wsXKzdDT19rd3+Hj5efo6enp5uDVxbOeg3FrY1VUWV92i6S/1OLq7ezk1b6kiWpaVlFNTEZJW2d5kai9ytTZ2tfSzcbBu7SupZ6ZkomCd29rZ2ZlYGBqamBgZ2dnZ2doc3p5iZqpt77CxsvP1Njc4eTo6Oji18exmIR4b2lnZGRoaGVlZVpdXWhoY2RpcGt0goiNkJCSkpaan6evtr/IztLSzsa3pZF/bmVxb25tY2NqamRkY2NbXGVtf5SrwdLd5ejq6+vr7Ovp6eno5uHZy7eeemFhWFJQTE9VYHGNrcTT3eDi4+Hc1czDvLaxrKSdl42GfGplaWleX3qBgY2Un6uxtrq9wcPGys7R1Njb3N7h4+bo6err6ujh1sazn4h4bWVeXWhve4+nv9Ph6+7t5dS9pIlyYU9KSkpSVV9sfpSnu8vU2NjX08zFvriyrKWfmZKNh3x1c29qaWtrb29xcWpqbW1kZW10f42eq7a9wsfKztLX29/k5+no49jGsZqGgHdwbnFxcXFvb29bWFhgYF5fW2JudnqBio2LjZCTlZqiqrS8wsnNzsnBtaSQfmZeXlxYWFpaXFxiYl9fWFlhaHSLqcDS3ePn6ero6Onp6ejo5+Xh18m1m4BoVk1JR0pOUFt1kKvC0drf4ODe2tLJv7exq6aelpSLfXNiXW5tX2Bxd3mGmKOpr7W5ur3DxsjLztHV2Nrd3+Li5Ofo6Ojm4NTEr5mCcGhgXFtlbHKHor3S4ent6+PTvaOIaVhVUEJCS09VYWyFo7fFztTV0MvGwLu0rqiloIuDiIN+eXBsZ2ZlZWBgb29bW2hoY2RhaHyLm6ixuL/EyMzQ1Njc4OPl5N7UxK+Xg3pxZWNmZmpqZ2dnXmJiXV1fX2dua3R+hIyPjY6Zm5mcm6KstbvBx8jEu6+fj39xaXVzXV1jY2VlYGBqamVmZm5/k6q/z9rj5ufo6urr6urp5uXk39fIspeBalNJSUhOUVJdbImrwc/Y3d/e29bOxLqyrKiko52PhntycW1fXmRlcXd/i5qjqa+0t7q9v8LHyszP1NfY2t3f4ePl5ubm493Swq+ajX9tZV1cYWh8j6W8z93l6enh0ryiiGdWWVRTU1NWYGx5jKCxvsfLy8jEvri0rqmjmZOPiYeDf3tzcGVkbW1tbWBgbm5paW5veH+KlZqmsre7wMLGzNDU2Nrd397a0cSzmol5cG5sa2thYWRjY1ZZWltbXV5pcHJ6foOMj4mKjo+TlJGXoKm0ur6+urKmln1rb2deXFtbX19dXVxcWVlXWGVtcoinvczY4OTm6Ofo6Ojl5OXj4dzTxrGXfmZORU5NR0pQW3WOqb/L1Nrb29jRx7yxqqSfm5OMh39/eWVhYWFoalVceoaTnqassLO1uL3AwsXJzM/R09XY293f4uPj4+DZzr6qlId4ZV5bWmJoan+etsnX4eXj3M25oYhsW1NOTExIS1Fca3+Xp7S9wcG/urawqKGemZONgXp6eHVycG1tbF5eXV1mZmFhampkZXB3fYqZo6ywsre7v8LGzNDU19bV0sq8qpeGdWxlY2ZmYWFsbGtZaGhcXFdYX2Zqc4GGjpCNj5OTk5OUmZ+nrrS2trOro5iCc3VuamhiYmdnbGxpaWNjYmNocHeLpbvM197i5OXn5+jo5uXl5ODb0sSxmYRuWVBRT05SUl14kKe8y9PY2djUzMG0qKCalZCLhYF8dXBvbV9fZGZtdH+KlqCnra+ytri8vb7BxsnJy9DT1Nfb3d7f4eHc1cu7p5N9bWNdYGBhZnWGmbDD0drf39nMuaONdWReWU5NWVxibXaGmaezvL/Avbm0r6WenpmTjYN9d3V4dnBtdHNzc21tcXFra2dnb3B9hJGamKClp6uvtLi7v8XIy87Qz8rDt6abjIF5cG5nZmxrbWxsXF5eUlNbXFphbXaCh4mLkZKWloyOl5ygqLC2uLi2rqOUjYFxaVZUZGRgYFhYXl5ra2VmYWhyh6W6y9bc4ePl5ufn5uXk4+Hd2NDCrpV+Z19VRkVDR0RPcIqlusjR1dfX08rAsqaemZSQjIZ9d3NvZGFpaGRlY2p6ho+apaqtsLO0tLW4u77BxMbJzdDU2Nvc3d7d29PHtqKMfG5lYltbWVtpe5Gou8jQ1tbRx7Whi29fX1pLSlRXXml4iZqqt8DDw8G9t7Ktp5uVl5GDfH56eHV6d21sa2tra2xsa2tubnBxaG+DjpafpaeqrrG1ur7Dx8nMzszIwrallIR8dHJwa2tra2xsbFpgYGFiYmRiaXiAhImKjYqLkJKXmZieqLC4vcDBvrernYl5e3RnZWFhW1tkZFtbYGBhYmNqgZOlusvW3ODi5Ofn6Ofm5eTi4NvRw6+XhnFcU1FQTlFUYHePp7vJ0dXW1tPNxLmup6Kcl5OMiYJ7dWxpZmVrbHl/eoWSnKesra+vr7GxtLe6vcDCw8jP1dfb3d7f39rTxrSdhXVnW1plZWFhZ3eMorPAytHV0se2n4h4aFtWVVRZXGJugpKjsr3FysrHw764sKmoop2YkoyCfX97dXJycW1tcHBtbW9vb290dnF4go2epaissbW5vcLGys7R1NXU0cm6qZaGhX5xb3Fxbm5tbGxWYWFgYFxeaW91fYOJj5GQkpSXmp6iqK+2vsTHx8O7rp2QgXNrZWNfX2JiZWVgYGVlaWpqcn+Sqb3N2N/j5ufm5uno6ejl5ODb0sWymnlgWlFHRkhMTVp0jqi9y9TY2trX0cq/trCqpqGZk46Gf3d2cm9ubW5tc4KMl6Clq7Cxsq+rqauusbS1t7zDy9LZ3eHi4uHe1sm2oYp2Z2RjY2NmZ2h5j6S3xM3U2NXLuaKLempfWlpaW15ib4CSpLXBys7PzsrEvrexrKejnpeRi4d9eX57dHNsbHBwcHBqanBwb3BqcISQnKaus7e8wsfJztLW2tzc29jOwK+hlHpyZWNycllZbW1sUGNkW1toamVrcHmHjI+RlZeYm5+jqa6zu8PIzM3Jwbanj313cGdmZ2diYmRkZGRoaGFiY2t+kqS8z9rg5Ofo6Onq6ujn5+bj39XHsph7Y1VMTk1RVF9re5SrwM/Y293e3NbPx763sq2poZuXj3pxc25vbm5vbHOEj5Oeq7Czs66po56hpairrbCxusfS2d/k5eTk4tvPvqSLf3FkX15eW193h5qvwtDX3d/az72mkXhoaGNdXF1haXaDlqi6yNDU1NLNyMK8trCqpJ6Zko2Ign57eHRzdnZxcXd3dnZyc3N0dnx+jJ6psbe8wcbKz9PX297h4eDd08Own4+De2xqcHBpaXFxcWBeX1paaGpnbnmBipCRlJaXlpmboKasucDHzdHRzcW3pZB+amJoZ2hnYWFgYGxsYGBpamRsfpKmvtHd4ubn6Orq6Ojp6Ofm4t7XybWdg2tXTU9OREdRXnOPrcPS2tze4N7Y0crBuLKppKWfmpGGfXBrZ2ZkZXF3foqWoaqwtbWwq6Whoqaqra+ytr/J1Nzi5efp6eXf0sKokIR0aWFkZF5lcYSdtsrY4ebm4NK+oYd3Z2BbVlVUV2Nwe5GpvMvU2dnW0cvFvriyrKKbm5SMhoWAd3RtbGtqbm5vb3BwdXV0dnqBiZWcqLa9wMXLz9LX2t7i5ebl4dbGspqHfXR2dG5ubGxtbWxdY2RpamVnbnV5goySlJaZm56ho6ersbvDyM/S09HIuaaRf25mYF5kY2lpb29oaG1tbW5udYKVrcHO2eLl6Onq6unp6enn5uPf2Mu1nIhyaF5OTE5RWml+lrDF09zh4+Lh29TMw764s66noJmPhnx5dG5tbm9wd36KnaeqsLe5trSwrrK1uLy+wcTK09vh5unq6urm4NTEtKKNfnJrZGNscoKTo7zS3+fr6uPWwaaOgHFoY2JiZWhfa4aarr/M1drb2dTOyMK8tK6po52WkYyFgHt4enlxcW1tcXFycnh4bW5tc4iVo665wMTIzNHV2t7i5ejs7ObbyrefjYR8eHaAgHFwb29uaGdoZWVkZmhvc3yHjZWYl5mbn6SoqrC6wsrR1NTRyLilkoB3b2hmY2NqamxsYmJjY2JjZGt8kKu/z9nf4uTl5ubl5eXl5eTg3NbJtp1+ZWBWT05KTVZleJOxxtTd4ePi4N3WzcS8ta2oqKGZj31yc25mZW1ubXR6h5ahpKu0t7e3uru9wMTHy83Q1drf5Ofq6+vq5+HWxrShi3x4cW1saG53i6O+0+Hp7Ozl1cCpk3VmYl1jY1ZZbHiDl7DBzdbc3NnVzcbBurWvqqSZkpGLhoFxbnRzfn51dXR0eHh0dGhpe4GMmKSvtb3Cx83R1trf4+Xo7Ovk2cu3oZB9dHFvbWxzc2tqal9lZlxcY2VscnR9jJKOkY2PoaSlqa60ucHK0NLS0ci6p5B9bmZxb2hoZWVkZGRkZmZfX2dvgJKlusvV2d3g4eLi4eHf3+Df3djSx7WeiHJmXFBOSExebHyWsMbT3OLj4uHd1s3DubKxraSdmI6Bd29qYWBkZWdueYWQnKass7a3uby/wsbLztDT1djd4eTn6uvq6ejh2Mm1o5GCfHVjY2pwcoeswtTi6u3t5tbBqJCBc2hjaGdcX297h5qtwM3W3d3Y08/Jwry3saegoJmLhIR/fHl5eXR0dXVzc25ucXF7fHh+kJukr7a9xcnM0Nbb3+Tn6uzr5drKtaSTfHN2dHBvenp2dXRdXl9iYmBiZ253gIaMkJOQkpaapqqqsLW+yM/T08/HuaaQfnFpYF5iYllZYWFTU2hoZWZpcHOHpLbCy9DU19jY2NjY2NfV1NTQysGynYRtXlRKSUxPVGKCmq3E1d3g4uHf29TMwrevraihm5KHgHZvaltbXF1obnWBjZihp62xsra6v8XJzdDT1tnc3uHi5Ofo6uro4tTFsZuShG1mbGtqcHyPqMDT4ejs6+PTvqaOemtlYGBgV1pjb36Uqr7M1dna2NTNx8C6tK6lnpuUjIaCfX98bm1vb3R0a2twcG5ub3Bxd4iVo661vMLGy8/U2Nzg5Ojo6OPYyLOikX93d3VjY21tb25taWZoZWVrbXJ3cXqIjo2Ql5mYnKeqq7G2v8bM0tLOxbilk4NpYWhmZWRnZ25ubGxqamhpbXSDkqCvucHHyszN0NDOzs3NzczIxMK7rZmHcl9VUlFQU19tgZmwxdLa3+Dh39rTyb+0qqahnZaKgHpwamdYWGFiX2RyfYeRl56kp6yyuL7Fy83Q0dTZ3N3g4+Xl5uno5d/UxbOhi3x2b2xsbHJ8j6m+0N7l6eff0b2mkHpsZWBbW2NmaXWFmK2+zdbZ2dfTzMW/ubSupZ+clY+KiYV5dnJyeXl3d25vdHRtbYCBdnyMl6Cqs7m/xMjN0dXa3uHk5uXh18ayoI+LhHVzdXR1dXBwb2JpamNkaGlgZXJ5houKjZOVl5qbn6iusbvEys7Py8O3pZODdm5nZWlpZ2dkZGZmY2NhYmlwdYafrba+xMjKzM3NzczLysvJxsK/uayZfmddU05NVVhgbn+XrsLP19vd3dvWz8a6rKGalZKLg3hrYWNiX19VVVlcbHZ3gY2TlpqdpLC5wcfLz9LU1dfb3t/h4+Xk4+Lb0MCumoh5a2RfX2Zsc4abtsjV3+Lg2M27oox/cWRgY2JhZHJ+h5mpu8rT1dbUz8nDu7SvqKSel5GKhYJ+dXJ3dnJyeHhycnp6enpyc3uBhZGapa2yt7zCx8vP0tba3eDf2tHDsZyLgnpycHV1cHBrampmZmdqamhpam51en2CjI6Mjo6RlZmiqa64w8nLzMnBs6KVh3t0amhmZWtrZWVwcGxsamptdH6Om6+9xs3R09TV1dbW1dTS0M7JxLywoIl1YFZMS1hbX22Al67AzdTY2tnX1M3DuKyim5aTjYR6dWxhYGJiW1tgYmdweH6Fio+Tlp6ptL3EyczQ0tLU2Nre4ODi4eHf2My8qZWEd25nYWBkanSFl67AzdbZ1s/FtaWUg3ZuaVxcZ2pveoeYqrrGztPT0MzIwr65sKunoZeRjIeBfX16e3t0dHh4e3uGhnt7fH15f4uVnKOsrrG1ub3Cx8vP09bX1tHJvq6bi4R8dXNwcHBwbGtqZWtscXJoaW9xdnl7gH6Ah4mPkZGVm6SuuMDFysvHv7Okk4V8dXBvcXFcXGdnb29ycm9wZ26Bkae3w8zT19vd3N3e3t3c2tjV0MvBsZ6Fb3FnSklWWWNxgpitvsvT1dbY1tLLw7qupaGdmJKFem9la2dmZmRlX2RzeXyAhIqNkJScp7K9xMjLzM/S1dbY2Nrd3t/f3NXJt5+JfG9hXGhoXF9sfJGktcLJzMrEvK+ZhoR3bmlsa2dqcXyImKq4xc3Q0M3Jxb+6ta6po52XkYyHgH13dHBve3t0dHx8e3t7e3l6d32QmJuhqKmprrW5vcHFyc7R0tHMxbuun5KIgXx6bWx2dX9+fWJnaWhoamppa2xwen9+gX+BhomIjZmiqLO+w8nKx7+yoox8eXFnZm1tZGRoaF9fZWVoaHR6gJGmuMfR19ze3+Dh4uHf3t7c2NPNwrKggGlhWFJRVFdgboaarL7J0dTV1dTPycG4sKmhnZWOiX96cGVgV1ZkZVtgbnZ8gYiNkZSXn6myusHFyMrMztDU1tnb3N3c3NvTxbKZgHJlY2FcXFVVY3SNnq26wMTEvrWqmIaBdGJeYmJjZW96hJWpuMPLz8/Lx8S/uLKspqSfkouMiISBfHlxcXJybm56em1tenp5enZ9i5WfpaeqrLG4vMDEyczQ09XTzse7q5iIhn58enV0aWlzcnFmXmBub3BwcHR2e32DkpSSlI6Rl5uorrK6wcfKysjAtKWViHVubWtkZHBwdHRpaW5uaGlsc4OUprrJ1N3h4uTm5ufm5eTh4NzX0MSznYl0bWNXVlhbZXKGmq/AzNTY2dnY0szFvbStq6ehnJaOfXRybWlpbG1rcXqCipCUmaGkpKqzur/EyMvNz9HT1tjc3t7f4ODb1Mq4pJB4amdiaGdcYGh5lqa1wsnMysS9sKGTf3Nva2dnaWxvepGerbrGztDQz8rFv7mzsayjnZqVjYiEgYaDenl/f3p6enp6eoGBe319g46Yo6musri9wMTKztDU2t3f3tfOv62fkYyGeXd2dnt7dHNyaW1vaGhyc3F2g4mJjpOWmJqanKSnrbK2vcTJzs7JwbWklIZ7dHJwbm5ubmlpampwcGtscXeHl6i9ztng5Obo6Ojo6Ofm5eTh3NTIt6SOeW1jW1lcX2JwhZuyw9DY293c29XOx764sq+rqKKTiYJ4bGdoaGprY2p7hZCYn6SqrbC0ur/BxsrNztHU1trc3d/i4+Pi4drNva6diXx7dFlZanB+jZ+yw8/V2dnSx7emloN2dHBycXBydH+Mm6y7yNDU1dLNyMK7tbGsq6acloqFioiFgn18fHyDg3x8g4OBgYCBgYeJlKausbe+w8fLz9TZ3d/i5ePf1cSyoZOIgH99d3eBgHx7emhtbm1udnh2fIOKkZaXmpWXnaCnqqyxt7/HzdDQzcW3pZKCgXtycGpqbGxkZGlpbm5tbWdueo6qv9Hc4+bn6Onp6uro5+bk5N/Wybijkn5pX1lYXF9ib4WcssXT2t7f393Z0snAvLavq6aglYqHfXFsXFxtbnl/c4CQmqSqsLO0uL7CyMzM0NTW2Nre4OHj5ebl5ePc0sOxn4t9e3Rzc3N5gZGjucvY4OPj3M68p5SMgGtnampnanR/ipqwv8rS19fV0MvFvriyrKiinJaLhouIfXp5eHt7g4N/f3x8gIF/gISKlp+rsre9wMXL0NTY3uLl6Ojn5NnKuKWWiIB5d3R0gIB7eXlmZ2lvcGxuaXCDi5CWlZijpaapr7Gvs7jAx83R0s/GuaeYinVubWxsbG1tZ2dhYWpqa2xyeH6RrcLS3ePm6erp6erp6uro5+bh2cy4oYlzZ11gX1daZ3WEnLPH09vg4eHf29TLw764sKyjnJuRhXtybGxsamxtdH+Kj5umrLO3uLvCxcfKztHT1tvd3+Hk5ufp5+bm4NTFt6eThnx1dXVyeIKTp77S3+Tn5+DSvqeSgHRybWtrbnBxfI2drr/M1dra2NPNx8C5tK6qpJWOi4aHhIB+dHR3d3d3eXl6enl5enuGjIyYprC4vsTJztPY3N/k6ezt7Ofcy7anmIF5gH53dnZ1bWxrZGJkZWZucHF4foeRl6KlnJ6kp6uurrK7wsjO0tPOxrikk4J5c2ZkampoaGpqbGxtbW5vanB/kqfA0t3k5+nq6urq6urq6Ofl4NjMuqSRfWJYXFtYW2d0hp22ydXd4eLi4dzVzMO7ta+qqKKZj390aGNramhpa3J+ipSfqK6zt7y/w8bJzdDT1tjb3eHj5Obo6enp6OLWyLmqkoN7dHBwb3WJmqvC1eLp7Ovj1cGqloJ2ZmFnZ25wbHaImq7Azdbb29nUzMXAubSup6GTjIyIg4B6eHZ1enp6enx8d3d2doGCf4WNmaOutb3HzM/U1tvi5+rt7u3o3c66pJOBeHt4cnJycnRzcm1tcGxsen2Aho2Vm6GjpqusrK+vsra5vcPK0NTV0sm8rJiJgXp+fHFxdXVzc3p6bW1xcnl/jJyxxNLd5uno6erq6+vr6urp5+Lazr2pnYtrYWxqY2Zyf4KbusvX3uLk5OLe183EwLqzrqulnZSPh314cG91dmduhJCapK+0t7u9wMTHy87R1djb3d/h5Ofp6err6+nj2Mm6q56SiIF5eXyCiJmxxdbj7O/t5dbCtKaMgHRwampzdn2Hk6Kzws/Y3Nzb1s7Hw722sKmin5mUkI2LiIaBgIWFhYWHh4eHgICEhY2TlqCttbnAyM3R1tvg5ens7/Hw6+DOuaOSiYKEgn19d3d2dHNkbXBsbGhqcnmHkJCWn6Khoqirra+vsrrBytDS083FuaeWhoB5cG5ubmRkbGxpaXBwbm90eoeZrcLR3OLm6erq6urq6enp6OTg2c28qIx3aF9iYFdaY3CDnLbJ1d3i4+Lg3NXNxLqzr6qnoZaMiH52cWdmZGVtc4KOlqCpr7W5vcDDxsnMz9PV19ve4ePj5efo6unn4dbIuKeZi312e3ppb4SWrcPV4urt6+PVwauXiX5zb19eb3F5g5Wjr8DN1trb19LOyMG7ta+ooZmSiYSDgXx6dHN/f3Nze3t+fnx8i4x9g4+ap7G5wcfM0dXa3+Pn7O/x8OrezLSikIiBenh1dHV0cW9uZm5xcXJtb3yDgouYnpuepqiqrautr7K4v8fN0dLNxbekm41vaG1rdXRubmxscXFzc2ZnbnSElqrA0Nvh5Ofp6enp6efm5uXk39fLuaOQfHRrYWBbXmp4g5y3ydTb3+Hg3trUzMS7tbGspp+Vi4d9cm1sa2tsc3l3hJqjqa+2ubu+wcTFyM7R09bY297g4uTl5+fm493Vx7ipmo19dnZ2c3iQn6vB0+Dn6ujh07+mkIN4dnJwcG1veoSImay9ytPX2NbSzcfAubKsqKGblYyHgoCEgoSEfHx1dYCBg4ODhISFg4mVn6extb3FytDU2d7j6Ovu8O/p3cy3opCDe3x6c3N6eX18e2RnaWtsYWN/hoOMnaKfoqSlpKevsLCyuL7Dyc3NysK2ppSFgXt2dXJyaWl0dG5ucXFub251hJWtv87Z3uLl5uXl5eXk5OTi4NzVyrupjXhpYGFgY2Zpd5Klt8fT2d3e3dvVzsjAubOvqqCZlo2CeHl0aGdoaXJ4foqUnqitsrW4vL3AxMfJzM7Q1dfa3d7g3+Di4uDa0MO2qJGEg3xxcHl/e42pvs7a4uXm3s+8o499cnl2bm5maHN8i5qqucfP09PRzsjCvbazrqWfoJqKhYuJhYR1dX5+h4d+fnt7f3+AgX+Fkpyjrbi/xcrP09ne4ebr7u7t6N3LtaKSgXl8eXp5eXh4d3ZnbnFra3N1foWJkZSaoKOkpqKjqamsrbC2vcPGxsS9saKViHZvbmxsbGlpbm5wcHNzaWl3fYCRpLnJ09nd4OLi4uTj4ODd29vWz8W3pJJ/a2JdW15hb32MobfFzdPW19jX08zDurCqqKOfmZaPgnlvamppdHZudHuGmKCkqa2xtLe6vL/Bw8bIys7Q0tTX2dna29vZ1Mu+rZyPgnpzZ2ZrcYGQo7fH09ve3dXFsp6Me3BmY2pqYmVncYOSpLO+x8vLysjFwbqzsKuknpiSi4eAfX17fn1+foCAeXl9fXFxdnd3fZGbpK22vcPIzNDX3ODk5+rr6uXaybWgkIeAd3V1dHZ2dXNyZ3R3dHR2eXuCiJGan6Gkp6isq6mnpqeorrW6vr+7tambjoKAenl3cHB0dHJyb291dXBxcniAkKS1wMnT19fY29vc3NrZ2NfU0MrCtqeUgnZsZGNpbW58lKW0wcnO0dLRz8zGvrevqqejnpmUjYR8c25oZ2Vmcnh+iJOboaaprbCztre5ubq8wMLEx8nLzc/R0tLSz8rCtqeYk4p7dGZmcHZ8iputu8fP09HJu6iWhXxxb2tjY1habXdvgZintLzAwMHBv725tK+qo52Ujo2Kh4aHhYGBgoJ7e319eXmDg4CBgIaWnqWttLvBxsvQ1dne4uTn6+nj18Wwp5qOh4F/g4J8e3Z0c2ZmaWxtam13fouTjpSeoKaloZ6empmZm6Gnra+wrqiimY+GbGVsa2trb29vb2pqcnJ1dXyBfYyfr7rCys7R09PU1NTT0tHPy8bDvbCij31pYGBfZGhue4mdrrvEyMnKysnFv7avqKKbl5WQhn52bm5pb25UVWtxeoOPlpmdoKSorK6vr62vsrS2uby+wMLDx8jIyMXBuq2fj3ltZV9OTV5jdIGPobG9wsXFva6ciHVuY1ZSUlJcXmJrbn2MnKevtLS3urq5ubWrpqOdlY+KhoSCe3l+fXV1enqAgH9/dHR5eoWLkZqkrLK5v8TKztTZ3uLk5+jm4dbGs56Ohn97eXt7fX1zcXBhdnh2d3d5d36TmqClmp2qqKKcmZKMjZCVm6ClpaOempWQi395e3l9fXJydnZ6enFxfX15fo2YpLG8xczQ0dLU1dbV1NPS0M7JxL2ypZeHcWhsa19iZnOYp6+6wMLDxMXEvbexqqSfnZmRjYN8fHVuamBfZGVrcXmCho6UmJ6hoqetr6+vsLO2uLq9wMLExsnKyMfGw7uvoJF9cWljY2NnbXeEkqKwvMTHxb6wn45/c2hcWVdWXF5gaXWCkp6nr7W2t7q7u7m1raeinJaQkIyLioKAhISFhYGBe3uAgIaGf4CBh5Sdpa21u8HGy8/U2d7i5uno5+PXx7ahk42GhIJ9fX9+gX9+cnV3cnN7fX2EjpaXnaeqrKqinZSOjY6Rlp2jpqeloJ2YkYuCfXl3e3tycnR0dXV3d3h5dXuMmaa2w83U2Nrc3N3d3NrZ2dfV0MrCtqedjXlvcG9sb3aDmKiyvcTGxsfHxcG7tK2knpyYlZGKhIB5bmlmZWNka3F7g4uSlpuanqWqrrO3uLq9wMPFx8nLztDR0tXV0s7Et6iZin9+eHFwc3mAjZ6uvsrQ09HJvayYiH90aWViYmFjaHJ7iZyptLzBwsLCwL26tbCrpZ+clo6Kh4WFg4aGh4eFhYGBiYmDg3+AiY+aoqavt73FyczR2Nzf5Obo6unl2sezn4+blYB+fXx3doSCgWlzdnNzeHp+hY2Vm6Cnqainn52jn5man6Wtsra3tK6lmpCGeXR0c3p5b292dnl5eXlxcnN4hpWpu8vV2t7g4uLj4+Pi4eDf3NjQxrimnYx9dGxram1zgIqgtcLJzNHS0M/Lxb21rqmjnp6ZjIWHgHp1a2ptbmNpgImPlp+jpairsLe7v8HEx8rMz9HT1tja29zd3NrVy7+ypJOIeXJxcG50ipikuMfT297e1sazoY9+c21pZ2dvcm12hJOmtL/Iy8zLycbCvLaxq6KcmpSMiI2MfnyCgnt7g4N/f4CAgIB/gIySkpyrsri+xMnP09fc4ubp7Ozr59zMuambhn+Egn59gH9+fHtuc3ZzdHt9d36QmJqgpqmtra2trqyqq62zub/ExMK6r6KXjIJ8goB1dXNzfHx7e3R0hIV4fomYrsDP2d/j5ufn5+Xl5ubk4+Ld1sy8qqOUfnVmZHh7eoearLzJ0tfY2tnY0szFvbSupqKkn5eQjIV+enl4dndtc4SOmaCmq66ytLi9wcTHy8/P0tXX2dve4OLj5eXi3NLFt6mThn53enl+hI+dr8DP2+Pn5N3Pu6WRgnd1cWpqcXR1f4aWqbnH0NTU0s/Kxb64sKqrpZmSi4eHhH58iIeEhIaGh4eMjIKCfn+AhpykrLS6wcbL0tbZ3uPo7O/w7+rezrysno+Jf32BgH18fHp4am1vdndwc3N6kZmYn6Snpaaoqq2tra+yucHHy8zJwbOjm5CBe25tdnZqanV1d3d2dnp7dnuImarA0Nvi5efo6Ojp6ebl6Ofk4NjNvKiWg3VsZ2ZtcHF+mqy6ytTa3d7d3NjRycG5s6ynopyak4mBdXBpaGprdXuGkJmhq7Czt7q9vcHGyc/S0tXY297g4uTl5ubl5N7UxrqskIF3cHp5eX+Jma7D1ODo6+nh07+nkoZ7dHBpaXFzdX+Onay9ytPY2NXRzMbAubWvqKGblY6Kh4WHhX9/dnZ+fn5+e3t/gIaHgoiQm6CsuL/GzNHV2t/k6e3w8O/r4M65pZWDe4aEeXh+fW9tbG51eHx9eHqCiIWOnqSkp6Gjra+xsrS1t77IztHSzsa4qJ2Se3VzcnBweHh6enh4enp5eoGGhZevw9Ld5enr7Onp6+vr6urp5+Paz8Cumod6cWlobHB+i4ujvczX3eDi4d/b1MzDu7W0r6qmn5mVjoN+cXB5e3l/kpugp6ius7e9wMPGys3R1NbY297i5OXn5+jq6ufh18m6qpyQhX5/foGGmqe2x9fj6+7t5dbCrp2QhXp2cXFydYGKkqGwwM3W2trY08/Jwbu3sqyml5CMh46Nf31+fYaGeXmAgISFfn6Gh4eNlaClr73EyM7T19zh5urv8vPy6+DPuqaViYJ9e4CAe3p6eHZrcXNvcH+BgYiQmJiepqmoqrS2srS1t7zCytDS09DHuKWbjoN+dHN8fH19fX17e3Z2enpzeI6ercPT3uXp6+zr6+rp6+vq6ebi2s68ppqIfXRqaWJleISSqL/N2N/i4+Lh29XOxb23s66ppJuUkouDfn9+enuEioaRmqKrsLG1vcDDx8rN0dTY2t3f4uTk5unq6urp4tfJvK+glIV+fHt6gJCgssbY5Ort7ubYxKmTiX51cW1sb3J3gJGhssHO193e2NTQycK7t7Gqo52WkY2GhImHhISIiIeHg4OCgn9/iImDiZWgqLK4v8fN09jb4OXq7vH08+3h0LysnY6HfHp8e4SDfHp5cGFkcnNtcH+GiJGboZ+ip6mxs7K0tbe9xMnP09TRyLqol4iCfX18cnJubnR0dnZvb4CBeoCIma/D093j5+vr6uns7Ojo6Ofl4dzQv6yYhXVsbWxscHWCkKa6y9je4uPj4d3XzcS9t7GspqGemI+HhoJ5eHl6eH6Jk5ykrbG0uLzAwsXJzdDT19rc3uDi4+Xp6uzr5uDWybemnZGJg39+gIaOnrHG1uLr7u3l18KsmYN4enZvb25weoORoK/Aztfb29nU0MnBurawqKGZko2JhIKDgXx8hoZ7e39/fX2EhH5/f4WPmquzusHIzdLX2t/k6e7x8fDr4M63p5eIgX99f39+fnZ0c3Fzdnx9dHd2fYmSoaekp62vs7W2uLe4usHK0NTV0sm9rp2Rg352dYGBfHyEhHp6dXV6em5zgZSwxNPe5unq6urq7Ozs7Ono5+Pc0MCuoI91bG5tb3KDkJWpvMzX3uPk5ePd1s7Fvri1sKunpJ+Wj4mFh4aAgXyCk5yjqa+ztLi7vsLFyczP09bY297h4+Lk5+jq6uTe18q8rp+TjIV+fX2DiZq2x9nl7O/t5dfDqpSMgXVxamp1eHZ/lqSxwczV3Nza1s7Hxb+2sKukmpOTj4uJfHqBgIaGfX15eXx8gYGHiISKjZmlsLnAx8zR1trf4+jt8PLx7OHPuqmalI2DgYWFf35zcXBuYWRxcnN1dXyJkpmfpKefoa6xtLW1t7zCyM7U1NDHuqmUhXx2c3FxcX19gIB4eHR0d3h7gIubr8PT3uTo6Onq6urq6enr6ubh2s+/q5eEdWxubWxvdIGTqL3N197h4+Lh3dbNxL+5tLCnop2XlI1/e4aFg4R+hI2XoaetsLa4ur2/w8bJzdDT1tja3uDh4+Xm5+fk3tPHuaqZjIR9dXSAhYaXp8LW4uns7OTVwaqWgHV2cnp5ZGZ0fYubr8DM1dvb2NTNx8K7s6yooZuVjYiIhnt5fHt2dnV1dnZ5eX5+fX6Bh5KdqLG2vcTJztLX3OHm6u3u7enezbijkoeAeXeAgHt6fHp4dnZ4dXaEhoCHkpqiqKyvsbOztbW2ubq+xMvR1NTQyLusoZaDfoOCe3t+fomJenp8fHd3hoyRn6/D1N/l6Orr6urr6+rq6ejm4tvQxLaah4R7c3J8f3qHlanC0Nng4+Xk4t3Xz8a/ubSvrqqmopmSi4aIiIWGiY6Smqesr7K0tra5vL/Ex8rN0NLV2Nvd4OLj5OXl4tzRxruvo5iOiIKCh4yYprfG1+Pp7Orj1MGtnJSJeXVvbmhpgImTobG/zNXb29fUzsnFv7iyq6Sak5WRiYeDgYaGgYGOjoCAhYWEhIaHi5GXoKyzt7zBxszQ1tvf4+fr7ezm3M26q52XkYiGhoWAf4OBgG1qbXV2dXd1fIqSmqGqrLCxqq2ys7Gzt77GzM/Pz8a4p5KDe3V5d3V0enp3d3h4cXF1dX+EiJmuwtPd4uXn6Ovr6urp6eno5eHaz76qlIB7cmdmam1xfZerucvZ3+Hi5OLd1s7GvbeyraumnZeXkYaCe3p8fXV7jpegpqaoqKmsr7O3vMDCxcnMztHT1dnb2drc29rUy8G3q5eKi4SAgHyCjpyywc/b4+bj28+9qpiEeXBsZmRmZ3B5hpanucbP09TSz83Iwbu1r6mil5CNiYqIg4GDg39/e3t/f3x8gIB6e36ElZ+hqrW5vMHGy9HV2t/j5ufm4djKt6eZh3+CgHl5eHd3dXRvbnFyc3l7fIOLk56jpqmsrayutLOys7e9xMrNzsnBtaaViIF7dHJ0c3R0dnZ1dWhoeHlxdoiYrcHR3OLm5+jo6Ofn6Ofn5uLe1827paCOfHNoZ2xvfIiUqb3N2N/i4+Ph39jOxr23sa2oo5yXm5WBfIOCfX6EipKboaWoqKmoqayvsrS3u7/Aw8jKy83P0dTV1dXTzcW9sqebj4F6hYSGi4qYsb3I093g39fKuamZi4F0cHJvZ2ZweX6PobLBys7Pz87JxcC5tK6qpJyVjYiGhIWDeHd8fIWFdnaBgYKDeHl/hY6Zo6yzuLvAx8zQ1dre4uXl5OLZyrihkIZ/fXt6eXh3cW9ub3BzdHV7fX6FkZmeo6aprK6wsbCvrKywt7/FyMnHv7KkmI2FgHh3d3Z5eX5+eHh2dnl6fIGMm6i9ztjd4ePk5eXk5OTk4+Lf29bMv7CejHhweXhxdICNm62+zdjf4uPj4d7XzcS+uLKuqaWfmpiRi4aHhoiJhImUnKKmrKuko6irrrG1uLu/wsTGyc3Pz9HT1NTU083Du7KooJWCfIGAhImVoKe4xtHZ3NvUyLiomYZ8fXhva1xZYmx/jZ2suMHGx8jJyMbCvbawpZ2blJOPiYeAfnx7g4N+fn19goJ8fISFgIaSnaiwtrvBxsvP1Nne4ubp6+rm3cy6pZWPiIF/gYF9fHd1dG1tcG9weXt6gY+XnaOoq62vtbSvq6WlqbC5v8HCvrarnZmQiIN9fH5+amp7e319fHx9fXuAjZuqu8rT2Nve3+Dg3t7f3t7d29fQyMG2nIt3b21sZ2p4hZSpvMzZ4OPk5OLd187Fvri2sayooZyYko2Jf36BgoGHjZejqKusq6yvsrO3u7/Ex8vNztDT1dja29zd3NnTzcO2qZ+UhH57enyCg5Kru8rV3eDe1su6pJGCd3NuZmFqZ2hxfIudrLnCxMXIycjGwLq2sKmjmZKQi4mGhYN+fYKCgoKBgX5+fX17fIOJjpqmsLe9xcrN0tba4OXp7O7t6N7NuKiZj4lzcXd3e3pycG9veXxzdG1wf4aOl56jpqmvsK6urKmmpquxub/AwcC4rJ+TiIN/bm14eHt7fX17e3h4eHl8go2aqLjEzNHV2NnZ2NnZ2NjW1dTQzca6qpuJfHNnZnJ1d4STqL7N2N/i4+Ph3tfNxcC6saysqailnpiPi4WEiImOlJefpKmwsrO1tbi9wMPHys7S1NXX2dzd3uLj5OTh29LGtqeqoIuEf36Fi42crcDQ3OTn5t7PvaWQh3x/enRxZGNkboKSpLPBys7Oz87LyMG6trCmn5+YkIyKiIeFiYiFhYSEgoKBgX1+fH2AhpmiqLG5v8XKz9PZ3uPn6+7w7+rgzrupmouEg4GCgYB/d3Z0a2xvcnNtb2pxg4yaoKapqKqwsbCvrKywt7zCyMnFvLChkYN6dHd2c3Nycn19eHhtbXJzcXaKmKW3wsvT1tbX2NjY19fW1tXV0cvFu6ybiW9mZ2ZxdHF+l6u7zNjf4uPj4d3WzcS+uLKuqKSfm5yWiIN4eIGCiY6ZoKCmq66ws7i7vsHHyszQ09bZ293f4uTk5efm5N7Txrion5OFfnt6eX+Kmq/D0t7n6unh07+qloB1bmlmZWhpZW+Lmqi5xc7V1dLQy8bBu7exqKGclYmEiYaBf4CAgYGAgH9/enp6eoCBf4WTnqqzt7/Gy9DU2t/i5+vu7+7p3s24oY+MhXl3fHx5eXt5eHptcH+AgYOGjZKaoaeoqrGytLW2trK0ur/Fy8/QzMS4qp2RiIN9fH19dnaAgH9/hYV8fX+Fi5mvvsvV2t7g4eHh4eHf39/e29fSyr+xoI97cmxrdHd4hZ+xwM/Z4OTl5ePf2NDHvbe0r66rp6SnopWRlJOOj5abmaCvsbG1t7rAwsXIyc3Q1Nfa3d/h4+Tm6err6+ni2Mu+sZ2QkImCgoiNk6K1x9fj7O/t5dbCrpuDeH15dnV+gHZ/lqOywM7X2trY1NDKxL68tq6oopyVkY+OjYyNjYuKe3uLi4aGiIiQkYKInKWpsrnByc7S19zg5ert8PDv7ODQvaqbjYaIhoKBf359e3l4dniAgYSGh46Xn6SqrK+xs7W3vLy4ub/FzNLU1dTLv7Gjl5OOjYuBgYGBiIiBgYKChIV9go6dssTT3ePm6Onp6eno6Ojp6OTg2tDDspmFgnl4d3Z5fouhs8LR3uTm6Ofl4tvTy8S/t7Oxrqmmo56RjZWUjI2YnaSqr7K1ub7BwMPJzM3R1tnc3+Hj5ujq7O7v8PDt593Qvq+roJCJhoaHjJSku8zd6u/z8enaxrSjin9+en9+fH59h5uptcTR2t7f3tnUzsW+vLawqaehlZGLiYqJh4aLi46OiYmNjY2Nj5CKkJmjsLjBx8zR1dng5ent8PP19O7j08GsnZGLjoyEg4mIhYOCfHJ1c3N+gHuClp6jqautsLK0t7e5vb/ByNHX2tvY0MKyn5GCfXx6fn55eX19eXl4eIOEfIGPoLLI2OPp7O7u7+/v7u7u7u3r59/UxbGbh4J5cnFzdoKPkqrC09/m6err6eXe1s3Evbizsq+qp5yVkYyWlYyNkZejqqywtbm8wMTIys3R1dnc3+Ll5+ns6+3x8vLx8Orf0sCvnI6IgX59i5CYqLjO3+zz9vXt3ci2o5SJgHxzcnh6foeQobnJ1d7j4+Hd1tDJwr23tK6dlZKOjIqIhoeHfn6Hh4WFiIiEhH+Ahoybpq+5wcjQ1djd4ebq7vL1+Pfx5tXBrZ2MhI2Lf36Eg3l3dnx7foSFgoWHjpegqa+1t7i6t7rAwcDCy9HW3N/g3dXJuqSWiYSNjIuLhoaEhH19gICKi4aLlqbA0d/q7/L29/b29fX19PTz8u3m2829q5qFfHl4eHuCj5uxytnk6+/w7+3n4NrRy8XAu7Ovsa6rpqGdlZSZmpuhrbOxtbe7w8fIzNHU1tnd4OPm6evu8PL09vf39/Ls5NbJu6yglo+DgoWLn6/B1OXy+fz48ePOu6iZjoF9fn17fXyFmKm9zdrj6Onl4dzV0MrBu7StpZ6YlJWTiIaHhoGBkZGNjY6OiIiHiJCWnKe3wMbN09jd4ebq7/P3+/z79uvax7KjlY6PjYyLi4qHhYN+fH58fYKElZyhqaqwtri9v73Ax8jHyc7U2d/k5OHZzLyjk4iChYODg4yMjY2Li4eHh4iMkpeovtLi7PT3+vv7+/r6+/r49/Xw6d7QvaGMiYB8e3h7ipekucvc5+7y8/Lx7ebe1czGwLu5trWyqqSemqGgmpudo6mwtrq+wcbKzM/U19re4OPo6+zv8vT19/r7+/r38ejay72pnJSOiIeMkpuswNbo9fz//vbl0LynnJGGgn5+hIaHkZqrwNHe5+zt6eTf2NHLxsC6s6Wem5eYlpCOkZCQkIKCioqOjo2NkJGWnKWvucLIz9fc4OTp7vH1+v3///rv3ciyoZSNkZCJiI+OfHp5dYGDh4iFh4KJmqOqsLS3v8G+wcTGyMrO1d3j5+fj2868p5ePiYGAiIiKioGBh4eEhI6OhYqdrsHW5/H3+v3+/v79/fz8/fz49O7j08CrmId+e3p/g4iVp7vP3+zy9vf29O/p4dnPycK9vbq5trCrp6OVlJiZoKWutbi8vsLHy9DU1tnd4OPm6u3v8vP19/n9/v7++/Xq3c2+sKOWj4+Ol52VqMHZ6/f+///46tbBrpmOfHiAf4GEhI2gscPU4Onw8O3o49zVzsbAurOpoaOflJKVk42Ml5aXl5OTj4+UlIyOl52kr7bBzdTY3ePn6/D2+v7////67uDLuKiblI6NhoWNjJKQj4GFh4GCiIqPlqOrq7K5vL/ByszHyMfJz9bf5enp5d3PvrCjjoiJh4uLjIyKipCQk5OLjJKXobHC1+jz+f38/f////79/f38+/fv49XErpuUi4mIgIOJlqi90eHt8/X2+Pby6+HY083IxL66t7S3s6WhoaCQkaitqbG8v8XJyMzT1tjb3uLm6e3v8fT2+Pr8/v////v17N/QwraqoJmZmJCWmavE2uz5////+uvWvqmflImFh4eGiIyVq7nF1ePs8fHv6uLc2dTHwb+5rqemopyamJaVlY6Ojo6YmJeXkJCWmJ6kp7K4ws3U29/k6O7z9/v+/////fLhzriopp+Rj5WVk5KMi4mHfoCLjIeJjpWpsKyyt7q7vcPGxsjLzdDX3+Xn6OXd0MCsnZGMkZCNjYuLjo6Li4WFiImOlJ+vwdbn8vn8/f7///////78+/z48OTVxLCekomHhoCDi5eqvtHh6/H2+PXz8erj29TOyMTBvri1tK+rp6OioKGnrK+2ub2/w8jL0tXX2t7i5Ojr7vDy9/n7/f3+///99u3fzbyypZmTmJihp6Gyx9vt+f////nr18CtpJmFgYSEi42Nl6e2xdXk7fDw7unk3tfRycO+uLKsqKSdm5WTlpWTk5aWmZmTk5iYj5CYnqOuucPM09rf4ufr8PX6/f////zx4c22ppmRkpGMjJCQj46M');var L='44015444025645045745055946075a46085c460a5d460b5e470d60470e6147106347116447136548146748166848176948186a481a6c481b6d481c6e481d6f481f70482071482173482374482475482576482677482878482979472a7a472c7a472d7b472e7c472f7d46307e46327e46337f463480453581453781453882443983443a83443b84433d84433e85423f854240864241864142874144874045884046883f47883f48893e49893e4a893e4c8a3d4d8a3d4e8a3c4f8a3c508b3b518b3b528b3a538b3a548c39558c39568c38588c38598c375a8c375b8d365c8d365d8d355e8d355f8d34608d34618d33628d33638d32648e32658e31668e31678e31688e30698e306a8e2f6b8e2f6c8e2e6d8e2e6e8e2e6f8e2d708e2d718e2c718e2c728e2c738e2b748e2b758e2a768e2a778e2a788e29798e297a8e297b8e287c8e287d8e277e8e277f8e27808e26818e26828e26828e25838e25848e25858e24868e24878e23888e23898e238a8d228b8d228c8d228d8d218e8d218f8d21908d21918c20928c20928c20938c1f948c1f958b1f968b1f978b1f988b1f998a1f9a8a1e9b8a1e9c891e9d891f9e891f9f881fa0881fa1881fa1871fa28720a38620a48621a58521a68522a78522a88423a98324aa8325ab8225ac8226ad8127ad8128ae8029af7f2ab07f2cb17e2db27d2eb37c2fb47c31b57b32b67a34b67935b77937b87838b9773aba763bbb753dbc743fbc7340bd7242be7144bf7046c06f48c16e4ac16d4cc26c4ec36b50c46a52c56954c56856c66758c7655ac8645cc8635ec96260ca6063cb5f65cb5e67cc5c69cd5b6ccd5a6ece5870cf5773d05675d05477d1537ad1517cd2507fd34e81d34d84d44b86d54989d5488bd6468ed64590d74393d74195d84098d83e9bd93c9dd93ba0da39a2da37a5db36a8db34aadc32addc30b0dd2fb2dd2db5de2bb8de29bade28bddf26c0df25c2df23c5e021c8e020cae11fcde11dd0e11cd2e21bd5e21ad8e219dae319dde318dfe318e2e418e5e419e7e419eae51aece51befe51cf1e51df4e61ef6e620f8e621fbe723fde725';var lut=new Uint8Array(768);for(var i=0;i<768;i++)lut[i]=parseInt(L.substr(i*2,2),16);var im=x2.createImageData(W,H),d=im.data;for(var y=0;y<H;y++){var r=(y>>1)*GW;for(var x=0;x<W;x++){var g=x/4,i0=g|0,f=g-i0;if(i0>=GW-1){i0=GW-2;f=1;}var v=b.charCodeAt(r+i0)*(1-f)+b.charCodeAt(r+i0+1)*f;var q=Math.round(v)*3,k=(y*W+x)*4;d[k]=lut[q];d[k+1]=lut[q+1];d[k+2]=lut[q+2];d[k+3]=255;}}x2.putImageData(im,0,0);})();</script></body></html>
